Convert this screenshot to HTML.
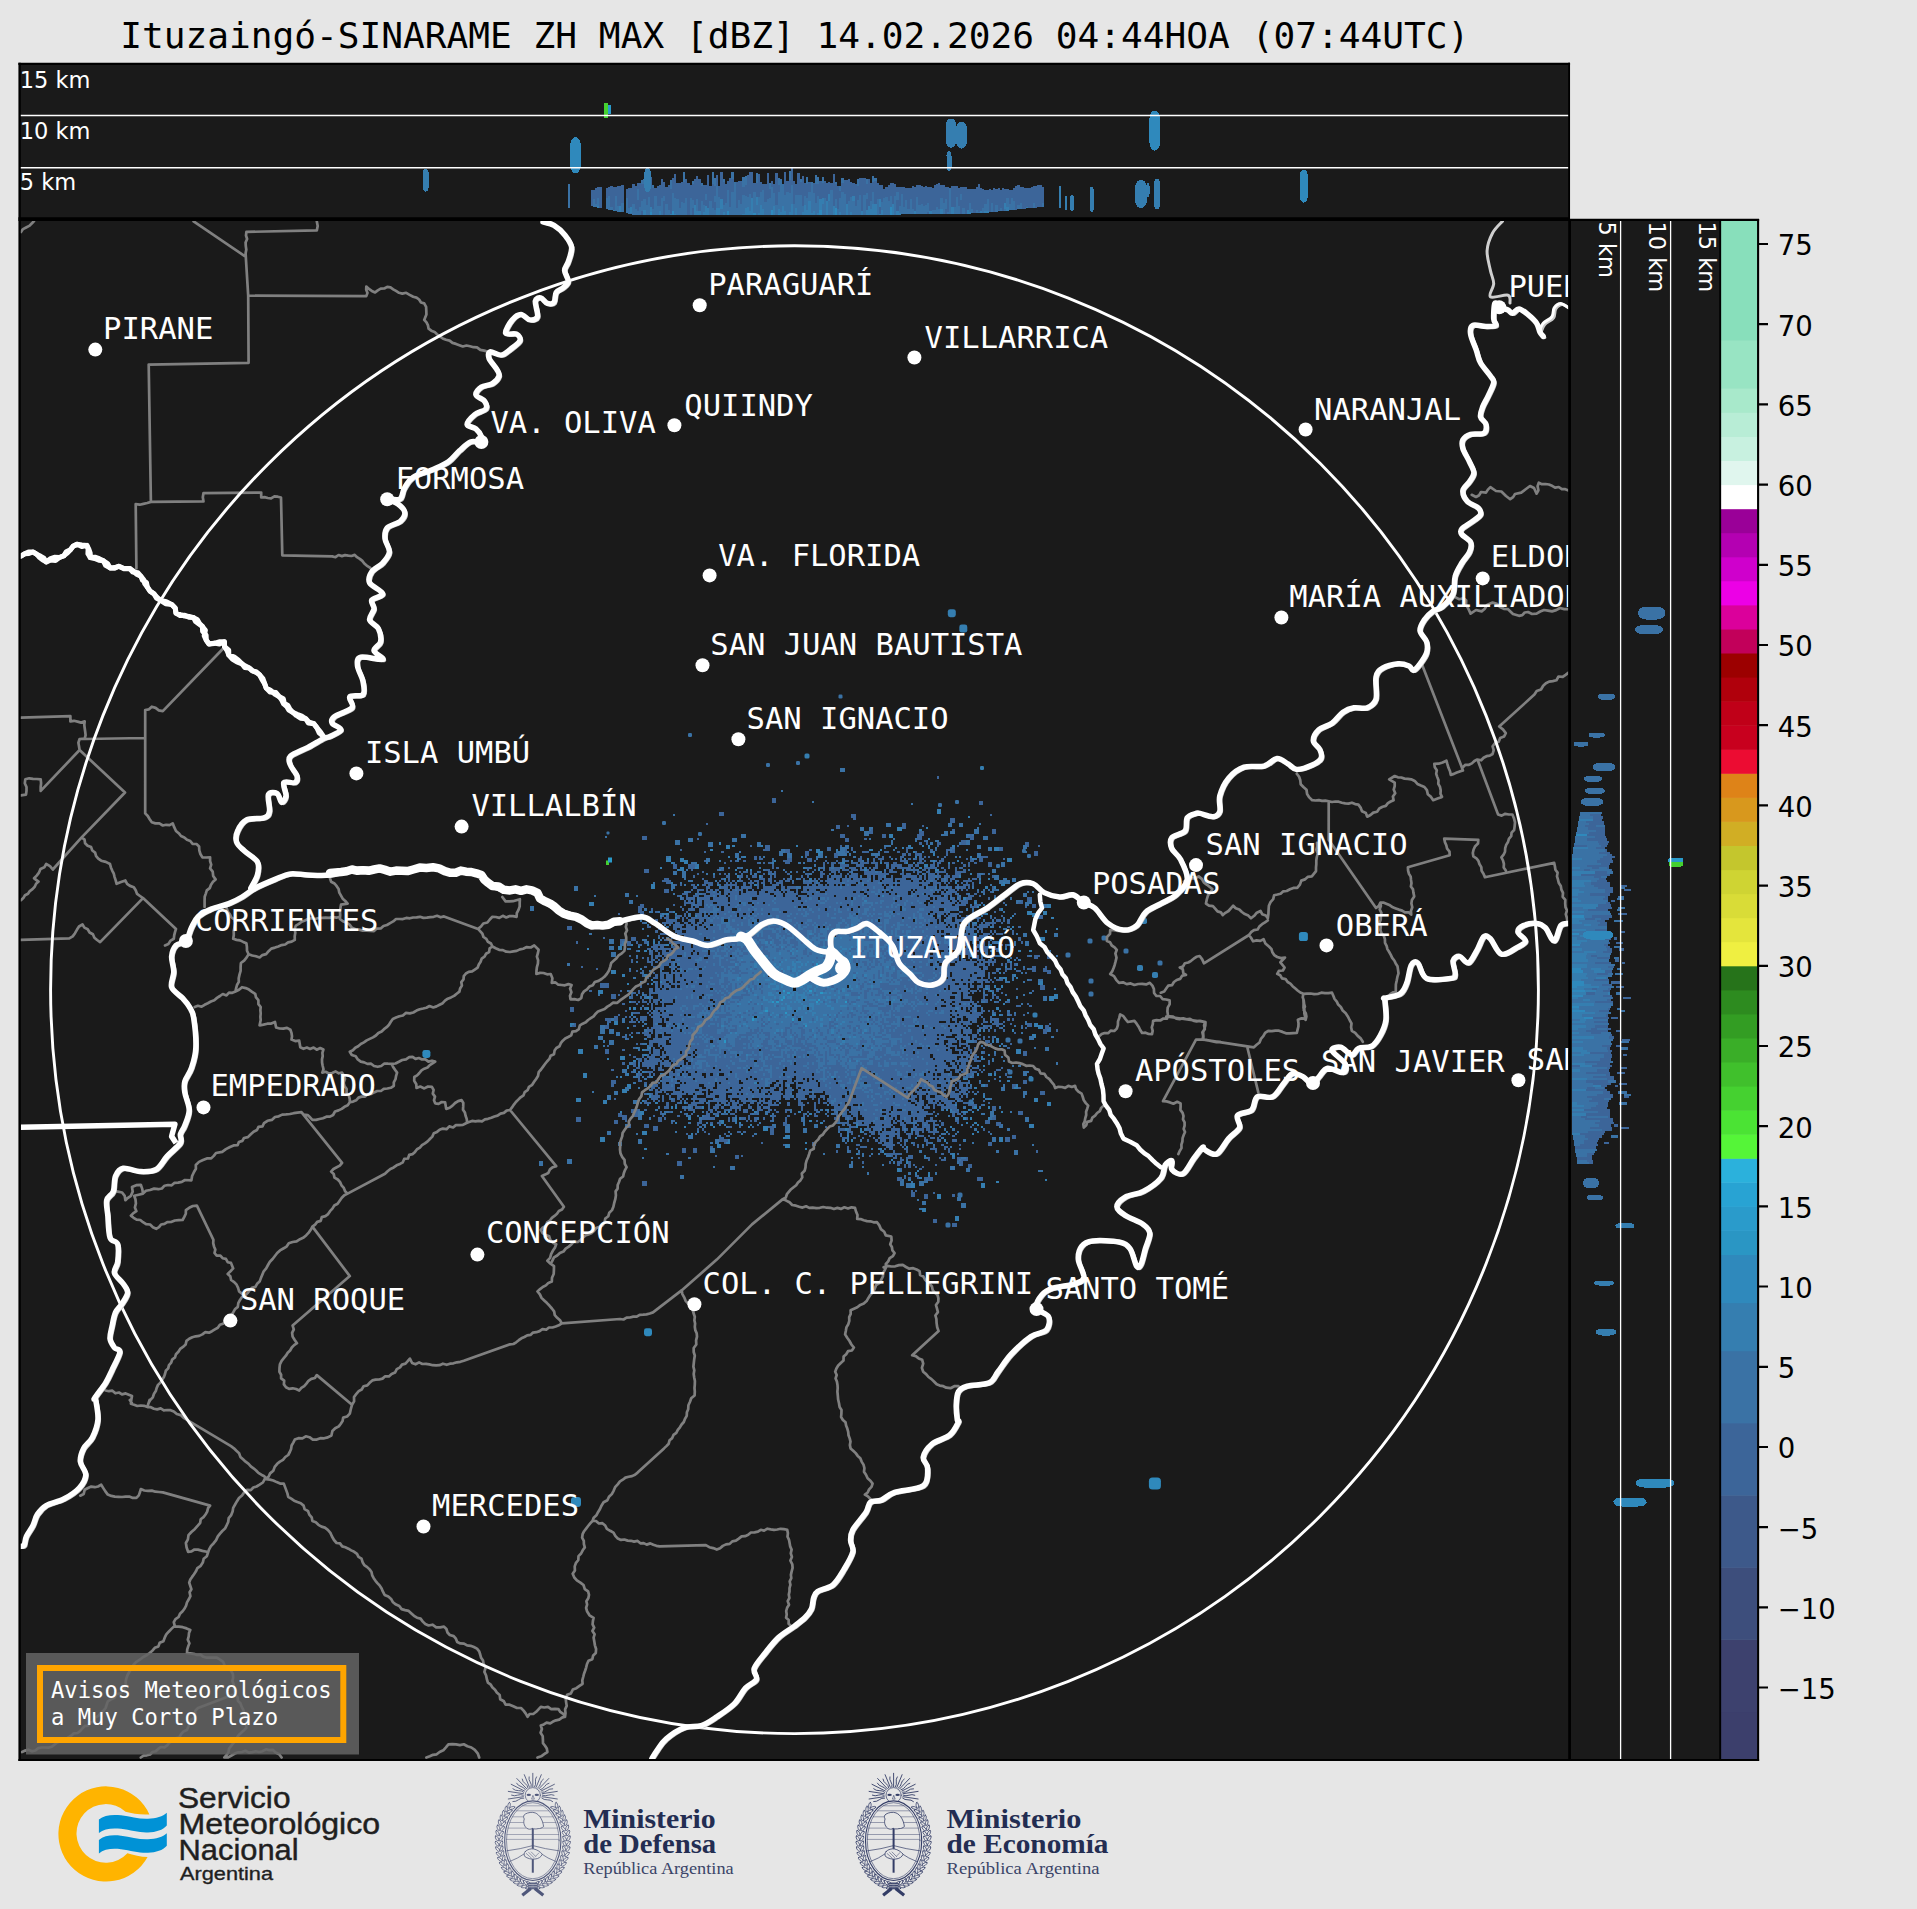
<!DOCTYPE html>
<html lang="es"><head><meta charset="utf-8"><title>Ituzaingó-SINARAME ZH MAX</title>
<style>html,body{margin:0;padding:0;background:#e6e6e6}body{width:1917px;height:1909px;overflow:hidden}svg{display:block}text{white-space:pre}</style></head><body>
<svg width="1917" height="1909" viewBox="0 0 1917 1909">
<defs><clipPath id="cm"><rect x="20" y="220" width="1548.5" height="1539"/></clipPath><clipPath id="ct"><rect x="20" y="64" width="1549" height="153"/></clipPath><clipPath id="cr"><rect x="1571" y="220" width="149" height="1539"/></clipPath></defs>
<rect width="1917" height="1909" fill="#e6e6e6"/>
<text x="120.2" y="48.1" font-family='"DejaVu Sans Mono","Liberation Mono",monospace' font-size="36.15" fill="#000">Ituzaingó-SINARAME ZH MAX [dBZ] 14.02.2026 04:44HOA (07:44UTC)</text>
<rect x="19" y="63" width="1550.5" height="157" fill="#1a1a1a"/>
<rect x="19" y="219" width="1551" height="1541" fill="#1a1a1a"/>
<rect x="1570" y="219" width="151" height="1541" fill="#1a1a1a"/>
<g clip-path="url(#ct)" shape-rendering="crispEdges">
<path d="M591.7 190.1V198.5M591.7 198.5V205.6M593.9 190.4V199.1M596.1 187.9V193.8M596.1 193.8V204.0M598.3 187.2V198.0M600.5 187.2V201.0M600.5 201.0V208.0M607.1 187.9V198.4M609.3 187.4V196.3M611.5 185.6V199.3M611.5 199.3V206.6M613.7 186.8V200.6M613.7 200.6V210.0M615.9 187.0V196.0M618.1 186.4V198.5M618.1 198.5V205.7M620.3 185.5V196.0M620.3 196.0V206.4M622.5 184.7V194.5M622.5 194.5V202.6M626.9 188.7V197.8M629.1 188.3V197.2M629.1 197.2V207.9M631.3 188.0V200.7M631.3 200.7V207.4M633.5 184.0V191.6M633.5 191.6V203.6M635.7 185.6V192.0M635.7 192.0V202.2M635.7 202.2V209.3M637.9 183.2V188.5M637.9 200.0V211.3M640.1 182.8V193.6M640.1 193.6V207.2M642.3 183.7V189.0M642.3 189.0V195.0M642.3 195.0V200.5M642.3 210.7V214.8M644.5 183.9V193.3M644.5 193.3V198.8M646.7 184.7V194.7M646.7 194.7V204.6M648.9 185.1V191.7M648.9 191.7V197.4M651.1 176.6V187.4M651.1 187.4V195.3M651.1 195.3V206.8M653.3 187.6V198.6M653.3 198.6V209.2M655.5 187.6V195.7M657.7 186.4V195.3M657.7 195.3V205.6M659.9 185.4V187.7M659.9 187.7V193.1M659.9 193.1V206.1M662.1 178.5V185.1M662.1 185.1V191.5M662.1 191.5V197.9M664.3 181.6V186.5M664.3 186.5V195.9M664.3 201.1V214.6M666.5 186.6V192.6M666.5 192.6V203.6M668.7 185.2V189.2M668.7 189.2V196.3M668.7 196.3V210.0M670.9 189.0V195.5M670.9 195.5V202.7M670.9 202.7V213.5M673.1 177.9V187.7M673.1 187.7V193.1M675.3 174.2V185.6M675.3 185.6V192.8M675.3 192.8V198.2M677.5 183.0V189.7M677.5 189.7V199.4M679.7 182.5V192.9M679.7 192.9V198.1M679.7 198.1V207.9M681.9 181.5V193.0M681.9 193.0V202.1M684.1 182.0V189.8M684.1 189.8V197.0M684.1 197.0V202.7M686.3 178.7V183.5M686.3 183.5V189.4M686.3 189.4V198.2M688.5 183.3V192.3M688.5 192.3V204.7M688.5 204.7V214.8M690.7 184.6V192.0M690.7 192.0V198.2M692.9 183.7V193.7M692.9 193.7V199.9M692.9 208.1V214.8M695.1 178.5V184.8M695.1 184.8V192.8M695.1 192.8V205.2M697.3 176.2V185.3M697.3 185.3V198.7M699.5 179.4V185.8M699.5 185.8V197.7M699.5 197.7V211.4M701.7 185.8V191.1M701.7 191.1V201.3M703.9 184.6V192.8M703.9 192.8V204.6M706.1 185.4V194.0M706.1 200.3V205.6M708.3 174.5V184.5M708.3 184.5V195.6M708.3 195.6V207.8M710.5 186.2V192.9M710.5 192.9V201.4M712.7 183.8V197.2M712.7 197.2V208.4M714.9 186.2V195.9M714.9 201.7V209.9M717.1 174.5V185.8M719.3 185.8V197.4M721.5 171.7V183.4M721.5 183.4V192.0M721.5 192.0V198.6M723.7 181.7V191.7M723.7 191.7V204.7M725.9 183.7V190.2M725.9 190.2V197.2M725.9 197.2V202.8M728.1 181.0V189.7M730.3 177.6V179.9M730.3 179.9V189.9M730.3 189.9V196.7M730.3 196.7V207.0M732.5 178.5V192.1M736.9 182.3V194.7M736.9 194.7V208.0M739.1 181.3V184.3M739.1 184.3V191.2M739.1 191.2V199.5M741.3 181.0V184.2M741.3 184.2V192.6M741.3 192.6V203.7M743.5 186.8V194.5M745.7 185.4V195.6M747.9 174.7V183.4M747.9 183.4V190.8M747.9 190.8V196.7M750.1 171.8V181.9M750.1 181.9V193.8M752.3 171.7V183.4M752.3 183.4V192.7M752.3 192.7V198.4M754.5 182.6V191.5M756.7 183.3V196.6M758.9 173.6V183.4M758.9 183.4V197.2M761.1 182.3V186.0M761.1 186.0V191.7M763.3 183.6V189.8M765.5 184.1V192.4M765.5 192.4V202.1M767.7 173.0V181.4M767.7 181.4V189.7M767.7 189.7V199.0M769.9 188.7V198.0M772.1 181.3V186.8M774.3 184.2V192.5M776.5 172.9V184.2M776.5 184.2V193.2M776.5 193.2V204.8M778.7 185.3V191.5M785.3 171.5V181.8M785.3 181.8V194.6M787.5 180.5V186.5M787.5 186.5V192.1M789.7 179.7V185.8M789.7 185.8V193.4M791.9 167.6V179.1M791.9 179.1V184.9M794.1 180.9V189.9M794.1 189.9V196.2M794.1 196.2V203.6M796.3 184.1V195.0M798.5 173.2V184.1M798.5 184.1V194.8M800.7 181.9V194.5M802.9 175.8V181.8M802.9 181.8V187.7M802.9 187.7V193.3M802.9 193.3V206.1M805.1 183.1V196.2M807.3 184.4V197.9M809.5 181.8V191.6M813.9 183.4V192.6M816.1 184.2V190.4M816.1 190.4V197.2M816.1 197.2V203.2M818.3 183.6V196.3M820.5 180.9V187.0M820.5 187.0V198.9M822.7 182.5V188.7M822.7 188.7V197.5M824.9 181.2V189.0M824.9 189.0V197.8M827.1 182.7V194.1M827.1 194.1V200.5M829.3 182.4V187.8M829.3 187.8V193.9M831.5 182.8V189.8M833.7 174.2V183.6M833.7 183.6V194.0M833.7 194.0V205.8M835.9 184.0V189.9M835.9 189.9V199.1M838.1 185.7V196.3M838.1 196.3V208.8M840.3 191.1V197.9M842.5 183.0V191.5M844.7 180.0V182.3M844.7 182.3V194.2M846.9 180.1V193.3M846.9 193.3V204.3M849.1 178.7V182.6M849.1 182.6V189.9M849.1 189.9V201.0M851.3 182.2V190.4M851.3 190.4V196.7M853.5 183.2V195.7M855.7 183.7V193.0M855.7 193.0V206.3M857.9 185.7V192.8M857.9 192.8V200.4M860.1 178.2V187.5M860.1 187.5V195.4M862.3 178.4V185.6M862.3 185.6V196.4M862.3 196.4V201.7M862.3 201.7V211.4M864.5 177.8V184.3M864.5 184.3V195.4M866.7 183.5V192.6M866.7 198.5V209.7M868.9 178.7V183.6M868.9 183.6V196.0M868.9 196.0V205.5M871.1 182.9V191.9M871.1 191.9V200.6M873.3 181.8V192.1M875.5 180.6V188.2M875.5 188.2V197.3M875.5 197.3V203.7M877.7 183.4V190.0M877.7 190.0V199.3M879.9 185.4V198.9M879.9 207.4V213.6M882.1 184.5V188.3M882.1 188.3V201.6M884.3 189.1V198.2M886.5 187.4V197.0M888.7 185.3V191.7M888.7 191.7V201.2M890.9 183.4V195.5M893.1 182.6V189.8M893.1 189.8V203.8M895.3 184.1V196.2M897.5 186.9V191.9M897.5 199.7V211.3M899.7 187.2V195.6M899.7 195.6V205.8M901.9 187.2V194.4M904.1 186.9V198.6M904.1 198.6V207.1M906.3 188.0V200.1M908.5 187.6V194.6M908.5 194.6V201.7M908.5 201.7V208.5M910.7 187.5V199.1M912.9 186.4V195.8M912.9 195.8V208.6M915.1 186.5V193.2M915.1 193.2V199.1M915.1 199.1V210.7M917.3 184.9V197.4M919.5 185.3V194.5M919.5 194.5V204.9M921.7 185.5V198.9M921.7 198.9V204.1M923.9 186.9V200.1M923.9 200.1V205.8M926.1 186.3V191.5M926.1 191.5V204.5M928.3 186.9V193.2M928.3 193.2V202.5M928.3 212.4V214.1M930.5 186.7V192.1M930.5 192.1V200.1M930.5 200.1V211.3M932.7 187.7V198.8M932.7 198.8V210.2M934.9 184.5V195.1M934.9 195.1V200.6M934.9 200.6V210.1M937.1 184.1V193.3M937.1 193.3V206.8M939.3 183.0V190.9M939.3 190.9V196.7M939.3 196.7V208.7M941.5 185.3V198.0M943.7 185.0V197.4M943.7 197.4V203.0M945.9 187.0V198.8M945.9 208.5V213.8M948.1 186.9V198.3M948.1 198.3V212.0M952.5 186.4V199.8M952.5 199.8V207.3M954.7 186.4V197.4M954.7 197.4V206.7M956.9 186.2V191.2M956.9 191.2V197.3M959.1 187.9V195.5M959.1 195.5V206.2M961.3 186.8V194.3M961.3 200.2V209.2M961.3 209.2V213.6M963.5 187.2V195.1M963.5 195.1V208.1M965.7 187.3V201.2M965.7 201.2V212.7M965.7 212.7V213.5M967.9 188.5V196.3M967.9 196.3V209.5M970.1 189.0V196.7M970.1 196.7V202.5M972.3 189.3V197.1M972.3 197.1V209.0M974.5 188.7V195.8M974.5 195.8V205.5M974.5 205.5V213.4M976.7 187.1V195.4M976.7 195.4V201.8M976.7 201.8V210.4M978.9 184.4V191.5M978.9 191.5V199.3M978.9 199.3V212.0M981.1 188.0V201.0M981.1 201.0V211.2M983.3 189.3V202.3M983.3 202.3V207.7M985.5 190.2V197.1M985.5 197.1V204.2M987.7 189.8V199.2M989.9 189.1V198.4M989.9 198.4V212.3M992.1 189.9V203.3M994.3 188.3V199.2M994.3 199.2V211.9M996.5 188.5V196.6M996.5 196.6V204.7M998.7 188.0V196.4M998.7 196.4V209.9M1000.9 189.5V194.8M1000.9 194.8V207.7M1003.1 188.4V200.2M1003.1 200.2V211.0M1005.3 188.5V197.4M1005.3 197.4V203.4M1007.5 188.9V197.6M1009.7 189.6V195.0M1009.7 195.0V204.1M1011.9 189.9V197.5M1014.1 187.5V201.1M1016.3 186.1V196.7M1016.3 196.7V207.0M1016.3 207.0V209.6M1018.5 185.2V194.0M1018.5 194.0V205.1M1020.7 187.1V192.3M1020.7 192.3V203.4M1022.9 187.3V200.5M1022.9 200.5V208.9M1025.1 188.1V194.7M1025.1 194.7V202.3M1025.1 202.3V208.6M1027.3 188.0V194.3M1027.3 194.3V206.7M1029.5 187.5V195.4M1029.5 195.4V208.2M1031.7 186.8V197.7M1031.7 197.7V207.9M1033.9 185.6V192.9M1033.9 192.9V203.2M1036.1 185.6V198.3M1036.1 198.3V207.5M1038.3 184.5V193.8M1038.3 193.8V202.1M1038.3 202.1V207.2M1040.5 184.8V198.4M1040.5 198.4V207.0M1042.7 186.6V196.9M1042.7 196.9V203.1" stroke="#3c6599" stroke-width="2.25" fill="none"/>
<path d="M593.9 199.1V205.1M593.9 205.1V206.7M596.1 204.0V207.2M598.3 198.0V206.3M607.1 198.4V209.4M609.3 196.3V209.8M611.5 206.6V210.2M615.9 196.0V208.5M615.9 208.5V211.1M618.1 205.7V211.5M622.5 202.6V211.7M622.5 211.7V212.4M626.9 197.8V211.0M626.9 211.0V213.3M629.1 207.9V213.7M631.3 213.0V214.1M633.5 203.6V212.9M633.5 212.9V214.8M635.7 209.3V214.8M637.9 188.5V200.0M637.9 211.3V214.8M640.1 207.2V214.8M642.3 180.0V183.7M642.3 200.5V210.7M644.5 178.8V183.9M644.5 198.8V210.1M646.7 204.6V211.9M646.7 211.9V214.8M648.9 179.4V185.1M648.9 197.4V208.5M648.9 208.5V214.8M653.3 184.5V187.6M653.3 209.2V214.8M655.5 195.7V204.2M655.5 204.2V214.8M657.7 205.6V214.8M659.9 206.1V211.1M662.1 197.9V210.9M662.1 210.9V214.8M664.3 195.9V201.1M664.3 214.6V214.8M666.5 203.6V214.8M668.7 210.0V214.8M670.9 179.7V189.0M673.1 193.1V203.0M673.1 203.0V211.2M675.3 198.2V205.5M675.3 205.5V214.2M677.5 199.4V205.2M677.5 205.2V214.8M679.7 207.9V214.8M681.9 202.1V214.5M684.1 172.2V182.0M684.1 202.7V209.9M684.1 209.9V214.8M686.3 198.2V208.2M686.3 208.2V214.8M690.7 198.2V203.8M690.7 203.8V214.8M692.9 181.1V183.7M692.9 199.9V208.1M697.3 198.7V210.9M701.7 183.3V185.8M701.7 201.3V209.8M701.7 209.8V214.8M703.9 204.6V211.8M706.1 194.0V200.3M710.5 201.4V209.2M710.5 209.2V214.8M712.7 172.0V183.8M712.7 208.4V214.8M714.9 178.3V186.2M714.9 195.9V201.7M714.9 209.9V214.8M717.1 185.8V197.2M717.1 197.2V208.3M719.3 197.4V207.9M721.5 209.4V215.0M723.7 178.7V181.7M723.7 204.7V211.6M725.9 202.8V215.0M728.1 189.7V202.9M728.1 202.9V210.6M730.3 207.0V215.0M732.5 171.7V178.5M732.5 192.1V202.9M732.5 202.9V215.0M734.7 181.8V191.1M734.7 191.1V197.0M734.7 197.0V202.8M734.7 202.8V209.2M734.7 209.2V215.0M736.9 208.0V215.0M739.1 199.5V211.2M739.1 211.2V215.0M741.3 203.7V215.0M743.5 177.2V186.8M743.5 194.5V202.7M743.5 202.7V214.3M745.7 176.4V185.4M745.7 195.6V208.2M747.9 196.7V206.6M750.1 193.8V202.1M750.1 202.1V211.2M754.5 191.5V201.8M754.5 201.8V212.5M756.7 172.6V183.3M756.7 205.0V215.0M758.9 197.2V206.0M758.9 206.0V213.4M761.1 191.7V204.7M763.3 189.8V203.2M763.3 203.2V208.5M765.5 202.1V215.0M767.7 199.0V206.2M767.7 206.2V215.0M769.9 182.5V188.7M769.9 198.0V209.9M769.9 209.9V215.0M772.1 186.8V196.3M772.1 196.3V204.4M772.1 204.4V209.6M774.3 192.5V205.9M776.5 204.8V215.0M778.7 177.7V185.3M778.7 191.5V201.6M778.7 201.6V208.5M780.9 179.2V184.0M780.9 184.0V195.6M780.9 195.6V203.0M780.9 203.0V211.5M783.1 183.9V192.8M783.1 192.8V205.9M785.3 194.6V200.0M785.3 200.0V211.4M787.5 192.1V197.7M787.5 197.7V206.8M787.5 206.8V215.0M789.7 171.2V179.7M789.7 193.4V198.5M789.7 198.5V211.6M791.9 184.9V193.1M791.9 193.1V203.6M794.1 203.6V215.0M796.3 195.0V207.5M798.5 194.8V205.5M798.5 205.5V215.0M800.7 178.8V181.9M800.7 194.5V208.2M800.7 208.2V215.0M802.9 206.1V211.7M805.1 196.2V204.9M807.3 177.3V184.4M807.3 197.9V209.8M809.5 191.6V200.6M811.7 182.0V190.4M811.7 190.4V201.1M811.7 201.1V213.4M813.9 192.6V201.6M813.9 201.6V211.1M816.1 174.6V184.2M816.1 203.2V215.0M818.3 177.1V183.6M818.3 196.3V202.8M818.3 202.8V213.0M822.7 177.2V182.5M822.7 203.6V214.5M822.7 214.5V215.0M824.9 197.8V210.3M824.9 210.3V215.0M829.3 200.7V207.8M829.3 207.8V215.0M831.5 189.8V197.3M831.5 197.3V207.5M831.5 207.5V215.0M835.9 181.8V184.0M835.9 199.1V208.3M838.1 208.8V215.0M840.3 185.9V191.1M840.3 197.9V203.5M840.3 203.5V211.8M842.5 178.0V183.0M842.5 191.5V198.0M842.5 198.0V209.2M842.5 209.2V215.0M844.7 194.2V205.4M844.7 205.4V215.0M849.1 201.0V210.8M849.1 210.8V215.0M851.3 196.7V203.1M851.3 203.1V211.9M853.5 201.4V207.8M853.5 207.8V215.0M855.7 206.3V215.0M857.9 179.3V185.7M857.9 200.4V210.2M857.9 210.2V215.0M860.1 195.4V208.1M860.1 208.1V215.0M864.5 195.4V201.2M864.5 201.2V208.9M864.5 208.9V214.8M866.7 179.4V183.5M866.7 192.6V198.5M871.1 200.6V209.4M873.3 176.1V181.8M873.3 192.1V203.7M875.5 177.8V180.6M877.7 199.3V205.3M877.7 205.3V214.8M882.1 201.6V210.3M884.3 198.2V210.6M884.3 210.6V214.7M886.5 197.0V210.1M886.5 210.1V214.7M888.7 201.2V208.7M888.7 208.7V214.6M890.9 195.5V200.8M890.9 200.8V206.9M895.3 196.2V203.5M895.3 203.5V209.1M895.3 209.1V214.5M897.5 191.9V199.7M899.7 205.8V213.1M901.9 194.4V202.7M901.9 202.7V214.4M904.1 207.1V214.4M906.3 200.1V207.8M906.3 207.8V214.4M908.5 208.5V214.3M910.7 199.1V205.2M910.7 205.2V214.3M912.9 208.6V214.3M917.3 197.4V207.9M917.3 207.9V214.2M919.5 204.9V213.9M921.7 204.1V209.3M921.7 209.3V214.1M923.9 205.8V214.1M926.1 204.5V213.5M928.3 202.5V212.4M932.7 210.2V214.0M934.9 210.1V214.0M937.1 206.8V213.9M939.3 208.7V213.9M941.5 198.0V208.6M943.7 203.0V213.8M945.9 198.8V208.5M948.1 212.0V213.8M950.3 188.0V198.1M950.3 198.1V206.0M950.3 206.0V213.7M954.7 206.7V213.7M956.9 197.3V209.2M956.9 209.2V213.6M959.1 206.2V213.6M961.3 194.3V200.2M963.5 208.1V213.6M970.1 202.5V211.5M972.3 209.0V213.4M976.7 210.4V213.4M978.9 212.0V213.3M983.3 207.7V213.1M985.5 204.2V210.8M987.7 199.2V211.3M992.1 203.3V212.1M996.5 204.7V211.7M998.7 209.9V211.4M1000.9 207.7V211.2M1005.3 208.7V210.7M1007.5 197.6V207.0M1009.7 204.1V210.3M1011.9 197.5V207.1M1011.9 207.1V210.0M1014.1 201.1V209.8M1018.5 205.1V209.3M1020.7 203.4V209.1M1033.9 203.2V207.7M1042.7 203.1V206.8" stroke="#3a72a5" stroke-width="2.25" fill="none"/>
<path d="M591.7 205.6V206.3M598.3 206.3V207.6M613.7 210.0V210.7M620.3 206.4V212.0M631.3 207.4V213.0M640.1 214.8V214.8M644.5 210.1V214.8M651.1 206.8V212.3M659.9 211.1V214.8M670.9 213.5V214.8M675.3 214.2V214.8M681.9 214.5V214.8M695.1 205.2V214.8M697.3 210.9V214.8M699.5 211.4V214.8M703.9 211.8V214.8M706.1 205.6V212.2M706.1 212.2V214.8M708.3 207.8V214.8M717.1 208.3V214.8M719.3 207.9V214.8M721.5 198.6V209.4M723.7 211.6V215.0M743.5 214.3V215.0M745.7 208.2V215.0M747.9 206.6V215.0M750.1 211.2V215.0M752.3 198.4V209.6M752.3 209.6V215.0M756.7 196.6V205.0M758.9 213.4V215.0M761.1 204.7V211.4M761.1 211.4V215.0M763.3 208.5V215.0M774.3 205.9V215.0M778.7 208.5V214.3M780.9 211.5V215.0M783.1 205.9V211.4M783.1 211.4V215.0M785.3 211.4V215.0M789.7 211.6V215.0M791.9 203.6V214.5M796.3 207.5V215.0M802.9 211.7V215.0M805.1 204.9V212.0M805.1 212.0V215.0M807.3 209.8V215.0M809.5 200.6V214.3M809.5 214.3V215.0M811.7 213.4V215.0M813.9 211.1V215.0M818.3 213.0V215.0M820.5 198.9V209.6M822.7 197.5V203.6M827.1 200.5V210.0M827.1 210.0V215.0M829.3 193.9V200.7M833.7 205.8V211.3M833.7 211.3V215.0M840.3 211.8V215.0M846.9 204.3V215.0M851.3 211.9V215.0M853.5 195.7V201.4M862.3 211.4V215.0M864.5 214.8V215.0M866.7 209.7V215.0M868.9 205.5V215.0M871.1 209.4V215.0M873.3 203.7V209.0M873.3 209.0V215.0M875.5 203.7V213.3M875.5 213.3V215.0M879.9 198.9V207.4M879.9 213.6V214.7M882.1 210.3V214.7M893.1 203.8V214.6M897.5 211.3V214.5M899.7 213.1V214.5M915.1 210.7V214.2M919.5 213.9V214.2M926.1 213.5V214.1M930.5 211.3V214.0M941.5 208.6V213.9M952.5 207.3V213.7M967.9 209.5V213.5M970.1 211.5V213.5M981.1 211.2V213.3M985.5 210.8V212.8M987.7 211.3V212.6M989.9 212.3V212.4M1005.3 203.4V208.7M1007.5 207.0V210.5M1027.3 206.7V208.4" stroke="#357eb0" stroke-width="2.25" fill="none"/>
<path d="M651.1 212.3V214.8M673.1 211.2V214.8M728.1 210.6V215.0M754.5 212.5V215.0M772.1 209.6V215.0M778.7 214.3V215.0M791.9 214.5V215.0M820.5 209.6V215.0M835.9 208.3V215.0M890.9 206.9V214.6" stroke="#2f89bc" stroke-width="2.25" fill="none"/>
<rect x="422.7" y="168.7" width="6.0" height="23.0" rx="2.7" ry="5.4" fill="#357eb0"/>
<rect x="570.0" y="137.2" width="11.0" height="36.0" rx="5.0" ry="9.9" fill="#2f89bc"/>
<rect x="567.5" y="183.5" width="2.5" height="25.0" rx="1.1" ry="2.2" fill="#3a72a5"/>
<rect x="644.2" y="168.0" width="7.0" height="24.0" rx="3.1" ry="6.3" fill="#357eb0"/>
<rect x="945.5" y="118.5" width="11.0" height="29.0" rx="5.0" ry="8.7" fill="#357eb0"/>
<rect x="956.0" y="121.5" width="11.0" height="27.0" rx="5.0" ry="8.1" fill="#357eb0"/>
<rect x="946.5" y="151.0" width="5.0" height="20.0" rx="2.2" ry="4.5" fill="#357eb0"/>
<rect x="1149.3" y="110.5" width="11.0" height="40.0" rx="5.0" ry="9.9" fill="#2f89bc"/>
<rect x="1299.5" y="169.5" width="8.5" height="33.0" rx="3.8" ry="7.7" fill="#2f89bc"/>
<rect x="1058.8" y="186.0" width="2.5" height="22.0" rx="1.1" ry="2.2" fill="#357eb0"/>
<rect x="1064.8" y="196.0" width="2.5" height="14.0" rx="1.1" ry="2.2" fill="#357eb0"/>
<rect x="1070.0" y="195.0" width="4.0" height="16.0" rx="1.8" ry="3.6" fill="#357eb0"/>
<rect x="1089.7" y="186.8" width="4.0" height="25.0" rx="1.8" ry="3.6" fill="#357eb0"/>
<rect x="1135.0" y="180.0" width="12.0" height="28.0" rx="5.4" ry="8.4" fill="#357eb0"/>
<rect x="1154.0" y="178.5" width="6.0" height="31.0" rx="2.7" ry="5.4" fill="#357eb0"/>
<rect x="1146.5" y="183.0" width="3.0" height="14.0" rx="1.4" ry="2.7" fill="#357eb0"/>
<rect x="603.5" y="102.5" width="4" height="15" fill="#45d130"/><rect x="607.5" y="105" width="3" height="9" fill="#2a9bcb"/>
</g>
<path d="M20 115.5H1569M20 167.7H1569" stroke="#fff" stroke-width="1.4"/>
<text x="19.8" y="88.0" font-family='"DejaVu Sans","Liberation Sans",sans-serif' font-size="22.5" fill="#fff">15 km</text>
<text x="19.8" y="138.9" font-family='"DejaVu Sans","Liberation Sans",sans-serif' font-size="22.5" fill="#fff">10 km</text>
<text x="19.8" y="189.8" font-family='"DejaVu Sans","Liberation Sans",sans-serif' font-size="22.5" fill="#fff">5 km</text>
<g clip-path="url(#cm)">
<g shape-rendering="crispEdges">
<path d="M937.0 777.5h2.2M772.0 799.5h4.4M772.0 801.7h4.4M978.8 801.7h4.4M978.8 803.9h4.4M719.2 812.7h4.4M719.2 814.9h4.4M851.2 814.9h4.4M989.8 814.9h2.2M851.2 817.1h4.4M853.4 819.3h2.2M950.2 819.3h4.4M950.2 821.5h4.4M706.0 823.7h2.2M901.8 823.7h4.4M835.8 825.9h4.4M846.8 825.9h2.2M901.8 825.9h4.4M921.6 825.9h2.2M835.8 828.1h4.4M901.8 828.1h4.4M871.0 830.3h2.2M952.4 830.3h2.2M992.0 830.3h4.4M868.8 832.5h4.4M919.4 832.5h4.4M992.0 832.5h4.4M840.2 834.7h4.4M882.0 834.7h4.4M917.2 834.7h6.6M970.0 834.7h2.2M642.2 836.9h4.4M840.2 836.9h4.4M882.0 836.9h4.4M917.2 836.9h4.4M967.8 836.9h6.6M642.2 839.1h4.4M697.2 839.1h2.2M844.6 839.1h4.4M864.4 839.1h2.2M917.2 839.1h4.4M970.0 839.1h4.4M844.6 841.3h4.4M923.8 841.3h2.2M961.2 841.3h4.4M919.4 843.5h2.2M926.0 843.5h2.2M937.0 843.5h4.4M961.2 843.5h4.4M1025.0 843.5h4.4M750.0 845.7h2.2M765.4 845.7h4.4M840.2 845.7h2.2M937.0 845.7h2.2M956.8 845.7h2.2M1027.2 845.7h2.2M1038.2 845.7h2.2M765.4 847.9h4.4M827.0 847.9h4.4M851.2 847.9h2.2M884.2 847.9h2.2M906.2 847.9h2.2M950.2 847.9h2.2M998.6 847.9h4.4M679.6 850.1h2.2M763.2 850.1h6.6M785.2 850.1h4.4M809.4 850.1h2.2M827.0 850.1h4.4M844.6 850.1h2.2M851.2 850.1h2.2M906.2 850.1h2.2M930.4 850.1h2.2M934.8 850.1h2.2M945.8 850.1h4.4M952.4 850.1h2.2M998.6 850.1h4.4M703.8 852.3h2.2M721.4 852.3h2.2M785.2 852.3h4.4M805.0 852.3h4.4M844.6 852.3h2.2M862.2 852.3h6.6M877.6 852.3h2.2M884.2 852.3h4.4M897.4 852.3h2.2M906.2 852.3h2.2M915.0 852.3h2.2M945.8 852.3h2.2M950.2 852.3h4.4M1033.8 852.3h4.4M805.0 854.5h4.4M833.6 854.5h4.4M901.8 854.5h4.4M908.4 854.5h2.2M915.0 854.5h6.6M945.8 854.5h2.2M1033.8 854.5h4.4M754.4 856.7h2.2M758.8 856.7h2.2M805.0 856.7h2.2M833.6 856.7h4.4M860.0 856.7h2.2M875.4 856.7h2.2M882.0 856.7h2.2M888.6 856.7h2.2M899.6 856.7h4.4M919.4 856.7h2.2M923.8 856.7h2.2M928.2 856.7h2.2M937.0 856.7h2.2M943.6 856.7h2.2M981.0 856.7h6.6M739.0 858.9h2.2M754.4 858.9h2.2M758.8 858.9h4.4M787.4 858.9h4.4M807.2 858.9h4.4M857.8 858.9h4.4M873.2 858.9h2.2M877.6 858.9h6.6M895.2 858.9h2.2M899.6 858.9h2.2M908.4 858.9h2.2M915.0 858.9h2.2M919.4 858.9h4.4M941.4 858.9h2.2M965.6 858.9h2.2M970.0 858.9h2.2M978.8 858.9h4.4M1003.0 858.9h2.2M703.8 861.1h2.2M730.2 861.1h2.2M734.6 861.1h2.2M743.4 861.1h2.2M772.0 861.1h2.2M783.0 861.1h8.8M807.2 861.1h4.4M813.8 861.1h2.2M824.8 861.1h2.2M835.8 861.1h2.2M844.6 861.1h4.4M857.8 861.1h4.4M866.6 861.1h2.2M873.2 861.1h2.2M879.8 861.1h2.2M899.6 861.1h8.8M919.4 861.1h2.2M923.8 861.1h2.2M934.8 861.1h2.2M939.2 861.1h4.4M970.0 861.1h4.4M978.8 861.1h4.4M723.6 863.3h2.2M756.6 863.3h2.2M763.2 863.3h2.2M767.6 863.3h4.4M785.2 863.3h4.4M822.6 863.3h2.2M827.0 863.3h2.2M831.4 863.3h4.4M838.0 863.3h2.2M851.2 863.3h6.6M860.0 863.3h8.8M871.0 863.3h6.6M884.2 863.3h4.4M893.0 863.3h4.4M904.0 863.3h2.2M917.2 863.3h6.6M932.6 863.3h2.2M937.0 863.3h4.4M952.4 863.3h2.2M961.2 863.3h2.2M967.8 863.3h2.2M974.4 863.3h2.2M987.6 863.3h4.4M673.0 865.5h4.4M688.4 865.5h6.6M772.0 865.5h2.2M822.6 865.5h2.2M831.4 865.5h2.2M840.2 865.5h8.8M855.6 865.5h8.8M875.4 865.5h2.2M890.8 865.5h11.0M908.4 865.5h4.4M915.0 865.5h4.4M930.4 865.5h4.4M937.0 865.5h2.2M948.0 865.5h2.2M963.4 865.5h2.2M967.8 865.5h2.2M987.6 865.5h4.4M673.0 867.7h4.4M688.4 867.7h6.6M719.2 867.7h2.2M728.0 867.7h2.2M739.0 867.7h2.2M772.0 867.7h2.2M776.4 867.7h2.2M807.2 867.7h2.2M820.4 867.7h2.2M829.2 867.7h2.2M833.6 867.7h6.6M842.4 867.7h2.2M849.0 867.7h6.6M860.0 867.7h2.2M868.8 867.7h2.2M873.2 867.7h4.4M886.4 867.7h2.2M890.8 867.7h4.4M897.4 867.7h13.2M912.8 867.7h2.2M923.8 867.7h13.2M941.4 867.7h2.2M948.0 867.7h2.2M954.6 867.7h2.2M959.0 867.7h4.4M644.4 869.9h4.4M690.6 869.9h2.2M717.0 869.9h2.2M721.4 869.9h2.2M765.4 869.9h4.4M807.2 869.9h2.2M813.8 869.9h2.2M822.6 869.9h2.2M829.2 869.9h11.0M842.4 869.9h6.6M851.2 869.9h6.6M860.0 869.9h4.4M866.6 869.9h2.2M871.0 869.9h4.4M888.6 869.9h4.4M906.2 869.9h4.4M912.8 869.9h4.4M921.6 869.9h4.4M928.2 869.9h2.2M943.6 869.9h2.2M954.6 869.9h2.2M963.4 869.9h2.2M644.4 872.1h4.4M701.6 872.1h2.2M739.0 872.1h2.2M743.4 872.1h4.4M750.0 872.1h2.2M758.8 872.1h2.2M767.6 872.1h4.4M774.2 872.1h2.2M785.2 872.1h2.2M796.2 872.1h2.2M811.6 872.1h2.2M820.4 872.1h2.2M831.4 872.1h4.4M838.0 872.1h2.2M849.0 872.1h2.2M864.4 872.1h11.0M877.6 872.1h2.2M884.2 872.1h2.2M888.6 872.1h8.8M901.8 872.1h2.2M912.8 872.1h2.2M917.2 872.1h4.4M926.0 872.1h4.4M937.0 872.1h8.8M954.6 872.1h11.0M697.2 874.3h2.2M719.2 874.3h2.2M723.6 874.3h2.2M741.2 874.3h2.2M763.2 874.3h2.2M769.8 874.3h2.2M774.2 874.3h2.2M787.4 874.3h2.2M805.0 874.3h4.4M820.4 874.3h4.4M833.6 874.3h2.2M840.2 874.3h2.2M846.8 874.3h2.2M851.2 874.3h6.6M864.4 874.3h24.2M899.6 874.3h4.4M906.2 874.3h4.4M917.2 874.3h2.2M923.8 874.3h2.2M928.2 874.3h6.6M937.0 874.3h2.2M945.8 874.3h2.2M954.6 874.3h6.6M976.6 874.3h2.2M983.2 874.3h2.2M692.8 876.5h2.2M712.6 876.5h2.2M725.8 876.5h4.4M739.0 876.5h4.4M745.6 876.5h2.2M752.2 876.5h4.4M761.0 876.5h2.2M769.8 876.5h2.2M774.2 876.5h2.2M800.6 876.5h2.2M807.2 876.5h2.2M820.4 876.5h2.2M827.0 876.5h2.2M831.4 876.5h11.0M844.6 876.5h2.2M849.0 876.5h8.8M866.6 876.5h4.4M873.2 876.5h2.2M877.6 876.5h6.6M890.8 876.5h2.2M901.8 876.5h15.4M919.4 876.5h2.2M923.8 876.5h2.2M928.2 876.5h6.6M937.0 876.5h4.4M943.6 876.5h6.6M952.4 876.5h6.6M976.6 876.5h4.4M992.0 876.5h2.2M664.2 878.7h4.4M701.6 878.7h2.2M721.4 878.7h2.2M728.0 878.7h2.2M739.0 878.7h2.2M747.8 878.7h2.2M758.8 878.7h6.6M767.6 878.7h4.4M783.0 878.7h2.2M787.4 878.7h4.4M798.4 878.7h2.2M802.8 878.7h2.2M813.8 878.7h2.2M818.2 878.7h2.2M827.0 878.7h6.6M835.8 878.7h4.4M842.4 878.7h8.8M853.4 878.7h15.4M873.2 878.7h2.2M877.6 878.7h4.4M884.2 878.7h8.8M895.2 878.7h11.0M910.6 878.7h11.0M923.8 878.7h2.2M928.2 878.7h6.6M937.0 878.7h2.2M941.4 878.7h2.2M945.8 878.7h2.2M950.2 878.7h4.4M967.8 878.7h2.2M972.2 878.7h4.4M662.0 880.9h8.8M703.8 880.9h4.4M719.2 880.9h2.2M723.6 880.9h2.2M728.0 880.9h2.2M732.4 880.9h2.2M739.0 880.9h4.4M750.0 880.9h2.2M754.4 880.9h4.4M763.2 880.9h2.2M767.6 880.9h4.4M774.2 880.9h2.2M778.6 880.9h4.4M785.2 880.9h4.4M805.0 880.9h4.4M811.6 880.9h4.4M820.4 880.9h2.2M824.8 880.9h15.4M842.4 880.9h4.4M849.0 880.9h11.0M862.2 880.9h4.4M868.8 880.9h2.2M873.2 880.9h6.6M882.0 880.9h11.0M895.2 880.9h2.2M899.6 880.9h11.0M912.8 880.9h6.6M921.6 880.9h2.2M926.0 880.9h4.4M932.6 880.9h4.4M941.4 880.9h2.2M945.8 880.9h2.2M950.2 880.9h2.2M956.8 880.9h2.2M963.4 880.9h8.8M978.8 880.9h2.2M666.4 883.1h4.4M703.8 883.1h8.8M717.0 883.1h2.2M725.8 883.1h2.2M730.2 883.1h2.2M734.6 883.1h2.2M743.4 883.1h2.2M747.8 883.1h6.6M756.6 883.1h2.2M761.0 883.1h4.4M769.8 883.1h2.2M776.4 883.1h6.6M791.8 883.1h2.2M802.8 883.1h8.8M813.8 883.1h2.2M818.2 883.1h2.2M827.0 883.1h15.4M844.6 883.1h11.0M860.0 883.1h2.2M864.4 883.1h13.2M882.0 883.1h13.2M897.4 883.1h33.0M932.6 883.1h8.8M943.6 883.1h2.2M948.0 883.1h2.2M961.2 883.1h2.2M965.6 883.1h2.2M972.2 883.1h2.2M675.2 885.3h2.2M679.6 885.3h2.2M690.6 885.3h4.4M701.6 885.3h4.4M708.2 885.3h4.4M719.2 885.3h2.2M723.6 885.3h13.2M743.4 885.3h2.2M750.0 885.3h2.2M756.6 885.3h2.2M772.0 885.3h6.6M780.8 885.3h2.2M807.2 885.3h2.2M811.6 885.3h4.4M818.2 885.3h4.4M824.8 885.3h2.2M829.2 885.3h4.4M835.8 885.3h2.2M840.2 885.3h2.2M844.6 885.3h2.2M849.0 885.3h2.2M855.6 885.3h6.6M866.6 885.3h15.4M884.2 885.3h2.2M888.6 885.3h4.4M895.2 885.3h2.2M899.6 885.3h19.8M921.6 885.3h6.6M932.6 885.3h4.4M939.2 885.3h2.2M945.8 885.3h2.2M956.8 885.3h2.2M963.4 885.3h6.6M972.2 885.3h2.2M692.8 887.5h4.4M706.0 887.5h4.4M721.4 887.5h6.6M730.2 887.5h2.2M734.6 887.5h4.4M741.2 887.5h11.0M756.6 887.5h2.2M763.2 887.5h13.2M780.8 887.5h4.4M787.4 887.5h8.8M802.8 887.5h37.4M842.4 887.5h30.8M875.4 887.5h8.8M886.4 887.5h4.4M893.0 887.5h30.8M928.2 887.5h6.6M939.2 887.5h6.6M948.0 887.5h4.4M954.6 887.5h2.2M959.0 887.5h6.6M967.8 887.5h2.2M992.0 887.5h2.2M664.2 889.7h4.4M690.6 889.7h2.2M697.2 889.7h6.6M706.0 889.7h2.2M710.4 889.7h2.2M714.8 889.7h4.4M723.6 889.7h6.6M732.4 889.7h2.2M736.8 889.7h6.6M745.6 889.7h2.2M752.2 889.7h2.2M761.0 889.7h13.2M776.4 889.7h2.2M783.0 889.7h6.6M796.2 889.7h2.2M802.8 889.7h4.4M809.4 889.7h6.6M820.4 889.7h4.4M827.0 889.7h35.2M864.4 889.7h2.2M868.8 889.7h8.8M879.8 889.7h2.2M884.2 889.7h2.2M888.6 889.7h2.2M893.0 889.7h17.6M912.8 889.7h2.2M917.2 889.7h13.2M932.6 889.7h2.2M937.0 889.7h4.4M943.6 889.7h2.2M948.0 889.7h6.6M956.8 889.7h2.2M961.2 889.7h2.2M965.6 889.7h2.2M994.2 889.7h2.2M664.2 891.9h4.4M688.4 891.9h2.2M697.2 891.9h2.2M706.0 891.9h6.6M714.8 891.9h2.2M723.6 891.9h15.4M741.2 891.9h2.2M745.6 891.9h11.0M758.8 891.9h6.6M767.6 891.9h13.2M783.0 891.9h2.2M787.4 891.9h6.6M796.2 891.9h2.2M800.6 891.9h15.4M818.2 891.9h2.2M824.8 891.9h28.6M855.6 891.9h4.4M864.4 891.9h6.6M875.4 891.9h2.2M879.8 891.9h2.2M884.2 891.9h2.2M888.6 891.9h19.8M910.6 891.9h2.2M915.0 891.9h19.8M937.0 891.9h2.2M941.4 891.9h2.2M948.0 891.9h8.8M976.6 891.9h2.2M983.2 891.9h2.2M989.8 891.9h2.2M681.8 894.1h6.6M697.2 894.1h2.2M701.6 894.1h4.4M710.4 894.1h11.0M723.6 894.1h4.4M730.2 894.1h8.8M741.2 894.1h15.4M758.8 894.1h11.0M774.2 894.1h8.8M785.2 894.1h13.2M807.2 894.1h4.4M813.8 894.1h11.0M827.0 894.1h37.4M866.6 894.1h8.8M877.6 894.1h11.0M890.8 894.1h4.4M897.4 894.1h11.0M910.6 894.1h2.2M915.0 894.1h6.6M926.0 894.1h6.6M941.4 894.1h11.0M954.6 894.1h2.2M965.6 894.1h2.2M974.4 894.1h2.2M677.4 896.3h2.2M686.2 896.3h2.2M692.8 896.3h6.6M703.8 896.3h8.8M714.8 896.3h2.2M719.2 896.3h6.6M728.0 896.3h6.6M736.8 896.3h37.4M776.4 896.3h6.6M785.2 896.3h11.0M798.4 896.3h8.8M809.4 896.3h24.2M835.8 896.3h22.0M860.0 896.3h4.4M868.8 896.3h8.8M879.8 896.3h2.2M884.2 896.3h13.2M899.6 896.3h11.0M912.8 896.3h4.4M919.4 896.3h8.8M930.4 896.3h11.0M945.8 896.3h2.2M950.2 896.3h2.2M956.8 896.3h2.2M967.8 896.3h6.6M978.8 896.3h2.2M994.2 896.3h2.2M681.8 898.5h2.2M686.2 898.5h8.8M699.4 898.5h11.0M712.6 898.5h15.4M730.2 898.5h4.4M736.8 898.5h13.2M756.6 898.5h17.6M776.4 898.5h22.0M800.6 898.5h8.8M811.6 898.5h6.6M824.8 898.5h2.2M829.2 898.5h15.4M846.8 898.5h4.4M855.6 898.5h6.6M864.4 898.5h28.6M895.2 898.5h4.4M901.8 898.5h28.6M932.6 898.5h2.2M937.0 898.5h11.0M952.4 898.5h2.2M959.0 898.5h2.2M965.6 898.5h6.6M987.6 898.5h2.2M998.6 898.5h2.2M1027.2 898.5h4.4M684.0 900.7h2.2M688.4 900.7h2.2M692.8 900.7h2.2M699.4 900.7h2.2M703.8 900.7h24.2M730.2 900.7h8.8M741.2 900.7h30.8M774.2 900.7h17.6M794.0 900.7h11.0M807.2 900.7h11.0M820.4 900.7h4.4M827.0 900.7h24.2M853.4 900.7h11.0M866.6 900.7h13.2M884.2 900.7h11.0M897.4 900.7h8.8M908.4 900.7h8.8M919.4 900.7h6.6M930.4 900.7h19.8M952.4 900.7h4.4M959.0 900.7h8.8M1020.6 900.7h2.2M1027.2 900.7h2.2M684.0 902.9h11.0M697.2 902.9h4.4M703.8 902.9h8.8M717.0 902.9h22.0M745.6 902.9h2.2M754.4 902.9h2.2M758.8 902.9h4.4M765.4 902.9h8.8M776.4 902.9h24.2M802.8 902.9h17.6M824.8 902.9h11.0M838.0 902.9h2.2M842.4 902.9h8.8M853.4 902.9h8.8M873.2 902.9h2.2M877.6 902.9h2.2M882.0 902.9h11.0M895.2 902.9h8.8M906.2 902.9h4.4M912.8 902.9h6.6M921.6 902.9h2.2M928.2 902.9h2.2M932.6 902.9h8.8M943.6 902.9h11.0M956.8 902.9h2.2M961.2 902.9h6.6M981.0 902.9h2.2M1003.0 902.9h2.2M1018.4 902.9h4.4M640.0 905.1h4.4M673.0 905.1h2.2M684.0 905.1h2.2M690.6 905.1h2.2M695.0 905.1h6.6M703.8 905.1h2.2M708.2 905.1h2.2M712.6 905.1h15.4M730.2 905.1h6.6M739.0 905.1h4.4M745.6 905.1h6.6M754.4 905.1h13.2M769.8 905.1h46.2M818.2 905.1h28.6M849.0 905.1h2.2M853.4 905.1h8.8M864.4 905.1h6.6M873.2 905.1h17.6M893.0 905.1h4.4M899.6 905.1h4.4M906.2 905.1h19.8M928.2 905.1h24.2M954.6 905.1h11.0M974.4 905.1h4.4M987.6 905.1h2.2M1031.6 905.1h4.4M637.8 907.3h6.6M679.6 907.3h2.2M690.6 907.3h2.2M695.0 907.3h4.4M703.8 907.3h4.4M710.4 907.3h2.2M714.8 907.3h2.2M719.2 907.3h2.2M723.6 907.3h11.0M736.8 907.3h15.4M754.4 907.3h39.6M796.2 907.3h2.2M800.6 907.3h2.2M809.4 907.3h19.8M831.4 907.3h8.8M842.4 907.3h15.4M860.0 907.3h8.8M871.0 907.3h8.8M882.0 907.3h4.4M888.6 907.3h2.2M893.0 907.3h2.2M897.4 907.3h2.2M904.0 907.3h6.6M915.0 907.3h17.6M934.8 907.3h24.2M970.0 907.3h6.6M985.4 907.3h2.2M1025.0 907.3h2.2M1031.6 907.3h4.4M637.8 909.5h4.4M651.0 909.5h2.2M681.8 909.5h2.2M688.4 909.5h6.6M699.4 909.5h13.2M719.2 909.5h2.2M723.6 909.5h8.8M736.8 909.5h2.2M741.2 909.5h6.6M750.0 909.5h4.4M756.6 909.5h4.4M763.2 909.5h8.8M778.6 909.5h19.8M800.6 909.5h2.2M805.0 909.5h4.4M811.6 909.5h6.6M820.4 909.5h4.4M827.0 909.5h6.6M835.8 909.5h2.2M840.2 909.5h6.6M849.0 909.5h2.2M853.4 909.5h4.4M860.0 909.5h4.4M868.8 909.5h4.4M875.4 909.5h24.2M906.2 909.5h13.2M923.8 909.5h15.4M945.8 909.5h11.0M983.2 909.5h2.2M987.6 909.5h2.2M998.6 909.5h2.2M637.8 911.7h6.6M655.4 911.7h2.2M668.6 911.7h4.4M686.2 911.7h2.2M699.4 911.7h4.4M706.0 911.7h4.4M717.0 911.7h11.0M730.2 911.7h2.2M734.6 911.7h17.6M754.4 911.7h24.2M780.8 911.7h2.2M787.4 911.7h17.6M807.2 911.7h4.4M813.8 911.7h24.2M842.4 911.7h15.4M860.0 911.7h4.4M866.6 911.7h17.6M886.4 911.7h2.2M895.2 911.7h22.0M919.4 911.7h11.0M932.6 911.7h15.4M959.0 911.7h4.4M972.2 911.7h2.2M978.8 911.7h2.2M994.2 911.7h2.2M618.0 913.9h2.2M640.0 913.9h4.4M659.8 913.9h2.2M684.0 913.9h2.2M695.0 913.9h6.6M703.8 913.9h2.2M708.2 913.9h2.2M712.6 913.9h4.4M719.2 913.9h4.4M725.8 913.9h11.0M739.0 913.9h4.4M745.6 913.9h4.4M754.4 913.9h2.2M758.8 913.9h2.2M763.2 913.9h4.4M769.8 913.9h19.8M791.8 913.9h4.4M798.4 913.9h2.2M802.8 913.9h2.2M809.4 913.9h17.6M829.2 913.9h4.4M835.8 913.9h13.2M851.2 913.9h2.2M857.8 913.9h4.4M866.6 913.9h2.2M871.0 913.9h2.2M875.4 913.9h2.2M882.0 913.9h2.2M888.6 913.9h2.2M893.0 913.9h4.4M899.6 913.9h13.2M915.0 913.9h4.4M921.6 913.9h4.4M930.4 913.9h4.4M937.0 913.9h6.6M945.8 913.9h2.2M950.2 913.9h8.8M976.6 913.9h2.2M983.2 913.9h2.2M1014.0 913.9h2.2M662.0 916.1h2.2M666.4 916.1h2.2M675.2 916.1h6.6M684.0 916.1h2.2M697.2 916.1h4.4M706.0 916.1h2.2M710.4 916.1h4.4M717.0 916.1h13.2M732.4 916.1h2.2M739.0 916.1h8.8M750.0 916.1h4.4M756.6 916.1h11.0M772.0 916.1h4.4M778.6 916.1h8.8M789.6 916.1h13.2M807.2 916.1h11.0M820.4 916.1h6.6M829.2 916.1h19.8M853.4 916.1h2.2M857.8 916.1h8.8M868.8 916.1h2.2M873.2 916.1h11.0M890.8 916.1h2.2M895.2 916.1h17.6M915.0 916.1h4.4M921.6 916.1h8.8M943.6 916.1h2.2M948.0 916.1h8.8M959.0 916.1h2.2M965.6 916.1h4.4M1000.8 916.1h2.2M1038.2 916.1h4.4M659.8 918.3h2.2M664.2 918.3h4.4M677.4 918.3h2.2M681.8 918.3h2.2M686.2 918.3h2.2M690.6 918.3h17.6M710.4 918.3h2.2M714.8 918.3h2.2M719.2 918.3h2.2M723.6 918.3h4.4M730.2 918.3h11.0M745.6 918.3h4.4M754.4 918.3h17.6M774.2 918.3h2.2M778.6 918.3h15.4M796.2 918.3h22.0M820.4 918.3h11.0M835.8 918.3h4.4M842.4 918.3h4.4M857.8 918.3h2.2M862.2 918.3h15.4M882.0 918.3h6.6M890.8 918.3h11.0M904.0 918.3h4.4M910.6 918.3h2.2M917.2 918.3h2.2M923.8 918.3h11.0M937.0 918.3h4.4M945.8 918.3h2.2M950.2 918.3h2.2M954.6 918.3h2.2M961.2 918.3h11.0M974.4 918.3h6.6M989.8 918.3h2.2M994.2 918.3h2.2M1038.2 918.3h4.4M655.4 920.5h2.2M666.4 920.5h11.0M681.8 920.5h2.2M688.4 920.5h6.6M699.4 920.5h4.4M706.0 920.5h4.4M712.6 920.5h8.8M730.2 920.5h2.2M734.6 920.5h13.2M750.0 920.5h2.2M758.8 920.5h11.0M772.0 920.5h2.2M776.4 920.5h11.0M791.8 920.5h15.4M811.6 920.5h30.8M844.6 920.5h6.6M860.0 920.5h6.6M868.8 920.5h2.2M873.2 920.5h2.2M879.8 920.5h4.4M888.6 920.5h13.2M904.0 920.5h8.8M917.2 920.5h6.6M926.0 920.5h2.2M930.4 920.5h6.6M939.2 920.5h2.2M945.8 920.5h6.6M954.6 920.5h17.6M976.6 920.5h2.2M996.4 920.5h4.4M1003.0 920.5h2.2M1007.4 920.5h2.2M642.2 922.7h2.2M662.0 922.7h11.0M675.2 922.7h4.4M684.0 922.7h4.4M690.6 922.7h4.4M697.2 922.7h4.4M703.8 922.7h17.6M730.2 922.7h11.0M743.4 922.7h4.4M750.0 922.7h2.2M756.6 922.7h19.8M783.0 922.7h2.2M787.4 922.7h8.8M798.4 922.7h2.2M802.8 922.7h2.2M807.2 922.7h6.6M816.0 922.7h8.8M827.0 922.7h11.0M842.4 922.7h2.2M846.8 922.7h4.4M857.8 922.7h8.8M871.0 922.7h6.6M882.0 922.7h2.2M888.6 922.7h8.8M899.6 922.7h15.4M917.2 922.7h2.2M921.6 922.7h8.8M932.6 922.7h4.4M939.2 922.7h4.4M945.8 922.7h13.2M963.4 922.7h4.4M981.0 922.7h2.2M985.4 922.7h11.0M1000.8 922.7h2.2M1007.4 922.7h2.2M668.6 924.9h2.2M673.0 924.9h11.0M686.2 924.9h4.4M692.8 924.9h6.6M701.6 924.9h8.8M714.8 924.9h2.2M721.4 924.9h4.4M730.2 924.9h6.6M739.0 924.9h2.2M743.4 924.9h4.4M752.2 924.9h2.2M758.8 924.9h4.4M765.4 924.9h2.2M776.4 924.9h4.4M783.0 924.9h2.2M789.6 924.9h4.4M796.2 924.9h2.2M800.6 924.9h6.6M809.4 924.9h2.2M813.8 924.9h2.2M818.2 924.9h4.4M824.8 924.9h4.4M831.4 924.9h4.4M840.2 924.9h6.6M849.0 924.9h2.2M855.6 924.9h8.8M866.6 924.9h6.6M875.4 924.9h8.8M886.4 924.9h6.6M895.2 924.9h2.2M904.0 924.9h2.2M908.4 924.9h13.2M923.8 924.9h2.2M928.2 924.9h19.8M950.2 924.9h4.4M956.8 924.9h6.6M967.8 924.9h2.2M974.4 924.9h2.2M978.8 924.9h11.0M992.0 924.9h2.2M567.4 927.1h4.4M646.6 927.1h4.4M673.0 927.1h8.8M686.2 927.1h8.8M697.2 927.1h6.6M708.2 927.1h11.0M721.4 927.1h4.4M732.4 927.1h17.6M752.2 927.1h6.6M761.0 927.1h2.2M765.4 927.1h2.2M769.8 927.1h8.8M780.8 927.1h2.2M787.4 927.1h4.4M794.0 927.1h4.4M800.6 927.1h2.2M807.2 927.1h6.6M820.4 927.1h2.2M824.8 927.1h2.2M829.2 927.1h6.6M840.2 927.1h4.4M849.0 927.1h2.2M853.4 927.1h2.2M857.8 927.1h2.2M862.2 927.1h2.2M866.6 927.1h2.2M882.0 927.1h2.2M886.4 927.1h4.4M893.0 927.1h4.4M899.6 927.1h8.8M910.6 927.1h4.4M917.2 927.1h2.2M921.6 927.1h13.2M937.0 927.1h8.8M948.0 927.1h2.2M952.4 927.1h2.2M956.8 927.1h2.2M961.2 927.1h2.2M965.6 927.1h2.2M972.2 927.1h2.2M976.6 927.1h11.0M1007.4 927.1h2.2M1018.4 927.1h2.2M567.4 929.3h4.4M657.6 929.3h2.2M673.0 929.3h4.4M679.6 929.3h15.4M697.2 929.3h8.8M708.2 929.3h11.0M721.4 929.3h2.2M725.8 929.3h2.2M734.6 929.3h2.2M739.0 929.3h13.2M758.8 929.3h4.4M774.2 929.3h2.2M780.8 929.3h2.2M787.4 929.3h11.0M802.8 929.3h11.0M816.0 929.3h4.4M829.2 929.3h2.2M840.2 929.3h2.2M855.6 929.3h2.2M860.0 929.3h4.4M871.0 929.3h2.2M879.8 929.3h4.4M886.4 929.3h8.8M899.6 929.3h13.2M915.0 929.3h11.0M928.2 929.3h30.8M961.2 929.3h6.6M970.0 929.3h6.6M978.8 929.3h4.4M655.4 931.5h2.2M664.2 931.5h2.2M675.2 931.5h6.6M686.2 931.5h26.4M714.8 931.5h8.8M730.2 931.5h2.2M741.2 931.5h4.4M750.0 931.5h4.4M763.2 931.5h8.8M776.4 931.5h2.2M780.8 931.5h4.4M787.4 931.5h2.2M791.8 931.5h15.4M811.6 931.5h2.2M816.0 931.5h4.4M827.0 931.5h4.4M849.0 931.5h11.0M862.2 931.5h2.2M868.8 931.5h4.4M875.4 931.5h2.2M879.8 931.5h4.4M886.4 931.5h4.4M893.0 931.5h2.2M897.4 931.5h4.4M904.0 931.5h2.2M910.6 931.5h11.0M923.8 931.5h13.2M939.2 931.5h2.2M943.6 931.5h19.8M965.6 931.5h8.8M976.6 931.5h2.2M981.0 931.5h2.2M989.8 931.5h2.2M994.2 931.5h2.2M1011.8 931.5h2.2M659.8 933.7h11.0M677.4 933.7h22.0M701.6 933.7h33.0M736.8 933.7h4.4M743.4 933.7h6.6M758.8 933.7h2.2M763.2 933.7h13.2M778.6 933.7h8.8M789.6 933.7h2.2M794.0 933.7h2.2M798.4 933.7h8.8M813.8 933.7h4.4M820.4 933.7h2.2M827.0 933.7h2.2M840.2 933.7h4.4M846.8 933.7h4.4M857.8 933.7h2.2M866.6 933.7h2.2M871.0 933.7h2.2M875.4 933.7h4.4M882.0 933.7h2.2M888.6 933.7h2.2M893.0 933.7h2.2M897.4 933.7h8.8M908.4 933.7h37.4M952.4 933.7h6.6M961.2 933.7h6.6M970.0 933.7h4.4M983.2 933.7h6.6M992.0 933.7h2.2M996.4 933.7h6.6M1011.8 933.7h2.2M657.6 935.9h2.2M668.6 935.9h4.4M675.2 935.9h2.2M684.0 935.9h46.2M736.8 935.9h4.4M743.4 935.9h2.2M747.8 935.9h2.2M752.2 935.9h4.4M758.8 935.9h2.2M763.2 935.9h4.4M769.8 935.9h6.6M780.8 935.9h2.2M785.2 935.9h6.6M794.0 935.9h6.6M802.8 935.9h4.4M809.4 935.9h4.4M816.0 935.9h2.2M827.0 935.9h2.2M831.4 935.9h2.2M835.8 935.9h2.2M849.0 935.9h2.2M853.4 935.9h2.2M860.0 935.9h4.4M868.8 935.9h4.4M879.8 935.9h2.2M884.2 935.9h4.4M890.8 935.9h4.4M899.6 935.9h2.2M910.6 935.9h15.4M928.2 935.9h4.4M934.8 935.9h6.6M943.6 935.9h13.2M959.0 935.9h17.6M978.8 935.9h8.8M989.8 935.9h2.2M602.6 938.1h2.2M631.2 938.1h4.4M662.0 938.1h2.2M670.8 938.1h4.4M677.4 938.1h2.2M686.2 938.1h17.6M708.2 938.1h4.4M714.8 938.1h13.2M736.8 938.1h2.2M741.2 938.1h2.2M747.8 938.1h2.2M752.2 938.1h15.4M772.0 938.1h4.4M778.6 938.1h2.2M785.2 938.1h2.2M794.0 938.1h2.2M809.4 938.1h2.2M820.4 938.1h4.4M827.0 938.1h2.2M853.4 938.1h4.4M860.0 938.1h13.2M875.4 938.1h4.4M884.2 938.1h2.2M888.6 938.1h35.2M926.0 938.1h4.4M932.6 938.1h17.6M952.4 938.1h2.2M956.8 938.1h2.2M961.2 938.1h22.0M987.6 938.1h4.4M1000.8 938.1h2.2M1018.4 938.1h2.2M620.2 940.3h4.4M631.2 940.3h4.4M664.2 940.3h4.4M679.6 940.3h4.4M686.2 940.3h6.6M695.0 940.3h8.8M710.4 940.3h11.0M723.6 940.3h8.8M745.6 940.3h2.2M756.6 940.3h2.2M765.4 940.3h6.6M774.2 940.3h4.4M783.0 940.3h2.2M789.6 940.3h6.6M802.8 940.3h2.2M816.0 940.3h2.2M849.0 940.3h2.2M864.4 940.3h11.0M882.0 940.3h2.2M886.4 940.3h2.2M893.0 940.3h4.4M899.6 940.3h17.6M919.4 940.3h11.0M932.6 940.3h11.0M945.8 940.3h17.6M965.6 940.3h13.2M1018.4 940.3h2.2M576.2 942.5h2.2M620.2 942.5h2.2M626.8 942.5h4.4M635.6 942.5h2.2M644.4 942.5h2.2M668.6 942.5h2.2M673.0 942.5h37.4M712.6 942.5h11.0M725.8 942.5h11.0M743.4 942.5h4.4M750.0 942.5h2.2M758.8 942.5h2.2M767.6 942.5h2.2M774.2 942.5h6.6M783.0 942.5h4.4M789.6 942.5h8.8M800.6 942.5h2.2M811.6 942.5h2.2M820.4 942.5h2.2M824.8 942.5h8.8M857.8 942.5h2.2M875.4 942.5h2.2M879.8 942.5h6.6M888.6 942.5h2.2M893.0 942.5h19.8M915.0 942.5h6.6M923.8 942.5h15.4M941.4 942.5h2.2M948.0 942.5h17.6M967.8 942.5h2.2M972.2 942.5h2.2M978.8 942.5h2.2M983.2 942.5h2.2M987.6 942.5h2.2M992.0 942.5h2.2M1020.6 942.5h2.2M626.8 944.7h4.4M637.8 944.7h4.4M653.2 944.7h11.0M675.2 944.7h2.2M679.6 944.7h11.0M692.8 944.7h6.6M703.8 944.7h2.2M708.2 944.7h8.8M719.2 944.7h2.2M728.0 944.7h4.4M734.6 944.7h2.2M747.8 944.7h2.2M752.2 944.7h2.2M756.6 944.7h8.8M769.8 944.7h2.2M776.4 944.7h2.2M787.4 944.7h2.2M794.0 944.7h4.4M811.6 944.7h2.2M818.2 944.7h4.4M824.8 944.7h4.4M868.8 944.7h4.4M875.4 944.7h2.2M879.8 944.7h4.4M888.6 944.7h26.4M917.2 944.7h2.2M921.6 944.7h6.6M930.4 944.7h6.6M939.2 944.7h19.8M961.2 944.7h8.8M976.6 944.7h4.4M983.2 944.7h2.2M998.6 944.7h4.4M1005.2 944.7h2.2M651.0 946.9h6.6M659.8 946.9h4.4M670.8 946.9h6.6M679.6 946.9h2.2M684.0 946.9h6.6M692.8 946.9h26.4M721.4 946.9h2.2M725.8 946.9h2.2M732.4 946.9h8.8M743.4 946.9h4.4M756.6 946.9h4.4M763.2 946.9h4.4M772.0 946.9h2.2M778.6 946.9h2.2M785.2 946.9h2.2M791.8 946.9h4.4M813.8 946.9h2.2M818.2 946.9h2.2M855.6 946.9h4.4M864.4 946.9h2.2M868.8 946.9h4.4M875.4 946.9h2.2M886.4 946.9h2.2M890.8 946.9h15.4M908.4 946.9h8.8M919.4 946.9h6.6M930.4 946.9h17.6M950.2 946.9h13.2M965.6 946.9h4.4M974.4 946.9h15.4M994.2 946.9h2.2M1005.2 946.9h2.2M646.6 949.1h4.4M653.2 949.1h17.6M673.0 949.1h2.2M677.4 949.1h4.4M684.0 949.1h33.0M719.2 949.1h4.4M728.0 949.1h2.2M732.4 949.1h4.4M739.0 949.1h6.6M756.6 949.1h2.2M763.2 949.1h2.2M776.4 949.1h4.4M783.0 949.1h2.2M796.2 949.1h2.2M805.0 949.1h2.2M816.0 949.1h4.4M822.6 949.1h2.2M851.2 949.1h4.4M864.4 949.1h2.2M875.4 949.1h2.2M879.8 949.1h2.2M884.2 949.1h17.6M904.0 949.1h11.0M919.4 949.1h11.0M937.0 949.1h13.2M952.4 949.1h6.6M961.2 949.1h6.6M974.4 949.1h2.2M978.8 949.1h8.8M994.2 949.1h4.4M635.6 951.3h2.2M651.0 951.3h2.2M655.4 951.3h2.2M662.0 951.3h4.4M668.6 951.3h24.2M695.0 951.3h6.6M714.8 951.3h2.2M719.2 951.3h2.2M725.8 951.3h2.2M730.2 951.3h4.4M741.2 951.3h2.2M754.4 951.3h2.2M761.0 951.3h6.6M776.4 951.3h2.2M787.4 951.3h2.2M802.8 951.3h4.4M818.2 951.3h2.2M822.6 951.3h4.4M849.0 951.3h2.2M862.2 951.3h2.2M868.8 951.3h2.2M873.2 951.3h4.4M879.8 951.3h6.6M888.6 951.3h2.2M899.6 951.3h4.4M908.4 951.3h2.2M912.8 951.3h11.0M926.0 951.3h11.0M943.6 951.3h4.4M954.6 951.3h2.2M959.0 951.3h2.2M963.4 951.3h8.8M974.4 951.3h4.4M981.0 951.3h6.6M996.4 951.3h2.2M648.8 953.5h4.4M657.6 953.5h2.2M662.0 953.5h22.0M686.2 953.5h4.4M692.8 953.5h4.4M699.4 953.5h8.8M710.4 953.5h4.4M717.0 953.5h8.8M728.0 953.5h4.4M736.8 953.5h2.2M743.4 953.5h4.4M758.8 953.5h2.2M763.2 953.5h6.6M789.6 953.5h2.2M802.8 953.5h4.4M809.4 953.5h2.2M829.2 953.5h2.2M844.6 953.5h2.2M855.6 953.5h6.6M866.6 953.5h2.2M873.2 953.5h2.2M882.0 953.5h2.2M886.4 953.5h6.6M899.6 953.5h4.4M908.4 953.5h4.4M915.0 953.5h15.4M932.6 953.5h4.4M943.6 953.5h13.2M959.0 953.5h17.6M981.0 953.5h2.2M1009.6 953.5h2.2M629.0 955.7h2.2M651.0 955.7h2.2M655.4 955.7h6.6M664.2 955.7h13.2M681.8 955.7h2.2M686.2 955.7h17.6M706.0 955.7h6.6M721.4 955.7h2.2M728.0 955.7h2.2M732.4 955.7h2.2M739.0 955.7h4.4M767.6 955.7h2.2M796.2 955.7h2.2M807.2 955.7h2.2M855.6 955.7h4.4M866.6 955.7h2.2M875.4 955.7h4.4M884.2 955.7h6.6M893.0 955.7h6.6M901.8 955.7h15.4M919.4 955.7h15.4M937.0 955.7h6.6M945.8 955.7h13.2M961.2 955.7h2.2M967.8 955.7h4.4M974.4 955.7h4.4M983.2 955.7h2.2M994.2 955.7h2.2M1027.2 955.7h2.2M1033.8 955.7h6.6M1047.0 955.7h4.4M635.6 957.9h2.2M642.2 957.9h2.2M646.6 957.9h2.2M651.0 957.9h2.2M655.4 957.9h2.2M662.0 957.9h2.2M668.6 957.9h19.8M690.6 957.9h8.8M701.6 957.9h2.2M708.2 957.9h4.4M714.8 957.9h4.4M723.6 957.9h6.6M734.6 957.9h2.2M780.8 957.9h2.2M789.6 957.9h6.6M800.6 957.9h2.2M816.0 957.9h2.2M822.6 957.9h2.2M827.0 957.9h2.2M838.0 957.9h2.2M855.6 957.9h4.4M864.4 957.9h17.6M886.4 957.9h4.4M893.0 957.9h2.2M901.8 957.9h28.6M932.6 957.9h11.0M948.0 957.9h4.4M954.6 957.9h4.4M967.8 957.9h2.2M972.2 957.9h6.6M981.0 957.9h2.2M992.0 957.9h2.2M1016.2 957.9h2.2M1033.8 957.9h4.4M1047.0 957.9h4.4M631.2 960.1h2.2M646.6 960.1h2.2M651.0 960.1h4.4M657.6 960.1h2.2M662.0 960.1h2.2M666.4 960.1h4.4M675.2 960.1h2.2M679.6 960.1h15.4M701.6 960.1h17.6M721.4 960.1h4.4M728.0 960.1h8.8M754.4 960.1h4.4M767.6 960.1h2.2M772.0 960.1h2.2M796.2 960.1h2.2M833.6 960.1h2.2M853.4 960.1h2.2M857.8 960.1h2.2M868.8 960.1h4.4M875.4 960.1h2.2M884.2 960.1h4.4M890.8 960.1h2.2M895.2 960.1h2.2M899.6 960.1h11.0M912.8 960.1h15.4M932.6 960.1h4.4M941.4 960.1h4.4M948.0 960.1h11.0M961.2 960.1h4.4M970.0 960.1h2.2M976.6 960.1h8.8M987.6 960.1h4.4M994.2 960.1h2.2M631.2 962.3h2.2M646.6 962.3h6.6M655.4 962.3h2.2M662.0 962.3h11.0M675.2 962.3h22.0M699.4 962.3h6.6M708.2 962.3h11.0M721.4 962.3h8.8M734.6 962.3h4.4M741.2 962.3h4.4M750.0 962.3h4.4M778.6 962.3h2.2M831.4 962.3h2.2M846.8 962.3h2.2M853.4 962.3h2.2M857.8 962.3h2.2M862.2 962.3h4.4M871.0 962.3h2.2M875.4 962.3h4.4M884.2 962.3h2.2M893.0 962.3h19.8M915.0 962.3h4.4M921.6 962.3h6.6M930.4 962.3h4.4M939.2 962.3h15.4M956.8 962.3h19.8M978.8 962.3h2.2M983.2 962.3h13.2M1007.4 962.3h2.2M651.0 964.5h2.2M662.0 964.5h6.6M670.8 964.5h2.2M679.6 964.5h15.4M697.2 964.5h15.4M714.8 964.5h4.4M721.4 964.5h13.2M739.0 964.5h2.2M811.6 964.5h2.2M849.0 964.5h2.2M864.4 964.5h2.2M868.8 964.5h2.2M875.4 964.5h2.2M879.8 964.5h2.2M890.8 964.5h6.6M901.8 964.5h2.2M906.2 964.5h19.8M928.2 964.5h2.2M932.6 964.5h2.2M937.0 964.5h2.2M948.0 964.5h2.2M954.6 964.5h19.8M976.6 964.5h8.8M987.6 964.5h2.2M992.0 964.5h2.2M1000.8 964.5h2.2M1005.2 964.5h2.2M1009.6 964.5h2.2M1014.0 964.5h2.2M580.6 966.7h2.2M644.4 966.7h2.2M653.2 966.7h11.0M670.8 966.7h6.6M679.6 966.7h24.2M706.0 966.7h15.4M723.6 966.7h4.4M734.6 966.7h4.4M750.0 966.7h2.2M846.8 966.7h2.2M855.6 966.7h2.2M860.0 966.7h2.2M866.6 966.7h2.2M871.0 966.7h4.4M882.0 966.7h2.2M888.6 966.7h2.2M895.2 966.7h4.4M901.8 966.7h4.4M915.0 966.7h4.4M921.6 966.7h11.0M934.8 966.7h2.2M939.2 966.7h2.2M943.6 966.7h2.2M948.0 966.7h30.8M983.2 966.7h4.4M1009.6 966.7h2.2M1031.6 966.7h4.4M1044.8 966.7h2.2M596.0 968.9h2.2M659.8 968.9h4.4M670.8 968.9h2.2M677.4 968.9h2.2M681.8 968.9h6.6M692.8 968.9h2.2M697.2 968.9h2.2M703.8 968.9h19.8M725.8 968.9h4.4M732.4 968.9h6.6M745.6 968.9h2.2M754.4 968.9h2.2M765.4 968.9h2.2M866.6 968.9h4.4M882.0 968.9h2.2M888.6 968.9h2.2M895.2 968.9h6.6M904.0 968.9h2.2M908.4 968.9h6.6M917.2 968.9h15.4M937.0 968.9h26.4M965.6 968.9h15.4M983.2 968.9h4.4M1005.2 968.9h6.6M1022.8 968.9h2.2M1029.4 968.9h6.6M1042.6 968.9h4.4M629.0 971.1h2.2M635.6 971.1h2.2M642.2 971.1h2.2M670.8 971.1h2.2M675.2 971.1h2.2M681.8 971.1h2.2M688.4 971.1h35.2M725.8 971.1h2.2M730.2 971.1h2.2M734.6 971.1h6.6M780.8 971.1h2.2M789.6 971.1h2.2M835.8 971.1h2.2M844.6 971.1h2.2M864.4 971.1h2.2M877.6 971.1h2.2M882.0 971.1h2.2M895.2 971.1h2.2M906.2 971.1h4.4M912.8 971.1h72.6M996.4 971.1h2.2M1005.2 971.1h2.2M1016.2 971.1h4.4M1031.6 971.1h4.4M1042.6 971.1h8.8M640.0 973.3h2.2M653.2 973.3h2.2M659.8 973.3h8.8M670.8 973.3h44.0M717.0 973.3h4.4M723.6 973.3h4.4M732.4 973.3h6.6M741.2 973.3h6.6M752.2 973.3h2.2M780.8 973.3h2.2M800.6 973.3h2.2M853.4 973.3h2.2M877.6 973.3h2.2M882.0 973.3h2.2M886.4 973.3h2.2M893.0 973.3h4.4M899.6 973.3h2.2M906.2 973.3h4.4M921.6 973.3h11.0M934.8 973.3h4.4M941.4 973.3h8.8M952.4 973.3h22.0M976.6 973.3h8.8M987.6 973.3h2.2M992.0 973.3h4.4M1003.0 973.3h2.2M1025.0 973.3h2.2M1047.0 973.3h4.4M642.2 975.5h2.2M646.6 975.5h4.4M655.4 975.5h2.2M659.8 975.5h4.4M666.4 975.5h6.6M675.2 975.5h4.4M681.8 975.5h17.6M701.6 975.5h15.4M719.2 975.5h2.2M739.0 975.5h2.2M829.2 975.5h2.2M835.8 975.5h2.2M840.2 975.5h2.2M862.2 975.5h2.2M873.2 975.5h2.2M877.6 975.5h2.2M886.4 975.5h2.2M890.8 975.5h6.6M908.4 975.5h4.4M915.0 975.5h6.6M923.8 975.5h11.0M937.0 975.5h13.2M952.4 975.5h17.6M972.2 975.5h13.2M987.6 975.5h2.2M646.6 977.7h2.2M653.2 977.7h4.4M659.8 977.7h4.4M666.4 977.7h6.6M675.2 977.7h22.0M699.4 977.7h11.0M712.6 977.7h8.8M723.6 977.7h4.4M750.0 977.7h4.4M800.6 977.7h2.2M833.6 977.7h2.2M855.6 977.7h2.2M864.4 977.7h2.2M873.2 977.7h2.2M877.6 977.7h4.4M893.0 977.7h4.4M899.6 977.7h11.0M912.8 977.7h6.6M921.6 977.7h11.0M934.8 977.7h4.4M941.4 977.7h4.4M948.0 977.7h28.6M981.0 977.7h2.2M987.6 977.7h2.2M659.8 979.9h13.2M675.2 979.9h8.8M686.2 979.9h33.0M723.6 979.9h4.4M732.4 979.9h2.2M820.4 979.9h2.2M835.8 979.9h2.2M857.8 979.9h2.2M868.8 979.9h2.2M886.4 979.9h2.2M890.8 979.9h2.2M897.4 979.9h2.2M901.8 979.9h6.6M910.6 979.9h17.6M932.6 979.9h19.8M954.6 979.9h6.6M963.4 979.9h4.4M970.0 979.9h17.6M989.8 979.9h2.2M996.4 979.9h6.6M1029.4 979.9h2.2M655.4 982.1h2.2M662.0 982.1h4.4M668.6 982.1h4.4M675.2 982.1h2.2M679.6 982.1h11.0M692.8 982.1h2.2M697.2 982.1h11.0M710.4 982.1h8.8M723.6 982.1h6.6M741.2 982.1h2.2M747.8 982.1h2.2M752.2 982.1h2.2M809.4 982.1h2.2M824.8 982.1h2.2M864.4 982.1h2.2M888.6 982.1h2.2M893.0 982.1h2.2M899.6 982.1h39.6M941.4 982.1h33.0M976.6 982.1h6.6M985.4 982.1h4.4M992.0 982.1h2.2M600.4 984.3h8.8M646.6 984.3h2.2M655.4 984.3h2.2M659.8 984.3h8.8M670.8 984.3h15.4M688.4 984.3h11.0M701.6 984.3h8.8M714.8 984.3h4.4M721.4 984.3h6.6M730.2 984.3h2.2M734.6 984.3h2.2M739.0 984.3h2.2M743.4 984.3h2.2M752.2 984.3h2.2M765.4 984.3h2.2M787.4 984.3h2.2M857.8 984.3h2.2M862.2 984.3h2.2M866.6 984.3h4.4M873.2 984.3h2.2M879.8 984.3h8.8M899.6 984.3h24.2M926.0 984.3h2.2M930.4 984.3h4.4M937.0 984.3h17.6M959.0 984.3h4.4M965.6 984.3h2.2M970.0 984.3h2.2M981.0 984.3h2.2M600.4 986.5h8.8M640.0 986.5h2.2M655.4 986.5h2.2M659.8 986.5h2.2M664.2 986.5h6.6M675.2 986.5h2.2M679.6 986.5h6.6M688.4 986.5h2.2M695.0 986.5h11.0M708.2 986.5h13.2M723.6 986.5h2.2M728.0 986.5h4.4M734.6 986.5h2.2M747.8 986.5h2.2M754.4 986.5h2.2M761.0 986.5h2.2M831.4 986.5h2.2M860.0 986.5h4.4M879.8 986.5h24.2M906.2 986.5h8.8M917.2 986.5h6.6M926.0 986.5h22.0M950.2 986.5h17.6M970.0 986.5h4.4M976.6 986.5h6.6M987.6 986.5h2.2M1040.4 986.5h4.4M648.8 988.7h4.4M655.4 988.7h4.4M662.0 988.7h4.4M668.6 988.7h11.0M681.8 988.7h28.6M714.8 988.7h8.8M725.8 988.7h6.6M734.6 988.7h4.4M743.4 988.7h2.2M750.0 988.7h2.2M754.4 988.7h2.2M758.8 988.7h2.2M794.0 988.7h2.2M824.8 988.7h2.2M835.8 988.7h2.2M860.0 988.7h2.2M866.6 988.7h4.4M873.2 988.7h6.6M882.0 988.7h13.2M897.4 988.7h8.8M908.4 988.7h2.2M912.8 988.7h2.2M917.2 988.7h2.2M921.6 988.7h4.4M928.2 988.7h15.4M945.8 988.7h2.2M950.2 988.7h8.8M961.2 988.7h8.8M976.6 988.7h2.2M983.2 988.7h2.2M998.6 988.7h2.2M1016.2 988.7h2.2M1040.4 988.7h4.4M589.4 990.9h2.2M620.2 990.9h2.2M629.0 990.9h2.2M637.8 990.9h2.2M648.8 990.9h4.4M655.4 990.9h37.4M695.0 990.9h15.4M712.6 990.9h2.2M717.0 990.9h2.2M721.4 990.9h4.4M728.0 990.9h4.4M743.4 990.9h4.4M750.0 990.9h2.2M761.0 990.9h2.2M776.4 990.9h2.2M822.6 990.9h2.2M833.6 990.9h2.2M840.2 990.9h2.2M846.8 990.9h4.4M864.4 990.9h4.4M877.6 990.9h4.4M890.8 990.9h2.2M899.6 990.9h4.4M912.8 990.9h4.4M921.6 990.9h17.6M941.4 990.9h2.2M945.8 990.9h22.0M970.0 990.9h6.6M978.8 990.9h2.2M983.2 990.9h2.2M987.6 990.9h2.2M992.0 990.9h2.2M996.4 990.9h2.2M1031.6 990.9h2.2M633.4 993.1h2.2M637.8 993.1h2.2M642.2 993.1h2.2M648.8 993.1h68.2M719.2 993.1h2.2M723.6 993.1h4.4M732.4 993.1h2.2M745.6 993.1h2.2M752.2 993.1h2.2M761.0 993.1h2.2M813.8 993.1h2.2M851.2 993.1h6.6M860.0 993.1h2.2M864.4 993.1h2.2M871.0 993.1h2.2M877.6 993.1h6.6M897.4 993.1h13.2M912.8 993.1h2.2M917.2 993.1h8.8M928.2 993.1h24.2M956.8 993.1h4.4M963.4 993.1h6.6M972.2 993.1h2.2M1000.8 993.1h2.2M611.4 995.3h4.4M618.0 995.3h2.2M631.2 995.3h2.2M644.4 995.3h2.2M648.8 995.3h2.2M657.6 995.3h33.0M692.8 995.3h8.8M703.8 995.3h2.2M712.6 995.3h11.0M725.8 995.3h4.4M741.2 995.3h8.8M809.4 995.3h2.2M851.2 995.3h8.8M864.4 995.3h2.2M871.0 995.3h2.2M875.4 995.3h4.4M882.0 995.3h2.2M886.4 995.3h11.0M901.8 995.3h33.0M939.2 995.3h15.4M956.8 995.3h4.4M963.4 995.3h4.4M983.2 995.3h4.4M992.0 995.3h4.4M611.4 997.5h4.4M631.2 997.5h2.2M640.0 997.5h2.2M651.0 997.5h2.2M657.6 997.5h17.6M677.4 997.5h8.8M688.4 997.5h2.2M692.8 997.5h4.4M701.6 997.5h2.2M706.0 997.5h2.2M710.4 997.5h11.0M723.6 997.5h6.6M732.4 997.5h11.0M756.6 997.5h2.2M842.4 997.5h2.2M864.4 997.5h2.2M882.0 997.5h4.4M888.6 997.5h2.2M897.4 997.5h2.2M901.8 997.5h13.2M917.2 997.5h6.6M926.0 997.5h24.2M954.6 997.5h6.6M963.4 997.5h8.8M983.2 997.5h2.2M992.0 997.5h2.2M996.4 997.5h2.2M642.2 999.7h2.2M648.8 999.7h2.2M653.2 999.7h6.6M664.2 999.7h8.8M675.2 999.7h35.2M712.6 999.7h2.2M717.0 999.7h4.4M725.8 999.7h4.4M739.0 999.7h2.2M761.0 999.7h2.2M776.4 999.7h2.2M831.4 999.7h4.4M846.8 999.7h2.2M855.6 999.7h4.4M873.2 999.7h2.2M888.6 999.7h2.2M901.8 999.7h2.2M908.4 999.7h8.8M919.4 999.7h6.6M928.2 999.7h11.0M943.6 999.7h17.6M970.0 999.7h2.2M981.0 999.7h6.6M631.2 1001.9h4.4M637.8 1001.9h2.2M642.2 1001.9h4.4M648.8 1001.9h2.2M653.2 1001.9h4.4M659.8 1001.9h13.2M675.2 1001.9h33.0M710.4 1001.9h2.2M714.8 1001.9h4.4M725.8 1001.9h2.2M730.2 1001.9h4.4M736.8 1001.9h2.2M750.0 1001.9h2.2M822.6 1001.9h2.2M833.6 1001.9h2.2M846.8 1001.9h2.2M851.2 1001.9h4.4M864.4 1001.9h4.4M875.4 1001.9h2.2M886.4 1001.9h2.2M908.4 1001.9h2.2M915.0 1001.9h4.4M921.6 1001.9h15.4M939.2 1001.9h4.4M945.8 1001.9h6.6M954.6 1001.9h19.8M976.6 1001.9h2.2M985.4 1001.9h2.2M996.4 1001.9h2.2M1007.4 1001.9h2.2M622.4 1004.1h2.2M635.6 1004.1h2.2M646.6 1004.1h2.2M651.0 1004.1h2.2M655.4 1004.1h2.2M662.0 1004.1h2.2M673.0 1004.1h26.4M701.6 1004.1h8.8M714.8 1004.1h2.2M719.2 1004.1h2.2M725.8 1004.1h4.4M747.8 1004.1h2.2M754.4 1004.1h2.2M849.0 1004.1h2.2M866.6 1004.1h6.6M877.6 1004.1h6.6M893.0 1004.1h6.6M901.8 1004.1h2.2M906.2 1004.1h2.2M910.6 1004.1h2.2M915.0 1004.1h2.2M923.8 1004.1h2.2M928.2 1004.1h6.6M937.0 1004.1h13.2M952.4 1004.1h6.6M961.2 1004.1h2.2M965.6 1004.1h2.2M972.2 1004.1h4.4M1027.2 1004.1h2.2M642.2 1006.3h2.2M651.0 1006.3h2.2M662.0 1006.3h2.2M666.4 1006.3h15.4M686.2 1006.3h6.6M699.4 1006.3h2.2M703.8 1006.3h2.2M708.2 1006.3h4.4M717.0 1006.3h4.4M723.6 1006.3h2.2M736.8 1006.3h2.2M761.0 1006.3h2.2M776.4 1006.3h2.2M862.2 1006.3h4.4M868.8 1006.3h8.8M886.4 1006.3h4.4M893.0 1006.3h4.4M904.0 1006.3h6.6M912.8 1006.3h2.2M917.2 1006.3h24.2M945.8 1006.3h6.6M954.6 1006.3h17.6M976.6 1006.3h4.4M1016.2 1006.3h4.4M1029.4 1006.3h2.2M569.6 1008.5h4.4M651.0 1008.5h2.2M655.4 1008.5h24.2M681.8 1008.5h4.4M688.4 1008.5h4.4M695.0 1008.5h8.8M706.0 1008.5h2.2M712.6 1008.5h8.8M723.6 1008.5h2.2M728.0 1008.5h2.2M752.2 1008.5h2.2M761.0 1008.5h2.2M846.8 1008.5h2.2M853.4 1008.5h2.2M862.2 1008.5h2.2M877.6 1008.5h13.2M893.0 1008.5h2.2M899.6 1008.5h13.2M915.0 1008.5h19.8M937.0 1008.5h17.6M959.0 1008.5h2.2M963.4 1008.5h2.2M967.8 1008.5h2.2M972.2 1008.5h4.4M569.6 1010.7h4.4M624.6 1010.7h2.2M648.8 1010.7h2.2M655.4 1010.7h2.2M659.8 1010.7h4.4M668.6 1010.7h13.2M684.0 1010.7h17.6M703.8 1010.7h2.2M708.2 1010.7h8.8M719.2 1010.7h2.2M723.6 1010.7h2.2M732.4 1010.7h2.2M747.8 1010.7h2.2M840.2 1010.7h2.2M855.6 1010.7h2.2M862.2 1010.7h6.6M882.0 1010.7h6.6M890.8 1010.7h2.2M895.2 1010.7h2.2M899.6 1010.7h8.8M910.6 1010.7h6.6M919.4 1010.7h8.8M932.6 1010.7h8.8M943.6 1010.7h6.6M952.4 1010.7h2.2M956.8 1010.7h8.8M970.0 1010.7h4.4M981.0 1010.7h4.4M987.6 1010.7h2.2M992.0 1010.7h2.2M633.4 1012.9h6.6M646.6 1012.9h2.2M651.0 1012.9h8.8M662.0 1012.9h37.4M710.4 1012.9h2.2M725.8 1012.9h4.4M743.4 1012.9h2.2M754.4 1012.9h2.2M767.6 1012.9h2.2M838.0 1012.9h2.2M849.0 1012.9h4.4M860.0 1012.9h2.2M864.4 1012.9h2.2M873.2 1012.9h2.2M884.2 1012.9h2.2M890.8 1012.9h35.2M928.2 1012.9h6.6M937.0 1012.9h2.2M943.6 1012.9h26.4M972.2 1012.9h11.0M994.2 1012.9h2.2M1007.4 1012.9h2.2M618.0 1015.1h2.2M648.8 1015.1h2.2M653.2 1015.1h15.4M673.0 1015.1h6.6M681.8 1015.1h2.2M686.2 1015.1h2.2M690.6 1015.1h6.6M701.6 1015.1h2.2M706.0 1015.1h2.2M710.4 1015.1h2.2M714.8 1015.1h17.6M736.8 1015.1h4.4M747.8 1015.1h2.2M752.2 1015.1h2.2M767.6 1015.1h2.2M778.6 1015.1h4.4M827.0 1015.1h2.2M835.8 1015.1h2.2M846.8 1015.1h2.2M851.2 1015.1h4.4M866.6 1015.1h2.2M871.0 1015.1h2.2M879.8 1015.1h2.2M884.2 1015.1h4.4M890.8 1015.1h2.2M895.2 1015.1h33.0M930.4 1015.1h19.8M952.4 1015.1h4.4M959.0 1015.1h22.0M1009.6 1015.1h2.2M1014.0 1015.1h2.2M1022.8 1015.1h2.2M613.6 1017.3h4.4M624.6 1017.3h2.2M629.0 1017.3h2.2M640.0 1017.3h6.6M651.0 1017.3h8.8M662.0 1017.3h26.4M695.0 1017.3h2.2M706.0 1017.3h6.6M719.2 1017.3h6.6M734.6 1017.3h2.2M739.0 1017.3h2.2M763.2 1017.3h2.2M769.8 1017.3h2.2M778.6 1017.3h2.2M796.2 1017.3h2.2M829.2 1017.3h2.2M835.8 1017.3h2.2M842.4 1017.3h2.2M846.8 1017.3h2.2M851.2 1017.3h2.2M857.8 1017.3h4.4M864.4 1017.3h2.2M875.4 1017.3h2.2M879.8 1017.3h2.2M890.8 1017.3h4.4M899.6 1017.3h4.4M910.6 1017.3h6.6M919.4 1017.3h33.0M954.6 1017.3h8.8M965.6 1017.3h13.2M981.0 1017.3h2.2M989.8 1017.3h2.2M604.8 1019.5h6.6M613.6 1019.5h4.4M631.2 1019.5h2.2M635.6 1019.5h2.2M640.0 1019.5h6.6M653.2 1019.5h8.8M664.2 1019.5h2.2M668.6 1019.5h13.2M684.0 1019.5h22.0M708.2 1019.5h2.2M712.6 1019.5h2.2M717.0 1019.5h4.4M728.0 1019.5h4.4M743.4 1019.5h2.2M761.0 1019.5h2.2M811.6 1019.5h2.2M833.6 1019.5h2.2M857.8 1019.5h2.2M868.8 1019.5h4.4M875.4 1019.5h2.2M882.0 1019.5h2.2M886.4 1019.5h11.0M899.6 1019.5h2.2M904.0 1019.5h8.8M917.2 1019.5h33.0M952.4 1019.5h4.4M961.2 1019.5h2.2M967.8 1019.5h8.8M983.2 1019.5h2.2M989.8 1019.5h8.8M1007.4 1019.5h2.2M1011.8 1019.5h2.2M607.0 1021.7h4.4M629.0 1021.7h6.6M653.2 1021.7h8.8M664.2 1021.7h35.2M701.6 1021.7h19.8M723.6 1021.7h2.2M728.0 1021.7h2.2M739.0 1021.7h2.2M745.6 1021.7h2.2M756.6 1021.7h2.2M763.2 1021.7h2.2M767.6 1021.7h2.2M791.8 1021.7h2.2M829.2 1021.7h4.4M849.0 1021.7h4.4M860.0 1021.7h2.2M864.4 1021.7h2.2M873.2 1021.7h2.2M879.8 1021.7h4.4M888.6 1021.7h4.4M895.2 1021.7h2.2M899.6 1021.7h13.2M915.0 1021.7h2.2M919.4 1021.7h19.8M945.8 1021.7h4.4M954.6 1021.7h2.2M959.0 1021.7h11.0M972.2 1021.7h4.4M983.2 1021.7h4.4M994.2 1021.7h4.4M1003.0 1021.7h2.2M574.0 1023.9h2.2M653.2 1023.9h2.2M666.4 1023.9h2.2M670.8 1023.9h2.2M675.2 1023.9h2.2M679.6 1023.9h2.2M684.0 1023.9h11.0M703.8 1023.9h6.6M714.8 1023.9h2.2M719.2 1023.9h2.2M723.6 1023.9h4.4M761.0 1023.9h2.2M765.4 1023.9h2.2M776.4 1023.9h2.2M789.6 1023.9h2.2M794.0 1023.9h4.4M829.2 1023.9h2.2M833.6 1023.9h4.4M871.0 1023.9h2.2M875.4 1023.9h2.2M882.0 1023.9h8.8M899.6 1023.9h2.2M904.0 1023.9h11.0M919.4 1023.9h41.8M963.4 1023.9h8.8M981.0 1023.9h2.2M992.0 1023.9h11.0M1009.6 1023.9h2.2M1027.2 1023.9h4.4M1049.2 1023.9h2.2M571.8 1026.1h4.4M604.8 1026.1h4.4M633.4 1026.1h2.2M653.2 1026.1h8.8M668.6 1026.1h4.4M679.6 1026.1h6.6M688.4 1026.1h8.8M699.4 1026.1h8.8M710.4 1026.1h6.6M719.2 1026.1h2.2M728.0 1026.1h2.2M732.4 1026.1h4.4M741.2 1026.1h2.2M761.0 1026.1h4.4M789.6 1026.1h2.2M802.8 1026.1h2.2M822.6 1026.1h4.4M829.2 1026.1h4.4M846.8 1026.1h4.4M855.6 1026.1h4.4M877.6 1026.1h4.4M884.2 1026.1h2.2M890.8 1026.1h6.6M899.6 1026.1h4.4M906.2 1026.1h2.2M919.4 1026.1h2.2M928.2 1026.1h13.2M943.6 1026.1h4.4M950.2 1026.1h4.4M956.8 1026.1h6.6M965.6 1026.1h2.2M976.6 1026.1h2.2M985.4 1026.1h6.6M996.4 1026.1h2.2M1020.6 1026.1h2.2M1027.2 1026.1h4.4M1044.8 1026.1h4.4M604.8 1028.3h4.4M646.6 1028.3h2.2M651.0 1028.3h8.8M662.0 1028.3h8.8M673.0 1028.3h4.4M679.6 1028.3h4.4M688.4 1028.3h2.2M695.0 1028.3h4.4M701.6 1028.3h19.8M723.6 1028.3h2.2M734.6 1028.3h2.2M747.8 1028.3h2.2M756.6 1028.3h2.2M769.8 1028.3h2.2M785.2 1028.3h4.4M798.4 1028.3h4.4M816.0 1028.3h2.2M829.2 1028.3h2.2M833.6 1028.3h2.2M842.4 1028.3h2.2M849.0 1028.3h2.2M853.4 1028.3h2.2M857.8 1028.3h2.2M868.8 1028.3h2.2M879.8 1028.3h2.2M884.2 1028.3h11.0M897.4 1028.3h24.2M923.8 1028.3h6.6M934.8 1028.3h8.8M945.8 1028.3h19.8M978.8 1028.3h8.8M998.6 1028.3h2.2M1025.0 1028.3h2.2M1044.8 1028.3h4.4M646.6 1030.5h6.6M655.4 1030.5h15.4M673.0 1030.5h6.6M684.0 1030.5h8.8M695.0 1030.5h4.4M701.6 1030.5h15.4M723.6 1030.5h4.4M730.2 1030.5h6.6M750.0 1030.5h2.2M754.4 1030.5h4.4M761.0 1030.5h2.2M785.2 1030.5h2.2M789.6 1030.5h2.2M800.6 1030.5h4.4M809.4 1030.5h2.2M818.2 1030.5h2.2M827.0 1030.5h2.2M838.0 1030.5h2.2M853.4 1030.5h2.2M860.0 1030.5h2.2M868.8 1030.5h2.2M879.8 1030.5h4.4M886.4 1030.5h2.2M890.8 1030.5h2.2M895.2 1030.5h13.2M910.6 1030.5h11.0M923.8 1030.5h26.4M952.4 1030.5h8.8M963.4 1030.5h8.8M976.6 1030.5h2.2M987.6 1030.5h2.2M994.2 1030.5h2.2M1003.0 1030.5h2.2M1042.6 1030.5h4.4M1055.8 1030.5h2.2M631.2 1032.7h2.2M635.6 1032.7h2.2M642.2 1032.7h6.6M651.0 1032.7h2.2M655.4 1032.7h4.4M662.0 1032.7h2.2M666.4 1032.7h17.6M686.2 1032.7h2.2M690.6 1032.7h6.6M701.6 1032.7h15.4M721.4 1032.7h8.8M745.6 1032.7h11.0M758.8 1032.7h2.2M763.2 1032.7h6.6M776.4 1032.7h4.4M783.0 1032.7h4.4M789.6 1032.7h2.2M794.0 1032.7h2.2M800.6 1032.7h4.4M816.0 1032.7h2.2M820.4 1032.7h2.2M827.0 1032.7h2.2M835.8 1032.7h2.2M846.8 1032.7h4.4M857.8 1032.7h4.4M864.4 1032.7h6.6M873.2 1032.7h2.2M877.6 1032.7h4.4M886.4 1032.7h17.6M906.2 1032.7h55.0M963.4 1032.7h8.8M976.6 1032.7h2.2M1014.0 1032.7h2.2M1042.6 1032.7h4.4M629.0 1034.9h2.2M644.4 1034.9h6.6M655.4 1034.9h2.2M662.0 1034.9h2.2M670.8 1034.9h19.8M695.0 1034.9h6.6M703.8 1034.9h2.2M708.2 1034.9h17.6M739.0 1034.9h13.2M756.6 1034.9h2.2M765.4 1034.9h4.4M778.6 1034.9h2.2M783.0 1034.9h4.4M791.8 1034.9h2.2M796.2 1034.9h2.2M800.6 1034.9h2.2M811.6 1034.9h2.2M820.4 1034.9h2.2M831.4 1034.9h2.2M840.2 1034.9h2.2M853.4 1034.9h2.2M873.2 1034.9h2.2M882.0 1034.9h4.4M890.8 1034.9h8.8M901.8 1034.9h22.0M926.0 1034.9h11.0M939.2 1034.9h2.2M943.6 1034.9h8.8M956.8 1034.9h6.6M965.6 1034.9h2.2M972.2 1034.9h4.4M978.8 1034.9h2.2M622.4 1037.1h4.4M646.6 1037.1h4.4M655.4 1037.1h2.2M662.0 1037.1h33.0M697.2 1037.1h2.2M701.6 1037.1h2.2M706.0 1037.1h4.4M712.6 1037.1h11.0M736.8 1037.1h4.4M745.6 1037.1h2.2M752.2 1037.1h2.2M756.6 1037.1h2.2M767.6 1037.1h2.2M774.2 1037.1h2.2M780.8 1037.1h4.4M794.0 1037.1h4.4M800.6 1037.1h4.4M809.4 1037.1h2.2M824.8 1037.1h2.2M860.0 1037.1h2.2M868.8 1037.1h2.2M875.4 1037.1h6.6M890.8 1037.1h19.8M912.8 1037.1h33.0M954.6 1037.1h15.4M972.2 1037.1h4.4M983.2 1037.1h2.2M987.6 1037.1h2.2M992.0 1037.1h2.2M626.8 1039.3h2.2M653.2 1039.3h15.4M670.8 1039.3h30.8M703.8 1039.3h2.2M710.4 1039.3h2.2M714.8 1039.3h4.4M725.8 1039.3h2.2M734.6 1039.3h4.4M741.2 1039.3h6.6M750.0 1039.3h2.2M758.8 1039.3h2.2M765.4 1039.3h4.4M772.0 1039.3h2.2M785.2 1039.3h2.2M794.0 1039.3h2.2M798.4 1039.3h6.6M807.2 1039.3h2.2M816.0 1039.3h2.2M822.6 1039.3h4.4M833.6 1039.3h2.2M844.6 1039.3h4.4M862.2 1039.3h2.2M871.0 1039.3h2.2M882.0 1039.3h6.6M901.8 1039.3h8.8M912.8 1039.3h11.0M926.0 1039.3h11.0M939.2 1039.3h15.4M959.0 1039.3h2.2M963.4 1039.3h6.6M972.2 1039.3h2.2M976.6 1039.3h4.4M983.2 1039.3h2.2M992.0 1039.3h2.2M648.8 1041.5h17.6M668.6 1041.5h35.2M708.2 1041.5h2.2M712.6 1041.5h4.4M725.8 1041.5h2.2M734.6 1041.5h15.4M752.2 1041.5h2.2M763.2 1041.5h4.4M774.2 1041.5h4.4M785.2 1041.5h6.6M794.0 1041.5h2.2M798.4 1041.5h2.2M805.0 1041.5h2.2M813.8 1041.5h2.2M827.0 1041.5h8.8M860.0 1041.5h6.6M871.0 1041.5h4.4M888.6 1041.5h2.2M897.4 1041.5h2.2M901.8 1041.5h13.2M917.2 1041.5h26.4M948.0 1041.5h8.8M959.0 1041.5h2.2M974.4 1041.5h2.2M985.4 1041.5h4.4M635.6 1043.7h2.2M640.0 1043.7h2.2M648.8 1043.7h4.4M657.6 1043.7h8.8M670.8 1043.7h19.8M695.0 1043.7h2.2M699.4 1043.7h11.0M712.6 1043.7h6.6M725.8 1043.7h4.4M734.6 1043.7h8.8M745.6 1043.7h2.2M750.0 1043.7h2.2M761.0 1043.7h6.6M776.4 1043.7h2.2M780.8 1043.7h2.2M787.4 1043.7h4.4M794.0 1043.7h8.8M805.0 1043.7h6.6M820.4 1043.7h2.2M824.8 1043.7h2.2M835.8 1043.7h4.4M844.6 1043.7h4.4M860.0 1043.7h2.2M873.2 1043.7h2.2M882.0 1043.7h8.8M897.4 1043.7h11.0M912.8 1043.7h6.6M921.6 1043.7h13.2M939.2 1043.7h4.4M945.8 1043.7h6.6M959.0 1043.7h8.8M985.4 1043.7h2.2M989.8 1043.7h2.2M1009.6 1043.7h2.2M607.0 1045.9h2.2M648.8 1045.9h4.4M657.6 1045.9h2.2M662.0 1045.9h24.2M690.6 1045.9h15.4M708.2 1045.9h2.2M714.8 1045.9h2.2M725.8 1045.9h6.6M734.6 1045.9h13.2M750.0 1045.9h2.2M763.2 1045.9h8.8M774.2 1045.9h2.2M780.8 1045.9h6.6M791.8 1045.9h13.2M807.2 1045.9h8.8M827.0 1045.9h2.2M840.2 1045.9h4.4M846.8 1045.9h6.6M857.8 1045.9h4.4M868.8 1045.9h2.2M875.4 1045.9h2.2M879.8 1045.9h2.2M886.4 1045.9h4.4M893.0 1045.9h6.6M901.8 1045.9h2.2M906.2 1045.9h15.4M923.8 1045.9h2.2M930.4 1045.9h4.4M937.0 1045.9h8.8M948.0 1045.9h8.8M959.0 1045.9h2.2M965.6 1045.9h4.4M633.4 1048.1h2.2M653.2 1048.1h2.2M659.8 1048.1h2.2M664.2 1048.1h46.2M712.6 1048.1h6.6M732.4 1048.1h11.0M745.6 1048.1h2.2M752.2 1048.1h2.2M756.6 1048.1h2.2M761.0 1048.1h4.4M767.6 1048.1h4.4M776.4 1048.1h8.8M787.4 1048.1h2.2M800.6 1048.1h8.8M813.8 1048.1h4.4M822.6 1048.1h2.2M829.2 1048.1h2.2M838.0 1048.1h2.2M842.4 1048.1h2.2M849.0 1048.1h2.2M853.4 1048.1h2.2M857.8 1048.1h4.4M866.6 1048.1h4.4M882.0 1048.1h4.4M890.8 1048.1h8.8M904.0 1048.1h13.2M921.6 1048.1h6.6M930.4 1048.1h19.8M954.6 1048.1h2.2M963.4 1048.1h2.2M967.8 1048.1h2.2M974.4 1048.1h2.2M983.2 1048.1h2.2M1007.4 1048.1h2.2M604.8 1050.3h4.4M622.4 1050.3h2.2M648.8 1050.3h2.2M653.2 1050.3h6.6M664.2 1050.3h22.0M690.6 1050.3h4.4M697.2 1050.3h6.6M710.4 1050.3h4.4M717.0 1050.3h2.2M721.4 1050.3h6.6M730.2 1050.3h28.6M761.0 1050.3h8.8M778.6 1050.3h2.2M789.6 1050.3h2.2M794.0 1050.3h2.2M798.4 1050.3h2.2M805.0 1050.3h6.6M816.0 1050.3h2.2M829.2 1050.3h2.2M833.6 1050.3h2.2M840.2 1050.3h2.2M844.6 1050.3h4.4M855.6 1050.3h4.4M862.2 1050.3h2.2M871.0 1050.3h2.2M877.6 1050.3h2.2M882.0 1050.3h4.4M890.8 1050.3h11.0M906.2 1050.3h6.6M915.0 1050.3h22.0M939.2 1050.3h6.6M948.0 1050.3h4.4M954.6 1050.3h8.8M967.8 1050.3h4.4M974.4 1050.3h2.2M604.8 1052.5h4.4M648.8 1052.5h2.2M653.2 1052.5h6.6M662.0 1052.5h2.2M666.4 1052.5h13.2M681.8 1052.5h11.0M695.0 1052.5h8.8M706.0 1052.5h2.2M710.4 1052.5h8.8M721.4 1052.5h2.2M725.8 1052.5h4.4M736.8 1052.5h2.2M743.4 1052.5h8.8M754.4 1052.5h4.4M763.2 1052.5h17.6M783.0 1052.5h2.2M787.4 1052.5h6.6M796.2 1052.5h11.0M813.8 1052.5h2.2M818.2 1052.5h2.2M824.8 1052.5h2.2M829.2 1052.5h2.2M844.6 1052.5h4.4M862.2 1052.5h6.6M875.4 1052.5h11.0M895.2 1052.5h2.2M899.6 1052.5h2.2M904.0 1052.5h8.8M915.0 1052.5h2.2M919.4 1052.5h33.0M959.0 1052.5h2.2M963.4 1052.5h4.4M970.0 1052.5h2.2M983.2 1052.5h2.2M1022.8 1052.5h4.4M629.0 1054.7h2.2M646.6 1054.7h2.2M651.0 1054.7h8.8M662.0 1054.7h22.0M686.2 1054.7h2.2M690.6 1054.7h4.4M697.2 1054.7h2.2M701.6 1054.7h6.6M719.2 1054.7h4.4M725.8 1054.7h8.8M741.2 1054.7h4.4M752.2 1054.7h2.2M756.6 1054.7h2.2M763.2 1054.7h4.4M769.8 1054.7h2.2M774.2 1054.7h6.6M783.0 1054.7h4.4M789.6 1054.7h2.2M796.2 1054.7h6.6M805.0 1054.7h2.2M809.4 1054.7h4.4M818.2 1054.7h4.4M824.8 1054.7h2.2M829.2 1054.7h4.4M835.8 1054.7h4.4M844.6 1054.7h2.2M857.8 1054.7h2.2M862.2 1054.7h4.4M875.4 1054.7h8.8M886.4 1054.7h4.4M899.6 1054.7h6.6M908.4 1054.7h22.0M932.6 1054.7h37.4M972.2 1054.7h4.4M994.2 1054.7h2.2M1022.8 1054.7h4.4M633.4 1056.9h2.2M642.2 1056.9h2.2M646.6 1056.9h8.8M659.8 1056.9h6.6M668.6 1056.9h24.2M695.0 1056.9h2.2M706.0 1056.9h8.8M717.0 1056.9h2.2M721.4 1056.9h2.2M725.8 1056.9h4.4M732.4 1056.9h2.2M736.8 1056.9h8.8M747.8 1056.9h13.2M763.2 1056.9h2.2M767.6 1056.9h6.6M783.0 1056.9h4.4M789.6 1056.9h2.2M796.2 1056.9h2.2M800.6 1056.9h2.2M805.0 1056.9h2.2M809.4 1056.9h6.6M824.8 1056.9h2.2M833.6 1056.9h2.2M838.0 1056.9h2.2M842.4 1056.9h2.2M849.0 1056.9h17.6M873.2 1056.9h2.2M877.6 1056.9h2.2M882.0 1056.9h17.6M901.8 1056.9h15.4M919.4 1056.9h11.0M932.6 1056.9h24.2M961.2 1056.9h2.2M965.6 1056.9h6.6M974.4 1056.9h2.2M637.8 1059.1h4.4M644.4 1059.1h2.2M648.8 1059.1h11.0M662.0 1059.1h2.2M668.6 1059.1h4.4M675.2 1059.1h6.6M686.2 1059.1h4.4M692.8 1059.1h22.0M717.0 1059.1h22.0M741.2 1059.1h4.4M747.8 1059.1h2.2M754.4 1059.1h4.4M763.2 1059.1h2.2M767.6 1059.1h2.2M772.0 1059.1h11.0M785.2 1059.1h33.0M820.4 1059.1h2.2M824.8 1059.1h2.2M838.0 1059.1h2.2M846.8 1059.1h2.2M851.2 1059.1h2.2M868.8 1059.1h6.6M879.8 1059.1h8.8M890.8 1059.1h11.0M904.0 1059.1h2.2M908.4 1059.1h2.2M912.8 1059.1h8.8M923.8 1059.1h8.8M934.8 1059.1h22.0M959.0 1059.1h8.8M970.0 1059.1h6.6M637.8 1061.3h4.4M644.4 1061.3h17.6M664.2 1061.3h4.4M670.8 1061.3h13.2M688.4 1061.3h2.2M692.8 1061.3h4.4M706.0 1061.3h8.8M717.0 1061.3h13.2M732.4 1061.3h6.6M745.6 1061.3h8.8M756.6 1061.3h4.4M765.4 1061.3h15.4M785.2 1061.3h2.2M791.8 1061.3h2.2M796.2 1061.3h19.8M820.4 1061.3h2.2M824.8 1061.3h4.4M835.8 1061.3h2.2M840.2 1061.3h2.2M846.8 1061.3h2.2M851.2 1061.3h4.4M860.0 1061.3h8.8M873.2 1061.3h11.0M886.4 1061.3h57.2M945.8 1061.3h6.6M954.6 1061.3h15.4M974.4 1061.3h6.6M987.6 1061.3h2.2M622.4 1063.5h2.2M633.4 1063.5h2.2M642.2 1063.5h15.4M659.8 1063.5h11.0M673.0 1063.5h2.2M677.4 1063.5h6.6M686.2 1063.5h2.2M690.6 1063.5h4.4M701.6 1063.5h4.4M708.2 1063.5h24.2M734.6 1063.5h19.8M756.6 1063.5h6.6M765.4 1063.5h13.2M780.8 1063.5h8.8M791.8 1063.5h2.2M796.2 1063.5h11.0M809.4 1063.5h2.2M813.8 1063.5h4.4M824.8 1063.5h2.2M835.8 1063.5h4.4M844.6 1063.5h2.2M857.8 1063.5h2.2M862.2 1063.5h4.4M873.2 1063.5h4.4M879.8 1063.5h4.4M888.6 1063.5h2.2M897.4 1063.5h2.2M908.4 1063.5h17.6M928.2 1063.5h17.6M950.2 1063.5h4.4M956.8 1063.5h2.2M961.2 1063.5h4.4M967.8 1063.5h2.2M987.6 1063.5h2.2M633.4 1065.7h2.2M642.2 1065.7h13.2M659.8 1065.7h2.2M664.2 1065.7h6.6M673.0 1065.7h6.6M684.0 1065.7h8.8M695.0 1065.7h4.4M701.6 1065.7h4.4M710.4 1065.7h4.4M717.0 1065.7h8.8M728.0 1065.7h17.6M747.8 1065.7h6.6M758.8 1065.7h4.4M767.6 1065.7h2.2M772.0 1065.7h11.0M785.2 1065.7h17.6M807.2 1065.7h11.0M822.6 1065.7h19.8M846.8 1065.7h2.2M855.6 1065.7h6.6M864.4 1065.7h13.2M882.0 1065.7h2.2M888.6 1065.7h13.2M904.0 1065.7h4.4M910.6 1065.7h24.2M937.0 1065.7h11.0M952.4 1065.7h4.4M959.0 1065.7h13.2M635.6 1067.9h4.4M646.6 1067.9h2.2M651.0 1067.9h4.4M657.6 1067.9h4.4M673.0 1067.9h2.2M681.8 1067.9h4.4M690.6 1067.9h2.2M695.0 1067.9h2.2M701.6 1067.9h11.0M714.8 1067.9h13.2M730.2 1067.9h6.6M741.2 1067.9h2.2M745.6 1067.9h2.2M752.2 1067.9h8.8M763.2 1067.9h6.6M772.0 1067.9h4.4M778.6 1067.9h6.6M787.4 1067.9h19.8M809.4 1067.9h8.8M820.4 1067.9h2.2M827.0 1067.9h2.2M831.4 1067.9h13.2M846.8 1067.9h2.2M855.6 1067.9h4.4M866.6 1067.9h90.2M959.0 1067.9h6.6M967.8 1067.9h2.2M972.2 1067.9h6.6M1000.8 1067.9h2.2M611.4 1070.1h2.2M640.0 1070.1h2.2M653.2 1070.1h2.2M657.6 1070.1h6.6M668.6 1070.1h2.2M675.2 1070.1h2.2M679.6 1070.1h24.2M706.0 1070.1h13.2M721.4 1070.1h24.2M750.0 1070.1h8.8M763.2 1070.1h2.2M772.0 1070.1h11.0M787.4 1070.1h28.6M818.2 1070.1h2.2M824.8 1070.1h22.0M849.0 1070.1h15.4M866.6 1070.1h15.4M884.2 1070.1h11.0M897.4 1070.1h15.4M915.0 1070.1h11.0M928.2 1070.1h6.6M937.0 1070.1h6.6M945.8 1070.1h4.4M954.6 1070.1h6.6M963.4 1070.1h4.4M970.0 1070.1h2.2M978.8 1070.1h2.2M983.2 1070.1h2.2M996.4 1070.1h4.4M1007.4 1070.1h2.2M631.2 1072.3h2.2M646.6 1072.3h6.6M668.6 1072.3h4.4M675.2 1072.3h6.6M684.0 1072.3h2.2M688.4 1072.3h6.6M697.2 1072.3h33.0M732.4 1072.3h13.2M747.8 1072.3h6.6M756.6 1072.3h11.0M772.0 1072.3h11.0M785.2 1072.3h8.8M796.2 1072.3h6.6M805.0 1072.3h11.0M820.4 1072.3h2.2M824.8 1072.3h2.2M829.2 1072.3h4.4M838.0 1072.3h6.6M846.8 1072.3h4.4M855.6 1072.3h11.0M871.0 1072.3h2.2M875.4 1072.3h22.0M899.6 1072.3h6.6M908.4 1072.3h13.2M923.8 1072.3h4.4M930.4 1072.3h13.2M950.2 1072.3h2.2M954.6 1072.3h4.4M961.2 1072.3h4.4M970.0 1072.3h6.6M981.0 1072.3h2.2M994.2 1072.3h2.2M637.8 1074.5h4.4M648.8 1074.5h2.2M653.2 1074.5h2.2M668.6 1074.5h8.8M684.0 1074.5h4.4M690.6 1074.5h11.0M706.0 1074.5h4.4M712.6 1074.5h4.4M723.6 1074.5h4.4M730.2 1074.5h4.4M736.8 1074.5h26.4M765.4 1074.5h4.4M772.0 1074.5h8.8M785.2 1074.5h26.4M813.8 1074.5h8.8M824.8 1074.5h4.4M831.4 1074.5h2.2M835.8 1074.5h11.0M849.0 1074.5h2.2M855.6 1074.5h2.2M860.0 1074.5h11.0M877.6 1074.5h19.8M901.8 1074.5h6.6M910.6 1074.5h4.4M917.2 1074.5h2.2M926.0 1074.5h6.6M934.8 1074.5h2.2M941.4 1074.5h6.6M950.2 1074.5h2.2M959.0 1074.5h2.2M967.8 1074.5h4.4M1005.2 1074.5h2.2M637.8 1076.7h2.2M646.6 1076.7h2.2M664.2 1076.7h2.2M670.8 1076.7h2.2M675.2 1076.7h8.8M686.2 1076.7h2.2M690.6 1076.7h13.2M706.0 1076.7h28.6M736.8 1076.7h13.2M752.2 1076.7h17.6M772.0 1076.7h6.6M780.8 1076.7h6.6M789.6 1076.7h4.4M796.2 1076.7h26.4M824.8 1076.7h2.2M829.2 1076.7h2.2M835.8 1076.7h2.2M840.2 1076.7h4.4M846.8 1076.7h11.0M860.0 1076.7h2.2M866.6 1076.7h11.0M879.8 1076.7h24.2M908.4 1076.7h4.4M915.0 1076.7h44.0M963.4 1076.7h2.2M967.8 1076.7h2.2M972.2 1076.7h2.2M1007.4 1076.7h2.2M637.8 1078.9h2.2M662.0 1078.9h8.8M673.0 1078.9h2.2M677.4 1078.9h15.4M695.0 1078.9h19.8M717.0 1078.9h8.8M728.0 1078.9h8.8M739.0 1078.9h6.6M747.8 1078.9h6.6M756.6 1078.9h4.4M763.2 1078.9h2.2M769.8 1078.9h22.0M796.2 1078.9h6.6M805.0 1078.9h2.2M809.4 1078.9h2.2M813.8 1078.9h6.6M827.0 1078.9h6.6M835.8 1078.9h13.2M851.2 1078.9h4.4M862.2 1078.9h11.0M875.4 1078.9h4.4M882.0 1078.9h8.8M893.0 1078.9h6.6M901.8 1078.9h30.8M934.8 1078.9h2.2M939.2 1078.9h4.4M945.8 1078.9h4.4M952.4 1078.9h4.4M994.2 1078.9h2.2M611.4 1081.1h4.4M637.8 1081.1h4.4M655.4 1081.1h2.2M662.0 1081.1h8.8M673.0 1081.1h4.4M679.6 1081.1h15.4M697.2 1081.1h17.6M717.0 1081.1h22.0M741.2 1081.1h24.2M767.6 1081.1h8.8M778.6 1081.1h4.4M787.4 1081.1h4.4M794.0 1081.1h13.2M809.4 1081.1h6.6M820.4 1081.1h2.2M824.8 1081.1h13.2M842.4 1081.1h6.6M851.2 1081.1h2.2M860.0 1081.1h22.0M884.2 1081.1h6.6M893.0 1081.1h24.2M919.4 1081.1h6.6M928.2 1081.1h19.8M950.2 1081.1h4.4M956.8 1081.1h4.4M967.8 1081.1h2.2M1022.8 1081.1h4.4M611.4 1083.3h4.4M644.4 1083.3h2.2M657.6 1083.3h2.2M662.0 1083.3h4.4M668.6 1083.3h6.6M677.4 1083.3h2.2M681.8 1083.3h2.2M686.2 1083.3h22.0M710.4 1083.3h4.4M717.0 1083.3h2.2M721.4 1083.3h6.6M730.2 1083.3h8.8M743.4 1083.3h11.0M758.8 1083.3h6.6M769.8 1083.3h2.2M776.4 1083.3h6.6M785.2 1083.3h8.8M796.2 1083.3h2.2M802.8 1083.3h15.4M820.4 1083.3h8.8M831.4 1083.3h4.4M838.0 1083.3h8.8M851.2 1083.3h2.2M855.6 1083.3h2.2M866.6 1083.3h8.8M879.8 1083.3h17.6M899.6 1083.3h17.6M919.4 1083.3h8.8M930.4 1083.3h8.8M941.4 1083.3h4.4M948.0 1083.3h4.4M954.6 1083.3h2.2M959.0 1083.3h8.8M978.8 1083.3h2.2M1022.8 1083.3h4.4M611.4 1085.5h2.2M648.8 1085.5h2.2M653.2 1085.5h4.4M662.0 1085.5h8.8M673.0 1085.5h2.2M679.6 1085.5h19.8M703.8 1085.5h11.0M717.0 1085.5h48.4M767.6 1085.5h2.2M774.2 1085.5h4.4M780.8 1085.5h2.2M785.2 1085.5h2.2M796.2 1085.5h22.0M820.4 1085.5h4.4M827.0 1085.5h13.2M844.6 1085.5h15.4M871.0 1085.5h8.8M882.0 1085.5h28.6M912.8 1085.5h11.0M926.0 1085.5h11.0M941.4 1085.5h8.8M952.4 1085.5h2.2M959.0 1085.5h4.4M965.6 1085.5h2.2M985.4 1085.5h2.2M1011.8 1085.5h4.4M651.0 1087.7h4.4M657.6 1087.7h2.2M662.0 1087.7h13.2M677.4 1087.7h24.2M706.0 1087.7h6.6M717.0 1087.7h13.2M732.4 1087.7h8.8M743.4 1087.7h4.4M750.0 1087.7h6.6M758.8 1087.7h2.2M763.2 1087.7h2.2M769.8 1087.7h6.6M778.6 1087.7h4.4M787.4 1087.7h4.4M796.2 1087.7h2.2M800.6 1087.7h28.6M831.4 1087.7h11.0M846.8 1087.7h6.6M862.2 1087.7h2.2M866.6 1087.7h11.0M879.8 1087.7h2.2M884.2 1087.7h11.0M897.4 1087.7h4.4M904.0 1087.7h2.2M910.6 1087.7h8.8M921.6 1087.7h6.6M930.4 1087.7h13.2M945.8 1087.7h6.6M954.6 1087.7h2.2M959.0 1087.7h13.2M1011.8 1087.7h2.2M1018.4 1087.7h2.2M651.0 1089.9h2.2M655.4 1089.9h2.2M659.8 1089.9h15.4M679.6 1089.9h15.4M699.4 1089.9h8.8M710.4 1089.9h15.4M728.0 1089.9h2.2M732.4 1089.9h6.6M741.2 1089.9h8.8M752.2 1089.9h4.4M761.0 1089.9h13.2M778.6 1089.9h4.4M785.2 1089.9h6.6M798.4 1089.9h4.4M805.0 1089.9h4.4M811.6 1089.9h37.4M851.2 1089.9h11.0M864.4 1089.9h4.4M873.2 1089.9h15.4M890.8 1089.9h19.8M912.8 1089.9h4.4M919.4 1089.9h2.2M926.0 1089.9h2.2M930.4 1089.9h2.2M934.8 1089.9h2.2M941.4 1089.9h4.4M948.0 1089.9h4.4M954.6 1089.9h4.4M961.2 1089.9h6.6M655.4 1092.1h6.6M664.2 1092.1h2.2M673.0 1092.1h8.8M684.0 1092.1h17.6M706.0 1092.1h2.2M712.6 1092.1h39.6M754.4 1092.1h4.4M761.0 1092.1h6.6M769.8 1092.1h11.0M785.2 1092.1h6.6M798.4 1092.1h13.2M813.8 1092.1h8.8M824.8 1092.1h22.0M851.2 1092.1h13.2M868.8 1092.1h2.2M873.2 1092.1h11.0M888.6 1092.1h2.2M893.0 1092.1h4.4M899.6 1092.1h4.4M906.2 1092.1h2.2M915.0 1092.1h13.2M930.4 1092.1h6.6M941.4 1092.1h2.2M948.0 1092.1h6.6M959.0 1092.1h6.6M967.8 1092.1h2.2M972.2 1092.1h2.2M976.6 1092.1h2.2M1040.4 1092.1h4.4M644.4 1094.3h2.2M651.0 1094.3h2.2M655.4 1094.3h2.2M666.4 1094.3h2.2M670.8 1094.3h15.4M688.4 1094.3h4.4M695.0 1094.3h2.2M699.4 1094.3h4.4M706.0 1094.3h2.2M710.4 1094.3h15.4M732.4 1094.3h4.4M739.0 1094.3h2.2M743.4 1094.3h2.2M747.8 1094.3h15.4M767.6 1094.3h2.2M772.0 1094.3h11.0M785.2 1094.3h4.4M796.2 1094.3h13.2M811.6 1094.3h2.2M824.8 1094.3h19.8M849.0 1094.3h26.4M879.8 1094.3h4.4M886.4 1094.3h2.2M890.8 1094.3h2.2M895.2 1094.3h17.6M917.2 1094.3h8.8M928.2 1094.3h8.8M943.6 1094.3h2.2M950.2 1094.3h11.0M963.4 1094.3h2.2M1040.4 1094.3h4.4M651.0 1096.5h8.8M662.0 1096.5h2.2M668.6 1096.5h2.2M677.4 1096.5h4.4M692.8 1096.5h4.4M706.0 1096.5h8.8M719.2 1096.5h6.6M728.0 1096.5h24.2M754.4 1096.5h26.4M783.0 1096.5h8.8M796.2 1096.5h8.8M809.4 1096.5h6.6M820.4 1096.5h4.4M831.4 1096.5h11.0M844.6 1096.5h6.6M855.6 1096.5h11.0M868.8 1096.5h2.2M873.2 1096.5h6.6M882.0 1096.5h11.0M895.2 1096.5h13.2M910.6 1096.5h6.6M919.4 1096.5h2.2M926.0 1096.5h4.4M934.8 1096.5h8.8M950.2 1096.5h8.8M961.2 1096.5h2.2M965.6 1096.5h2.2M613.6 1098.7h2.2M646.6 1098.7h2.2M651.0 1098.7h6.6M662.0 1098.7h2.2M668.6 1098.7h2.2M673.0 1098.7h2.2M677.4 1098.7h2.2M681.8 1098.7h2.2M690.6 1098.7h15.4M712.6 1098.7h2.2M717.0 1098.7h8.8M730.2 1098.7h2.2M739.0 1098.7h6.6M747.8 1098.7h4.4M758.8 1098.7h2.2M763.2 1098.7h2.2M769.8 1098.7h11.0M785.2 1098.7h4.4M794.0 1098.7h2.2M798.4 1098.7h8.8M811.6 1098.7h2.2M818.2 1098.7h2.2M822.6 1098.7h2.2M827.0 1098.7h6.6M835.8 1098.7h37.4M875.4 1098.7h11.0M888.6 1098.7h13.2M904.0 1098.7h11.0M919.4 1098.7h2.2M926.0 1098.7h22.0M954.6 1098.7h6.6M644.4 1100.9h2.2M653.2 1100.9h2.2M657.6 1100.9h2.2M662.0 1100.9h2.2M670.8 1100.9h4.4M679.6 1100.9h2.2M684.0 1100.9h2.2M692.8 1100.9h2.2M699.4 1100.9h6.6M710.4 1100.9h17.6M730.2 1100.9h4.4M736.8 1100.9h2.2M741.2 1100.9h11.0M754.4 1100.9h2.2M758.8 1100.9h6.6M767.6 1100.9h4.4M776.4 1100.9h2.2M798.4 1100.9h2.2M818.2 1100.9h2.2M827.0 1100.9h4.4M835.8 1100.9h35.2M873.2 1100.9h35.2M910.6 1100.9h6.6M919.4 1100.9h4.4M928.2 1100.9h4.4M934.8 1100.9h4.4M941.4 1100.9h13.2M959.0 1100.9h4.4M970.0 1100.9h2.2M983.2 1100.9h2.2M644.4 1103.1h6.6M666.4 1103.1h2.2M677.4 1103.1h2.2M686.2 1103.1h2.2M690.6 1103.1h13.2M708.2 1103.1h2.2M717.0 1103.1h2.2M721.4 1103.1h4.4M728.0 1103.1h2.2M732.4 1103.1h6.6M743.4 1103.1h2.2M750.0 1103.1h4.4M756.6 1103.1h4.4M763.2 1103.1h8.8M774.2 1103.1h2.2M787.4 1103.1h2.2M798.4 1103.1h4.4M807.2 1103.1h2.2M813.8 1103.1h2.2M818.2 1103.1h2.2M822.6 1103.1h4.4M829.2 1103.1h2.2M833.6 1103.1h6.6M842.4 1103.1h2.2M846.8 1103.1h15.4M864.4 1103.1h15.4M882.0 1103.1h11.0M895.2 1103.1h15.4M915.0 1103.1h8.8M928.2 1103.1h8.8M939.2 1103.1h2.2M943.6 1103.1h8.8M954.6 1103.1h2.2M963.4 1103.1h8.8M987.6 1103.1h2.2M666.4 1105.3h2.2M688.4 1105.3h8.8M708.2 1105.3h2.2M714.8 1105.3h6.6M725.8 1105.3h4.4M732.4 1105.3h4.4M739.0 1105.3h4.4M747.8 1105.3h2.2M756.6 1105.3h2.2M761.0 1105.3h2.2M767.6 1105.3h11.0M787.4 1105.3h2.2M798.4 1105.3h6.6M813.8 1105.3h2.2M831.4 1105.3h6.6M840.2 1105.3h4.4M846.8 1105.3h6.6M857.8 1105.3h2.2M864.4 1105.3h8.8M877.6 1105.3h17.6M899.6 1105.3h4.4M906.2 1105.3h8.8M917.2 1105.3h6.6M926.0 1105.3h2.2M932.6 1105.3h2.2M937.0 1105.3h6.6M945.8 1105.3h8.8M967.8 1105.3h8.8M981.0 1105.3h2.2M664.2 1107.5h4.4M681.8 1107.5h2.2M686.2 1107.5h2.2M690.6 1107.5h2.2M695.0 1107.5h6.6M708.2 1107.5h2.2M712.6 1107.5h6.6M721.4 1107.5h2.2M730.2 1107.5h11.0M747.8 1107.5h4.4M756.6 1107.5h4.4M763.2 1107.5h6.6M800.6 1107.5h2.2M813.8 1107.5h2.2M833.6 1107.5h13.2M851.2 1107.5h6.6M860.0 1107.5h30.8M893.0 1107.5h28.6M923.8 1107.5h6.6M932.6 1107.5h2.2M941.4 1107.5h15.4M972.2 1107.5h2.2M992.0 1107.5h4.4M631.2 1109.7h8.8M644.4 1109.7h2.2M684.0 1109.7h2.2M688.4 1109.7h6.6M708.2 1109.7h4.4M714.8 1109.7h2.2M723.6 1109.7h4.4M730.2 1109.7h2.2M734.6 1109.7h2.2M739.0 1109.7h2.2M743.4 1109.7h4.4M756.6 1109.7h6.6M767.6 1109.7h4.4M774.2 1109.7h2.2M785.2 1109.7h4.4M800.6 1109.7h2.2M813.8 1109.7h4.4M831.4 1109.7h2.2M835.8 1109.7h6.6M844.6 1109.7h4.4M851.2 1109.7h13.2M866.6 1109.7h8.8M877.6 1109.7h2.2M886.4 1109.7h4.4M893.0 1109.7h4.4M906.2 1109.7h17.6M952.4 1109.7h4.4M970.0 1109.7h2.2M992.0 1109.7h4.4M631.2 1111.9h6.6M659.8 1111.9h2.2M668.6 1111.9h2.2M706.0 1111.9h2.2M710.4 1111.9h2.2M717.0 1111.9h4.4M734.6 1111.9h2.2M743.4 1111.9h4.4M756.6 1111.9h2.2M767.6 1111.9h2.2M776.4 1111.9h2.2M785.2 1111.9h2.2M807.2 1111.9h2.2M816.0 1111.9h2.2M827.0 1111.9h2.2M833.6 1111.9h2.2M842.4 1111.9h4.4M849.0 1111.9h8.8M860.0 1111.9h19.8M882.0 1111.9h6.6M893.0 1111.9h15.4M912.8 1111.9h4.4M919.4 1111.9h8.8M932.6 1111.9h2.2M954.6 1111.9h4.4M961.2 1111.9h2.2M1018.4 1111.9h4.4M618.0 1114.1h4.4M633.4 1114.1h4.4M659.8 1114.1h2.2M684.0 1114.1h2.2M690.6 1114.1h2.2M706.0 1114.1h4.4M714.8 1114.1h4.4M723.6 1114.1h2.2M730.2 1114.1h4.4M750.0 1114.1h2.2M754.4 1114.1h2.2M794.0 1114.1h2.2M802.8 1114.1h2.2M813.8 1114.1h2.2M833.6 1114.1h4.4M840.2 1114.1h2.2M844.6 1114.1h2.2M851.2 1114.1h6.6M860.0 1114.1h13.2M875.4 1114.1h6.6M886.4 1114.1h22.0M910.6 1114.1h22.0M937.0 1114.1h2.2M952.4 1114.1h2.2M956.8 1114.1h4.4M963.4 1114.1h2.2M1018.4 1114.1h4.4M618.0 1116.3h8.8M633.4 1116.3h4.4M653.2 1116.3h2.2M662.0 1116.3h2.2M677.4 1116.3h2.2M703.8 1116.3h6.6M714.8 1116.3h2.2M734.6 1116.3h2.2M747.8 1116.3h2.2M772.0 1116.3h4.4M787.4 1116.3h2.2M802.8 1116.3h2.2M807.2 1116.3h2.2M813.8 1116.3h4.4M827.0 1116.3h2.2M835.8 1116.3h2.2M842.4 1116.3h8.8M853.4 1116.3h4.4M862.2 1116.3h22.0M886.4 1116.3h2.2M890.8 1116.3h6.6M899.6 1116.3h26.4M952.4 1116.3h2.2M961.2 1116.3h2.2M994.2 1116.3h2.2M576.2 1118.5h4.4M622.4 1118.5h4.4M657.6 1118.5h4.4M664.2 1118.5h2.2M701.6 1118.5h13.2M728.0 1118.5h2.2M732.4 1118.5h2.2M741.2 1118.5h4.4M747.8 1118.5h2.2M754.4 1118.5h2.2M763.2 1118.5h2.2M772.0 1118.5h2.2M785.2 1118.5h2.2M833.6 1118.5h6.6M844.6 1118.5h2.2M849.0 1118.5h4.4M855.6 1118.5h2.2M864.4 1118.5h11.0M877.6 1118.5h2.2M886.4 1118.5h6.6M895.2 1118.5h2.2M899.6 1118.5h4.4M906.2 1118.5h4.4M912.8 1118.5h2.2M917.2 1118.5h6.6M930.4 1118.5h2.2M965.6 1118.5h2.2M992.0 1118.5h4.4M576.2 1120.7h4.4M613.6 1120.7h4.4M624.6 1120.7h2.2M657.6 1120.7h4.4M673.0 1120.7h2.2M699.4 1120.7h2.2M728.0 1120.7h2.2M732.4 1120.7h2.2M745.6 1120.7h2.2M750.0 1120.7h2.2M754.4 1120.7h2.2M769.8 1120.7h2.2M785.2 1120.7h2.2M800.6 1120.7h2.2M816.0 1120.7h2.2M822.6 1120.7h2.2M838.0 1120.7h2.2M846.8 1120.7h2.2M855.6 1120.7h17.6M875.4 1120.7h15.4M893.0 1120.7h2.2M897.4 1120.7h4.4M904.0 1120.7h6.6M912.8 1120.7h11.0M926.0 1120.7h11.0M939.2 1120.7h2.2M954.6 1120.7h4.4M985.4 1120.7h4.4M613.6 1122.9h4.4M670.8 1122.9h2.2M697.2 1122.9h4.4M710.4 1122.9h2.2M717.0 1122.9h4.4M783.0 1122.9h4.4M835.8 1122.9h2.2M840.2 1122.9h8.8M853.4 1122.9h2.2M857.8 1122.9h4.4M864.4 1122.9h6.6M873.2 1122.9h17.6M893.0 1122.9h4.4M899.6 1122.9h4.4M906.2 1122.9h4.4M921.6 1122.9h6.6M932.6 1122.9h2.2M941.4 1122.9h2.2M956.8 1122.9h2.2M985.4 1122.9h4.4M996.4 1122.9h4.4M629.0 1125.1h2.2M644.4 1125.1h4.4M697.2 1125.1h2.2M701.6 1125.1h2.2M756.6 1125.1h2.2M783.0 1125.1h4.4M842.4 1125.1h2.2M846.8 1125.1h4.4M857.8 1125.1h11.0M875.4 1125.1h6.6M884.2 1125.1h8.8M899.6 1125.1h6.6M912.8 1125.1h2.2M917.2 1125.1h2.2M921.6 1125.1h2.2M926.0 1125.1h4.4M932.6 1125.1h6.6M941.4 1125.1h2.2M996.4 1125.1h4.4M626.8 1127.3h4.4M644.4 1127.3h4.4M653.2 1127.3h4.4M728.0 1127.3h4.4M739.0 1127.3h2.2M752.2 1127.3h2.2M767.6 1127.3h6.6M824.8 1127.3h2.2M838.0 1127.3h2.2M849.0 1127.3h6.6M866.6 1127.3h2.2M871.0 1127.3h19.8M893.0 1127.3h2.2M901.8 1127.3h4.4M912.8 1127.3h4.4M921.6 1127.3h8.8M932.6 1127.3h2.2M970.0 1127.3h2.2M653.2 1129.5h4.4M697.2 1129.5h2.2M701.6 1129.5h2.2M769.8 1129.5h4.4M838.0 1129.5h6.6M849.0 1129.5h2.2M866.6 1129.5h4.4M873.2 1129.5h6.6M884.2 1129.5h2.2M890.8 1129.5h8.8M901.8 1129.5h2.2M906.2 1129.5h2.2M912.8 1129.5h11.0M926.0 1129.5h4.4M932.6 1129.5h2.2M983.2 1129.5h2.2M703.8 1131.7h2.2M736.8 1131.7h4.4M743.4 1131.7h2.2M769.8 1131.7h4.4M849.0 1131.7h4.4M868.8 1131.7h6.6M877.6 1131.7h2.2M882.0 1131.7h13.2M897.4 1131.7h2.2M904.0 1131.7h2.2M915.0 1131.7h4.4M921.6 1131.7h2.2M928.2 1131.7h11.0M987.6 1131.7h2.2M686.2 1133.9h2.2M695.0 1133.9h2.2M708.2 1133.9h2.2M723.6 1133.9h2.2M769.8 1133.9h4.4M840.2 1133.9h2.2M851.2 1133.9h2.2M864.4 1133.9h2.2M871.0 1133.9h4.4M877.6 1133.9h22.0M906.2 1133.9h6.6M915.0 1133.9h4.4M932.6 1133.9h2.2M948.0 1133.9h2.2M728.0 1136.1h2.2M752.2 1136.1h2.2M840.2 1136.1h2.2M857.8 1136.1h2.2M868.8 1136.1h2.2M879.8 1136.1h6.6M888.6 1136.1h6.6M897.4 1136.1h2.2M908.4 1136.1h2.2M917.2 1136.1h6.6M928.2 1136.1h2.2M939.2 1136.1h2.2M952.4 1136.1h2.2M1011.8 1136.1h4.4M719.2 1138.3h4.4M842.4 1138.3h4.4M853.4 1138.3h2.2M862.2 1138.3h2.2M873.2 1138.3h2.2M877.6 1138.3h15.4M897.4 1138.3h4.4M908.4 1138.3h2.2M923.8 1138.3h2.2M930.4 1138.3h4.4M937.0 1138.3h2.2M1005.2 1138.3h4.4M1011.8 1138.3h4.4M719.2 1140.5h8.8M866.6 1140.5h2.2M875.4 1140.5h2.2M879.8 1140.5h6.6M888.6 1140.5h4.4M899.6 1140.5h2.2M904.0 1140.5h2.2M923.8 1140.5h4.4M937.0 1140.5h4.4M952.4 1140.5h4.4M1005.2 1140.5h4.4M723.6 1142.7h2.2M761.0 1142.7h2.2M811.6 1142.7h4.4M844.6 1142.7h2.2M877.6 1142.7h4.4M884.2 1142.7h8.8M897.4 1142.7h2.2M904.0 1142.7h2.2M912.8 1142.7h2.2M926.0 1142.7h4.4M987.6 1142.7h4.4M783.0 1144.9h2.2M811.6 1144.9h4.4M855.6 1144.9h4.4M882.0 1144.9h13.2M899.6 1144.9h2.2M904.0 1144.9h2.2M912.8 1144.9h2.2M917.2 1144.9h2.2M926.0 1144.9h2.2M941.4 1144.9h2.2M959.0 1144.9h2.2M987.6 1144.9h4.4M710.4 1147.1h2.2M846.8 1147.1h2.2M860.0 1147.1h6.6M886.4 1147.1h6.6M901.8 1147.1h2.2M917.2 1147.1h2.2M921.6 1147.1h2.2M932.6 1147.1h2.2M943.6 1147.1h4.4M681.8 1149.3h4.4M692.8 1149.3h4.4M846.8 1149.3h2.2M855.6 1149.3h2.2M884.2 1149.3h2.2M888.6 1149.3h4.4M904.0 1149.3h4.4M930.4 1149.3h6.6M943.6 1149.3h2.2M948.0 1149.3h2.2M959.0 1149.3h2.2M681.8 1151.5h4.4M692.8 1151.5h4.4M835.8 1151.5h2.2M849.0 1151.5h2.2M879.8 1151.5h2.2M893.0 1151.5h2.2M906.2 1151.5h2.2M934.8 1151.5h2.2M948.0 1151.5h2.2M1036.0 1151.5h2.2M857.8 1153.7h2.2M886.4 1153.7h15.4M941.4 1153.7h2.2M956.8 1153.7h2.2M714.8 1155.9h2.2M734.6 1155.9h4.4M741.2 1155.9h2.2M868.8 1155.9h2.2M890.8 1155.9h2.2M895.2 1155.9h2.2M908.4 1155.9h4.4M734.6 1158.1h4.4M857.8 1158.1h2.2M893.0 1158.1h4.4M899.6 1158.1h2.2M906.2 1158.1h6.6M928.2 1158.1h2.2M939.2 1158.1h2.2M956.8 1158.1h4.4M965.6 1158.1h2.2M899.6 1160.3h4.4M928.2 1160.3h2.2M941.4 1160.3h4.4M956.8 1160.3h2.2M961.2 1160.3h6.6M677.4 1162.5h4.4M862.2 1162.5h2.2M888.6 1162.5h2.2M897.4 1162.5h4.4M908.4 1162.5h2.2M959.0 1162.5h4.4M677.4 1164.7h4.4M897.4 1164.7h2.2M904.0 1164.7h2.2M908.4 1164.7h2.2M912.8 1164.7h2.2M934.8 1164.7h2.2M961.2 1164.7h2.2M967.8 1164.7h4.4M904.0 1166.9h2.2M908.4 1166.9h2.2M915.0 1166.9h2.2M921.6 1166.9h2.2M967.8 1166.9h4.4M899.6 1169.1h2.2M919.4 1169.1h2.2M917.2 1175.7h2.2M897.4 1177.9h4.4M904.0 1177.9h2.2M908.4 1177.9h2.2M917.2 1177.9h2.2M923.8 1177.9h8.8M976.6 1177.9h6.6M897.4 1180.1h4.4M923.8 1180.1h2.2M928.2 1180.1h4.4M976.6 1180.1h6.6M642.2 1182.3h4.4M642.2 1184.5h4.4M910.6 1191.1h2.2M915.0 1191.1h2.2M910.6 1193.3h4.4M932.6 1193.3h2.2M910.6 1195.5h4.4M923.8 1195.5h4.4M952.4 1195.5h2.2M923.8 1197.7h4.4M932.6 1219.7h4.4M932.6 1221.9h4.4M952.4 1224.1h4.4M952.4 1226.3h4.4" stroke="#3c6599" stroke-width="2.25" fill="none"/>
<path d="M840.2 768.7h4.4M840.2 770.9h4.4M780.8 790.7h2.2M811.6 801.7h2.2M910.6 803.9h2.2M673.0 814.9h2.2M886.4 823.7h4.4M948.0 823.7h4.4M959.0 823.7h4.4M978.8 823.7h2.2M886.4 825.9h4.4M948.0 825.9h4.4M959.0 825.9h4.4M860.0 828.1h4.4M868.8 828.1h4.4M976.6 828.1h2.2M831.4 830.3h2.2M860.0 830.3h4.4M868.8 830.3h2.2M974.4 830.3h4.4M864.4 832.5h4.4M943.6 832.5h4.4M950.2 832.5h4.4M974.4 832.5h4.4M741.2 834.7h4.4M864.4 834.7h4.4M941.4 834.7h6.6M965.6 834.7h4.4M972.2 834.7h2.2M604.8 836.9h2.2M741.2 836.9h4.4M965.6 836.9h2.2M983.2 836.9h4.4M688.4 839.1h4.4M732.4 839.1h4.4M868.8 839.1h2.2M893.0 839.1h2.2M915.0 839.1h2.2M983.2 839.1h4.4M675.2 841.3h4.4M688.4 841.3h4.4M732.4 841.3h4.4M890.8 841.3h2.2M915.0 841.3h2.2M926.0 841.3h2.2M934.8 841.3h4.4M965.6 841.3h4.4M675.2 843.5h4.4M708.2 843.5h4.4M756.6 843.5h4.4M890.8 843.5h2.2M930.4 843.5h2.2M959.0 843.5h2.2M965.6 843.5h4.4M708.2 845.7h4.4M756.6 845.7h4.4M844.6 845.7h4.4M860.0 845.7h2.2M884.2 845.7h6.6M976.6 845.7h4.4M1022.8 845.7h4.4M840.2 847.9h8.8M895.2 847.9h2.2M908.4 847.9h2.2M928.2 847.9h2.2M934.8 847.9h2.2M952.4 847.9h2.2M976.6 847.9h4.4M987.6 847.9h4.4M1022.8 847.9h4.4M780.8 850.1h4.4M840.2 850.1h4.4M893.0 850.1h2.2M950.2 850.1h2.2M965.6 850.1h2.2M987.6 850.1h4.4M739.0 852.3h2.2M778.6 852.3h6.6M835.8 852.3h8.8M846.8 852.3h2.2M853.4 852.3h2.2M921.6 852.3h2.2M930.4 852.3h4.4M1025.0 852.3h2.2M734.6 854.5h4.4M778.6 854.5h4.4M787.4 854.5h4.4M820.4 854.5h2.2M838.0 854.5h8.8M849.0 854.5h2.2M871.0 854.5h8.8M976.6 854.5h4.4M666.4 856.7h2.2M734.6 856.7h4.4M741.2 856.7h2.2M763.2 856.7h2.2M787.4 856.7h4.4M816.0 856.7h6.6M824.8 856.7h2.2M853.4 856.7h2.2M954.6 856.7h2.2M959.0 856.7h2.2M976.6 856.7h4.4M706.0 858.9h4.4M772.0 858.9h2.2M816.0 858.9h2.2M842.4 858.9h2.2M890.8 858.9h2.2M904.0 858.9h2.2M912.8 858.9h2.2M974.4 858.9h2.2M706.0 861.1h4.4M719.2 861.1h2.2M736.8 861.1h2.2M842.4 861.1h2.2M851.2 861.1h2.2M862.2 861.1h2.2M930.4 861.1h2.2M673.0 863.3h2.2M690.6 863.3h6.6M706.0 863.3h2.2M758.8 863.3h2.2M798.4 863.3h2.2M802.8 863.3h2.2M840.2 863.3h2.2M912.8 863.3h2.2M1000.8 863.3h4.4M695.0 865.5h2.2M813.8 865.5h2.2M886.4 865.5h2.2M1000.8 865.5h4.4M721.4 867.7h2.2M736.8 867.7h2.2M741.2 867.7h2.2M758.8 867.7h2.2M805.0 867.7h2.2M809.4 867.7h2.2M818.2 867.7h2.2M822.6 867.7h2.2M831.4 867.7h2.2M864.4 867.7h2.2M686.2 869.9h2.2M763.2 869.9h2.2M783.0 869.9h2.2M884.2 869.9h2.2M910.6 869.9h2.2M917.2 869.9h2.2M967.8 869.9h2.2M992.0 869.9h4.4M673.0 872.1h4.4M681.8 872.1h4.4M756.6 872.1h2.2M789.6 872.1h2.2M802.8 872.1h2.2M851.2 872.1h2.2M875.4 872.1h2.2M879.8 872.1h2.2M934.8 872.1h2.2M992.0 872.1h4.4M673.0 874.3h4.4M681.8 874.3h4.4M706.0 874.3h2.2M728.0 874.3h2.2M734.6 874.3h2.2M750.0 874.3h2.2M754.4 874.3h2.2M767.6 874.3h2.2M772.0 874.3h2.2M809.4 874.3h2.2M829.2 874.3h2.2M921.6 874.3h2.2M978.8 874.3h4.4M987.6 874.3h2.2M681.8 876.5h4.4M789.6 876.5h2.2M860.0 876.5h2.2M884.2 876.5h2.2M934.8 876.5h2.2M994.2 876.5h4.4M684.0 878.7h2.2M796.2 878.7h2.2M868.8 878.7h2.2M943.6 878.7h2.2M994.2 878.7h4.4M1003.0 878.7h4.4M1011.8 878.7h4.4M688.4 880.9h4.4M714.8 880.9h2.2M791.8 880.9h2.2M802.8 880.9h2.2M809.4 880.9h2.2M816.0 880.9h2.2M846.8 880.9h2.2M866.6 880.9h2.2M930.4 880.9h2.2M943.6 880.9h2.2M954.6 880.9h2.2M998.6 880.9h11.0M1011.8 880.9h4.4M653.2 883.1h2.2M679.6 883.1h2.2M816.0 883.1h2.2M842.4 883.1h2.2M857.8 883.1h2.2M862.2 883.1h2.2M877.6 883.1h4.4M895.2 883.1h2.2M998.6 883.1h4.4M1005.2 883.1h4.4M670.8 885.3h4.4M684.0 885.3h2.2M763.2 885.3h2.2M846.8 885.3h2.2M862.2 885.3h2.2M989.8 885.3h2.2M574.0 887.5h4.4M670.8 887.5h4.4M719.2 887.5h2.2M796.2 887.5h4.4M840.2 887.5h2.2M873.2 887.5h2.2M890.8 887.5h2.2M926.0 887.5h2.2M934.8 887.5h2.2M945.8 887.5h2.2M956.8 887.5h2.2M972.2 887.5h2.2M574.0 889.7h4.4M670.8 889.7h2.2M734.6 889.7h2.2M780.8 889.7h2.2M862.2 889.7h2.2M877.6 889.7h2.2M882.0 889.7h2.2M886.4 889.7h2.2M930.4 889.7h2.2M934.8 889.7h2.2M976.6 889.7h2.2M983.2 889.7h2.2M987.6 889.7h2.2M992.0 889.7h2.2M996.4 889.7h2.2M684.0 891.9h4.4M712.6 891.9h2.2M719.2 891.9h2.2M816.0 891.9h2.2M871.0 891.9h4.4M877.6 891.9h2.2M945.8 891.9h2.2M981.0 891.9h2.2M992.0 891.9h2.2M1005.2 891.9h4.4M1027.2 891.9h2.2M1031.6 891.9h2.2M624.6 894.1h4.4M673.0 894.1h2.2M695.0 894.1h2.2M699.4 894.1h2.2M824.8 894.1h2.2M875.4 894.1h2.2M912.8 894.1h2.2M921.6 894.1h2.2M956.8 894.1h2.2M967.8 894.1h2.2M983.2 894.1h2.2M1005.2 894.1h4.4M1022.8 894.1h4.4M593.8 896.3h2.2M624.6 896.3h4.4M635.6 896.3h2.2M679.6 896.3h2.2M712.6 896.3h2.2M734.6 896.3h2.2M857.8 896.3h2.2M864.4 896.3h2.2M897.4 896.3h2.2M910.6 896.3h2.2M943.6 896.3h2.2M959.0 896.3h2.2M1022.8 896.3h4.4M679.6 898.5h2.2M697.2 898.5h2.2M734.6 898.5h2.2M750.0 898.5h2.2M774.2 898.5h2.2M809.4 898.5h2.2M820.4 898.5h4.4M827.0 898.5h2.2M853.4 898.5h2.2M862.2 898.5h2.2M893.0 898.5h2.2M950.2 898.5h2.2M956.8 898.5h2.2M1003.0 898.5h2.2M1009.6 898.5h2.2M629.0 900.7h4.4M697.2 900.7h2.2M739.0 900.7h2.2M772.0 900.7h2.2M805.0 900.7h2.2M818.2 900.7h2.2M824.8 900.7h2.2M851.2 900.7h2.2M879.8 900.7h4.4M906.2 900.7h2.2M917.2 900.7h2.2M974.4 900.7h2.2M1016.2 900.7h4.4M1029.4 900.7h2.2M629.0 902.9h4.4M741.2 902.9h4.4M752.2 902.9h2.2M756.6 902.9h2.2M774.2 902.9h2.2M820.4 902.9h4.4M835.8 902.9h2.2M840.2 902.9h2.2M851.2 902.9h2.2M862.2 902.9h11.0M875.4 902.9h2.2M879.8 902.9h2.2M893.0 902.9h2.2M904.0 902.9h2.2M910.6 902.9h2.2M919.4 902.9h2.2M1016.2 902.9h2.2M1025.0 902.9h6.6M692.8 905.1h2.2M706.0 905.1h2.2M710.4 905.1h2.2M736.8 905.1h2.2M743.4 905.1h2.2M767.6 905.1h2.2M851.2 905.1h2.2M862.2 905.1h2.2M871.0 905.1h2.2M890.8 905.1h2.2M897.4 905.1h2.2M904.0 905.1h2.2M970.0 905.1h2.2M1005.2 905.1h2.2M1025.0 905.1h4.4M1042.6 905.1h4.4M530.0 907.3h4.4M708.2 907.3h2.2M712.6 907.3h2.2M734.6 907.3h2.2M752.2 907.3h2.2M794.0 907.3h2.2M807.2 907.3h2.2M829.2 907.3h2.2M868.8 907.3h2.2M879.8 907.3h2.2M886.4 907.3h2.2M890.8 907.3h2.2M895.2 907.3h2.2M901.8 907.3h2.2M932.6 907.3h2.2M1042.6 907.3h4.4M530.0 909.5h4.4M644.4 909.5h2.2M666.4 909.5h2.2M712.6 909.5h6.6M739.0 909.5h2.2M747.8 909.5h2.2M754.4 909.5h2.2M761.0 909.5h2.2M772.0 909.5h6.6M798.4 909.5h2.2M802.8 909.5h2.2M809.4 909.5h2.2M818.2 909.5h2.2M833.6 909.5h2.2M838.0 909.5h2.2M846.8 909.5h2.2M857.8 909.5h2.2M864.4 909.5h4.4M873.2 909.5h2.2M901.8 909.5h4.4M919.4 909.5h4.4M943.6 909.5h2.2M956.8 909.5h2.2M965.6 909.5h2.2M972.2 909.5h2.2M985.4 909.5h2.2M648.8 911.7h4.4M657.6 911.7h2.2M703.8 911.7h2.2M710.4 911.7h6.6M728.0 911.7h2.2M732.4 911.7h2.2M778.6 911.7h2.2M805.0 911.7h2.2M811.6 911.7h2.2M838.0 911.7h4.4M857.8 911.7h2.2M864.4 911.7h2.2M884.2 911.7h2.2M888.6 911.7h4.4M917.2 911.7h2.2M948.0 911.7h2.2M1003.0 911.7h2.2M664.2 913.9h2.2M688.4 913.9h2.2M723.6 913.9h2.2M752.2 913.9h2.2M756.6 913.9h2.2M761.0 913.9h2.2M789.6 913.9h2.2M796.2 913.9h2.2M800.6 913.9h2.2M805.0 913.9h4.4M827.0 913.9h2.2M833.6 913.9h2.2M849.0 913.9h2.2M853.4 913.9h2.2M862.2 913.9h4.4M868.8 913.9h2.2M873.2 913.9h2.2M877.6 913.9h4.4M884.2 913.9h4.4M890.8 913.9h2.2M897.4 913.9h2.2M912.8 913.9h2.2M919.4 913.9h2.2M926.0 913.9h2.2M1036.0 913.9h2.2M688.4 916.1h2.2M703.8 916.1h2.2M714.8 916.1h2.2M730.2 916.1h2.2M734.6 916.1h2.2M747.8 916.1h2.2M754.4 916.1h2.2M767.6 916.1h4.4M776.4 916.1h2.2M787.4 916.1h2.2M802.8 916.1h4.4M818.2 916.1h2.2M827.0 916.1h2.2M849.0 916.1h4.4M855.6 916.1h2.2M866.6 916.1h2.2M871.0 916.1h2.2M884.2 916.1h6.6M893.0 916.1h2.2M912.8 916.1h2.2M919.4 916.1h2.2M930.4 916.1h2.2M937.0 916.1h4.4M989.8 916.1h2.2M1033.8 916.1h4.4M708.2 918.3h2.2M712.6 918.3h2.2M717.0 918.3h2.2M721.4 918.3h2.2M728.0 918.3h2.2M743.4 918.3h2.2M750.0 918.3h4.4M772.0 918.3h2.2M776.4 918.3h2.2M794.0 918.3h2.2M818.2 918.3h2.2M831.4 918.3h4.4M840.2 918.3h2.2M846.8 918.3h11.0M860.0 918.3h2.2M877.6 918.3h4.4M888.6 918.3h2.2M908.4 918.3h2.2M912.8 918.3h4.4M919.4 918.3h4.4M948.0 918.3h2.2M1003.0 918.3h2.2M1009.6 918.3h2.2M640.0 920.5h2.2M710.4 920.5h2.2M721.4 920.5h2.2M728.0 920.5h2.2M732.4 920.5h2.2M747.8 920.5h2.2M752.2 920.5h4.4M769.8 920.5h2.2M774.2 920.5h2.2M787.4 920.5h4.4M807.2 920.5h4.4M842.4 920.5h2.2M851.2 920.5h8.8M866.6 920.5h2.2M871.0 920.5h2.2M875.4 920.5h2.2M884.2 920.5h4.4M901.8 920.5h2.2M915.0 920.5h2.2M923.8 920.5h2.2M928.2 920.5h2.2M943.6 920.5h2.2M983.2 920.5h2.2M992.0 920.5h2.2M644.4 922.7h2.2M655.4 922.7h2.2M721.4 922.7h8.8M741.2 922.7h2.2M747.8 922.7h2.2M754.4 922.7h2.2M776.4 922.7h6.6M785.2 922.7h2.2M796.2 922.7h2.2M805.0 922.7h2.2M813.8 922.7h2.2M824.8 922.7h2.2M838.0 922.7h4.4M844.6 922.7h2.2M851.2 922.7h6.6M866.6 922.7h4.4M877.6 922.7h4.4M884.2 922.7h4.4M897.4 922.7h2.2M915.0 922.7h2.2M919.4 922.7h2.2M967.8 922.7h2.2M972.2 922.7h2.2M646.6 924.9h2.2M659.8 924.9h2.2M664.2 924.9h2.2M712.6 924.9h2.2M717.0 924.9h4.4M725.8 924.9h4.4M736.8 924.9h2.2M741.2 924.9h2.2M747.8 924.9h4.4M754.4 924.9h4.4M763.2 924.9h2.2M767.6 924.9h8.8M780.8 924.9h2.2M785.2 924.9h4.4M794.0 924.9h2.2M798.4 924.9h2.2M807.2 924.9h2.2M811.6 924.9h2.2M816.0 924.9h2.2M822.6 924.9h2.2M829.2 924.9h2.2M835.8 924.9h4.4M846.8 924.9h2.2M853.4 924.9h2.2M864.4 924.9h2.2M873.2 924.9h2.2M884.2 924.9h2.2M893.0 924.9h2.2M897.4 924.9h6.6M906.2 924.9h2.2M921.6 924.9h2.2M972.2 924.9h2.2M662.0 927.1h2.2M666.4 927.1h2.2M706.0 927.1h2.2M719.2 927.1h2.2M725.8 927.1h6.6M750.0 927.1h2.2M763.2 927.1h2.2M767.6 927.1h2.2M778.6 927.1h2.2M783.0 927.1h4.4M791.8 927.1h2.2M798.4 927.1h2.2M802.8 927.1h4.4M813.8 927.1h4.4M827.0 927.1h2.2M835.8 927.1h4.4M844.6 927.1h4.4M851.2 927.1h2.2M855.6 927.1h2.2M860.0 927.1h2.2M864.4 927.1h2.2M868.8 927.1h13.2M884.2 927.1h2.2M890.8 927.1h2.2M897.4 927.1h2.2M908.4 927.1h2.2M915.0 927.1h2.2M919.4 927.1h2.2M934.8 927.1h2.2M967.8 927.1h2.2M992.0 927.1h2.2M998.6 927.1h2.2M642.2 929.3h2.2M719.2 929.3h2.2M723.6 929.3h2.2M728.0 929.3h6.6M736.8 929.3h2.2M752.2 929.3h6.6M763.2 929.3h11.0M776.4 929.3h4.4M785.2 929.3h2.2M798.4 929.3h4.4M813.8 929.3h2.2M820.4 929.3h6.6M831.4 929.3h8.8M842.4 929.3h13.2M857.8 929.3h2.2M864.4 929.3h6.6M873.2 929.3h6.6M884.2 929.3h2.2M895.2 929.3h4.4M912.8 929.3h2.2M926.0 929.3h2.2M967.8 929.3h2.2M1003.0 929.3h4.4M712.6 931.5h2.2M723.6 931.5h6.6M732.4 931.5h8.8M745.6 931.5h4.4M754.4 931.5h8.8M772.0 931.5h4.4M778.6 931.5h2.2M785.2 931.5h2.2M789.6 931.5h2.2M807.2 931.5h4.4M813.8 931.5h2.2M820.4 931.5h6.6M831.4 931.5h15.4M860.0 931.5h2.2M864.4 931.5h4.4M873.2 931.5h2.2M877.6 931.5h2.2M884.2 931.5h2.2M890.8 931.5h2.2M895.2 931.5h2.2M901.8 931.5h2.2M906.2 931.5h4.4M921.6 931.5h2.2M589.4 933.7h2.2M699.4 933.7h2.2M734.6 933.7h2.2M741.2 933.7h2.2M750.0 933.7h8.8M761.0 933.7h2.2M776.4 933.7h2.2M787.4 933.7h2.2M791.8 933.7h2.2M796.2 933.7h2.2M807.2 933.7h2.2M811.6 933.7h2.2M818.2 933.7h2.2M822.6 933.7h4.4M829.2 933.7h11.0M844.6 933.7h2.2M851.2 933.7h6.6M860.0 933.7h6.6M868.8 933.7h2.2M873.2 933.7h2.2M879.8 933.7h2.2M884.2 933.7h4.4M890.8 933.7h2.2M895.2 933.7h2.2M906.2 933.7h2.2M950.2 933.7h2.2M959.0 933.7h2.2M1016.2 933.7h2.2M1022.8 933.7h4.4M1053.6 933.7h4.4M646.6 935.9h2.2M730.2 935.9h6.6M745.6 935.9h2.2M750.0 935.9h2.2M756.6 935.9h2.2M761.0 935.9h2.2M767.6 935.9h2.2M776.4 935.9h4.4M783.0 935.9h2.2M791.8 935.9h2.2M800.6 935.9h2.2M807.2 935.9h2.2M813.8 935.9h2.2M818.2 935.9h8.8M829.2 935.9h2.2M838.0 935.9h11.0M851.2 935.9h2.2M855.6 935.9h4.4M864.4 935.9h4.4M873.2 935.9h6.6M882.0 935.9h2.2M888.6 935.9h2.2M895.2 935.9h4.4M901.8 935.9h8.8M926.0 935.9h2.2M1022.8 935.9h4.4M1053.6 935.9h4.4M657.6 938.1h2.2M666.4 938.1h2.2M706.0 938.1h2.2M712.6 938.1h2.2M728.0 938.1h8.8M739.0 938.1h2.2M743.4 938.1h4.4M750.0 938.1h2.2M767.6 938.1h4.4M776.4 938.1h2.2M780.8 938.1h4.4M787.4 938.1h6.6M796.2 938.1h13.2M811.6 938.1h8.8M824.8 938.1h2.2M829.2 938.1h4.4M835.8 938.1h4.4M842.4 938.1h11.0M857.8 938.1h2.2M873.2 938.1h2.2M879.8 938.1h4.4M886.4 938.1h2.2M923.8 938.1h2.2M950.2 938.1h2.2M1003.0 938.1h2.2M609.2 940.3h4.4M624.6 940.3h2.2M642.2 940.3h4.4M653.2 940.3h2.2M659.8 940.3h2.2M668.6 940.3h2.2M721.4 940.3h2.2M732.4 940.3h13.2M747.8 940.3h8.8M758.8 940.3h6.6M772.0 940.3h2.2M778.6 940.3h4.4M785.2 940.3h4.4M796.2 940.3h6.6M805.0 940.3h2.2M809.4 940.3h6.6M818.2 940.3h6.6M827.0 940.3h22.0M851.2 940.3h8.8M862.2 940.3h2.2M875.4 940.3h6.6M884.2 940.3h2.2M888.6 940.3h4.4M943.6 940.3h2.2M981.0 940.3h2.2M989.8 940.3h2.2M998.6 940.3h2.2M609.2 942.5h4.4M622.4 942.5h2.2M646.6 942.5h2.2M657.6 942.5h2.2M710.4 942.5h2.2M723.6 942.5h2.2M736.8 942.5h6.6M747.8 942.5h2.2M752.2 942.5h6.6M761.0 942.5h4.4M772.0 942.5h2.2M780.8 942.5h2.2M787.4 942.5h2.2M798.4 942.5h2.2M802.8 942.5h8.8M813.8 942.5h6.6M822.6 942.5h2.2M833.6 942.5h24.2M860.0 942.5h15.4M877.6 942.5h2.2M886.4 942.5h2.2M890.8 942.5h2.2M912.8 942.5h2.2M939.2 942.5h2.2M943.6 942.5h4.4M994.2 942.5h4.4M1014.0 942.5h2.2M1025.0 942.5h4.4M620.2 944.7h4.4M664.2 944.7h2.2M706.0 944.7h2.2M717.0 944.7h2.2M723.6 944.7h4.4M732.4 944.7h2.2M736.8 944.7h11.0M750.0 944.7h2.2M754.4 944.7h2.2M765.4 944.7h4.4M772.0 944.7h4.4M778.6 944.7h8.8M789.6 944.7h4.4M798.4 944.7h13.2M813.8 944.7h4.4M822.6 944.7h2.2M829.2 944.7h39.6M873.2 944.7h2.2M877.6 944.7h2.2M884.2 944.7h4.4M915.0 944.7h2.2M919.4 944.7h2.2M928.2 944.7h2.2M1007.4 944.7h4.4M1014.0 944.7h2.2M1025.0 944.7h4.4M609.2 946.9h4.4M719.2 946.9h2.2M723.6 946.9h2.2M728.0 946.9h2.2M741.2 946.9h2.2M747.8 946.9h8.8M761.0 946.9h2.2M767.6 946.9h4.4M774.2 946.9h4.4M783.0 946.9h2.2M787.4 946.9h4.4M796.2 946.9h17.6M816.0 946.9h2.2M820.4 946.9h2.2M824.8 946.9h15.4M842.4 946.9h8.8M853.4 946.9h2.2M860.0 946.9h4.4M866.6 946.9h2.2M873.2 946.9h2.2M877.6 946.9h8.8M888.6 946.9h2.2M917.2 946.9h2.2M926.0 946.9h4.4M1011.8 946.9h2.2M609.2 949.1h4.4M626.8 949.1h4.4M717.0 949.1h2.2M723.6 949.1h4.4M730.2 949.1h2.2M736.8 949.1h2.2M745.6 949.1h4.4M754.4 949.1h2.2M758.8 949.1h4.4M765.4 949.1h11.0M780.8 949.1h2.2M785.2 949.1h6.6M794.0 949.1h2.2M798.4 949.1h6.6M807.2 949.1h8.8M820.4 949.1h2.2M827.0 949.1h15.4M846.8 949.1h2.2M855.6 949.1h8.8M866.6 949.1h8.8M877.6 949.1h2.2M882.0 949.1h2.2M901.8 949.1h2.2M915.0 949.1h4.4M930.4 949.1h2.2M998.6 949.1h2.2M648.8 951.3h2.2M701.6 951.3h6.6M710.4 951.3h4.4M717.0 951.3h2.2M721.4 951.3h4.4M728.0 951.3h2.2M734.6 951.3h6.6M743.4 951.3h11.0M758.8 951.3h2.2M767.6 951.3h8.8M778.6 951.3h8.8M791.8 951.3h4.4M798.4 951.3h4.4M807.2 951.3h11.0M827.0 951.3h2.2M831.4 951.3h8.8M842.4 951.3h6.6M851.2 951.3h8.8M864.4 951.3h4.4M871.0 951.3h2.2M877.6 951.3h2.2M886.4 951.3h2.2M890.8 951.3h2.2M895.2 951.3h4.4M906.2 951.3h2.2M910.6 951.3h2.2M923.8 951.3h2.2M989.8 951.3h2.2M1047.0 951.3h4.4M611.4 953.5h4.4M684.0 953.5h2.2M714.8 953.5h2.2M725.8 953.5h2.2M732.4 953.5h4.4M739.0 953.5h4.4M747.8 953.5h11.0M761.0 953.5h2.2M769.8 953.5h8.8M780.8 953.5h8.8M794.0 953.5h8.8M807.2 953.5h2.2M811.6 953.5h15.4M831.4 953.5h13.2M846.8 953.5h2.2M851.2 953.5h4.4M862.2 953.5h4.4M868.8 953.5h4.4M875.4 953.5h6.6M884.2 953.5h2.2M893.0 953.5h6.6M904.0 953.5h4.4M941.4 953.5h2.2M985.4 953.5h2.2M1047.0 953.5h4.4M611.4 955.7h4.4M635.6 955.7h2.2M684.0 955.7h2.2M703.8 955.7h2.2M712.6 955.7h8.8M723.6 955.7h4.4M734.6 955.7h4.4M743.4 955.7h6.6M752.2 955.7h6.6M763.2 955.7h2.2M769.8 955.7h26.4M798.4 955.7h8.8M809.4 955.7h11.0M822.6 955.7h13.2M838.0 955.7h2.2M842.4 955.7h13.2M862.2 955.7h4.4M868.8 955.7h6.6M879.8 955.7h4.4M890.8 955.7h2.2M899.6 955.7h2.2M917.2 955.7h2.2M934.8 955.7h2.2M943.6 955.7h2.2M981.0 955.7h2.2M996.4 955.7h4.4M1029.4 955.7h2.2M1055.8 955.7h2.2M699.4 957.9h2.2M712.6 957.9h2.2M719.2 957.9h4.4M730.2 957.9h4.4M736.8 957.9h19.8M761.0 957.9h13.2M776.4 957.9h4.4M783.0 957.9h6.6M796.2 957.9h4.4M802.8 957.9h13.2M818.2 957.9h4.4M824.8 957.9h2.2M829.2 957.9h8.8M840.2 957.9h11.0M853.4 957.9h2.2M860.0 957.9h4.4M882.0 957.9h4.4M890.8 957.9h2.2M895.2 957.9h6.6M943.6 957.9h4.4M952.4 957.9h2.2M961.2 957.9h2.2M1005.2 957.9h2.2M1009.6 957.9h2.2M677.4 960.1h2.2M695.0 960.1h6.6M719.2 960.1h2.2M725.8 960.1h2.2M736.8 960.1h4.4M743.4 960.1h11.0M758.8 960.1h8.8M769.8 960.1h2.2M774.2 960.1h11.0M787.4 960.1h8.8M798.4 960.1h24.2M824.8 960.1h8.8M835.8 960.1h13.2M851.2 960.1h2.2M855.6 960.1h2.2M860.0 960.1h8.8M873.2 960.1h2.2M877.6 960.1h6.6M888.6 960.1h2.2M893.0 960.1h2.2M897.4 960.1h2.2M910.6 960.1h2.2M928.2 960.1h4.4M937.0 960.1h4.4M945.8 960.1h2.2M1014.0 960.1h2.2M1018.4 960.1h2.2M635.6 962.3h2.2M673.0 962.3h2.2M697.2 962.3h2.2M706.0 962.3h2.2M719.2 962.3h2.2M730.2 962.3h4.4M739.0 962.3h2.2M745.6 962.3h4.4M754.4 962.3h24.2M783.0 962.3h8.8M794.0 962.3h2.2M800.6 962.3h6.6M809.4 962.3h2.2M813.8 962.3h4.4M820.4 962.3h11.0M833.6 962.3h13.2M851.2 962.3h2.2M855.6 962.3h2.2M860.0 962.3h2.2M866.6 962.3h4.4M873.2 962.3h2.2M879.8 962.3h4.4M886.4 962.3h6.6M912.8 962.3h2.2M919.4 962.3h2.2M928.2 962.3h2.2M934.8 962.3h2.2M567.4 964.5h2.2M659.8 964.5h2.2M673.0 964.5h2.2M677.4 964.5h2.2M712.6 964.5h2.2M719.2 964.5h2.2M736.8 964.5h2.2M741.2 964.5h13.2M756.6 964.5h17.6M776.4 964.5h2.2M780.8 964.5h11.0M796.2 964.5h4.4M802.8 964.5h2.2M807.2 964.5h4.4M813.8 964.5h2.2M818.2 964.5h4.4M827.0 964.5h22.0M851.2 964.5h4.4M857.8 964.5h6.6M866.6 964.5h2.2M871.0 964.5h4.4M877.6 964.5h2.2M882.0 964.5h8.8M897.4 964.5h4.4M904.0 964.5h2.2M926.0 964.5h2.2M934.8 964.5h2.2M945.8 964.5h2.2M1016.2 964.5h2.2M668.6 966.7h2.2M703.8 966.7h2.2M721.4 966.7h2.2M728.0 966.7h6.6M739.0 966.7h11.0M752.2 966.7h2.2M756.6 966.7h4.4M763.2 966.7h4.4M769.8 966.7h6.6M778.6 966.7h8.8M789.6 966.7h4.4M796.2 966.7h2.2M800.6 966.7h11.0M816.0 966.7h8.8M827.0 966.7h17.6M849.0 966.7h6.6M857.8 966.7h2.2M862.2 966.7h4.4M868.8 966.7h2.2M875.4 966.7h6.6M884.2 966.7h2.2M890.8 966.7h4.4M899.6 966.7h2.2M906.2 966.7h6.6M919.4 966.7h2.2M932.6 966.7h2.2M937.0 966.7h2.2M941.4 966.7h2.2M945.8 966.7h2.2M1022.8 966.7h2.2M629.0 968.9h2.2M673.0 968.9h2.2M679.6 968.9h2.2M688.4 968.9h4.4M695.0 968.9h2.2M701.6 968.9h2.2M723.6 968.9h2.2M730.2 968.9h2.2M739.0 968.9h6.6M747.8 968.9h2.2M752.2 968.9h2.2M756.6 968.9h6.6M767.6 968.9h13.2M783.0 968.9h4.4M789.6 968.9h2.2M796.2 968.9h13.2M811.6 968.9h6.6M822.6 968.9h11.0M835.8 968.9h4.4M842.4 968.9h24.2M871.0 968.9h11.0M884.2 968.9h4.4M890.8 968.9h2.2M901.8 968.9h2.2M906.2 968.9h2.2M915.0 968.9h2.2M932.6 968.9h2.2M996.4 968.9h4.4M1027.2 968.9h2.2M648.8 971.1h2.2M659.8 971.1h2.2M679.6 971.1h2.2M686.2 971.1h2.2M723.6 971.1h2.2M728.0 971.1h2.2M732.4 971.1h2.2M741.2 971.1h28.6M772.0 971.1h8.8M785.2 971.1h4.4M796.2 971.1h2.2M800.6 971.1h2.2M809.4 971.1h8.8M820.4 971.1h15.4M838.0 971.1h6.6M846.8 971.1h17.6M866.6 971.1h11.0M879.8 971.1h2.2M884.2 971.1h11.0M897.4 971.1h8.8M910.6 971.1h2.2M642.2 973.3h2.2M714.8 973.3h2.2M721.4 973.3h2.2M728.0 973.3h4.4M739.0 973.3h2.2M747.8 973.3h4.4M754.4 973.3h4.4M761.0 973.3h19.8M783.0 973.3h13.2M798.4 973.3h2.2M802.8 973.3h4.4M809.4 973.3h4.4M816.0 973.3h4.4M824.8 973.3h28.6M857.8 973.3h19.8M879.8 973.3h2.2M884.2 973.3h2.2M888.6 973.3h4.4M897.4 973.3h2.2M901.8 973.3h4.4M910.6 973.3h11.0M932.6 973.3h2.2M939.2 973.3h2.2M1020.6 973.3h2.2M717.0 975.5h2.2M721.4 975.5h17.6M741.2 975.5h22.0M765.4 975.5h2.2M769.8 975.5h8.8M780.8 975.5h2.2M787.4 975.5h2.2M794.0 975.5h2.2M798.4 975.5h4.4M805.0 975.5h8.8M816.0 975.5h4.4M822.6 975.5h6.6M831.4 975.5h4.4M842.4 975.5h11.0M855.6 975.5h6.6M866.6 975.5h6.6M875.4 975.5h2.2M882.0 975.5h4.4M888.6 975.5h2.2M897.4 975.5h11.0M912.8 975.5h2.2M921.6 975.5h2.2M934.8 975.5h2.2M1011.8 975.5h2.2M633.4 977.7h2.2M697.2 977.7h2.2M710.4 977.7h2.2M721.4 977.7h2.2M728.0 977.7h8.8M741.2 977.7h8.8M754.4 977.7h26.4M785.2 977.7h8.8M798.4 977.7h2.2M809.4 977.7h2.2M813.8 977.7h2.2M822.6 977.7h8.8M835.8 977.7h2.2M840.2 977.7h13.2M857.8 977.7h6.6M866.6 977.7h6.6M875.4 977.7h2.2M882.0 977.7h11.0M897.4 977.7h2.2M910.6 977.7h2.2M919.4 977.7h2.2M932.6 977.7h2.2M939.2 977.7h2.2M994.2 977.7h2.2M1000.8 977.7h2.2M1011.8 977.7h2.2M719.2 979.9h4.4M728.0 979.9h4.4M734.6 979.9h2.2M739.0 979.9h17.6M758.8 979.9h6.6M769.8 979.9h4.4M776.4 979.9h2.2M780.8 979.9h2.2M785.2 979.9h2.2M789.6 979.9h4.4M796.2 979.9h4.4M805.0 979.9h6.6M813.8 979.9h4.4M824.8 979.9h6.6M833.6 979.9h2.2M838.0 979.9h2.2M842.4 979.9h11.0M855.6 979.9h2.2M860.0 979.9h8.8M871.0 979.9h15.4M888.6 979.9h2.2M893.0 979.9h4.4M899.6 979.9h2.2M908.4 979.9h2.2M928.2 979.9h4.4M1011.8 979.9h2.2M1027.2 979.9h2.2M1038.2 979.9h4.4M640.0 982.1h2.2M653.2 982.1h2.2M695.0 982.1h2.2M708.2 982.1h2.2M719.2 982.1h4.4M730.2 982.1h11.0M743.4 982.1h4.4M750.0 982.1h2.2M754.4 982.1h19.8M776.4 982.1h15.4M796.2 982.1h2.2M813.8 982.1h8.8M827.0 982.1h37.4M866.6 982.1h2.2M871.0 982.1h2.2M875.4 982.1h4.4M882.0 982.1h6.6M890.8 982.1h2.2M895.2 982.1h4.4M939.2 982.1h2.2M1005.2 982.1h4.4M1022.8 982.1h2.2M1038.2 982.1h2.2M710.4 984.3h4.4M719.2 984.3h2.2M728.0 984.3h2.2M732.4 984.3h2.2M736.8 984.3h2.2M741.2 984.3h2.2M745.6 984.3h6.6M754.4 984.3h4.4M761.0 984.3h4.4M767.6 984.3h2.2M776.4 984.3h4.4M789.6 984.3h4.4M796.2 984.3h4.4M807.2 984.3h8.8M818.2 984.3h2.2M822.6 984.3h2.2M827.0 984.3h6.6M835.8 984.3h22.0M860.0 984.3h2.2M864.4 984.3h2.2M871.0 984.3h2.2M875.4 984.3h4.4M888.6 984.3h11.0M923.8 984.3h2.2M928.2 984.3h2.2M934.8 984.3h2.2M686.2 986.5h2.2M690.6 986.5h4.4M706.0 986.5h2.2M721.4 986.5h2.2M725.8 986.5h2.2M732.4 986.5h2.2M736.8 986.5h11.0M750.0 986.5h4.4M756.6 986.5h4.4M763.2 986.5h4.4M769.8 986.5h6.6M778.6 986.5h2.2M783.0 986.5h8.8M794.0 986.5h4.4M802.8 986.5h4.4M811.6 986.5h4.4M818.2 986.5h8.8M829.2 986.5h2.2M833.6 986.5h13.2M851.2 986.5h4.4M857.8 986.5h2.2M864.4 986.5h6.6M873.2 986.5h6.6M904.0 986.5h2.2M915.0 986.5h2.2M923.8 986.5h2.2M985.4 986.5h2.2M679.6 988.7h2.2M712.6 988.7h2.2M723.6 988.7h2.2M732.4 988.7h2.2M739.0 988.7h4.4M747.8 988.7h2.2M756.6 988.7h2.2M761.0 988.7h11.0M778.6 988.7h15.4M796.2 988.7h6.6M805.0 988.7h2.2M809.4 988.7h4.4M816.0 988.7h8.8M827.0 988.7h4.4M833.6 988.7h2.2M838.0 988.7h4.4M844.6 988.7h6.6M853.4 988.7h6.6M862.2 988.7h4.4M871.0 988.7h2.2M879.8 988.7h2.2M895.2 988.7h2.2M906.2 988.7h2.2M910.6 988.7h2.2M915.0 988.7h2.2M919.4 988.7h2.2M926.0 988.7h2.2M987.6 988.7h2.2M1053.6 988.7h2.2M626.8 990.9h2.2M710.4 990.9h2.2M714.8 990.9h2.2M719.2 990.9h2.2M725.8 990.9h2.2M732.4 990.9h11.0M752.2 990.9h8.8M763.2 990.9h13.2M778.6 990.9h4.4M785.2 990.9h4.4M791.8 990.9h2.2M796.2 990.9h8.8M807.2 990.9h2.2M811.6 990.9h2.2M816.0 990.9h6.6M824.8 990.9h8.8M835.8 990.9h2.2M844.6 990.9h2.2M851.2 990.9h13.2M868.8 990.9h8.8M882.0 990.9h8.8M893.0 990.9h6.6M906.2 990.9h6.6M917.2 990.9h4.4M939.2 990.9h2.2M943.6 990.9h2.2M631.2 993.1h2.2M717.0 993.1h2.2M721.4 993.1h2.2M728.0 993.1h4.4M734.6 993.1h11.0M747.8 993.1h4.4M754.4 993.1h6.6M763.2 993.1h4.4M772.0 993.1h4.4M780.8 993.1h2.2M785.2 993.1h2.2M789.6 993.1h2.2M794.0 993.1h2.2M798.4 993.1h4.4M805.0 993.1h2.2M811.6 993.1h2.2M816.0 993.1h4.4M827.0 993.1h2.2M831.4 993.1h6.6M840.2 993.1h11.0M857.8 993.1h2.2M862.2 993.1h2.2M866.6 993.1h4.4M873.2 993.1h4.4M884.2 993.1h4.4M890.8 993.1h6.6M910.6 993.1h2.2M915.0 993.1h2.2M926.0 993.1h2.2M983.2 993.1h2.2M1029.4 993.1h2.2M598.2 995.3h2.2M635.6 995.3h2.2M690.6 995.3h2.2M706.0 995.3h6.6M723.6 995.3h2.2M730.2 995.3h11.0M750.0 995.3h4.4M756.6 995.3h11.0M774.2 995.3h6.6M787.4 995.3h2.2M794.0 995.3h2.2M805.0 995.3h4.4M813.8 995.3h2.2M818.2 995.3h15.4M835.8 995.3h8.8M849.0 995.3h2.2M860.0 995.3h4.4M866.6 995.3h4.4M873.2 995.3h2.2M879.8 995.3h2.2M884.2 995.3h2.2M897.4 995.3h4.4M934.8 995.3h2.2M954.6 995.3h2.2M1005.2 995.3h2.2M1022.8 995.3h2.2M629.0 997.5h2.2M644.4 997.5h2.2M648.8 997.5h2.2M675.2 997.5h2.2M686.2 997.5h2.2M690.6 997.5h2.2M697.2 997.5h2.2M703.8 997.5h2.2M708.2 997.5h2.2M721.4 997.5h2.2M730.2 997.5h2.2M743.4 997.5h13.2M758.8 997.5h4.4M765.4 997.5h8.8M776.4 997.5h2.2M785.2 997.5h2.2M791.8 997.5h4.4M798.4 997.5h2.2M807.2 997.5h15.4M824.8 997.5h2.2M831.4 997.5h6.6M840.2 997.5h2.2M844.6 997.5h13.2M860.0 997.5h4.4M866.6 997.5h15.4M886.4 997.5h2.2M890.8 997.5h6.6M899.6 997.5h2.2M915.0 997.5h2.2M1016.2 997.5h2.2M1042.6 997.5h4.4M662.0 999.7h2.2M714.8 999.7h2.2M721.4 999.7h4.4M730.2 999.7h8.8M741.2 999.7h8.8M752.2 999.7h8.8M767.6 999.7h2.2M772.0 999.7h4.4M783.0 999.7h13.2M800.6 999.7h2.2M807.2 999.7h2.2M816.0 999.7h2.2M820.4 999.7h4.4M827.0 999.7h4.4M838.0 999.7h8.8M849.0 999.7h6.6M860.0 999.7h13.2M875.4 999.7h2.2M879.8 999.7h6.6M890.8 999.7h2.2M895.2 999.7h4.4M904.0 999.7h4.4M917.2 999.7h2.2M939.2 999.7h2.2M989.8 999.7h2.2M1042.6 999.7h4.4M708.2 1001.9h2.2M719.2 1001.9h6.6M728.0 1001.9h2.2M734.6 1001.9h2.2M739.0 1001.9h8.8M752.2 1001.9h15.4M774.2 1001.9h2.2M778.6 1001.9h11.0M791.8 1001.9h2.2M796.2 1001.9h2.2M800.6 1001.9h15.4M818.2 1001.9h2.2M824.8 1001.9h4.4M831.4 1001.9h2.2M838.0 1001.9h6.6M849.0 1001.9h2.2M855.6 1001.9h8.8M868.8 1001.9h6.6M877.6 1001.9h8.8M893.0 1001.9h15.4M910.6 1001.9h4.4M919.4 1001.9h2.2M937.0 1001.9h2.2M981.0 1001.9h4.4M994.2 1001.9h2.2M1005.2 1001.9h2.2M699.4 1004.1h2.2M710.4 1004.1h4.4M717.0 1004.1h2.2M723.6 1004.1h2.2M730.2 1004.1h6.6M741.2 1004.1h6.6M750.0 1004.1h4.4M758.8 1004.1h2.2M763.2 1004.1h11.0M776.4 1004.1h4.4M783.0 1004.1h2.2M787.4 1004.1h13.2M802.8 1004.1h6.6M813.8 1004.1h2.2M820.4 1004.1h4.4M827.0 1004.1h22.0M851.2 1004.1h2.2M855.6 1004.1h11.0M873.2 1004.1h4.4M884.2 1004.1h4.4M890.8 1004.1h2.2M899.6 1004.1h2.2M904.0 1004.1h2.2M908.4 1004.1h2.2M912.8 1004.1h2.2M917.2 1004.1h6.6M934.8 1004.1h2.2M963.4 1004.1h2.2M967.8 1004.1h2.2M1020.6 1004.1h2.2M681.8 1006.3h4.4M692.8 1006.3h6.6M701.6 1006.3h2.2M706.0 1006.3h2.2M714.8 1006.3h2.2M721.4 1006.3h2.2M725.8 1006.3h11.0M739.0 1006.3h22.0M763.2 1006.3h11.0M778.6 1006.3h8.8M789.6 1006.3h13.2M807.2 1006.3h2.2M813.8 1006.3h13.2M831.4 1006.3h8.8M846.8 1006.3h11.0M860.0 1006.3h2.2M866.6 1006.3h2.2M877.6 1006.3h8.8M890.8 1006.3h2.2M897.4 1006.3h6.6M910.6 1006.3h2.2M915.0 1006.3h2.2M974.4 1006.3h2.2M640.0 1008.5h2.2M644.4 1008.5h2.2M679.6 1008.5h2.2M686.2 1008.5h2.2M692.8 1008.5h2.2M703.8 1008.5h2.2M710.4 1008.5h2.2M721.4 1008.5h2.2M725.8 1008.5h2.2M730.2 1008.5h22.0M754.4 1008.5h6.6M763.2 1008.5h2.2M767.6 1008.5h13.2M785.2 1008.5h2.2M791.8 1008.5h6.6M800.6 1008.5h2.2M805.0 1008.5h2.2M809.4 1008.5h2.2M813.8 1008.5h17.6M833.6 1008.5h13.2M849.0 1008.5h4.4M855.6 1008.5h6.6M864.4 1008.5h13.2M890.8 1008.5h2.2M895.2 1008.5h4.4M912.8 1008.5h2.2M954.6 1008.5h4.4M981.0 1008.5h2.2M653.2 1010.7h2.2M666.4 1010.7h2.2M681.8 1010.7h2.2M701.6 1010.7h2.2M706.0 1010.7h2.2M717.0 1010.7h2.2M721.4 1010.7h2.2M725.8 1010.7h6.6M734.6 1010.7h11.0M750.0 1010.7h13.2M767.6 1010.7h26.4M798.4 1010.7h11.0M811.6 1010.7h28.6M842.4 1010.7h8.8M853.4 1010.7h2.2M857.8 1010.7h4.4M868.8 1010.7h13.2M888.6 1010.7h2.2M893.0 1010.7h2.2M897.4 1010.7h2.2M908.4 1010.7h2.2M917.2 1010.7h2.2M928.2 1010.7h4.4M941.4 1010.7h2.2M974.4 1010.7h2.2M998.6 1010.7h2.2M1007.4 1010.7h2.2M631.2 1012.9h2.2M699.4 1012.9h11.0M712.6 1012.9h13.2M730.2 1012.9h8.8M741.2 1012.9h2.2M745.6 1012.9h8.8M756.6 1012.9h2.2M763.2 1012.9h4.4M769.8 1012.9h2.2M774.2 1012.9h11.0M787.4 1012.9h17.6M807.2 1012.9h4.4M816.0 1012.9h22.0M842.4 1012.9h6.6M853.4 1012.9h6.6M862.2 1012.9h2.2M866.6 1012.9h6.6M875.4 1012.9h2.2M879.8 1012.9h4.4M886.4 1012.9h4.4M926.0 1012.9h2.2M934.8 1012.9h2.2M939.2 1012.9h4.4M992.0 1012.9h2.2M1014.0 1012.9h2.2M1027.2 1012.9h2.2M679.6 1015.1h2.2M697.2 1015.1h4.4M703.8 1015.1h2.2M708.2 1015.1h2.2M712.6 1015.1h2.2M732.4 1015.1h4.4M741.2 1015.1h6.6M750.0 1015.1h2.2M754.4 1015.1h13.2M772.0 1015.1h4.4M783.0 1015.1h4.4M789.6 1015.1h2.2M794.0 1015.1h17.6M813.8 1015.1h8.8M831.4 1015.1h2.2M838.0 1015.1h8.8M849.0 1015.1h2.2M855.6 1015.1h11.0M868.8 1015.1h2.2M873.2 1015.1h6.6M882.0 1015.1h2.2M888.6 1015.1h2.2M893.0 1015.1h2.2M928.2 1015.1h2.2M1000.8 1015.1h2.2M1007.4 1015.1h2.2M633.4 1017.3h2.2M688.4 1017.3h6.6M697.2 1017.3h4.4M703.8 1017.3h2.2M712.6 1017.3h6.6M725.8 1017.3h8.8M736.8 1017.3h2.2M743.4 1017.3h8.8M758.8 1017.3h4.4M765.4 1017.3h4.4M772.0 1017.3h2.2M776.4 1017.3h2.2M780.8 1017.3h4.4M787.4 1017.3h8.8M798.4 1017.3h2.2M802.8 1017.3h13.2M818.2 1017.3h11.0M831.4 1017.3h4.4M838.0 1017.3h4.4M844.6 1017.3h2.2M849.0 1017.3h2.2M853.4 1017.3h4.4M862.2 1017.3h2.2M866.6 1017.3h2.2M871.0 1017.3h4.4M877.6 1017.3h2.2M882.0 1017.3h8.8M895.2 1017.3h4.4M904.0 1017.3h6.6M611.4 1019.5h2.2M622.4 1019.5h2.2M681.8 1019.5h2.2M706.0 1019.5h2.2M710.4 1019.5h2.2M714.8 1019.5h2.2M721.4 1019.5h6.6M732.4 1019.5h11.0M745.6 1019.5h6.6M756.6 1019.5h4.4M763.2 1019.5h4.4M769.8 1019.5h22.0M794.0 1019.5h4.4M802.8 1019.5h8.8M813.8 1019.5h2.2M818.2 1019.5h2.2M822.6 1019.5h6.6M831.4 1019.5h2.2M838.0 1019.5h19.8M860.0 1019.5h6.6M873.2 1019.5h2.2M877.6 1019.5h4.4M884.2 1019.5h2.2M897.4 1019.5h2.2M912.8 1019.5h4.4M622.4 1021.7h2.2M637.8 1021.7h2.2M642.2 1021.7h2.2M699.4 1021.7h2.2M721.4 1021.7h2.2M725.8 1021.7h2.2M730.2 1021.7h8.8M741.2 1021.7h4.4M747.8 1021.7h8.8M758.8 1021.7h4.4M765.4 1021.7h2.2M769.8 1021.7h4.4M776.4 1021.7h4.4M783.0 1021.7h8.8M794.0 1021.7h15.4M811.6 1021.7h2.2M816.0 1021.7h13.2M833.6 1021.7h8.8M844.6 1021.7h4.4M853.4 1021.7h6.6M862.2 1021.7h2.2M866.6 1021.7h6.6M875.4 1021.7h4.4M884.2 1021.7h4.4M893.0 1021.7h2.2M897.4 1021.7h2.2M912.8 1021.7h2.2M917.2 1021.7h2.2M989.8 1021.7h2.2M1025.0 1021.7h2.2M607.0 1023.9h2.2M644.4 1023.9h2.2M655.4 1023.9h2.2M668.6 1023.9h2.2M677.4 1023.9h2.2M695.0 1023.9h8.8M710.4 1023.9h4.4M717.0 1023.9h2.2M721.4 1023.9h2.2M728.0 1023.9h15.4M745.6 1023.9h15.4M767.6 1023.9h8.8M778.6 1023.9h11.0M791.8 1023.9h2.2M798.4 1023.9h4.4M807.2 1023.9h13.2M822.6 1023.9h6.6M831.4 1023.9h2.2M838.0 1023.9h2.2M842.4 1023.9h24.2M868.8 1023.9h2.2M873.2 1023.9h2.2M877.6 1023.9h4.4M890.8 1023.9h8.8M901.8 1023.9h2.2M915.0 1023.9h4.4M1025.0 1023.9h2.2M600.4 1026.1h4.4M642.2 1026.1h2.2M666.4 1026.1h2.2M673.0 1026.1h2.2M677.4 1026.1h2.2M686.2 1026.1h2.2M697.2 1026.1h2.2M708.2 1026.1h2.2M717.0 1026.1h2.2M723.6 1026.1h4.4M730.2 1026.1h2.2M736.8 1026.1h2.2M743.4 1026.1h2.2M747.8 1026.1h13.2M765.4 1026.1h24.2M791.8 1026.1h11.0M807.2 1026.1h13.2M827.0 1026.1h2.2M833.6 1026.1h2.2M838.0 1026.1h8.8M851.2 1026.1h4.4M860.0 1026.1h17.6M882.0 1026.1h2.2M886.4 1026.1h4.4M897.4 1026.1h2.2M904.0 1026.1h2.2M908.4 1026.1h6.6M923.8 1026.1h4.4M941.4 1026.1h2.2M983.2 1026.1h2.2M1003.0 1026.1h2.2M1014.0 1026.1h2.2M600.4 1028.3h4.4M659.8 1028.3h2.2M677.4 1028.3h2.2M684.0 1028.3h2.2M690.6 1028.3h4.4M699.4 1028.3h2.2M721.4 1028.3h2.2M725.8 1028.3h8.8M736.8 1028.3h11.0M750.0 1028.3h6.6M758.8 1028.3h11.0M772.0 1028.3h13.2M789.6 1028.3h8.8M802.8 1028.3h13.2M818.2 1028.3h11.0M831.4 1028.3h2.2M835.8 1028.3h6.6M844.6 1028.3h4.4M851.2 1028.3h2.2M860.0 1028.3h8.8M871.0 1028.3h8.8M882.0 1028.3h2.2M895.2 1028.3h2.2M930.4 1028.3h2.2M943.6 1028.3h2.2M967.8 1028.3h2.2M989.8 1028.3h2.2M1000.8 1028.3h2.2M1020.6 1028.3h2.2M1049.2 1028.3h2.2M600.4 1030.5h4.4M609.2 1030.5h4.4M644.4 1030.5h2.2M670.8 1030.5h2.2M681.8 1030.5h2.2M692.8 1030.5h2.2M699.4 1030.5h2.2M717.0 1030.5h6.6M728.0 1030.5h2.2M736.8 1030.5h13.2M752.2 1030.5h2.2M758.8 1030.5h2.2M763.2 1030.5h13.2M778.6 1030.5h2.2M783.0 1030.5h2.2M787.4 1030.5h2.2M791.8 1030.5h8.8M805.0 1030.5h4.4M813.8 1030.5h4.4M820.4 1030.5h6.6M829.2 1030.5h2.2M833.6 1030.5h4.4M840.2 1030.5h13.2M855.6 1030.5h4.4M862.2 1030.5h2.2M866.6 1030.5h2.2M871.0 1030.5h8.8M884.2 1030.5h2.2M888.6 1030.5h2.2M893.0 1030.5h2.2M908.4 1030.5h2.2M921.6 1030.5h2.2M983.2 1030.5h2.2M1047.0 1030.5h4.4M600.4 1032.7h4.4M609.2 1032.7h4.4M615.8 1032.7h4.4M637.8 1032.7h2.2M659.8 1032.7h2.2M684.0 1032.7h2.2M688.4 1032.7h2.2M697.2 1032.7h4.4M717.0 1032.7h4.4M732.4 1032.7h2.2M736.8 1032.7h8.8M756.6 1032.7h2.2M761.0 1032.7h2.2M769.8 1032.7h4.4M780.8 1032.7h2.2M787.4 1032.7h2.2M791.8 1032.7h2.2M796.2 1032.7h4.4M805.0 1032.7h11.0M818.2 1032.7h2.2M822.6 1032.7h4.4M829.2 1032.7h2.2M833.6 1032.7h2.2M838.0 1032.7h8.8M851.2 1032.7h6.6M871.0 1032.7h2.2M875.4 1032.7h2.2M882.0 1032.7h4.4M904.0 1032.7h2.2M1020.6 1032.7h2.2M615.8 1034.9h4.4M624.6 1034.9h2.2M690.6 1034.9h4.4M701.6 1034.9h2.2M706.0 1034.9h2.2M725.8 1034.9h13.2M752.2 1034.9h4.4M758.8 1034.9h6.6M769.8 1034.9h8.8M780.8 1034.9h2.2M787.4 1034.9h4.4M794.0 1034.9h2.2M798.4 1034.9h2.2M802.8 1034.9h8.8M816.0 1034.9h4.4M822.6 1034.9h8.8M833.6 1034.9h6.6M842.4 1034.9h11.0M855.6 1034.9h17.6M875.4 1034.9h6.6M886.4 1034.9h4.4M899.6 1034.9h2.2M598.2 1037.1h4.4M695.0 1037.1h2.2M699.4 1037.1h2.2M703.8 1037.1h2.2M710.4 1037.1h2.2M723.6 1037.1h13.2M741.2 1037.1h4.4M747.8 1037.1h4.4M754.4 1037.1h2.2M758.8 1037.1h8.8M769.8 1037.1h4.4M776.4 1037.1h4.4M785.2 1037.1h4.4M791.8 1037.1h2.2M798.4 1037.1h2.2M805.0 1037.1h4.4M811.6 1037.1h2.2M816.0 1037.1h8.8M827.0 1037.1h11.0M840.2 1037.1h8.8M851.2 1037.1h2.2M855.6 1037.1h4.4M862.2 1037.1h6.6M871.0 1037.1h4.4M882.0 1037.1h8.8M910.6 1037.1h2.2M994.2 1037.1h2.2M1029.4 1037.1h4.4M1051.4 1037.1h2.2M598.2 1039.3h4.4M624.6 1039.3h2.2M644.4 1039.3h2.2M701.6 1039.3h2.2M706.0 1039.3h4.4M712.6 1039.3h2.2M721.4 1039.3h4.4M728.0 1039.3h6.6M739.0 1039.3h2.2M747.8 1039.3h2.2M752.2 1039.3h6.6M761.0 1039.3h4.4M769.8 1039.3h2.2M774.2 1039.3h11.0M787.4 1039.3h6.6M796.2 1039.3h2.2M805.0 1039.3h2.2M809.4 1039.3h6.6M818.2 1039.3h4.4M827.0 1039.3h6.6M835.8 1039.3h6.6M849.0 1039.3h13.2M864.4 1039.3h6.6M875.4 1039.3h6.6M888.6 1039.3h13.2M910.6 1039.3h2.2M923.8 1039.3h2.2M956.8 1039.3h2.2M1029.4 1039.3h4.4M602.6 1041.5h2.2M609.2 1041.5h4.4M703.8 1041.5h4.4M717.0 1041.5h6.6M728.0 1041.5h6.6M750.0 1041.5h2.2M754.4 1041.5h8.8M767.6 1041.5h6.6M778.6 1041.5h6.6M791.8 1041.5h2.2M796.2 1041.5h2.2M800.6 1041.5h4.4M807.2 1041.5h6.6M816.0 1041.5h11.0M835.8 1041.5h6.6M844.6 1041.5h15.4M866.6 1041.5h4.4M875.4 1041.5h13.2M890.8 1041.5h6.6M899.6 1041.5h2.2M915.0 1041.5h2.2M965.6 1041.5h8.8M996.4 1041.5h2.2M609.2 1043.7h4.4M642.2 1043.7h4.4M690.6 1043.7h4.4M697.2 1043.7h2.2M710.4 1043.7h2.2M719.2 1043.7h6.6M730.2 1043.7h4.4M743.4 1043.7h2.2M747.8 1043.7h2.2M752.2 1043.7h8.8M767.6 1043.7h8.8M778.6 1043.7h2.2M783.0 1043.7h4.4M791.8 1043.7h2.2M802.8 1043.7h2.2M811.6 1043.7h8.8M822.6 1043.7h2.2M827.0 1043.7h8.8M842.4 1043.7h2.2M849.0 1043.7h6.6M857.8 1043.7h2.2M862.2 1043.7h11.0M875.4 1043.7h6.6M890.8 1043.7h6.6M908.4 1043.7h2.2M919.4 1043.7h2.2M1000.8 1043.7h2.2M593.8 1045.9h4.4M602.6 1045.9h2.2M646.6 1045.9h2.2M706.0 1045.9h2.2M710.4 1045.9h2.2M717.0 1045.9h8.8M732.4 1045.9h2.2M747.8 1045.9h2.2M752.2 1045.9h4.4M758.8 1045.9h4.4M772.0 1045.9h2.2M776.4 1045.9h2.2M787.4 1045.9h4.4M805.0 1045.9h2.2M816.0 1045.9h11.0M829.2 1045.9h11.0M844.6 1045.9h2.2M853.4 1045.9h4.4M864.4 1045.9h4.4M871.0 1045.9h4.4M877.6 1045.9h2.2M882.0 1045.9h4.4M890.8 1045.9h2.2M899.6 1045.9h2.2M904.0 1045.9h2.2M921.6 1045.9h2.2M926.0 1045.9h4.4M934.8 1045.9h2.2M981.0 1045.9h2.2M1003.0 1045.9h4.4M593.8 1048.1h4.4M637.8 1048.1h2.2M646.6 1048.1h2.2M710.4 1048.1h2.2M719.2 1048.1h13.2M743.4 1048.1h2.2M747.8 1048.1h4.4M754.4 1048.1h2.2M758.8 1048.1h2.2M765.4 1048.1h2.2M772.0 1048.1h4.4M785.2 1048.1h2.2M789.6 1048.1h11.0M809.4 1048.1h4.4M818.2 1048.1h4.4M824.8 1048.1h4.4M831.4 1048.1h4.4M840.2 1048.1h2.2M844.6 1048.1h4.4M851.2 1048.1h2.2M855.6 1048.1h2.2M862.2 1048.1h4.4M873.2 1048.1h8.8M886.4 1048.1h4.4M899.6 1048.1h4.4M1033.8 1048.1h2.2M1044.8 1048.1h4.4M637.8 1050.3h2.2M644.4 1050.3h4.4M686.2 1050.3h4.4M703.8 1050.3h6.6M714.8 1050.3h2.2M719.2 1050.3h2.2M728.0 1050.3h2.2M769.8 1050.3h8.8M780.8 1050.3h8.8M791.8 1050.3h2.2M796.2 1050.3h2.2M800.6 1050.3h4.4M811.6 1050.3h4.4M818.2 1050.3h11.0M831.4 1050.3h2.2M835.8 1050.3h4.4M842.4 1050.3h2.2M849.0 1050.3h6.6M860.0 1050.3h2.2M864.4 1050.3h6.6M873.2 1050.3h4.4M879.8 1050.3h2.2M886.4 1050.3h4.4M901.8 1050.3h2.2M912.8 1050.3h2.2M937.0 1050.3h2.2M1044.8 1050.3h4.4M703.8 1052.5h2.2M708.2 1052.5h2.2M719.2 1052.5h2.2M730.2 1052.5h6.6M739.0 1052.5h4.4M752.2 1052.5h2.2M758.8 1052.5h4.4M780.8 1052.5h2.2M785.2 1052.5h2.2M794.0 1052.5h2.2M807.2 1052.5h6.6M816.0 1052.5h2.2M820.4 1052.5h4.4M827.0 1052.5h2.2M831.4 1052.5h13.2M849.0 1052.5h13.2M868.8 1052.5h6.6M886.4 1052.5h8.8M897.4 1052.5h2.2M901.8 1052.5h2.2M917.2 1052.5h2.2M981.0 1052.5h2.2M994.2 1052.5h2.2M642.2 1054.7h2.2M684.0 1054.7h2.2M699.4 1054.7h2.2M708.2 1054.7h11.0M723.6 1054.7h2.2M734.6 1054.7h2.2M739.0 1054.7h2.2M747.8 1054.7h4.4M754.4 1054.7h2.2M758.8 1054.7h4.4M767.6 1054.7h2.2M772.0 1054.7h2.2M780.8 1054.7h2.2M787.4 1054.7h2.2M791.8 1054.7h4.4M802.8 1054.7h2.2M813.8 1054.7h4.4M822.6 1054.7h2.2M827.0 1054.7h2.2M833.6 1054.7h2.2M840.2 1054.7h4.4M846.8 1054.7h11.0M860.0 1054.7h2.2M866.6 1054.7h8.8M884.2 1054.7h2.2M890.8 1054.7h8.8M906.2 1054.7h2.2M697.2 1056.9h8.8M714.8 1056.9h2.2M719.2 1056.9h2.2M723.6 1056.9h2.2M730.2 1056.9h2.2M734.6 1056.9h2.2M745.6 1056.9h2.2M761.0 1056.9h2.2M765.4 1056.9h2.2M774.2 1056.9h8.8M787.4 1056.9h2.2M791.8 1056.9h2.2M798.4 1056.9h2.2M802.8 1056.9h2.2M807.2 1056.9h2.2M816.0 1056.9h8.8M827.0 1056.9h6.6M835.8 1056.9h2.2M840.2 1056.9h2.2M844.6 1056.9h4.4M866.6 1056.9h6.6M875.4 1056.9h2.2M879.8 1056.9h2.2M899.6 1056.9h2.2M917.2 1056.9h2.2M976.6 1056.9h2.2M1000.8 1056.9h2.2M635.6 1059.1h2.2M673.0 1059.1h2.2M690.6 1059.1h2.2M714.8 1059.1h2.2M739.0 1059.1h2.2M745.6 1059.1h2.2M750.0 1059.1h4.4M758.8 1059.1h4.4M765.4 1059.1h2.2M769.8 1059.1h2.2M783.0 1059.1h2.2M818.2 1059.1h2.2M822.6 1059.1h2.2M827.0 1059.1h11.0M840.2 1059.1h6.6M849.0 1059.1h2.2M853.4 1059.1h15.4M875.4 1059.1h4.4M888.6 1059.1h2.2M901.8 1059.1h2.2M906.2 1059.1h2.2M910.6 1059.1h2.2M921.6 1059.1h2.2M983.2 1059.1h2.2M992.0 1059.1h2.2M690.6 1061.3h2.2M697.2 1061.3h8.8M714.8 1061.3h2.2M730.2 1061.3h2.2M739.0 1061.3h6.6M761.0 1061.3h4.4M780.8 1061.3h4.4M787.4 1061.3h4.4M794.0 1061.3h2.2M816.0 1061.3h4.4M822.6 1061.3h2.2M829.2 1061.3h6.6M838.0 1061.3h2.2M842.4 1061.3h4.4M857.8 1061.3h2.2M868.8 1061.3h4.4M884.2 1061.3h2.2M992.0 1061.3h2.2M1003.0 1061.3h2.2M629.0 1063.5h4.4M637.8 1063.5h2.2M695.0 1063.5h6.6M706.0 1063.5h2.2M732.4 1063.5h2.2M754.4 1063.5h2.2M763.2 1063.5h2.2M778.6 1063.5h2.2M789.6 1063.5h2.2M807.2 1063.5h2.2M811.6 1063.5h2.2M818.2 1063.5h6.6M827.0 1063.5h8.8M840.2 1063.5h4.4M846.8 1063.5h11.0M860.0 1063.5h2.2M866.6 1063.5h6.6M877.6 1063.5h2.2M884.2 1063.5h4.4M890.8 1063.5h6.6M899.6 1063.5h8.8M926.0 1063.5h2.2M1055.8 1063.5h2.2M626.8 1065.7h2.2M637.8 1065.7h2.2M681.8 1065.7h2.2M692.8 1065.7h2.2M699.4 1065.7h2.2M706.0 1065.7h4.4M714.8 1065.7h2.2M725.8 1065.7h2.2M745.6 1065.7h2.2M754.4 1065.7h4.4M763.2 1065.7h4.4M769.8 1065.7h2.2M783.0 1065.7h2.2M802.8 1065.7h4.4M818.2 1065.7h4.4M842.4 1065.7h4.4M849.0 1065.7h6.6M862.2 1065.7h2.2M877.6 1065.7h4.4M884.2 1065.7h4.4M901.8 1065.7h2.2M908.4 1065.7h2.2M976.6 1065.7h2.2M1011.8 1065.7h2.2M1018.4 1065.7h2.2M679.6 1067.9h2.2M686.2 1067.9h4.4M692.8 1067.9h2.2M697.2 1067.9h4.4M728.0 1067.9h2.2M736.8 1067.9h4.4M743.4 1067.9h2.2M747.8 1067.9h2.2M761.0 1067.9h2.2M769.8 1067.9h2.2M776.4 1067.9h2.2M807.2 1067.9h2.2M818.2 1067.9h2.2M822.6 1067.9h4.4M829.2 1067.9h2.2M844.6 1067.9h2.2M849.0 1067.9h6.6M860.0 1067.9h6.6M622.4 1070.1h4.4M633.4 1070.1h2.2M677.4 1070.1h2.2M703.8 1070.1h2.2M745.6 1070.1h2.2M758.8 1070.1h4.4M765.4 1070.1h6.6M816.0 1070.1h2.2M820.4 1070.1h4.4M846.8 1070.1h2.2M864.4 1070.1h2.2M882.0 1070.1h2.2M895.2 1070.1h2.2M926.0 1070.1h2.2M622.4 1072.3h4.4M633.4 1072.3h2.2M637.8 1072.3h2.2M644.4 1072.3h2.2M745.6 1072.3h2.2M754.4 1072.3h2.2M767.6 1072.3h4.4M783.0 1072.3h2.2M802.8 1072.3h2.2M816.0 1072.3h4.4M822.6 1072.3h2.2M827.0 1072.3h2.2M833.6 1072.3h4.4M844.6 1072.3h2.2M851.2 1072.3h4.4M866.6 1072.3h2.2M873.2 1072.3h2.2M897.4 1072.3h2.2M906.2 1072.3h2.2M921.6 1072.3h2.2M1022.8 1072.3h6.6M624.6 1074.5h2.2M635.6 1074.5h2.2M662.0 1074.5h2.2M677.4 1074.5h2.2M681.8 1074.5h2.2M717.0 1074.5h2.2M728.0 1074.5h2.2M734.6 1074.5h2.2M763.2 1074.5h2.2M769.8 1074.5h2.2M780.8 1074.5h2.2M822.6 1074.5h2.2M829.2 1074.5h2.2M833.6 1074.5h2.2M846.8 1074.5h2.2M851.2 1074.5h4.4M857.8 1074.5h2.2M871.0 1074.5h2.2M875.4 1074.5h2.2M897.4 1074.5h4.4M915.0 1074.5h2.2M919.4 1074.5h4.4M948.0 1074.5h2.2M965.6 1074.5h2.2M972.2 1074.5h2.2M987.6 1074.5h2.2M1022.8 1074.5h4.4M615.8 1076.7h2.2M633.4 1076.7h4.4M642.2 1076.7h2.2M648.8 1076.7h2.2M662.0 1076.7h2.2M666.4 1076.7h4.4M684.0 1076.7h2.2M688.4 1076.7h2.2M734.6 1076.7h2.2M769.8 1076.7h2.2M778.6 1076.7h2.2M787.4 1076.7h2.2M822.6 1076.7h2.2M827.0 1076.7h2.2M833.6 1076.7h2.2M838.0 1076.7h2.2M844.6 1076.7h2.2M857.8 1076.7h2.2M862.2 1076.7h4.4M877.6 1076.7h2.2M904.0 1076.7h4.4M912.8 1076.7h2.2M965.6 1076.7h2.2M998.6 1076.7h2.2M1029.4 1076.7h2.2M644.4 1078.9h2.2M670.8 1078.9h2.2M675.2 1078.9h2.2M714.8 1078.9h2.2M736.8 1078.9h2.2M761.0 1078.9h2.2M765.4 1078.9h4.4M820.4 1078.9h6.6M849.0 1078.9h2.2M855.6 1078.9h6.6M873.2 1078.9h2.2M879.8 1078.9h2.2M965.6 1078.9h2.2M659.8 1081.1h2.2M670.8 1081.1h2.2M695.0 1081.1h2.2M714.8 1081.1h2.2M765.4 1081.1h2.2M818.2 1081.1h2.2M822.6 1081.1h2.2M838.0 1081.1h4.4M849.0 1081.1h2.2M853.4 1081.1h6.6M882.0 1081.1h2.2M890.8 1081.1h2.2M917.2 1081.1h2.2M948.0 1081.1h2.2M978.8 1081.1h2.2M987.6 1081.1h2.2M998.6 1081.1h2.2M633.4 1083.3h2.2M675.2 1083.3h2.2M708.2 1083.3h2.2M728.0 1083.3h2.2M765.4 1083.3h4.4M829.2 1083.3h2.2M846.8 1083.3h4.4M853.4 1083.3h2.2M857.8 1083.3h6.6M875.4 1083.3h4.4M897.4 1083.3h2.2M939.2 1083.3h2.2M967.8 1083.3h2.2M644.4 1085.5h2.2M651.0 1085.5h2.2M670.8 1085.5h2.2M765.4 1085.5h2.2M787.4 1085.5h2.2M824.8 1085.5h2.2M840.2 1085.5h4.4M860.0 1085.5h11.0M910.6 1085.5h2.2M923.8 1085.5h2.2M950.2 1085.5h2.2M970.0 1085.5h2.2M981.0 1085.5h2.2M1003.0 1085.5h2.2M624.6 1087.7h4.4M637.8 1087.7h2.2M747.8 1087.7h2.2M829.2 1087.7h2.2M842.4 1087.7h2.2M853.4 1087.7h8.8M864.4 1087.7h2.2M877.6 1087.7h2.2M882.0 1087.7h2.2M895.2 1087.7h2.2M906.2 1087.7h4.4M928.2 1087.7h2.2M1000.8 1087.7h4.4M626.8 1089.9h2.2M648.8 1089.9h2.2M730.2 1089.9h2.2M756.6 1089.9h2.2M791.8 1089.9h2.2M849.0 1089.9h2.2M862.2 1089.9h2.2M868.8 1089.9h4.4M888.6 1089.9h2.2M910.6 1089.9h2.2M1000.8 1089.9h4.4M591.6 1092.1h2.2M613.6 1092.1h4.4M811.6 1092.1h2.2M849.0 1092.1h2.2M864.4 1092.1h4.4M871.0 1092.1h2.2M884.2 1092.1h4.4M890.8 1092.1h2.2M910.6 1092.1h2.2M928.2 1092.1h2.2M1022.8 1092.1h4.4M613.6 1094.3h4.4M648.8 1094.3h2.2M697.2 1094.3h2.2M745.6 1094.3h2.2M763.2 1094.3h2.2M789.6 1094.3h2.2M844.6 1094.3h2.2M875.4 1094.3h4.4M884.2 1094.3h2.2M888.6 1094.3h2.2M893.0 1094.3h2.2M965.6 1094.3h2.2M974.4 1094.3h2.2M983.2 1094.3h2.2M1022.8 1094.3h4.4M607.0 1096.5h4.4M640.0 1096.5h2.2M752.2 1096.5h2.2M791.8 1096.5h2.2M829.2 1096.5h2.2M851.2 1096.5h2.2M866.6 1096.5h2.2M871.0 1096.5h2.2M879.8 1096.5h2.2M1022.8 1096.5h2.2M607.0 1098.7h4.4M670.8 1098.7h2.2M686.2 1098.7h2.2M714.8 1098.7h2.2M833.6 1098.7h2.2M873.2 1098.7h2.2M886.4 1098.7h2.2M901.8 1098.7h2.2M972.2 1098.7h2.2M985.4 1098.7h2.2M989.8 1098.7h2.2M633.4 1100.9h4.4M708.2 1100.9h2.2M752.2 1100.9h2.2M831.4 1100.9h4.4M871.0 1100.9h2.2M956.8 1100.9h2.2M633.4 1103.1h4.4M640.0 1103.1h2.2M679.6 1103.1h2.2M706.0 1103.1h2.2M778.6 1103.1h2.2M831.4 1103.1h2.2M840.2 1103.1h2.2M862.2 1103.1h2.2M879.8 1103.1h2.2M893.0 1103.1h2.2M972.2 1103.1h2.2M646.6 1105.3h2.2M675.2 1105.3h2.2M723.6 1105.3h2.2M827.0 1105.3h2.2M862.2 1105.3h2.2M873.2 1105.3h4.4M895.2 1105.3h4.4M904.0 1105.3h2.2M983.2 1105.3h2.2M657.6 1107.5h2.2M684.0 1107.5h2.2M688.4 1107.5h2.2M857.8 1107.5h2.2M963.4 1107.5h2.2M978.8 1107.5h2.2M998.6 1107.5h2.2M655.4 1109.7h2.2M728.0 1109.7h2.2M752.2 1109.7h2.2M789.6 1109.7h2.2M820.4 1109.7h2.2M824.8 1109.7h2.2M833.6 1109.7h2.2M842.4 1109.7h2.2M864.4 1109.7h2.2M875.4 1109.7h2.2M879.8 1109.7h2.2M901.8 1109.7h4.4M941.4 1109.7h2.2M956.8 1109.7h2.2M637.8 1111.9h2.2M664.2 1111.9h4.4M670.8 1111.9h2.2M679.6 1111.9h2.2M692.8 1111.9h2.2M701.6 1111.9h2.2M765.4 1111.9h2.2M789.6 1111.9h2.2M818.2 1111.9h2.2M835.8 1111.9h2.2M879.8 1111.9h2.2M890.8 1111.9h2.2M910.6 1111.9h2.2M950.2 1111.9h4.4M965.6 1111.9h2.2M989.8 1111.9h4.4M1009.6 1111.9h2.2M637.8 1114.1h2.2M662.0 1114.1h4.4M686.2 1114.1h2.2M712.6 1114.1h2.2M721.4 1114.1h2.2M725.8 1114.1h2.2M752.2 1114.1h2.2M756.6 1114.1h2.2M765.4 1114.1h2.2M772.0 1114.1h2.2M805.0 1114.1h2.2M824.8 1114.1h2.2M831.4 1114.1h2.2M842.4 1114.1h2.2M873.2 1114.1h2.2M981.0 1114.1h4.4M989.8 1114.1h4.4M637.8 1116.3h4.4M686.2 1116.3h4.4M697.2 1116.3h2.2M701.6 1116.3h2.2M769.8 1116.3h2.2M884.2 1116.3h2.2M934.8 1116.3h2.2M948.0 1116.3h2.2M989.8 1116.3h4.4M637.8 1118.5h4.4M648.8 1118.5h2.2M699.4 1118.5h2.2M739.0 1118.5h2.2M756.6 1118.5h2.2M800.6 1118.5h4.4M846.8 1118.5h2.2M875.4 1118.5h2.2M884.2 1118.5h2.2M904.0 1118.5h2.2M954.6 1118.5h4.4M989.8 1118.5h2.2M1025.0 1118.5h4.4M670.8 1120.7h2.2M719.2 1120.7h2.2M772.0 1120.7h2.2M802.8 1120.7h2.2M873.2 1120.7h2.2M1025.0 1120.7h4.4M688.4 1122.9h2.2M706.0 1122.9h2.2M734.6 1122.9h2.2M758.8 1122.9h2.2M802.8 1122.9h2.2M838.0 1122.9h2.2M855.6 1122.9h2.2M910.6 1122.9h6.6M624.6 1125.1h4.4M703.8 1125.1h2.2M719.2 1125.1h2.2M723.6 1125.1h2.2M739.0 1125.1h4.4M772.0 1125.1h4.4M787.4 1125.1h2.2M802.8 1125.1h2.2M813.8 1125.1h4.4M923.8 1125.1h2.2M961.2 1125.1h2.2M972.2 1125.1h2.2M1000.8 1125.1h2.2M624.6 1127.3h2.2M699.4 1127.3h2.2M703.8 1127.3h2.2M725.8 1127.3h2.2M774.2 1127.3h2.2M785.2 1127.3h4.4M813.8 1127.3h4.4M939.2 1127.3h2.2M998.6 1127.3h4.4M785.2 1129.5h4.4M802.8 1129.5h4.4M846.8 1129.5h2.2M864.4 1129.5h2.2M879.8 1129.5h2.2M904.0 1129.5h2.2M934.8 1129.5h2.2M943.6 1129.5h2.2M952.4 1129.5h2.2M974.4 1129.5h2.2M1007.4 1129.5h2.2M607.0 1131.7h4.4M675.2 1131.7h2.2M728.0 1131.7h2.2M785.2 1131.7h4.4M802.8 1131.7h4.4M838.0 1131.7h2.2M846.8 1131.7h2.2M862.2 1131.7h2.2M910.6 1131.7h2.2M956.8 1131.7h2.2M607.0 1133.9h4.4M635.6 1133.9h2.2M730.2 1133.9h2.2M754.4 1133.9h2.2M846.8 1133.9h2.2M941.4 1133.9h4.4M954.6 1133.9h2.2M989.8 1133.9h2.2M688.4 1136.1h4.4M719.2 1136.1h2.2M725.8 1136.1h2.2M688.4 1138.3h4.4M846.8 1138.3h2.2M941.4 1138.3h2.2M992.0 1138.3h4.4M637.8 1140.5h4.4M714.8 1140.5h4.4M842.4 1140.5h2.2M846.8 1140.5h2.2M860.0 1140.5h2.2M906.2 1140.5h2.2M963.4 1140.5h2.2M992.0 1140.5h4.4M618.0 1142.7h4.4M637.8 1142.7h4.4M710.4 1142.7h2.2M714.8 1142.7h4.4M910.6 1142.7h2.2M930.4 1142.7h2.2M945.8 1142.7h2.2M972.2 1142.7h2.2M618.0 1144.9h4.4M835.8 1144.9h4.4M921.6 1144.9h2.2M932.6 1144.9h2.2M1031.6 1144.9h2.2M835.8 1147.1h4.4M950.2 1147.1h2.2M710.4 1149.3h4.4M871.0 1149.3h2.2M877.6 1149.3h2.2M710.4 1151.5h4.4M846.8 1151.5h2.2M857.8 1151.5h2.2M919.4 1151.5h2.2M996.4 1151.5h2.2M1014.0 1151.5h4.4M666.4 1153.7h2.2M822.6 1153.7h2.2M862.2 1153.7h2.2M871.0 1153.7h2.2M877.6 1153.7h2.2M950.2 1153.7h2.2M1014.0 1153.7h4.4M862.2 1155.9h2.2M886.4 1155.9h4.4M642.2 1158.1h2.2M688.4 1158.1h2.2M851.2 1158.1h2.2M923.8 1158.1h4.4M943.6 1158.1h2.2M952.4 1158.1h2.2M961.2 1158.1h4.4M567.4 1160.3h4.4M906.2 1160.3h2.2M959.0 1160.3h2.2M538.8 1162.5h4.4M567.4 1162.5h4.4M851.2 1162.5h2.2M893.0 1162.5h2.2M956.8 1162.5h2.2M538.8 1164.7h4.4M849.0 1164.7h4.4M882.0 1164.7h2.2M959.0 1164.7h2.2M712.6 1166.9h2.2M730.2 1166.9h4.4M849.0 1166.9h4.4M862.2 1166.9h2.2M950.2 1166.9h4.4M730.2 1169.1h4.4M950.2 1169.1h4.4M965.6 1169.1h4.4M899.6 1171.3h2.2M965.6 1171.3h4.4M1038.2 1171.3h4.4M866.6 1173.5h2.2M908.4 1173.5h2.2M934.8 1173.5h2.2M679.6 1175.7h4.4M904.0 1175.7h2.2M915.0 1175.7h2.2M679.6 1177.9h4.4M901.8 1180.1h2.2M926.0 1180.1h2.2M899.6 1182.3h4.4M910.6 1182.3h2.2M919.4 1182.3h8.8M899.6 1184.5h4.4M906.2 1184.5h4.4M919.4 1184.5h4.4M906.2 1186.7h4.4M956.8 1197.7h4.4M917.2 1199.9h2.2M956.8 1199.9h4.4M921.6 1202.1h4.4M921.6 1204.3h4.4M961.2 1204.3h4.4M961.2 1206.5h4.4M919.4 1208.7h2.2" stroke="#3a72a5" stroke-width="2.25" fill="none"/>
<path d="M937.0 810.5h4.4M937.0 812.7h4.4M967.8 817.1h2.2M897.4 828.1h4.4M926.0 828.1h2.2M897.4 830.3h4.4M919.4 830.3h2.2M888.6 834.7h4.4M888.6 836.9h4.4M928.2 839.1h2.2M719.2 843.5h2.2M725.8 845.7h4.4M732.4 845.7h2.2M761.0 845.7h2.2M796.2 845.7h2.2M908.4 845.7h2.2M921.6 845.7h2.2M928.2 845.7h2.2M952.4 845.7h2.2M725.8 847.9h4.4M901.8 847.9h2.2M910.6 847.9h2.2M994.2 847.9h4.4M710.4 850.1h2.2M816.0 850.1h4.4M835.8 850.1h2.2M868.8 850.1h4.4M879.8 850.1h2.2M994.2 850.1h4.4M816.0 852.3h6.6M912.8 852.3h2.2M818.2 854.5h2.2M932.6 854.5h2.2M668.6 856.7h2.2M728.0 856.7h2.2M743.4 856.7h2.2M800.6 856.7h2.2M915.0 856.7h2.2M970.0 856.7h2.2M666.4 858.9h4.4M679.6 858.9h4.4M736.8 858.9h2.2M866.6 858.9h2.2M972.2 858.9h2.2M1007.4 858.9h4.4M666.4 861.1h4.4M679.6 861.1h8.8M774.2 861.1h2.2M932.6 861.1h2.2M956.8 861.1h2.2M1007.4 861.1h4.4M670.8 863.3h2.2M684.0 863.3h4.4M772.0 863.3h2.2M842.4 863.3h2.2M879.8 863.3h2.2M906.2 863.3h2.2M948.0 863.3h2.2M697.2 865.5h2.2M923.8 865.5h4.4M659.8 867.7h2.2M679.6 867.7h4.4M695.0 867.7h4.4M802.8 867.7h2.2M840.2 867.7h2.2M919.4 867.7h2.2M677.4 869.9h6.6M719.2 869.9h2.2M734.6 869.9h2.2M745.6 869.9h2.2M750.0 869.9h2.2M818.2 869.9h2.2M864.4 869.9h2.2M901.8 869.9h2.2M934.8 869.9h4.4M712.6 874.3h2.2M970.0 874.3h2.2M736.8 876.5h2.2M758.8 876.5h2.2M959.0 876.5h2.2M723.6 878.7h2.2M809.4 878.7h2.2M978.8 878.7h2.2M987.6 878.7h2.2M736.8 880.9h2.2M670.8 883.1h2.2M954.6 883.1h2.2M978.8 883.1h2.2M1003.0 883.1h2.2M651.0 885.3h4.4M697.2 885.3h2.2M717.0 885.3h2.2M754.4 885.3h2.2M1000.8 885.3h4.4M651.0 887.5h4.4M985.4 887.5h2.2M994.2 887.5h2.2M1014.0 887.5h2.2M882.0 896.3h2.2M1003.0 896.3h2.2M963.4 898.5h2.2M994.2 898.5h2.2M864.4 900.7h2.2M994.2 900.7h2.2M589.4 902.9h4.4M974.4 902.9h2.2M589.4 905.1h4.4M978.8 905.1h2.2M983.2 905.1h2.2M1047.0 905.1h4.4M976.6 907.3h2.2M1047.0 907.3h4.4M1000.8 909.5h2.2M673.0 911.7h2.2M1027.2 911.7h4.4M1042.6 911.7h4.4M662.0 913.9h2.2M666.4 913.9h2.2M675.2 913.9h2.2M985.4 913.9h2.2M1027.2 913.9h8.8M1042.6 913.9h4.4M659.8 916.1h2.2M695.0 916.1h2.2M981.0 916.1h2.2M1011.8 916.1h2.2M1031.6 916.1h2.2M675.2 918.3h2.2M1051.4 918.3h2.2M651.0 922.7h2.2M974.4 922.7h2.2M851.2 924.9h2.2M758.8 927.1h2.2M989.8 927.1h2.2M1011.8 927.1h2.2M827.0 929.3h2.2M1009.6 929.3h2.2M1055.8 929.3h2.2M846.8 931.5h2.2M1044.8 931.5h2.2M809.4 933.7h2.2M974.4 933.7h2.2M741.2 935.9h2.2M833.6 938.1h2.2M840.2 938.1h2.2M1040.4 938.1h4.4M807.2 940.3h2.2M824.8 940.3h2.2M860.0 940.3h2.2M1040.4 940.3h4.4M653.2 942.5h2.2M765.4 942.5h2.2M769.8 942.5h2.2M631.2 944.7h2.2M646.6 944.7h2.2M666.4 944.7h2.2M670.8 944.7h2.2M987.6 944.7h4.4M618.0 946.9h4.4M637.8 946.9h2.2M780.8 946.9h2.2M822.6 946.9h2.2M840.2 946.9h2.2M851.2 946.9h2.2M906.2 946.9h2.2M587.2 949.1h2.2M618.0 949.1h4.4M750.0 949.1h4.4M791.8 949.1h2.2M824.8 949.1h2.2M842.4 949.1h4.4M849.0 949.1h2.2M1005.2 949.1h2.2M637.8 951.3h2.2M644.4 951.3h2.2M756.6 951.3h2.2M789.6 951.3h2.2M796.2 951.3h2.2M820.4 951.3h2.2M829.2 951.3h2.2M840.2 951.3h2.2M860.0 951.3h2.2M1018.4 951.3h2.2M1029.4 951.3h2.2M778.6 953.5h2.2M791.8 953.5h2.2M827.0 953.5h2.2M849.0 953.5h2.2M992.0 953.5h2.2M750.0 955.7h2.2M758.8 955.7h4.4M765.4 955.7h2.2M820.4 955.7h2.2M835.8 955.7h2.2M840.2 955.7h2.2M860.0 955.7h2.2M758.8 957.9h2.2M774.2 957.9h2.2M851.2 957.9h2.2M989.8 957.9h2.2M741.2 960.1h2.2M785.2 960.1h2.2M822.6 960.1h2.2M849.0 960.1h2.2M1007.4 960.1h2.2M780.8 962.3h2.2M791.8 962.3h2.2M796.2 962.3h4.4M807.2 962.3h2.2M811.6 962.3h2.2M818.2 962.3h2.2M849.0 962.3h2.2M1009.6 962.3h2.2M734.6 964.5h2.2M754.4 964.5h2.2M774.2 964.5h2.2M778.6 964.5h2.2M791.8 964.5h4.4M800.6 964.5h2.2M805.0 964.5h2.2M822.6 964.5h4.4M754.4 966.7h2.2M761.0 966.7h2.2M767.6 966.7h2.2M776.4 966.7h2.2M787.4 966.7h2.2M794.0 966.7h2.2M798.4 966.7h2.2M811.6 966.7h4.4M824.8 966.7h2.2M844.6 966.7h2.2M886.4 966.7h2.2M1005.2 966.7h2.2M640.0 968.9h2.2M750.0 968.9h2.2M763.2 968.9h2.2M780.8 968.9h2.2M787.4 968.9h2.2M791.8 968.9h4.4M809.4 968.9h2.2M818.2 968.9h2.2M833.6 968.9h2.2M840.2 968.9h2.2M893.0 968.9h2.2M1014.0 968.9h2.2M611.4 971.1h4.4M769.8 971.1h2.2M783.0 971.1h2.2M791.8 971.1h4.4M798.4 971.1h2.2M802.8 971.1h6.6M818.2 971.1h2.2M611.4 973.3h4.4M758.8 973.3h2.2M796.2 973.3h2.2M807.2 973.3h2.2M813.8 973.3h2.2M820.4 973.3h4.4M855.6 973.3h2.2M998.6 973.3h2.2M622.4 975.5h2.2M644.4 975.5h2.2M763.2 975.5h2.2M778.6 975.5h2.2M783.0 975.5h4.4M789.6 975.5h4.4M796.2 975.5h2.2M802.8 975.5h2.2M813.8 975.5h2.2M820.4 975.5h2.2M838.0 975.5h2.2M853.4 975.5h2.2M864.4 975.5h2.2M879.8 975.5h2.2M1014.0 975.5h2.2M736.8 977.7h4.4M780.8 977.7h4.4M794.0 977.7h4.4M802.8 977.7h4.4M811.6 977.7h2.2M816.0 977.7h6.6M831.4 977.7h2.2M838.0 977.7h2.2M853.4 977.7h2.2M998.6 977.7h2.2M1003.0 977.7h4.4M1016.2 977.7h2.2M651.0 979.9h2.2M736.8 979.9h2.2M756.6 979.9h2.2M765.4 979.9h4.4M774.2 979.9h2.2M783.0 979.9h2.2M787.4 979.9h2.2M794.0 979.9h2.2M800.6 979.9h4.4M811.6 979.9h2.2M818.2 979.9h2.2M822.6 979.9h2.2M831.4 979.9h2.2M1005.2 979.9h2.2M659.8 982.1h2.2M774.2 982.1h2.2M791.8 982.1h4.4M798.4 982.1h4.4M807.2 982.1h2.2M811.6 982.1h2.2M822.6 982.1h2.2M868.8 982.1h2.2M879.8 982.1h2.2M1040.4 982.1h2.2M626.8 984.3h2.2M651.0 984.3h2.2M769.8 984.3h6.6M780.8 984.3h6.6M794.0 984.3h2.2M800.6 984.3h2.2M805.0 984.3h2.2M816.0 984.3h2.2M820.4 984.3h2.2M824.8 984.3h2.2M833.6 984.3h2.2M1038.2 984.3h4.4M767.6 986.5h2.2M776.4 986.5h2.2M780.8 986.5h2.2M798.4 986.5h4.4M807.2 986.5h4.4M816.0 986.5h2.2M827.0 986.5h2.2M849.0 986.5h2.2M855.6 986.5h2.2M871.0 986.5h2.2M994.2 986.5h2.2M1000.8 986.5h2.2M745.6 988.7h2.2M752.2 988.7h2.2M772.0 988.7h6.6M802.8 988.7h2.2M807.2 988.7h2.2M813.8 988.7h2.2M831.4 988.7h2.2M842.4 988.7h2.2M851.2 988.7h2.2M985.4 988.7h2.2M996.4 988.7h2.2M598.2 990.9h4.4M747.8 990.9h2.2M789.6 990.9h2.2M794.0 990.9h2.2M805.0 990.9h2.2M813.8 990.9h2.2M838.0 990.9h2.2M842.4 990.9h2.2M989.8 990.9h2.2M598.2 993.1h4.4M767.6 993.1h4.4M776.4 993.1h2.2M783.0 993.1h2.2M791.8 993.1h2.2M796.2 993.1h2.2M802.8 993.1h2.2M807.2 993.1h4.4M822.6 993.1h4.4M829.2 993.1h2.2M838.0 993.1h2.2M992.0 993.1h2.2M642.2 995.3h2.2M754.4 995.3h2.2M767.6 995.3h6.6M780.8 995.3h6.6M789.6 995.3h4.4M796.2 995.3h8.8M811.6 995.3h2.2M816.0 995.3h2.2M833.6 995.3h2.2M844.6 995.3h4.4M1053.6 995.3h4.4M646.6 997.5h2.2M763.2 997.5h2.2M774.2 997.5h2.2M778.6 997.5h4.4M787.4 997.5h4.4M796.2 997.5h2.2M800.6 997.5h6.6M822.6 997.5h2.2M827.0 997.5h4.4M838.0 997.5h2.2M857.8 997.5h2.2M1049.2 997.5h8.8M750.0 999.7h2.2M763.2 999.7h4.4M769.8 999.7h2.2M778.6 999.7h2.2M796.2 999.7h4.4M805.0 999.7h2.2M809.4 999.7h6.6M824.8 999.7h2.2M835.8 999.7h2.2M877.6 999.7h2.2M886.4 999.7h2.2M893.0 999.7h2.2M998.6 999.7h2.2M1007.4 999.7h2.2M1049.2 999.7h4.4M629.0 1001.9h2.2M747.8 1001.9h2.2M767.6 1001.9h4.4M789.6 1001.9h2.2M794.0 1001.9h2.2M798.4 1001.9h2.2M820.4 1001.9h2.2M829.2 1001.9h2.2M835.8 1001.9h2.2M890.8 1001.9h2.2M736.8 1004.1h4.4M756.6 1004.1h2.2M761.0 1004.1h2.2M774.2 1004.1h2.2M780.8 1004.1h2.2M785.2 1004.1h2.2M800.6 1004.1h2.2M809.4 1004.1h4.4M816.0 1004.1h4.4M824.8 1004.1h2.2M853.4 1004.1h2.2M926.0 1004.1h2.2M1003.0 1004.1h2.2M774.2 1006.3h2.2M787.4 1006.3h2.2M802.8 1006.3h4.4M809.4 1006.3h4.4M827.0 1006.3h4.4M840.2 1006.3h6.6M857.8 1006.3h2.2M629.0 1008.5h2.2M633.4 1008.5h2.2M646.6 1008.5h2.2M765.4 1008.5h2.2M780.8 1008.5h4.4M787.4 1008.5h4.4M798.4 1008.5h2.2M802.8 1008.5h2.2M811.6 1008.5h2.2M831.4 1008.5h2.2M996.4 1008.5h2.2M745.6 1010.7h2.2M763.2 1010.7h2.2M796.2 1010.7h2.2M809.4 1010.7h2.2M851.2 1010.7h2.2M739.0 1012.9h2.2M758.8 1012.9h4.4M772.0 1012.9h2.2M805.0 1012.9h2.2M811.6 1012.9h4.4M840.2 1012.9h2.2M877.6 1012.9h2.2M631.2 1015.1h2.2M769.8 1015.1h2.2M776.4 1015.1h2.2M787.4 1015.1h2.2M811.6 1015.1h2.2M822.6 1015.1h4.4M829.2 1015.1h2.2M833.6 1015.1h2.2M992.0 1015.1h4.4M998.6 1015.1h2.2M741.2 1017.3h2.2M752.2 1017.3h2.2M756.6 1017.3h2.2M774.2 1017.3h2.2M785.2 1017.3h2.2M800.6 1017.3h2.2M816.0 1017.3h2.2M754.4 1019.5h2.2M767.6 1019.5h2.2M800.6 1019.5h2.2M816.0 1019.5h2.2M820.4 1019.5h2.2M829.2 1019.5h2.2M835.8 1019.5h2.2M866.6 1019.5h2.2M613.6 1021.7h4.4M774.2 1021.7h2.2M780.8 1021.7h2.2M809.4 1021.7h2.2M813.8 1021.7h2.2M842.4 1021.7h2.2M569.6 1023.9h4.4M613.6 1023.9h4.4M743.4 1023.9h2.2M763.2 1023.9h2.2M802.8 1023.9h4.4M820.4 1023.9h2.2M840.2 1023.9h2.2M1033.8 1023.9h4.4M569.6 1026.1h2.2M721.4 1026.1h2.2M739.0 1026.1h2.2M745.6 1026.1h2.2M820.4 1026.1h2.2M835.8 1026.1h2.2M1033.8 1026.1h8.8M626.8 1028.3h2.2M855.6 1028.3h2.2M1038.2 1028.3h4.4M776.4 1030.5h2.2M780.8 1030.5h2.2M811.6 1030.5h2.2M831.4 1030.5h2.2M864.4 1030.5h2.2M978.8 1030.5h2.2M1011.8 1030.5h2.2M730.2 1032.7h2.2M734.6 1032.7h2.2M774.2 1032.7h2.2M831.4 1032.7h2.2M862.2 1032.7h2.2M813.8 1034.9h2.2M1031.6 1034.9h4.4M631.2 1037.1h2.2M789.6 1037.1h2.2M813.8 1037.1h2.2M838.0 1037.1h2.2M849.0 1037.1h2.2M853.4 1037.1h2.2M1033.8 1037.1h2.2M873.2 1039.3h2.2M996.4 1039.3h2.2M842.4 1041.5h2.2M992.0 1041.5h2.2M840.2 1043.7h2.2M855.6 1043.7h2.2M712.6 1045.9h2.2M756.6 1045.9h2.2M778.6 1045.9h2.2M987.6 1045.9h2.2M998.6 1045.9h2.2M635.6 1048.1h2.2M648.8 1048.1h2.2M835.8 1048.1h2.2M871.0 1048.1h2.2M578.4 1050.3h4.4M642.2 1050.3h2.2M1016.2 1050.3h4.4M578.4 1052.5h4.4M1016.2 1052.5h4.4M644.4 1054.7h2.2M745.6 1054.7h2.2M987.6 1054.7h2.2M620.2 1056.9h4.4M981.0 1056.9h2.2M607.0 1059.1h2.2M620.2 1059.1h4.4M981.0 1059.1h2.2M633.4 1061.3h2.2M849.0 1061.3h2.2M855.6 1061.3h2.2M983.2 1065.7h2.2M626.8 1067.9h2.2M642.2 1072.3h2.2M582.8 1074.5h4.4M626.8 1074.5h2.2M659.8 1074.5h2.2M664.2 1074.5h2.2M976.6 1074.5h2.2M989.8 1074.5h2.2M994.2 1074.5h2.2M582.8 1076.7h4.4M620.2 1076.7h2.2M651.0 1076.7h2.2M831.4 1076.7h2.2M970.0 1076.7h2.2M1009.6 1076.7h2.2M657.6 1078.9h2.2M963.4 1078.9h2.2M1007.4 1081.1h2.2M754.4 1083.3h2.2M626.8 1085.5h4.4M983.2 1085.5h2.2M1016.2 1085.5h2.2M629.0 1087.7h2.2M974.4 1087.7h2.2M1014.0 1087.7h4.4M622.4 1089.9h4.4M622.4 1092.1h4.4M646.6 1094.3h2.2M648.8 1096.5h2.2M983.2 1096.5h2.2M576.2 1098.7h4.4M987.6 1098.7h2.2M1033.8 1098.7h4.4M576.2 1100.9h4.4M602.6 1100.9h4.4M642.2 1100.9h2.2M1033.8 1100.9h4.4M602.6 1103.1h4.4M655.4 1103.1h2.2M684.0 1103.1h2.2M1047.0 1103.1h4.4M954.6 1105.3h2.2M1047.0 1105.3h4.4M670.8 1107.5h2.2M675.2 1107.5h2.2M701.6 1107.5h2.2M974.4 1107.5h2.2M987.6 1107.5h2.2M827.0 1109.7h2.2M945.8 1109.7h2.2M950.2 1109.7h2.2M967.8 1109.7h2.2M976.6 1109.7h2.2M620.2 1111.9h2.2M640.0 1111.9h4.4M723.6 1111.9h2.2M728.0 1111.9h2.2M754.4 1111.9h2.2M798.4 1111.9h2.2M963.4 1111.9h2.2M972.2 1111.9h2.2M1000.8 1111.9h2.2M640.0 1114.1h4.4M809.4 1114.1h2.2M717.0 1116.3h2.2M688.4 1118.5h2.2M734.6 1118.5h2.2M963.4 1118.5h2.2M970.0 1118.5h2.2M987.6 1118.5h2.2M721.4 1120.7h2.2M734.6 1120.7h2.2M809.4 1120.7h2.2M675.2 1122.9h2.2M721.4 1122.9h2.2M739.0 1122.9h2.2M820.4 1122.9h2.2M965.6 1122.9h2.2M974.4 1122.9h2.2M710.4 1125.1h2.2M750.0 1125.1h2.2M855.6 1125.1h2.2M976.6 1125.1h2.2M1029.4 1125.1h4.4M684.0 1127.3h2.2M712.6 1127.3h2.2M747.8 1127.3h2.2M763.2 1127.3h4.4M855.6 1127.3h2.2M950.2 1127.3h2.2M981.0 1127.3h2.2M1029.4 1127.3h4.4M763.2 1129.5h4.4M844.6 1129.5h2.2M860.0 1129.5h2.2M910.6 1129.5h2.2M642.2 1131.7h4.4M697.2 1131.7h2.2M860.0 1131.7h2.2M945.8 1131.7h2.2M976.6 1131.7h2.2M642.2 1133.9h4.4M690.6 1133.9h2.2M741.2 1133.9h2.2M972.2 1133.9h2.2M785.2 1136.1h4.4M846.8 1136.1h2.2M600.4 1138.3h4.4M783.0 1138.3h6.6M915.0 1138.3h2.2M998.6 1138.3h4.4M600.4 1140.5h4.4M728.0 1140.5h2.2M851.2 1140.5h2.2M943.6 1140.5h2.2M998.6 1140.5h4.4M725.8 1142.7h4.4M805.0 1142.7h2.2M717.0 1144.9h4.4M785.2 1144.9h4.4M717.0 1147.1h4.4M785.2 1147.1h4.4M906.2 1147.1h2.2M644.4 1149.3h2.2M805.0 1149.3h2.2M879.8 1149.3h2.2M882.0 1151.5h2.2M855.6 1153.7h2.2M884.2 1153.7h2.2M952.4 1153.7h2.2M923.8 1155.9h2.2M952.4 1155.9h2.2M890.8 1160.3h2.2M906.2 1162.5h2.2M897.4 1169.1h2.2M897.4 1171.3h2.2M917.2 1171.3h2.2M915.0 1173.5h2.2M928.2 1173.5h2.2M928.2 1175.7h2.2M919.4 1177.9h2.2M908.4 1180.1h2.2M1044.8 1180.1h2.2M996.4 1182.3h2.2M910.6 1184.5h4.4M981.0 1184.5h4.4M910.6 1186.7h4.4M981.0 1186.7h4.4M937.0 1195.5h4.4M937.0 1197.7h4.4M921.6 1208.7h4.4M921.6 1210.9h4.4M954.6 1217.5h4.4M954.6 1219.7h4.4" stroke="#357eb0" stroke-width="2.25" fill="none"/>
<path d="M816.0 964.5h2.2M820.4 968.9h2.2M807.2 977.7h2.2M778.6 979.9h2.2M802.8 982.1h4.4M802.8 984.3h2.2M791.8 986.5h2.2M783.0 990.9h2.2M809.4 990.9h2.2M787.4 993.1h2.2M820.4 993.1h2.2M783.0 997.5h2.2M780.8 999.7h2.2M818.2 999.7h2.2M772.0 1001.9h2.2M776.4 1001.9h2.2M816.0 1001.9h2.2M844.6 1001.9h2.2M765.4 1010.7h2.2M785.2 1012.9h2.2M752.2 1019.5h2.2M791.8 1019.5h2.2M805.0 1026.1h2.2M723.6 1041.5h2.2" stroke="#2a96c4" stroke-width="2.25" fill="none"/>
<rect x="793" y="986" width="3.4" height="4.5" fill="#111"/>
</g>
<rect x="947.8" y="609.2" width="8.0" height="8.0" rx="2.4" fill="#357eb0"/>
<rect x="959.3" y="624.6" width="8.0" height="8.0" rx="2.4" fill="#357eb0"/>
<rect x="838.5" y="694.5" width="4.0" height="4.0" rx="1.2" fill="#3a72a5"/>
<rect x="688.0" y="733.0" width="4.0" height="4.0" rx="1.2" fill="#3a72a5"/>
<rect x="804.5" y="753.5" width="5.0" height="5.0" rx="1.5" fill="#357eb0"/>
<rect x="766.0" y="763.0" width="4.0" height="4.0" rx="1.2" fill="#3a72a5"/>
<rect x="796.0" y="761.0" width="4.0" height="4.0" rx="1.2" fill="#3a72a5"/>
<rect x="980.0" y="766.0" width="4.0" height="4.0" rx="1.2" fill="#357eb0"/>
<rect x="422.4" y="1049.9" width="8.0" height="8.0" rx="2.4" fill="#2f89bc"/>
<rect x="644.0" y="1328.2" width="8.0" height="8.0" rx="2.4" fill="#2f89bc"/>
<rect x="571.0" y="1496.9" width="10.0" height="10.0" rx="3.0" fill="#2f89bc"/>
<rect x="1148.9" y="1477.6" width="12.0" height="12.0" rx="3.6" fill="#2f89bc"/>
<rect x="1298.9" y="932.1" width="9.0" height="9.0" rx="2.7" fill="#2f89bc"/>
<rect x="1141.0" y="918.0" width="6.0" height="6.0" rx="1.8" fill="#357eb0"/>
<rect x="1101.5" y="935.5" width="5.0" height="5.0" rx="1.5" fill="#3a72a5"/>
<rect x="1087.5" y="938.5" width="5.0" height="5.0" rx="1.5" fill="#3a72a5"/>
<rect x="1123.5" y="948.5" width="5.0" height="5.0" rx="1.5" fill="#3a72a5"/>
<rect x="1157.5" y="960.5" width="5.0" height="5.0" rx="1.5" fill="#3a72a5"/>
<rect x="1065.5" y="952.5" width="5.0" height="5.0" rx="1.5" fill="#3a72a5"/>
<rect x="1137.0" y="965.0" width="6.0" height="6.0" rx="1.8" fill="#357eb0"/>
<rect x="1152.0" y="972.0" width="6.0" height="6.0" rx="1.8" fill="#357eb0"/>
<rect x="1088.5" y="978.5" width="5.0" height="5.0" rx="1.5" fill="#3a72a5"/>
<rect x="1088.5" y="991.5" width="5.0" height="5.0" rx="1.5" fill="#3a72a5"/>
<rect x="1032.5" y="1012.5" width="5.0" height="5.0" rx="1.5" fill="#357eb0"/>
<rect x="1005.5" y="1037.5" width="5.0" height="5.0" rx="1.5" fill="#3a72a5"/>
<rect x="1017.5" y="1038.5" width="5.0" height="5.0" rx="1.5" fill="#3a72a5"/>
<rect x="1007.5" y="1069.5" width="5.0" height="5.0" rx="1.5" fill="#3a72a5"/>
<rect x="1028.5" y="1076.5" width="5.0" height="5.0" rx="1.5" fill="#357eb0"/>
<rect x="968.5" y="1099.5" width="5.0" height="5.0" rx="1.5" fill="#3a72a5"/>
<rect x="957.5" y="1192.5" width="5.0" height="5.0" rx="1.5" fill="#3a72a5"/>
<rect x="945.5" y="1222.5" width="5.0" height="5.0" rx="1.5" fill="#3a72a5"/>
<rect x="606.5" y="831.5" width="3.0" height="3.0" rx="0.9" fill="#3a72a5"/>
<rect x="662.0" y="821.0" width="4.0" height="4.0" rx="1.2" fill="#3a72a5"/>
<rect x="698.0" y="832.0" width="4.0" height="4.0" rx="1.2" fill="#3a72a5"/>
<rect x="938.0" y="803.0" width="4.0" height="4.0" rx="1.2" fill="#3a72a5"/>
<rect x="955.0" y="800.0" width="4.0" height="4.0" rx="1.2" fill="#3a72a5"/>
<rect x="996.0" y="864.0" width="4.0" height="4.0" rx="1.2" fill="#3a72a5"/>
<rect x="1022.0" y="849.0" width="4.0" height="4.0" rx="1.2" fill="#3a72a5"/>
<rect x="1027.0" y="854.0" width="4.0" height="4.0" rx="1.2" fill="#3a72a5"/>
<rect x="606" y="860.5" width="3" height="4.5" fill="#45d130"/><rect x="608" y="857.5" width="4" height="5" fill="#2a9bcb"/>
<path d="M21 232 L23 229.1 L26.1 227.5 L29.2 225.9 L31.7 223.6 L34 221M193.6 221.3 L245.8 256.8M316.8 221.3 L317.7 225.9 L316.8 230.4 L246.4 231.9 L246 235.5 L247.1 239 L245.6 242.6 L245.8 246.1 L246.3 249.7 L245.6 253.2 L245.8 256.8 L248.2 295.7 L248.6 362.8 L148.7 364.6 L150.9 501.9M248.2 295.7 L366.3 296.1 L367.5 292.9 L366.2 289.7 L366.3 286.5 L368.9 288.9 L371.8 290.9 L375.1 292.4 L377.8 290.4 L380.7 288.7 L384.3 288.5 L387.2 286.9 L390.5 287.4 L393.2 289.3 L396 290.9 L399 292.8 L402.3 293.6 L406.2 292.8 L409.2 294.6 L413.2 296.8 L416.5 297.6 L419.1 299.5 L421 302.5 L424.2 303.4 L426.1 306.8 L426.3 310.6 L426.4 314.4 L424.2 319.9 L426.5 322.4 L428 325.4 L428.6 328.7 L431.3 330.7 L434.6 331.9 L437 334.3 L439.6 336.4 L442.7 338.4 L446 339.8 L449.6 340.6 L452.5 342.9 L456 343.9 L459.4 345.2 L462.8 346.5 L466.5 345.5 L470 346.2 L473.5 347.2 L477 347.4 L480.3 349.9 L484.2 350.6 L488 351.8M136.4 568.5 L135.7 504.1 L139.7 504.7 L143.4 503.9 L147.2 503 L150.9 501.9 L203.5 501.4 L202.8 497.2 L203.5 493.1 L261.2 492.6 L261.2 497.5 L264.5 497.1 L267.8 498 L271.1 498.3 L274.4 496.3 L277.7 496.7 L281 497.5 L282.3 555.3 L332.2 556.4 L335.5 557.2 L338.6 555 L341.9 556.1 L345 555.1 L348.3 555.7 L351.5 556 L354.7 554.9 L357 557.2 L359.8 558.9 L362.3 560.9 L364.3 563.5 L366.7 565.6 L369.5 567.3 L371.8 569.6M1471.7 494.8 L1476 497 L1479.2 495.2 L1481 492 L1486 492.6 L1487.9 489.6 L1490.4 487.1 L1496 491 L1501.4 491.5 L1506 496 L1510.2 499.2 L1513.1 497.1 L1515 494 L1521.2 492.6 L1526 489 L1530 486 L1534 488 L1536.6 493.7 L1538.4 490.3 L1537.6 486.3 L1538.8 482.7 L1541.9 484.2 L1545.5 484 L1548.9 484.5 L1552.1 485.8 L1555.1 487.6 L1558.8 487 L1561.8 489.1 L1565.3 489.2 L1568.5 490.4M1453 596 L1456.1 597.6 L1459.3 599.2 L1463.3 598.2 L1466.2 600.4 L1466 604.5 L1468 608 L1470.6 613.6 L1476 610 L1481.6 611.4 L1484.9 608.7 L1487 605 L1492.6 602.6 L1496.9 603.8 L1500 607 L1503.8 608.8 L1508 609.2 L1513 614 L1519 615.8 L1522.3 615.2 L1524.7 612.5 L1528 612 L1532.1 614 L1536.6 613.6 L1540.2 611.5 L1544 610 L1548 610.6 L1552 611.4 L1556.2 610.1 L1560 608 L1564.2 609.1 L1568.5 609.2M20.9 717.7 L70.4 716.2 L70.4 721.4 L74 720.8 L77.6 721.6 L81.1 722.6 L84.7 721.4 L84.3 724.8 L84.7 728.3 L85.2 731.7 L85.6 735.2 L84.7 738.6 L79.6 739 L78.4 742.7 L79 746.3 L79.6 750M84.7 739 L145.2 738M145.2 710 L145.2 813.4 L147.8 816 L149.7 819.2 L151.8 822.2 L155.4 823.4 L159.4 823.4 L162.8 825.5 L166.1 824.8 L169.6 825.1 L172.7 823.3 L174.2 827.2 L176 831 L178.7 833.2 L181 836 L184.3 837.5 L187 839.8 L190.3 841 L192.6 843.8 L196.5 844 L199.1 846.4 L199.3 850.3 L200.4 854 L202.4 857.4 L206.2 857.5 L210.1 857.4 L210.1 861.1 L211.2 864.7 L210.1 868.4 L212.7 871.7 L213.2 876 L215.6 879.4 L213 881.8 L211 884.7 L209.7 888.2 L206.8 890.4 L205.8 893.6 L204.7 896.8 L204.6 900.2 L204.6 903.5 L204.6 906.9M145.2 710 L149 709.3 L151.8 706.7 L155.6 707.9 L158.8 710.4 L162.8 711.1 L224.4 647.3M79.6 750 L125 792.5 L81.4 837.6 L52.8 869.5 L50 866.1 L46.2 864 L44.3 867.3 L40.5 869 L39 872.6 L36.7 875.6 L34.1 878.3 L38.5 881.6 L36.1 883.7 L34.7 886.8 L32.5 889.1 L29.8 891.1 L28 893.8 L25 895.3 L23.3 898.1 L20.9 900.3M79.6 750 L40.7 790.9 L40.7 787 L41.1 783.2 L40.7 779.3 L36.9 779 L33 778.8 L29.2 778.3 L25.3 779.3 L24.8 783.2 L26.5 787 L26.5 790.8 L26 794.7 L20.9 795.4M81.4 837.6 L84.5 839.4 L85.1 843.3 L87.6 845.7 L91.1 847.1 L92.3 850.5 L95.1 852.6 L96.1 856.2 L98.3 858.7 L101.2 860.7 L105.8 861.9 L110 864 L110.9 867.4 L112.2 870.6 L113.8 873.7 L114.6 877.1 L115.7 880.4 L116.6 883.8 L121 882.1 L125.4 880.5 L127.1 883.8 L130 885.9 L133.8 887.2 L135.7 890.3 L137.1 893.9 L140 896 L143 898.1 L176 928.9 L175 932.1 L174.2 935.4 L173.8 938.8 L170.6 940.6 L168.4 943.9 L165 945.4M143 898.1 L100.1 942.1 L97.1 940 L94.4 937.8 L92.9 934.3 L89.6 932.5 L87.7 929.3 L84.4 927.6 L82.5 924.5 L79 926.5 L76.9 929.8 L75 933.2 L72.7 936.4 L69.3 938.4 L20.9 939.9M330 878.3 L331.1 881.7 L334.5 883.5 L336.7 886.2 L338.6 889 L339.3 892.7 L341 895.7 L342.7 898.7 L345.3 901 L347.6 903.6 L341 904.7 L340.4 908.2 L340 911.8 L340.2 915.4 L339.9 919 L342.9 921.3 L346.5 922.7 L349.6 924.7 L352 927.8 L355.5 929.3 L359.2 929.6 L362.8 930.6 L366.6 930.6 L370.3 930.8 L374 931.1 L376.7 928.6 L380.7 928.5 L383.5 926 L387 925 L390.1 923.1 L393.2 921.4 L396 919 L399.5 919 L402.9 919.1 L406.3 917.9 L409.8 918.3 L413.1 917.5 L416.6 917.4 L420 916.8 L423.4 917.9 L426.9 917.7 L430.3 917.2 L433.7 916.8 L437.1 915.8 L440.6 917.3 L444 916.4 L478.1 928.9 L480.3 931.3 L482.4 933.7 L483.5 937 L486.3 938.9 L487.9 941.8 L491 943.5 L492.4 946.5 L495.7 948.2 L499.1 949.8 L502.9 950.1 L506.2 951.7 L510 952 L513.3 951.4 L516.7 950.9 L519.9 949.4 L523.2 948.7 L526.7 947.1 L530.8 947.5 L534.2 945.4 L538.6 949.8 L537.9 953.2 L536.9 956.6 L538.1 960.2 L537.9 963.7 L536.9 967.1 L536.5 970.5 L536.4 974 L540 972.9 L543.5 973 L547.1 974.3 L550.7 974 L552.4 978.3 L551.8 982.8 L555.2 982.3 L558.3 984.7 L561.6 985 L564.9 985.3 L568.4 984.1 L571.6 985 L570.1 988.5 L571.4 992.2 L570 995.7 L570.5 999.3 L574.4 999.1 L578.2 1000 L581.3 998.1 L582 994.2 L584 991.4 L587 989.4 L589.4 986.6 L592.8 985.2 L594.8 982 L598.6 980.9 L601.6 979 L604.4 976.8 L606.8 974 L609 970.6 L610.2 966.8 L611.2 963 L613.9 960.6 L616.5 958.2 L618.7 955.3 L621.8 953.4 L624.4 950.9 L624.9 947.5 L624.9 944 L626.2 940.7 L626.2 937.2 L625.3 933.7 L627 930.4 L625.9 926.8 L626.6 923.4M226.6 908 L227.7 911.5 L229.9 914.3 L231.4 917.5 L234.7 919.7 L235.4 923.4 L234.5 927.2 L233.7 931 L233.8 935 L233.2 938.8 L236.5 939.9 L240 940.4 L243.2 941.9 L246.4 943.2 L246.9 946.9 L247 950.7 L248.6 954.2 L252.2 955.5 L256 956.3 L259.6 957.5 L262.4 955.1 L266.1 954.1 L268.6 951.2 L271.3 948.6 L275 947.6 L278.3 946.4 L281.6 945.1 L285.2 944.5 L288.1 942.3 L291.7 941.6 L294.8 939.9 L294.7 936.3 L295.3 932.7 L294.6 929.1 L295.9 925.6 L298.9 923.9 L301.6 921.7 L304.9 920.4 L308 919 L311.5 918.2 L315.1 919 L318.6 918 L322.2 917.8 L325.7 917.6 L329.3 917.9 L332.8 917 L336.4 917.7 L339.9 916.8M248.6 954.2 L246.5 957.6 L244.1 960.6 L240.9 963 L240.6 966.9 L240.6 970.8 L239.5 974.6 L238.7 978.4 L238.8 981.9 L237 985 L236.1 988.3 L235.4 991.6 L232.4 992.8 L229 992.6 L226.5 995.4 L222.8 994 L220 996 L217 997.9 L214.3 1000.2 L210.9 1001.5 L207.8 1003.2 L204.6 1004.8 L201.6 1006.7 L197.9 1005.8 L194.7 1007M235.4 991.6 L239 989.8 L242 987.2 L245.7 988.1 L249 989.6 L252.1 991.8 L255.2 993.8 L256 997.4 L258.4 1000.2 L258.4 1004.1 L260.7 1007 L260.4 1010.2 L260.7 1013.5 L260.4 1016.8 L260.7 1020 L259.6 1025.3 L263.5 1024.6 L267.3 1023.7 L271.3 1023.6 L275 1022 L276.1 1027.5 L279.6 1028.5 L283.2 1028.6 L287 1027.9 L290.4 1029.7 L291.5 1032.9 L292 1036.2 L291.5 1039.6 L295.2 1041.1 L299.2 1040.7 L300.3 1047.3 L303.5 1048.8 L306.9 1047.6 L310.1 1048.9 L313.6 1047.5 L316.7 1049.7 L320.2 1048.1 L323.4 1049.5 L322.4 1052.8 L322.7 1056.1 L322 1059.4 L322.1 1062.7 L322.7 1066 L323.5 1069.3 L322.3 1072.6 L325.6 1071.8 L328.9 1073.5 L332.2 1073 L335.5 1071.4 L338.8 1073.3 L342.1 1072.6 L344 1075.6 L345 1078.9 L343.7 1082.8 L344.5 1086.1 L346.7 1089 L346.5 1092.6 L348.8 1095.5 L349.7 1098.8 L349.8 1102.3M492.4 946.5 L489.6 948.4 L489.1 952.1 L486 953.8 L484.5 956.7 L481.7 958.6 L480.6 961.8 L478.8 964.6 L477.6 967.7 L474.8 969.6 L472.1 971.4 L468.7 971.9 L465.9 973.5 L463.8 976.2 L463.5 979.4 L461.3 982.1 L461.9 985.6 L460.1 988.5 L459.4 991.6 L456.7 993.7 L454.1 995.9 L451 997.4 L447.8 998.7 L445 1000.7 L442.7 1003.2 L439.6 1004.8 L436.5 1006.4 L433.3 1007.5 L429.5 1006 L426.4 1007.7 L423.1 1008.5 L419.8 1009.2 L416.5 1010.6 L413.3 1012.5 L409.8 1013.4 L405.8 1012.9 L402.9 1015.5 L399.4 1016.3 L396 1017.6 L392.8 1019 L390.8 1021.8 L389 1024.8 L386.7 1027.2 L384 1029.2 L381.6 1031.5 L378.4 1033 L375.9 1035.5 L373 1037.4 L369.8 1038.9 L366.7 1040.4 L363.9 1042.4 L360.8 1044 L358.2 1046.2 L355.3 1047.8 L352.9 1050.3 L349.8 1051.7 L351.8 1055 L355.7 1056.2 L357.8 1059.4 L360.8 1061.6 L364.2 1062.4 L367.4 1063.9 L371.1 1063.7 L374 1066 L377.7 1066.8 L381.2 1066 L384.4 1063.5 L388 1063.7 L391.6 1063.8 L395.5 1063.5 L398.9 1061.8 L402.2 1060 L406 1059.3 L409.2 1057.2 L412.6 1056.8 L415.5 1058.9 L418.9 1058 L422 1059.4 L425.4 1059.4 L428.4 1061.6 L432 1060.7 L435.2 1061.6 L432.5 1063.4 L429.8 1065.1 L427.5 1067.5 L424.3 1068.7 L421.5 1070.3 L419.4 1073 L417.1 1075.4 L414.3 1077 L414.2 1080.8 L416.3 1084.2 L416.5 1088 L420.3 1086.6 L424.3 1088.4 L428 1086.5 L431.9 1086.9 L433.6 1090 L432.8 1093.6 L435 1096.6 L434 1100.2 L435.2 1103.4 L438.6 1103.8 L441.7 1102 L445.1 1102.3 L446.2 1108.9 L449.7 1107.8 L452.5 1105.6 L455.1 1103 L458.1 1101.1 L461.6 1100.1 L463.3 1103 L463.2 1106.4 L463 1109.8 L464.9 1112.6 L465.6 1115.8 L466.7 1118.9 L467.1 1122.1M478.1 928.9 L481 926.5 L483.3 923.5 L487.4 922.5 L489.8 919.5 L492.4 916.8 L495.9 917 L499.3 917.9 L502.8 915.8 L506.2 917.5 L509.7 916.1 L513.1 916.2 L516.6 916.8 L516.8 913.2 L518.5 909.9 L519.7 906.4 L519.7 902.8 L519.9 899.2 L516.4 900.2 L512.9 901.2 L509.3 901.4 L505.6 901.4 L502.3 897M667.3 938.8 L670.7 940.2 L672.7 943.4 L675.7 945.2 L678.3 947.6 L675.2 949 L673.3 951.8 L671.1 954.2 L668 955.6 L666.7 959 L664 960.8 L660.9 962.6 L659.2 965.8 L656.4 967.8 L653.4 969.7 L651.2 972.5 L649.1 975.3 L646.3 977.4 L645.3 981.2 L642 982.8 L639.4 985.1 L635.9 986.5 L633.4 988.9 L631.1 991.7 L628.7 994.3 L625.7 996.3 L622.9 998.3 L620 1000.4 L617.3 1002.8 L613.2 1002.6 L610.4 1004.8 L607.4 1006.6 L604.6 1009 L601.3 1010.2 L598 1011.4 L595.7 1013.7 L593.6 1016.4 L590.8 1018.2 L588.1 1020 L585.8 1022.3 L582.7 1023.7 L579.9 1025.4 L578.8 1029.2 L576 1031.1 L572.4 1031.7 L571.2 1035.4 L568.2 1037 L565.2 1038.5 L562.8 1040.7 L560.8 1043.2 L559.5 1046.3 L556.4 1048 L554.6 1050.6 L554 1054.3 L550.6 1055.8 L549.4 1058.9 L547.2 1061.2 L545.2 1063.8 L543.1 1066.6 L541 1069.5 L538.7 1072.2 L538 1076 L536.1 1078.9 L534.1 1081.8 L532.2 1084.8 L529 1086.9 L527.6 1090.2 L524.7 1092.1 L523.5 1095.4 L520.6 1097.3 L518.3 1099.6 L515.9 1102 L513.9 1104.6 L512 1107.4 L510 1110 L506.6 1110.6 L503.9 1112.9 L500.5 1113.6 L497.6 1115.6 L494.4 1116.5 L491.3 1117.8 L488 1118.8 L484.9 1119.4 L482 1121.3 L478.6 1120.8 L475.4 1121.3 L472.1 1120.9 L469 1122.1 L466 1123.2 L462.9 1124.9 L459.5 1125.1 L455.9 1125.1 L453.1 1127.5 L449.3 1126.4 L446.5 1129.2 L442.8 1128.6 L439.6 1129.8 L437 1131.9 L433.8 1133.3 L432.3 1136.6 L429.9 1139 L427.6 1141.4 L424.9 1143.4 L422 1145.2 L419.9 1147.6 L417 1149.2 L415 1151.9 L412.7 1154.1 L409.2 1154.9 L408 1158.5 L404.2 1158.9 L402.8 1162.3 L400 1163.9 L396.6 1165.3 L393.7 1167.4 L390.4 1168.9 L387.6 1171.3 L385 1173.8 L347.6 1193.6M760.8 971.8 L758.3 974 L755.6 976 L753.6 978.8 L750 979.8 L747.9 982.4 L745.3 984.5 L743.2 987.2 L740.3 989.1 L736.9 990.2 L734.1 992.2 L731.3 994.3 L729.1 997.2 L725.6 998.2 L723.5 1000.8 L720.3 1002.4 L718.9 1005.6 L717 1008.4 L714.4 1010.5 L712.4 1013.2 L710.9 1016.2 L708.3 1018.4 L705.3 1020.1 L703.7 1023 L701.6 1025.6 L698.3 1027.1 L697 1030.3 L694.9 1032.8 L692.6 1035.2 L692.5 1038.8 L690.2 1041.7 L689.3 1045.1 L688.7 1048.6 L686.1 1051.4 L686 1055 L683.4 1057 L681 1059.3 L678.1 1060.9 L676.4 1064 L673 1065.1 L671 1067.9 L669.1 1070.6 L666.5 1072.7 L664 1074.8 L660.5 1076.1 L658.3 1079 L656.5 1082.4 L652.4 1082.9 L650.4 1086 L647.8 1088.4 L644.8 1090.2 L642 1092.4 L641.4 1096.2 L639 1099.3 L637.8 1102.9 L636.8 1106.5 L635.4 1110 L634 1113 L632.8 1116.1 L630.6 1118.6 L628.8 1121.4 L629.1 1125.2 L626.3 1127.5 L624.4 1130.2 L622.6 1132.9 L622.2 1136.4 L621 1139.6 L620 1142.8 L620.2 1146.2 L620 1149.6 L620.5 1153.4 L622.1 1156.8 L624.5 1159.9 L624.8 1163.9 L626.6 1167.2 L625 1170.1 L623.8 1173.2 L623.1 1176.5 L620.1 1178.8 L619 1182 L617.7 1185.1 L617.6 1188.6 L615.6 1191.4 L615.9 1195.4 L615.3 1199.2 L614.2 1203 L613.4 1206.8 L612 1210.1 L609.3 1212.7 L608.3 1216.2 L605.3 1218.5 L604.6 1222.2 L602.7 1225.3 L599.5 1226.8 L596.1 1228.1 L594 1231 L591.4 1233.2 L588.4 1234.4 L585.3 1235.6 L582.8 1237.6 L580.5 1240.2 L577.8 1242 L573.8 1241.6 L571.6 1244.2 L568.8 1246.6 L565.7 1248.6 L563.4 1251.6 L559.9 1253 L557.2 1255.5 L554 1257.4 L551.8 1261.8M1125.6 930 L1121.8 931.1 L1117.9 931 L1114 930.2 L1110.2 930 L1110 933.9 L1107 937 L1106.9 941 L1110.1 942.3 L1111.8 945.5 L1114.6 947.3 L1116.8 949.8 L1115.4 953.5 L1116.5 957.6 L1115.6 961.4 L1114.6 965.2 L1113.5 968.3 L1112.2 971.4 L1110.2 974 L1114 976.1 L1116.2 979.8 L1119 982.8 L1123 982.3 L1126.7 984.1 L1130.7 983.4 L1134.4 985 L1138.2 984 L1142.1 983.8 L1146.1 984.4 L1149.8 982.8 L1152.4 985.6 L1153.9 989 L1154.1 993 L1156.4 996 L1160.1 996 L1162.7 999.2 L1166.2 999.5 L1169.6 1000.4 L1169.7 1004.1 L1167.7 1007.6 L1167.4 1011.3 L1167.9 1015.1 L1167 1018.7 L1163.4 1018.5 L1160.2 1020.5 L1156.5 1020.1 L1153.1 1020.9 L1152.8 1024.2 L1151.8 1027.4 L1152.7 1030.8 L1152 1034.1 L1148.7 1034 L1145.5 1032.7 L1142.1 1033 L1140.2 1030 L1138.6 1026.7 L1136.6 1023.7 L1134.4 1020.9 L1127.8 1022 L1125.5 1019.1 L1123.4 1016.2 L1120.1 1014.3 L1119.3 1017.9 L1118 1021.4 L1117.9 1025.1 L1116.8 1028.6 L1114.3 1031 L1110.7 1030.6 L1108.3 1033.2 L1104.7 1033 L1101.7 1034.1 L1099.2 1036.3M1160.8 992.7 L1164.2 991.5 L1166.2 988.6 L1168.2 985.7 L1172.1 985.1 L1173.9 982 L1176.7 980 L1180.1 978.9 L1182.3 975.6 L1186 974.9 L1183.3 973 L1182.8 969.2 L1179.8 967.5 L1183 966.5 L1184.9 963.2 L1188.3 962.5 L1191.1 960.8 L1193.7 958.7 L1196.4 956.8 L1199.7 956 L1202.2 959.4 L1203.9 963.3 L1249 935 L1251.1 932.2 L1253.9 930.2 L1257.6 929.5 L1259.5 926.4 L1262.1 924.2 L1265 922.3 L1267.8 920.4M1184 881.6 L1188 881.2 L1191.1 878.3 L1195.3 878.4 L1198.7 876.4 L1201.8 878.9 L1203.8 882.4 L1207 884.8 L1212.3 889 L1210.5 892.3 L1208.1 895.2 L1206.8 899.3 L1206 903.6 L1209 905.6 L1212.9 906.1 L1215.4 908.9 L1217.5 911.4 L1220.9 912.4 L1222.8 915.1 L1225.4 912.8 L1228.5 911 L1230.8 908.3 L1233.2 905.7 L1235.7 908.3 L1239.3 909.5 L1241.9 912 L1244.8 914.1 L1248.3 915.6 L1251 918.3 L1254.2 915.8 L1256.8 912.7 L1260.5 911 L1262.2 914.2 L1265.8 915.5 L1267.8 918.3 L1268.4 914.1 L1268.6 909.9 L1268.9 905.7 L1270.5 902.1 L1273.2 899.1 L1274.1 895.2 L1277.4 894.5 L1280.6 893.7 L1283.3 891.3 L1286.7 891 L1290 889.2 L1293.4 887.9 L1297.2 887.9 L1299.9 884.6 L1301.3 880.6 L1304.9 879.4 L1307.9 876.8 L1311.8 876.4 L1316 871.1 L1316 867.6 L1316.3 864.1 L1316.3 860.5 L1316.8 857 L1317.8 853.5 L1316.4 849.9 L1317.2 846.4 L1317 842.9M1422.2 664.9 L1461.8 767.2 L1462.9 770.5 L1459.8 771.4 L1456.8 772.5 L1453.9 773.9 L1450.8 774.9 L1450 771.2 L1448.5 767.8 L1447.4 764.2 L1446.4 760.6 L1442.6 762.5 L1438.6 763.7 L1434.3 763.9 L1434.8 767.3 L1436.8 770.3 L1436.2 773.9 L1437.3 777.1 L1438.5 780.3 L1438.3 783.9 L1440 786.9 L1440.7 790.3 L1440.5 793.8 L1442 796.9 L1437.6 798.6 L1433.2 800.2 L1431 796.9 L1427.8 794.3 L1426.9 790.1 L1424.4 787 L1420.9 785.5 L1417.4 783.9 L1414.7 780.9 L1411.2 779.3 L1407.9 778.9 L1404.5 778.6 L1401.3 777.5 L1397.9 777.3 L1394.7 776 L1389.2 779.3 L1394.7 782.6 L1394.7 786.1 L1393.7 789.6 L1395.2 793.2 L1392.9 796.6 L1393.6 800.2 L1390.7 801.5 L1387.9 803.2 L1385.8 805.9 L1382.6 806.8 L1379.3 808.5 L1377.1 811.8 L1373.3 812.6 L1370.5 815 L1367.2 816.7 L1365.9 813.1 L1362 811.3 L1360.6 807.6 L1358.4 804.6 L1355.1 804.1 L1351.9 802.7 L1348.5 803.6 L1345.2 803.4 L1341.9 802.7 L1338.7 801.7 L1335.4 801.5 L1332 802 L1328.7 801.3 L1325.4 800.6 L1322.1 800.9 L1318.8 800.1 L1315.5 800.5 L1312.2 800.2 L1309.3 797.4 L1307.1 794 L1306.5 789.7 L1303.4 787 L1300.7 784.2 L1300.3 780.3 L1299.1 776.8 L1296.8 773.8M1462.9 767.2 L1465.4 764.8 L1469 764.8 L1471.9 763.4 L1474.4 761 L1477.3 759.5 L1481.2 760.3 L1483.6 757.8 L1486.5 756.2 L1489.8 755.7 L1492.6 754 L1493.7 750.1 L1492.6 746.3 L1494.9 743.3 L1498.7 741.8 L1500.2 738 L1504 736.6 L1505.8 733.1 L1502.9 729.4 L1499.2 726.5 L1534.4 694.6 L1536.7 691 L1541 689.5 L1543.2 685.8 L1545.9 683.3 L1549.1 681.6 L1552.8 681.1 L1556.4 680.3 L1558.5 676.5 L1562.7 676.9 L1565.6 674.8 L1568.5 672.6M1478.3 761.7 L1498.1 814.5 L1501.7 815.6 L1505.2 813.8 L1508.8 814.5 L1512.4 814.5 L1514 818.4 L1515 822.4 L1514.6 826.6 L1514.1 830 L1511.6 832.6 L1511.2 836.1 L1508.9 838.8 L1508 842 L1506.2 844.9 L1505.2 848.1 L1505 851.7 L1503.6 854.7 L1501.4 857.4 L1503 860.5 L1503.9 863.9 L1503.7 867.6 L1505.8 870.6M1484.9 877.2 L1554.2 862.9 L1554.9 866.3 L1555.4 869.7 L1557.6 872.6 L1557 876.4 L1558 879.7 L1558.8 883 L1560.8 886 L1561.4 889.6 L1563 892.9 L1562.7 896.8 L1565.3 899.8 L1565.2 903.6 L1565.5 907.1 L1567 910.5 L1565.8 914.2 L1566.8 917.7 L1567.4 921.2M1484.9 877.2 L1483.6 873.9 L1481.6 870.8 L1481.3 867.1 L1479.4 864 L1478.4 860.9 L1476.4 858.3 L1473.4 856.4 L1472.8 853 L1473.6 849.5 L1475.2 846.2 L1478 843.6 L1478.3 839.8 L1444.2 838.7 L1444.9 842.1 L1446.3 845.3 L1447.1 848.7 L1449.5 851.6 L1449.7 855.2 L1407.9 867.3 L1408.1 870.6 L1408.9 873.7 L1410.7 876.6 L1411 879.9 L1411.5 883.1 L1410.9 886.5 L1413 889.4 L1413.4 892.6 L1414.2 896.4 L1411.9 899.9 L1411.4 903.5 L1412.3 907.3 L1411 910.9 L1411.2 914.6 L1408.6 912.3 L1404.9 912.4 L1402.1 910.6 L1398.9 909.6 L1395.8 908.4 L1392.8 907.3 L1390 905.3 L1386.9 903.9 L1383.9 902.7 L1380.4 902.5 L1378.9 905.8 L1376 908 L1328.7 839.8 L1328.7 801.3M1380.4 902.5 L1380.9 905.9 L1379.7 909.4 L1381.4 912.8 L1380.9 916.2 L1380.7 919.7 L1379.4 923.1 L1380.8 926.6 L1380.4 930 L1381.4 933.2 L1383.8 935.9 L1384.9 939.1 L1385 942.8 L1386.6 945.8 L1387.4 949.1 L1389.2 952 L1390.8 954.9 L1392.2 957.9 L1394.3 960.5 L1395.7 963.4 L1397.5 966.2 L1398 969.6 L1398.5 973.3 L1397.4 976.9 L1396.7 980.6 L1395.9 984.2 L1395.8 987.9 L1395.8 991.6 L1392.6 992.6 L1390 994.4 L1388.2 997.6 L1384.8 998.2M1249 935 L1251.2 938 L1253.1 941.3 L1256.6 940.4 L1260.3 940.9 L1263.6 939.2 L1265.4 943.5 L1268.9 946.6 L1271.4 948.9 L1272.4 952.3 L1274.2 955.1 L1277.2 957 L1281 958.1 L1285 957.5 L1280.4 962.3 L1284.6 967.5 L1282.9 970.5 L1278.9 970.8 L1277.2 973.8 L1280.2 975.3 L1282 978.4 L1285.6 979.1 L1287.6 982 L1290.4 983.6 L1292.6 986.2 L1295.1 988.3 L1297.6 990.5 L1300.3 992.5 L1303.4 993.8 L1302.7 997.2 L1303.7 1000.4 L1304.1 1003.6 L1303.8 1007 L1304.5 1010.2 L1304.3 1013.5 L1305.6 1016.7 L1305.6 1020 L1306.4 1016.5 L1305.8 1013.2 L1303.7 1010.1 L1304.9 1006.6 L1303.9 1003.3 L1303.4 1000 L1303.6 1003.8 L1303.5 1007.6 L1304.3 1011.3 L1304.7 1015 L1305.6 1018.7 L1301.6 1018.3 L1297.9 1019.8 L1298.5 1023.2 L1298.4 1026.5 L1297.6 1029.7 L1296.8 1033 L1293.2 1033.1 L1289.6 1033.4 L1286 1033.3 L1282.5 1031.9 L1279 1030.7 L1275.4 1030.7 L1271.8 1031.2 L1268.2 1030.8 L1265.1 1032.9 L1263.3 1036.2 L1260.9 1038.9 L1259.5 1042.5 L1256.6 1044.8 L1253.9 1047.3 L1203.3 1039.6 L1203.4 1036 L1203.1 1032.4 L1204.3 1029 L1205.3 1025.6 L1205.5 1022 L1200 1020.9 L1196.5 1021.5 L1193.2 1020.6 L1190 1018.9 L1186.5 1019.4 L1183.2 1018.3 L1179.7 1019.1 L1176.3 1018.6 L1173.1 1016.7 L1169.8 1016.3 L1166.3 1016.5M1303.4 993.8 L1307 993.6 L1310.5 993.5 L1314.2 994.1 L1317.7 994 L1321.3 992.7 L1324.9 993.1 L1328.4 993.1 L1332 992.7 L1333.3 995.8 L1334.6 999 L1336.8 1001.6 L1338.2 1004.6 L1340.8 1007 L1342.7 1010.5 L1345.7 1013.2 L1347.8 1016.4 L1349.6 1020 L1351.5 1023.4 L1351.1 1027.2 L1351.8 1030.8 L1355.2 1032.9 L1357.7 1035.9 L1360.7 1038.4 L1362.8 1041.8M1247.3 1047.3 L1258.3 1092.4M391.6 1063.8 L393.1 1067 L395 1069.8 L397.1 1072.6 L396.1 1075.8 L395.5 1079.2 L393.8 1082.3 L393.8 1085.8 L390.8 1087.8 L387.4 1088.5 L383.8 1088.9 L380.9 1091 L377.2 1091 L374 1092.4 L371.1 1094 L367.6 1094.1 L365.1 1096.6 L361.6 1096.6 L358.5 1097.6 L356.1 1100.3 L353.1 1101.6 L349.8 1102.3 L347.7 1105.3 L344.5 1106.8 L341.7 1108.9 L338.5 1110.4 L335 1111.5 L333.1 1115 L330 1116.6 L326.4 1116.7 L323 1118.3 L319.5 1119 L316 1119.9 L312.4 1119.9 L310.1 1117.3 L307.6 1115.1 L303.8 1114.7 L301.4 1112.2M301.4 1112.2 L297.5 1112.6 L293.7 1113.2 L289.9 1114 L286 1114.4 L282.2 1114.6 L278.7 1116.3 L275 1117 L271.8 1119.9 L267.5 1120.8 L264 1123.2 L262.5 1126.3 L258.5 1126.8 L257 1130 L253.6 1131.7 L250.8 1134.2 L247.9 1137.1 L244 1138 L242.4 1140.9 L238.9 1142 L237.6 1145.2 L233.6 1145.4 L230 1147 L225.9 1149.1 L222.2 1151.8 L216 1153 L213.8 1155.9 L211.2 1158.4 L206.9 1158.4 L203 1160 L199 1161.9 L195.8 1165 L195.9 1168.8 L194 1172 L192.1 1176 L191.4 1180.4 L185 1180 L181.8 1181.9 L178.2 1182.6 L174.6 1182.8 L171.7 1185.3 L168 1185 L164.5 1185.7 L161.9 1188.5 L158.4 1189.2 L154.1 1188.6 L150 1190 L146 1190.8 L143 1193.6 L138.6 1194.7 L134.2 1195.8 L135.5 1199.5 L135.9 1203.4 L134.9 1207.5 L136.4 1211.2 L133.4 1213.1 L130.9 1215.6 L133.6 1217.8 L136.6 1219.6 L140.3 1220 L143 1222.2 L146.1 1224.2 L150.1 1224.5 L152.9 1227.2 L156.2 1228.8 L159 1227.2 L161.1 1224.5 L164.5 1223.9 L167.2 1222.2 L171.1 1222 L174.8 1220.5 L178.7 1220.2 L182.6 1220 L184.3 1216.9 L185.8 1213.7 L185.9 1210.1 L189.2 1207.8 L192.8 1206 L196.9 1205.7 L213.4 1239.8 L213.2 1243.1 L214 1246.4 L215.3 1249.6 L214.5 1253 L216.7 1255.6 L220.4 1255.7 L222.6 1258.2 L225.9 1258.9 L227.7 1262.2 L231 1262.9 L233.2 1268.4 L230.5 1271.2 L227.7 1273.9 L230.3 1276.3 L231.1 1280 L234.2 1282.1 L236.6 1284.7 L238.1 1287.9 L239.1 1291.5 L242 1293.7M116.6 1191.4 L122.1 1192.5 L124.7 1195.9 L125.4 1200.2 L128 1197.8 L130.9 1195.8 L132.7 1191.6 L132 1187 L136.2 1185.2 L140.8 1184.8 L142.3 1189.1 L143 1193.6M301.4 1112.2 L342.1 1162.8 L339.8 1165.6 L336.7 1167.3 L333.5 1169 L331.1 1171.6 L333.7 1173.9 L334.5 1177.6 L337.8 1179.5 L340.1 1182.1 L341.5 1185.3 L343.8 1187.9 L345.1 1191.2 L347.6 1193.6 L344.3 1195.3 L341.8 1197.8 L339.7 1200.8 L337.6 1203.7 L334.3 1205.5 L332.4 1208.6 L330 1211.2 L328.1 1214.1 L325.4 1216.1 L321.8 1217.1 L320.7 1220.9 L317.2 1221.9 L315.1 1224.6 L312.4 1226.6 L310.7 1229.8 L308.7 1232.6 L306.3 1235.2 L303.6 1237.6 L300 1239.2 L296.6 1241.4 L292.6 1242 L288.8 1243.2 L286.6 1246.6 L283.3 1248.5 L280 1250.4 L277.2 1253 L274.9 1256 L272.6 1259 L269.9 1261.8 L268 1265 L266.2 1268.4 L263.7 1271.3 L262.3 1274.7 L260.9 1278.1 L259.6 1281.6 L257.1 1283.8 L255.4 1286.9 L251.8 1287.9 L249.5 1290.4 L247.5 1293.1 L245.1 1295.5 L242 1297 L240 1299.9 L238.3 1303.1 L237.8 1306.9 L234.9 1309.3 L233.2 1312.4 L231.2 1315.5 L228.4 1317.9 L224.9 1319.5 L223.8 1323.5 L219.9 1324.8 L217.8 1327.8 L214.9 1329.4 L212 1331.2 L209 1332.7 L205.1 1332.2 L202.4 1334.4 L199.2 1335.9 L195.7 1336.3 L192.3 1337.2 L189.2 1338.8 L186.5 1340.9 L185.6 1344.6 L183 1346.9 L180.2 1348.9 L178.4 1351.8 L176 1354.2 L175 1357.4 L172.2 1359.5 L171.2 1362.7 L169 1365.1 L168.2 1368.4 L165.8 1370.8 L165 1374 L163.9 1377.1 L162.1 1379.8 L160.4 1382.6 L158 1384.9 L156.7 1387.9 L155.8 1391.1 L154 1393.8 L152.8 1397.3 L150.2 1400.1 L148.4 1403.4 L147.4 1407M312.4 1226.6 L349.8 1276.1 L292.6 1325.6 L293.8 1329.3 L292.1 1332.9 L292.6 1336.6 L294.7 1340 L297 1343.2 L294.1 1345.1 L291.8 1347.5 L290.1 1350.5 L287.7 1352.8 L285.9 1355.7 L283.8 1358.2 L281.6 1360.8 L279.9 1364.3 L279.5 1368 L279.4 1371.8 L281.1 1374.7 L281.1 1378.4 L284.2 1380.7 L283.9 1384.4 L286 1387.2 L289.1 1388.9 L292.7 1388.3 L296.1 1389 L299.2 1390.5 L301.4 1387.9 L304.2 1386.1 L306.4 1383.6 L308.5 1380.8 L311.3 1378.9 L314.9 1378 L316.8 1375.1 L352 1404.8 L350.8 1409.2 L349.8 1413.6 L347.1 1416.5 L343.2 1417.6 L342.6 1421 L340.8 1423.7 L338.8 1426.4 L335.2 1428.3 L332.4 1431 L331.4 1435.5 L327.8 1437.4 L324.2 1438.3 L320.3 1438.2 L316.8 1439.6 L312.8 1439.6 L309.5 1437.2 L305.8 1436.3 L302.4 1438.4 L298.4 1438.2 L294.8 1439.6 L293.3 1442.6 L291.6 1445.5 L291.1 1448.9 L289.8 1452 L288.2 1455 L285.3 1457 L283 1459.8 L279.9 1461.6 L277.2 1463.8 L274.7 1466.9 L273.3 1470.7 L270.1 1473.4 L268.4 1477 L264.8 1478.8 L262.9 1482.5 L259.6 1484.7 L256.6 1486.5 L253.3 1487.5 L250.8 1490.2 L246.8 1489.9 L244.2 1492.4 L242 1495.5 L239 1498 L237 1501.2 L235.1 1504.5 L233.2 1507.8 L232.6 1511.6 L231.2 1515.1 L228.7 1518.2 L228.2 1522 L226.6 1525.4 L225 1528.6 L222.3 1531 L220 1533.6 L217.8 1536.4 L216.1 1540.1 L213.7 1543.2 L210.9 1546.1 L209 1549.6 L206.8 1556.2 L203.7 1558.7 L202.8 1562.6 L200.7 1565.8 L197.4 1568.1 L195.8 1571.6 L194 1574.3 L192.1 1576.9 L190.3 1579.5 L189.2 1582.6 L191.4 1589.2 L189.6 1592.3 L190.4 1596.2 L188.8 1599.3 L187 1602.4 L186.1 1605.6 L184.6 1608.5 L182.6 1611.2 L180 1613.7 L178.6 1617 L175.5 1619.1 L173.8 1622.2 L174.9 1626.6 L178.9 1626.7 L182.8 1627.2 L186.6 1628.4 L190.3 1629.9 L189 1633.1 L188.7 1636.4 L187.8 1639.6 L189.4 1643.2 L188.2 1646.4 L187.2 1649.7 L187 1653 L190.4 1653.4 L193.7 1653.8 L196.9 1654.9 L200.4 1654.6 L203.4 1656.8 L206.6 1657.7 L210.1 1657.6 L213.6 1657.5 L216.9 1657.7 L220 1659.6 L223.2 1661.9 L224.8 1665.8 L228.1 1668 L231 1670.6 L232.8 1673.8 L233.2 1677.4 L232.4 1681.1 L233.7 1684.4 L233.8 1688 L234.3 1691.4 L235.4 1694.8 L237.6 1697.3 L237.9 1700.9 L240.4 1703.3 L241.5 1706.4 L243 1709.3 L244.2 1712.4 L245.1 1716.2 L246.4 1719.9 L246.1 1723.9 L246.4 1727.8 L244 1730.2 L241.5 1732.5 L239 1734.8 L237.1 1737.6 L235.6 1740.8 L233.2 1743.2 L231.2 1745.9 L229.1 1748.5 L228.5 1752.1 L226.7 1755 L224.4 1757.5 L228.2 1757.4 L231.5 1755.5 L234.8 1753.6 L238.2 1752.3 L242 1752 L245.4 1750.8 L248.9 1752.6 L252.3 1752.1 L255.7 1751.3 L259.2 1752 L262.6 1751.2 L265.9 1749.3 L269.4 1750.1 L272.8 1749.8 L275.6 1752.5 L279.2 1754.3 L281.6 1757.5M352 1404.8 L354.1 1401.4 L354 1397.1 L356.4 1393.8 L358.7 1391.2 L361.7 1389.5 L363.6 1386.3 L367.3 1385.4 L369.6 1382.8 L372.3 1380.4 L375.6 1379.6 L379.2 1379.5 L382.5 1378.6 L385.2 1376.3 L388.9 1376.4 L391.6 1374 L395 1372.6 L396.8 1369.1 L400 1367.4 L402 1364.6 L405.5 1363.6 L407.7 1361.2 L409.9 1358.6 L412.1 1363 L415.5 1364.3 L419.1 1362.4 L422.4 1364 L425.9 1363.8 L429.3 1364.4 L432.7 1365.2 L436.1 1365.3 L439.6 1365.2 L442.9 1363.7 L446.7 1364.8 L450 1363.7 L453.5 1363.3 L456.9 1362.3 L460.4 1361.8 L463.8 1360.8 L510 1344.3 L513.4 1344 L516.2 1342.3 L518.8 1340.2 L521.4 1338.3 L524.4 1337 L527.2 1335.4 L530.5 1334.9 L533 1332.6 L536.4 1332.2 L539.6 1331.1 L542.4 1329.2 L546.2 1329.7 L548.9 1327.5 L552.5 1327.5 L555.7 1326.5 L558.8 1325.3 L561.7 1323.4 L620 1319 L623.5 1319.5 L626.6 1317.6 L630 1317.5 L633.3 1316.6 L636.7 1316.7 L639.7 1314.8 L643.2 1314.7 L646.5 1314.4 L649.8 1313.5 L653 1312.4 L681.6 1290.4 L716.8 1259.6 L752 1224.4 L782.8 1199.1 L785.8 1197.5 L786.9 1194.2 L789 1191.7 L791.1 1189.2 L793.6 1187.2 L796.2 1185.2 L798 1182.5 L800.4 1180.4 L802.3 1177.4 L801.8 1173.5 L804.6 1170.8 L805.5 1167.4 L805.7 1163.8 L806.6 1160.5 L808.1 1157.3 L809.2 1154 L810.2 1150.6 L813.8 1148.8 L813.9 1144.7 L815.7 1141.9 L818.3 1139.4 L820 1136.4 L822.9 1134.5 L824.8 1131.6 L827.2 1129 L829.6 1126.6 L833 1125.4 L835.2 1122.8 L837.2 1120.2 L838.2 1116.8 L840.4 1114.2 L842.3 1111.4 L844.6 1109 L846.2 1105.9 L848.4 1103.4 L861.6 1068.2 L907.8 1097.9 L909.2 1094.9 L911.4 1092.4 L914 1090.3 L915.8 1087.6 L918.1 1085.2 L919.7 1082.3 L921 1079.2 L923.9 1081 L927.1 1082.4 L929.4 1085.2 L932.5 1086.6 L934.4 1090 L937.6 1091.3 L941 1092.4 L943.4 1095 L946.3 1096.8 L948.5 1094.1 L949.5 1091 L950 1087.7 L951.1 1084.6 L951.8 1081.4 L955.2 1080.3 L958.5 1078.7 L960.5 1075.2 L964 1074.2 L967.2 1072.6 L967.2 1069.3 L968.4 1066.3 L969.5 1063.3 L970.8 1060.3 L971.6 1057.2 L973.2 1054 L975.5 1051.3 L977.1 1048.1 L978.1 1044.5 L980.4 1041.8 L983.5 1042.6 L986.1 1044.9 L989.5 1045 L992.3 1046.8 L995.1 1048.4 L998.2 1049.4 L1001.7 1049.3 L1004.6 1050.6 L1005 1054.7 L1008.4 1057.6 L1009 1061.6 L1012.3 1063 L1016 1062.5 L1019.4 1063.1 L1022.8 1064.1 L1026.1 1065.8 L1029.7 1065.5 L1033.2 1066 L1035.4 1068.7 L1038.9 1069.9 L1040.5 1073.3 L1044.5 1073.9 L1046.4 1077 L1049.4 1079.1 L1051.5 1081.9 L1053.8 1084.6 L1055.2 1088 L1058.4 1086.8 L1061.8 1087 L1065.2 1087.9 L1068.3 1085.8 L1071.8 1087 L1075 1085.8 L1076.1 1089.1 L1078.4 1091.7 L1081.6 1093.6 L1082.8 1097 L1083.8 1100.3 L1085.8 1103.1 L1088.2 1105.6 L1087.2 1108.7 L1086.1 1111.7 L1086.2 1115 L1085.3 1118.1 L1084.7 1121.3 L1083.3 1124.2 L1083.8 1127.6 L1086.2 1125.3 L1087.3 1121.9 L1091.1 1120.9 L1092.4 1117.6 L1095.1 1115.6 L1097.1 1113 L1099.8 1111.1 L1101.2 1107.9 L1103.6 1105.6M105.6 1390.5 L108.9 1391.2 L112.4 1390.7 L115.4 1393.3 L119 1392.5 L122 1394.4 L125.7 1393.4 L128.8 1394.7 L132 1396 L131.3 1399.8 L130.9 1403.7 L134.1 1404.8 L137.3 1406 L140.8 1405.5 L144.2 1405.8 L147.4 1407 L150.8 1407.2 L153.9 1408.7 L157.2 1409.4 L160.7 1408.4 L163.8 1410.3 L167.3 1410 L170.6 1410.2 L173.8 1411.4 L176.8 1414 L180.7 1415.1 L183.6 1417.8 L187 1419.8 L231 1446.2 L233.9 1448.3 L236.4 1450.8 L239.1 1453.2 L240.4 1456.9 L243 1459.3 L245.6 1461.7 L248.6 1463.8 L250.8 1466.3 L253.5 1468.3 L256.1 1470.5 L258.4 1472.9 L261.3 1474.7 L264.3 1476.2 L266.2 1479.2 L269.9 1479.6 L273.3 1480.5 L276.7 1482.1 L280.1 1483.6 L283.8 1483.6 L285 1486.9 L286.2 1490.1 L287.4 1493.4 L288.2 1496.8 L291.2 1498.7 L294.1 1500.7 L297.4 1502.1 L300.8 1503.3 L303.6 1505.6 L304.6 1509.1 L308.1 1511.2 L309.3 1514.6 L311.7 1517.3 L312.4 1521 L315.8 1522.3 L318.4 1524.8 L321.5 1526.6 L324.9 1527.6 L327.8 1529.8 L330.4 1532.9 L332 1536.5 L334 1540 L336.6 1543 L340 1543.4 L342.2 1546.4 L345.4 1547.3 L348.4 1548.7 L351.2 1550.4 L354.2 1551.8 L357 1553.8 L358.5 1556.9 L361.5 1558.7 L362.6 1562.2 L364.3 1565.1 L367.2 1567.1 L369.6 1569.4 L371.5 1572 L372.2 1575.3 L373.7 1578.2 L375.5 1580.8 L377.6 1583.3 L379.8 1585.7 L381.6 1588.4 L382.8 1591.4 L384.6 1594.9 L388.3 1596.5 L391.1 1598.9 L393 1602.3 L396 1604.6 L399.3 1606 L401.6 1609.1 L405.1 1610.1 L408.7 1610.9 L411.4 1613.4 L414 1615.8 L417 1617.7 L420.6 1618.6 L422.8 1621.6 L425.3 1624 L428.6 1625.5 L432.5 1624.7 L436.2 1627.3 L440.1 1627.3 L444 1626.6 L446.4 1629 L447.5 1632.5 L449.8 1635 L453.7 1636.1 L455.9 1638.7 L457.2 1642 L460.4 1643.4 L464 1643.6 L467.1 1645.4 L470.6 1645.8 L473.9 1647 L477 1648.6 L479.2 1651.3 L480.2 1654.5 L481.1 1657.8 L483 1660.6 L483.6 1664 L485.6 1667.6 L484.4 1671.9 L486.1 1675.5 L486.9 1679.4 L487.9 1682.7 L490.8 1684.7 L492.5 1687.6 L495 1689.8 L496.8 1692.6 L499.7 1695.1 L500.2 1699.3 L503.9 1701.3 L505.6 1704.7 L509.6 1704.7 L513.3 1706.3 L517 1708 L521 1708 L523.6 1710.6 L525.8 1713.6 L527.6 1716.8 L529.6 1714 L533.6 1713.8 L536.2 1711.8 L538.5 1709.3 L540.8 1706.9 L544.3 1707.5 L548 1706.9 L551.2 1709.1 L554.9 1708.8 L558.4 1709.1 L560.3 1711.9 L563.2 1713.9 L565 1716.8M467.1 1122.1 L466 1123.2M510 1110 L556.2 1166.1 L552.8 1167.2 L550 1169.3 L548.3 1173 L545.1 1174.6 L541.9 1176 L563.9 1206.8 L562 1209.6 L558.9 1211 L557 1213.7 L554.5 1215.9 L551.9 1217.9 L549.9 1220.5 L547.1 1222.4 L546.1 1226 L542.9 1227.4 L540.8 1229.9 L542.6 1233.1 L545.7 1234.9 L549.2 1236.3 L550.4 1240.1 L552.8 1242.7 L556.2 1244.2 L554.9 1247.7 L552.8 1250.8 L551.1 1254.2 L550.1 1257.9 L547.4 1260.7 L550.5 1263.7 L554 1266.2 L553.9 1270.1 L553.7 1274 L552 1277.7 L551.8 1281.6 L548.4 1282.9 L545.9 1285.4 L542.8 1287 L540.1 1289.1 L537.5 1291.5 L539.9 1294.4 L541.5 1297.9 L544.2 1300.5 L547 1303.1 L549.6 1305.8 L551.9 1308.5 L554.1 1311.3 L554.8 1315.2 L557.2 1317.8 L560 1320.2 L561.7 1323.4M782.8 1199.1 L786.2 1200.6 L789.5 1202.3 L792.2 1205 L796 1205.7 L799.2 1206.8 L802.5 1207.6 L806.1 1206.3 L809.2 1207.9 L812.7 1207.7 L816.2 1208.1 L819.8 1207.8 L823.3 1207 L826.8 1207.7 L830.4 1207.8 L833.9 1209 L837.4 1207.9 L840.9 1208.9 L844.4 1207.3 L848 1208.5 L851.5 1207.3 L855 1207.9 L856 1211.5 L857.5 1215 L857.2 1218.9 L860.6 1219.1 L863.7 1220.3 L867 1221.1 L870.4 1221.3 L873.6 1222.3 L877 1222.2 L879.3 1225.4 L880.9 1229.1 L884.2 1231.7 L885.8 1235.4 L891.3 1236.5 L891.6 1240.5 L890.2 1244.2 L891.9 1247 L892.4 1250.4 L894.6 1253 L892.9 1256.1 L889.7 1258.1 L888.2 1261.4 L885.8 1264 L886 1267.4 L884.6 1270.3 L883.1 1273.2 L882.9 1276.5 L881.4 1279.4 L879.8 1282.9 L876.2 1285 L874.8 1288.6 L873 1292 L870.4 1294.8 L868.4 1297.9 L866.6 1301.1 L863.8 1303.6 L860.3 1304.9 L857.3 1307.2 L854 1308.7 L850.6 1310.2 L850.7 1313.9 L849.2 1317.1 L849.3 1320.8 L848.3 1324.2 L846.4 1327.4 L845.8 1330.9 L845.1 1334.4 L847.2 1337.8 L849.5 1341 L851.4 1344.5 L853.9 1347.6 L851.9 1350.5 L848 1351.2 L846.2 1354.2 L843.6 1356.6 L843.5 1360.6 L840.8 1363 L838.2 1365.5 L836.4 1368.5 L835.2 1371.8 L836.7 1375 L835.6 1378.4 L836.9 1381.6 L837.5 1384.9 L837.7 1388.2 L837.4 1391.6 L837.8 1395.5 L838.1 1399.4 L839 1403.2 L839.6 1407 L841.5 1410 L841.4 1413.5 L841.1 1417 L842.9 1420 L845.5 1422.3 L846.1 1425.6 L847.3 1428.6 L848.2 1431.8 L848.5 1435.2 L849.7 1438.4 L850.5 1441.6 L849.9 1445.1 L850.6 1448.4 L853.2 1450.7 L855.7 1453.1 L857.7 1455.9 L860.3 1458.2 L861.6 1461.6 L863.5 1464.6 L864.4 1468 L864 1471.8 L866 1474.8 L867.6 1478.2 L870.4 1480.7 L872.6 1483.6 L871.5 1486.9 L869.1 1489.4 L867.7 1492.5 L864.9 1494.6 L867.9 1496.4 L870.4 1499M681.6 1290.4 L682.4 1294.1 L684.2 1297.3 L685.6 1300.8 L688.2 1303.6 L691 1306.3 L692.6 1309.7 L693.6 1313.3 L694.8 1316.8 L694.4 1320.2 L695.1 1323.5 L694.8 1326.8 L695.3 1330.1 L696.7 1333.3 L697 1336.6 L696.1 1340.4 L696.3 1344.5 L693.7 1348 L693.7 1352 L694.8 1355.7 L694.2 1359.3 L693.8 1363 L693.4 1366.7 L694.3 1370.3 L693.7 1374 L694.2 1377.5 L694.9 1381 L694.8 1384.5 L694.5 1388.1 L694.8 1391.6 L694.6 1395.5 L691.2 1398.3 L690 1401.8 L688.4 1405.2 L688.2 1409.2 L686.9 1412.3 L686.7 1415.8 L685 1418.8 L683.8 1422 L681.6 1424.5 L679.9 1427.3 L677.8 1429.9 L676.3 1432.8 L673.5 1434.9 L672.2 1438.1 L669.6 1440.2 L668.7 1443.7 L666.4 1446.1 L664 1448.4 L637.6 1472.6 L635 1474.7 L632 1476.1 L628.7 1476.8 L625.4 1477.6 L622.8 1479.7 L620 1481.4 L617.7 1484.4 L615.1 1487.2 L613.6 1490.8 L611.8 1494.1 L609 1496.8 L607.4 1500.3 L603.6 1502.3 L601.6 1505.4 L600 1509 L598 1512.2 L596.4 1515.3 L593.7 1517.7 L592.5 1521 L590.2 1523.4 L588.1 1526 L586.1 1528.6 L584.1 1531.2 L582.6 1534.2 L582.1 1537.7 L583.8 1540.8 L583.9 1544.2 L584.8 1547.4 L582.7 1550.3 L581.1 1553.5 L578.5 1556.1 L578.3 1560 L576 1562.8 L574.7 1566.4 L574.9 1570.5 L572.7 1573.8 L574.3 1577.5 L576.9 1580.4 L580.4 1582.6 L583.5 1585 L584.8 1589.1 L588.1 1591.4 L589 1594.8 L588.4 1598 L586.4 1601.2 L587.1 1604.6 L586.1 1607.8 L587 1611.2 L589.5 1615.3 L593.6 1617.8 L592.9 1621.1 L592.6 1624.4 L594.2 1627.7 L592.4 1631 L594.6 1634.3 L593.6 1637.6 L594.3 1641.4 L594.9 1645.3 L596.1 1649 L595.8 1653 L593.2 1655.4 L592.3 1659.2 L588.5 1660.7 L587 1664 L586.2 1667.3 L585.2 1670.5 L584 1673.7 L583.2 1677 L582.3 1680.3 L582.6 1683.8 L579.5 1685.9 L576.4 1688.2 L572.8 1689.6 L570.9 1693.4 L567.2 1694.8 L565.7 1698.4 L566.1 1702.1 L566.7 1705.9 L565.1 1709.4 L565.5 1713.1 L565 1716.8 L561.9 1717.6 L559.2 1719.7 L556 1720.3 L553 1721.6 L550.2 1723.3 L546.6 1722.6 L543.8 1724.4 L540.8 1725.6 L541.9 1729 L540.6 1732.8 L542.7 1736.1 L542.9 1739.6 L543 1743.2 L545 1745.8 L546.8 1748.6 L547.4 1752 L544.2 1754.1 L541.2 1756.3 L537.5 1757.5M883.6 1267.3 L887.3 1265.8 L891.3 1266.5 L895.2 1266.3 L899 1265.1 L902.8 1264.9 L906 1267 L909.3 1268.7 L913.2 1268.2 L916.6 1269.5 L919.6 1271.1 L920.1 1275.1 L923.4 1276.5 L924.9 1279.5 L927.2 1281.8 L929.8 1283.8 L931.9 1286.4 L932.7 1290 L934.7 1292.7 L937.5 1294.8 L938.4 1298.3 L938.3 1301.8 L936 1305.1 L937 1308.6 L937.9 1312.1 L935.4 1315.5 L936.4 1319 L936.6 1323.1 L937.2 1327.2 L938.6 1331.1 L912.2 1355.3 L915.8 1356.1 L918.7 1358.4 L922.1 1359.7 L923.2 1363.7 L921.9 1367.9 L923.2 1371.8 L926.1 1374.1 L928.5 1377 L931.5 1379.1 L934.2 1381.7 L936.7 1384.3 L939.8 1385.6 L943.3 1386.2 L946.3 1387.7 L950.5 1388.2 L954.3 1386.2 L958.4 1386.1M1166.3 1016.5 L1204.8 1022 L1204.1 1025.5 L1204.8 1029.1 L1202.4 1032.4 L1203.2 1036.1 L1202.6 1039.6 L1206.1 1039.9 L1209.5 1040.8 L1213 1041.5 L1216.4 1042.1 L1220 1041.8M1202.6 1039.6 L1196 1039.6 L1163 1101.2 L1166.5 1101.4 L1170 1102.4 L1173.4 1103.7 L1177.2 1101.8 L1180.6 1103.4 L1180.6 1106.6 L1180.4 1109.9 L1182.6 1112.9 L1183.5 1116 L1183 1119.3 L1184.6 1122.3 L1184.6 1125.6 L1183.7 1128.9 L1185 1132 L1183.7 1135 L1182.6 1138.1 L1182.4 1141.5 L1181.4 1144.6 L1181.5 1148.1 L1179.7 1151 L1178.4 1154M129.8 1400 L132 1403.3M147.4 1406.6 L149.6 1400M173.8 1626.6 L171.2 1629.1 L168.7 1631.7 L166.3 1634.4 L164.7 1637.7 L163.4 1641.2 L159.7 1642.8 L158.4 1646.4 L154.8 1647.8 L152.4 1650.7 L149.6 1653 L146.4 1655.3 L142.9 1657.2 L139.8 1659.7 L136.4 1661.8 L133.6 1664.7 L131.5 1668.1 L129.5 1671.5 L127.6 1675 L126.5 1678 L125.7 1681.1 L125.8 1684.5 L124.5 1687.5 L123.2 1690.4 L120.6 1693.3 L116.5 1694.1 L114.4 1697.7 L111 1699.4 L107.8 1701.4 L105.6 1708 L103.4 1710.8 L100.7 1713.1 L98.4 1715.9 L95.1 1717.6 L93.6 1721.2 L90.1 1722.7 L88 1725.6 L84.6 1726.2 L82.3 1728.5 L80.1 1731.2 L77.5 1733 L73.9 1733.3 L71.5 1735.5 L68.7 1737.1 L66 1738.8 L63.2 1740.5 L59.9 1741.4 L56.9 1742.6 L54.3 1744.7 L51.7 1746.8 L48.4 1747.6 L45 1747.5 L41.6 1747.5 L38.3 1748.1 L35.3 1750.5 L32.1 1751.3 L28.4 1749.7 L25.2 1750.6 L22 1752M233 1694.8 L198 1708 L195.4 1710.6 L195.1 1714.4 L194.1 1717.8 L190.7 1720 L189.5 1723.4 L188.3 1726.7 L187 1730 L183.6 1731.4 L181.1 1734.2 L179.2 1737.5 L175.3 1738.3 L172.7 1740.8 L169.5 1742.5 L167.2 1745.4 L164.5 1747.3 L160.8 1747 L158.2 1748.9 L155.7 1751.2 L152.5 1752 L150.1 1754.5 L146.9 1755.3 L143.5 1755.6 L140.8 1757.5M80.3 1495.7 L83.7 1494 L84.7 1489.8 L88 1488 L91.2 1486.6 L94.8 1487.2 L98.1 1486.5 L101.2 1484.7 L103.3 1488.1 L105.4 1491.4 L107.8 1494.6 L111.3 1495.9 L114.8 1496.6 L118.4 1496.8 L122 1497 L125.7 1496.7 L129.3 1496.6 L132.8 1497.9 L136.4 1497.9 L138.8 1495.4 L139.9 1492.3 L140.8 1489.1 L144.3 1490.5 L148 1490.9 L151.8 1490.6 L155.4 1491.7 L159.1 1492 L162.8 1492.4 L210.1 1505.6 L208 1508.2 L207.2 1511.6 L205.5 1514.5 L203.5 1517.1 L200.7 1519.3 L200.2 1522.8 L198 1525.4 L194.9 1528.9 L191.4 1532 L188.5 1535.1 L187.9 1539.4 L185.9 1543 L186.6 1547.5 L188.1 1551.8 L191.5 1551.4 L194.5 1549.5 L198 1549.6 L202.4 1550.9 L206.8 1551.8M592.5 1521 L596 1521 L598.9 1523.5 L602.4 1523.2 L605.2 1525.5 L606.9 1528.9 L610.2 1530.8 L613.5 1532.6 L615.3 1535.9 L617.8 1538.6 L621 1539.9 L624.4 1539.5 L627.6 1540.6 L631 1540.8 L634.1 1541.6 L637.6 1540.9 L640.4 1543.3 L643.7 1543.1 L646.7 1544.6 L650.3 1543.4 L653.3 1544.8 L656.4 1545.8 L659.6 1546.3 L705.8 1545.2 L709.3 1547.2 L713.2 1548.1 L716.8 1549.6 L720.1 1548.2 L722.8 1545.9 L726 1544.4 L729.7 1543.9 L732.3 1541.4 L735.9 1540.7 L738.8 1538.6 L741.6 1536.4 L745.1 1536.2 L748.2 1534.8 L750.9 1532.5 L754.5 1532.3 L757.9 1531.7 L760.8 1529.8 L764.1 1530.6 L767.4 1528.7 L770.7 1529.4 L774 1529.9 L777.3 1529.5 L780.6 1528.8 L783.9 1529.1 L787.2 1529.8 L787.9 1533.1 L787.5 1536.7 L789 1539.8 L789.6 1543.1 L790.2 1546.4 L791.6 1549.6 L790.8 1553.3 L791.9 1556.9 L790.4 1560.6 L792.3 1564.3 L792.6 1567.9 L791.6 1571.6 L790.9 1574.9 L791.3 1578.2 L789.7 1581.4 L790.4 1584.8 L789.5 1588 L789.5 1591.4 L788.8 1594.6 L789.4 1598 L787.7 1601.1 L789 1604.7 L787.1 1607.8 L786.2 1611 L786.7 1614.5 L786.1 1617.8 L788.7 1620 L788.6 1623.8 L791.1 1626 L792.7 1628.8M426.4 1757.5 L429.8 1756.3 L433 1754.8 L436.7 1754.3 L439.6 1752 L443.3 1750.3 L445.9 1747.4 L448.4 1744.3 L452.2 1744.1 L456.1 1744.4 L459.9 1745.1 L463.8 1744.3 L467.4 1746.3 L471.4 1747.5 L474.8 1749.8 L477.7 1753.3 L479.2 1757.5" fill="none" stroke="#808080" stroke-width="2.7" stroke-linejoin="round" stroke-linecap="round"/>
<circle cx="794.5" cy="989.7" r="743.9" fill="none" stroke="#fff" stroke-width="2.9"/>
<path d="M1502.5 221.3C1500.8 223.2 1495.2 228.1 1492.6 233C1490 237.9 1487.5 244.4 1487.1 250.6C1486.7 256.8 1489.3 264.9 1490.4 270.4C1491.5 275.9 1493.7 279.2 1493.7 283.6C1493.7 288 1488 294.9 1490.4 296.8C1492.8 298.7 1504.7 294.2 1508 295.2C1511.3 296.2 1509.7 301.7 1510 303" fill="none" stroke="#cfcfcf" stroke-width="3.0" stroke-linejoin="round" stroke-linecap="round"/>
<path d="M544.6 223.2C546.4 223.8 551.9 224.3 555.6 226.5C559.3 228.7 563.7 232.7 566.6 236.4C569.5 240.1 572.7 244.1 573.2 248.5C573.8 252.9 571.1 259 569.9 262.8C568.7 266.6 566.2 268.3 566.2 271.6C566.2 274.9 570.2 279.7 569.9 282.6C569.6 285.5 566.4 287.4 564.4 289.2C562.4 291 559.3 291.2 557.8 293.6C556.3 296 557.1 301.7 555.6 303.5C554.1 305.3 551.2 305.3 549 304.6C546.8 303.9 544.4 299.5 542.4 299.1C540.4 298.7 537.4 299.3 536.9 302.4C536.4 305.5 540 314.7 539.1 317.8C538.2 320.9 534.1 321.5 531.4 321.1C528.6 320.7 525.5 315.6 522.6 315.6C519.7 315.6 516.4 318 513.8 321.1C511.2 324.2 506.5 331.9 507.2 334.3C507.9 336.7 515.8 334.1 518.2 335.4C520.6 336.7 522.6 339.4 521.5 342C520.4 344.6 514.7 348.4 511.6 350.8C508.5 353.2 506.1 355.9 502.8 356.3C499.5 356.7 493.8 352.4 491.8 353C489.8 353.6 489.6 356.7 490.7 359.6C491.8 362.5 496.8 367.7 498.4 370.6C500.1 373.5 501.3 374.8 500.6 377.2C499.9 379.6 496.9 383.1 494 384.9C491.1 386.7 485.8 386.4 483 388.2C480.2 390 476.9 393.5 477.5 395.9C478.1 398.3 484.6 400.1 486.3 402.5C488 404.9 489.1 408 487.4 410.2C485.8 412.4 479.5 413.1 476.4 415.7C473.3 418.3 468.5 423.2 468.7 425.6C468.9 428 475.1 428 477.5 430C479.9 432 482.1 435.5 483 437.7C483.9 439.9 484.8 442.3 483 443.2C481.2 444.1 475.7 441.7 472 443.2C468.3 444.7 464.7 448.7 461 452C457.3 455.3 454.4 459.9 450 463C445.6 466.1 440.5 468.1 434.6 470.7C428.7 473.3 419.6 475.3 414.8 478.4C410 481.5 408.2 485.8 406 489.4C403.8 493 404.5 498.4 401.6 500.2C398.7 502 389.1 499.6 388.8 500.4C388.5 501.2 396.7 503 399.6 505.2C402.5 507.4 406 510.7 406.4 513.6C406.8 516.5 404.9 519.8 402 522.4C399.1 525 391.4 526.1 388.8 529C386.2 531.9 386.2 536 386.6 540C387 544 391.4 549.2 391 553.2C390.6 557.2 387.3 560.9 384.4 564.2C381.5 567.5 375.6 569.7 373.4 573C371.2 576.3 369.4 580.3 371.2 584C373 587.7 384 592.1 384.4 595C384.8 597.9 374.9 598.7 373.4 601.2C371.9 603.7 376 606.7 375.6 610C375.2 613.3 370.5 617.7 371.2 621C371.9 624.3 378.2 626.1 380 629.8C381.8 633.5 382.9 639.3 382.2 643C381.5 646.7 375.2 648.9 375.6 651.8C376 654.7 386.6 659.5 384.4 660.6C382.2 661.7 366.6 657.3 362.4 658.4C358.2 659.5 358.7 663.2 359.1 667.2C359.5 671.2 363.7 677.8 364.6 682.6C365.5 687.4 366.8 693.2 364.6 695.8C362.4 698.4 353.2 695.8 351.4 698C349.6 700.2 356.2 705.7 353.6 709C351 712.3 339.3 715.2 336 717.8C332.7 720.4 332.7 722.2 333.8 724.4C334.9 726.6 343 728.8 342.6 731C342.2 733.2 334.5 736.1 331.6 737.6C328.7 739.1 328.7 738 325 739.8C321.3 741.6 315.1 745.7 309.6 748.6C304.1 751.5 294.9 754.5 292 757.4C289.1 760.3 290.9 762.9 292 766.2C293.1 769.5 297.9 774.3 298.6 777.2C299.3 780.1 298.6 782.7 296.4 783.8C294.2 784.9 286.9 781.6 285.4 783.8C283.9 786 288 793.7 287.6 797C287.2 800.3 284.7 804 283.2 803.6C281.7 803.2 281 796.1 278.8 794.8C276.6 793.5 271.3 793 270 795.9C268.7 798.8 271.8 808.6 271.1 812.4C270.4 816.3 269.5 817.5 265.6 819C261.8 820.5 252.4 819 248 821.2C243.6 823.4 240.8 828.5 239.2 832.2C237.5 835.9 237 839.9 238.1 843.2C239.2 846.5 242.3 848.7 245.8 852C249.3 855.3 256.8 859 259 863C261.2 867 260.1 871.8 259 876.2C257.9 880.6 253.5 887.2 252.4 889.4" fill="none" stroke="#c9c9c9" stroke-width="3" stroke-linejoin="round" stroke-linecap="round"/>
<path d="M1500.8 308.4C1500.1 307.8 1497.3 302.7 1496.4 304.6C1495.5 306.5 1495.1 316.3 1495.3 320C1495.5 323.7 1498.8 325.3 1497.5 326.6C1496.2 327.9 1491.4 327.7 1487.6 327.7C1483.8 327.7 1477 325.3 1474.4 326.6C1471.8 327.9 1471.6 331.4 1472.2 335.4C1472.7 339.4 1476 346 1477.7 350.8C1479.3 355.6 1479.7 359.6 1482.1 364C1484.5 368.4 1489.8 373.9 1492 377.2C1494.2 380.5 1495.7 380.5 1495.3 383.8C1494.9 387.1 1491.6 393 1489.8 397C1488 401 1485.6 404.5 1484.3 408C1483 411.5 1481.5 415 1482.1 417.9C1482.6 420.8 1487 422.8 1487.6 425.6C1488.1 428.3 1488 432.8 1485.4 434.4C1482.8 436 1475.7 434.4 1472.2 435.5C1468.7 436.6 1465.8 438.6 1464.5 441C1463.2 443.4 1463.4 446.1 1464.5 449.8C1465.6 453.5 1469.3 459 1471.1 463C1472.9 467 1475.5 470.7 1475.5 474C1475.5 477.3 1472.9 479.9 1471.1 482.8C1469.3 485.7 1464.9 488.3 1464.5 491.6C1464.1 494.9 1466.3 499.7 1468.9 502.6C1471.5 505.5 1477.7 507 1479.9 509.2C1482.1 511.4 1483 513.6 1482.1 515.8C1481.2 518 1477.5 520 1474.4 522.4C1471.3 524.8 1465.2 527.9 1463.4 530.1C1461.6 532.3 1461.9 533.4 1463.4 535.6C1464.9 537.8 1470.9 540.4 1472.2 543.3C1473.5 546.2 1472.6 549.7 1471.1 553.2C1469.6 556.7 1465.8 560.2 1463.4 564.2C1461 568.2 1458.3 572.3 1456.8 577.4C1455.3 582.5 1456.8 589.9 1454.6 595C1452.4 600.1 1446.9 605.3 1443.6 608.2C1440.3 611.1 1437.7 610.1 1434.8 612.2C1431.9 614.3 1428.2 617.7 1426 621C1423.8 624.3 1421.2 628.3 1421.6 632C1422 635.7 1427.1 639.3 1428.2 643C1429.3 646.7 1429.3 650.3 1428.2 654C1427.1 657.7 1423.8 662.1 1421.6 665C1419.4 667.9 1416.8 671.2 1415 671.6C1413.2 672 1413.2 668.3 1410.6 667.2C1408 666.1 1404 664.6 1399.6 665C1395.2 665.4 1387.9 667.2 1384.2 669.4C1380.5 671.6 1378.7 673.1 1377.6 678.2C1376.5 683.3 1379.1 695.1 1377.6 700.2C1376.1 705.3 1372.5 707.5 1368.8 709C1365.1 710.5 1359.6 708.3 1355.6 709C1351.6 709.7 1348.3 710.8 1344.6 713.4C1340.9 716 1337.6 721.5 1333.6 724.4C1329.6 727.3 1323.5 728.1 1320.4 731C1317.3 733.9 1314.7 738.7 1314.9 742C1315.1 745.3 1320.2 747.9 1321.5 750.8C1322.8 753.7 1323.9 757 1322.6 759.6C1321.3 762.2 1317.8 764.4 1313.8 766.2C1309.8 768 1302.4 770.8 1298.4 770.6C1294.4 770.4 1292.9 766.9 1289.6 765.1C1286.3 763.3 1282.6 759.2 1278.6 759.6C1274.6 760 1270.9 765.8 1265.4 767.3C1259.9 768.8 1251.5 766.4 1245.6 768.4C1239.7 770.4 1234.2 774.6 1230.2 779.4C1226.2 784.2 1222.9 791.5 1221.4 797C1219.9 802.5 1222.5 808.9 1221.4 812.4C1220.3 815.9 1218.1 817.5 1214.8 817.9C1211.5 818.3 1204.5 815.2 1201.6 814.6C1198.7 814 1199.7 813.9 1197.6 814.6C1195.5 815.3 1190.6 816.1 1188.8 819C1187 821.9 1189.2 828.9 1186.6 832.2C1184 835.5 1175.6 835.9 1173.4 838.8C1171.2 841.7 1171.9 846.1 1173.4 849.8C1174.9 853.5 1179.6 855.7 1182.2 860.8C1184.8 865.9 1189.5 874.7 1188.8 880.6C1188.1 886.5 1182.2 892 1177.8 896C1173.4 900 1167.5 901.9 1162.4 904.8C1157.3 907.7 1151 909.9 1147 913.6C1143 917.3 1141.9 923.9 1138.2 926.8C1134.5 929.7 1129.8 931.6 1125 931.2C1120.2 930.8 1114.4 928.3 1109.6 924.6C1104.8 920.9 1100.4 912.7 1096.4 909.2C1092.4 905.7 1089.1 905.9 1085.4 903.7C1081.7 901.5 1078.4 896.9 1074.4 896C1070.4 895.1 1066 898.6 1061.2 898.2C1056.4 897.8 1050.2 896 1045.8 893.8C1041.4 891.6 1038.8 886.5 1034.8 885C1030.8 883.5 1026.4 883.2 1021.6 885C1016.8 886.8 1011.7 892 1006.2 896C1000.7 900 994.1 905.5 988.6 909.2C983.1 912.9 977.2 915.1 973.2 918C969.2 920.9 966.6 921.3 964.4 926.8C962.2 932.3 962.9 944.8 960 951C957.1 957.2 949.4 959.4 946.8 964.2C944.2 969 946.8 975.9 944.6 979.6C942.4 983.3 937.6 985.5 933.6 986.2C929.6 986.9 924.1 985.8 920.4 984C916.7 982.2 914.9 978.5 911.6 975.2C908.3 971.9 903.5 969 900.6 964.2C897.7 959.4 897.3 951.7 894 946.6C890.7 941.5 885.1 937.1 880.8 933.4C876.5 929.8 871.9 925.4 868.2 924.7C864.5 924 861.9 927.9 858.6 929.2C855.3 930.5 851.8 932 848.3 932.6C844.8 933.2 840.2 931.9 837.6 932.7C835 933.5 833.5 935.1 832.6 937.2C831.7 939.3 832.1 942.7 832.1 945.2C832.1 947.8 833.9 951.2 832.6 952.5C831.4 953.8 827.2 953.1 824.6 952.7C822 952.4 820 952.3 816.8 950.4C813.6 948.5 809.1 944.2 805.6 941.2C802.1 938.2 799.2 935.3 795.9 932.6C792.6 929.9 789.1 926.9 785.6 925.2C782.1 923.5 778.6 922.1 774.9 922.2C771.2 922.3 768 923.2 763.6 925.7C759.2 928.2 753.2 934.8 748.7 937.2C744.2 939.6 740.2 939.6 736.6 940.2C733 940.9 731.7 940 727.2 941.1C722.7 942.2 715.1 946.4 709.6 946.6C704.1 946.8 699.7 943.7 694.2 942.2C688.7 940.7 682.8 940.7 676.6 937.8C670.4 934.9 662.3 927.9 656.8 924.6C651.3 921.3 649.5 918.4 643.6 918C637.7 917.6 628.2 920.9 621.6 922.4C615 923.9 609.5 926.4 604 926.8C598.5 927.2 593 926.1 588.6 924.6C584.2 923.1 582.4 920.2 577.6 918C572.8 915.8 565.1 914 560 911.4C554.9 908.8 551.2 905.9 546.8 902.6C542.4 899.3 539.5 893.4 533.6 891.6C527.7 889.8 518.2 892.3 511.6 891.6C505 890.9 498.8 889.8 494 887.2C489.2 884.6 487.4 878.6 483 876.2C478.6 873.8 472.7 873.3 467.6 872.9C462.5 872.5 457.7 874.7 452.2 874C446.7 873.3 440.8 869 434.6 868.5C428.4 868 421 870.2 414.8 870.7C408.6 871.2 404.1 871.8 397.6 871.8C391.1 871.8 382.9 870.9 375.6 870.7C368.3 870.5 360.9 869.8 353.6 870.7C346.3 871.6 338.9 875.3 331.6 876.2C324.3 877.1 316.2 876.4 309.6 876.2C303 876 297.5 874.4 292 875.1C286.5 875.8 282.5 878.2 276.6 880.6C270.7 883 262.3 886.5 256.8 889.4C251.3 892.3 248 895.6 243.6 898.2C239.2 900.8 235.5 902.8 230.4 904.8C225.3 906.8 217.9 908.1 212.8 910.3C207.7 912.5 202.9 914.9 199.6 918C196.3 921.1 195 925 193 929C191 933 190.1 939.3 187.5 942.2C184.9 945.1 180 944 177.6 946.6C175.2 949.2 173.6 953.2 173.2 957.6C172.8 962 175.4 967.9 175.4 973C175.4 978.1 171.7 984 173.2 988.4C174.7 992.8 181.3 996.2 184.2 999.4C187.1 1002.6 189 1004.6 190.8 1007.8C192.6 1011 194.1 1011.8 195.2 1018.8C196.3 1025.8 197.8 1041.2 197.4 1049.6C197 1058 194.8 1063.9 193 1069.4C191.2 1074.9 187.5 1078.6 186.4 1082.6C185.3 1086.6 185.7 1088.8 186.4 1093.6C187.1 1098.4 190.8 1105.7 190.8 1111.2C190.8 1116.7 187.9 1122.6 186.4 1126.6C184.9 1130.6 182.7 1132.5 182 1135.4C181.3 1138.3 184.2 1140.5 182 1144.2C179.8 1147.9 172.8 1153 168.8 1157.4C164.8 1161.8 162.2 1168 157.8 1170.6C153.4 1173.2 147.9 1173 142.4 1172.8C136.9 1172.6 129 1168.8 124.8 1169.5C120.6 1170.2 118.8 1173.3 117.1 1177.2C115.4 1181.1 116.4 1188.6 114.9 1192.6C113.4 1196.6 109.2 1197.4 108.3 1201.4C107.4 1205.4 108.8 1210.6 109.4 1216.8C109.9 1223 109.9 1234 111.6 1238.8C113.2 1243.6 118 1241.4 119.3 1245.4C120.6 1249.4 119.8 1258.2 119.3 1263C118.8 1267.8 115.1 1270.3 116 1274C116.9 1277.7 122.6 1281.7 124.8 1285C127 1288.3 129.4 1290.5 129.2 1293.8C129 1297.1 125.7 1301.5 123.7 1304.8C121.7 1308.1 118.8 1309.9 117.1 1313.6C115.4 1317.3 114.7 1322.4 113.8 1326.8C112.9 1331.2 111.2 1336.3 111.6 1340C112 1343.7 114.3 1346.6 116 1348.8C117.7 1351 121.9 1349.5 121.5 1353.2C121.1 1356.9 116.2 1365.7 113.8 1370.8C111.4 1375.9 110.1 1379.2 107.2 1384C104.3 1388.8 97.8 1396.5 96.2 1399.4C94.5 1402.3 96.8 1397.6 97.3 1401.2C97.8 1404.8 100 1414.8 99.5 1421C99 1427.2 96.4 1433.8 94 1438.6C91.6 1443.4 87.2 1445.6 85.2 1449.6C83.2 1453.6 81.5 1458.4 81.9 1462.8C82.3 1467.2 87.6 1471.6 87.4 1476C87.2 1480.4 84.5 1485.2 80.8 1489.2C77.1 1493.2 70.9 1497.3 65.4 1500.2C59.9 1503.1 52.2 1504.2 47.8 1506.8C43.4 1509.4 41.2 1512.3 39 1515.6C36.8 1518.9 36.4 1522.9 34.6 1526.6C32.8 1530.3 29.5 1534.3 28 1537.6C26.5 1540.9 26.7 1544.8 25.8 1546.4C24.9 1548.1 23.1 1547.3 22.5 1547.5" fill="none" stroke="#c9c9c9" stroke-width="3" stroke-linejoin="round" stroke-linecap="round"/>
<path d="M1500.8 308.4C1502.3 308.9 1507.4 310.2 1509.6 311.2C1511.8 312.2 1512.2 314.7 1514 314.5C1515.8 314.3 1518 309.9 1520.6 310.1C1523.2 310.3 1526.5 313.2 1529.4 315.6C1532.3 318 1536.2 321.5 1538.2 324.4C1540.2 327.3 1540.4 331 1541.5 333.2C1542.6 335.4 1544.2 336.9 1544.8 337.6" fill="none" stroke="#c9c9c9" stroke-width="3" stroke-linejoin="round" stroke-linecap="round"/>
<path d="M1541.5 331C1542 329.9 1542.8 326.6 1544.8 324.4C1546.8 322.2 1551.8 320.4 1553.6 317.8C1555.4 315.2 1554.3 311.2 1555.8 309C1557.3 306.8 1560 304.6 1562.4 304.6C1564.8 304.6 1568.8 308.3 1570.1 309" fill="none" stroke="#c9c9c9" stroke-width="3" stroke-linejoin="round" stroke-linecap="round"/>
<path d="M1570.1 924.6C1568.8 925 1564.8 923.9 1562.4 926.8C1560 929.7 1558.4 941.8 1555.8 942.2C1553.2 942.6 1549.9 931.9 1547 929C1544.1 926.1 1541.9 925 1538.2 924.6C1534.5 924.2 1528.1 925.3 1525 926.8C1521.9 928.3 1519.1 930.8 1519.5 933.4C1519.9 936 1527.4 939.6 1527.2 942.2C1527 944.8 1522.4 946.6 1518.4 948.8C1514.4 951 1507.4 956.9 1503 955.4C1498.6 953.9 1494.9 942.9 1492 940C1489.1 937.1 1487.6 936 1485.4 937.8C1483.2 939.6 1481.4 946.6 1478.8 951C1476.2 955.4 1472.9 963.1 1470 964.2C1467.1 965.3 1463.8 958 1461.2 957.6C1458.6 957.2 1455.3 959.1 1454.6 962C1453.9 964.9 1457.2 972.3 1456.8 975.2C1456.4 978.1 1457.2 978.9 1452.4 979.6C1447.6 980.3 1433.7 982.2 1428.2 979.6C1422.7 977 1422 966.4 1419.4 964.2C1416.8 962 1414.6 963.1 1412.8 966.4C1411 969.7 1410.2 979.2 1408.4 984C1406.6 988.8 1405.5 992.4 1401.8 995C1398.1 997.6 1389 998.4 1386.4 999.4C1383.8 1000.4 1386.2 997.6 1386.4 1001.2C1386.6 1004.8 1388.2 1015.1 1387.5 1021C1386.8 1026.9 1384.4 1032 1382 1036.4C1379.6 1040.8 1376.9 1045.2 1373.2 1047.4C1369.5 1049.6 1363.3 1048.1 1360 1049.6C1356.7 1051.1 1356.3 1056.4 1353.4 1056.2C1350.5 1056 1345.7 1049.2 1342.4 1048.5C1339.1 1047.8 1332.9 1049 1333.6 1051.8C1334.3 1054.5 1345 1061.3 1346.8 1065C1348.6 1068.7 1347.5 1073.1 1344.6 1073.8C1341.7 1074.5 1333.2 1068.7 1329.2 1069.4C1325.2 1070.1 1323 1075.5 1320.4 1078.2C1317.8 1081 1316.4 1085.9 1313.8 1085.9C1311.2 1085.9 1308.3 1080 1305 1078.2C1301.7 1076.4 1297.3 1073.8 1294 1074.9C1290.7 1076 1288.5 1081 1285.2 1084.8C1281.9 1088.6 1278.6 1095.8 1274.2 1098C1269.8 1100.2 1262.3 1095.8 1258.8 1098C1255.3 1100.2 1256.6 1108.1 1253.3 1111.2C1250 1114.3 1241 1113.8 1239 1116.7C1237 1119.6 1242.7 1125 1241.2 1128.8C1239.7 1132.6 1234 1135.4 1230.2 1139.8C1226.3 1144.2 1222.1 1153.4 1218.1 1155.2C1214.1 1157 1208.3 1151.9 1206 1150.8C1203.7 1149.7 1206 1147.1 1204.2 1148.6C1202.4 1150.1 1198.7 1155.2 1195.4 1159.6C1192.1 1164 1188.1 1173.2 1184.4 1175C1180.7 1176.8 1175.2 1172.8 1173.4 1170.6C1171.6 1168.4 1174.5 1162.5 1173.4 1161.8C1172.3 1161.1 1168.6 1163.3 1166.8 1166.2C1165 1169.1 1166.1 1175 1162.4 1179.4C1158.7 1183.8 1150.7 1189.5 1144.8 1192.6C1138.9 1195.7 1131.6 1195.5 1127.2 1198.1C1122.8 1200.7 1118.4 1204.9 1118.4 1208C1118.4 1211.1 1122.8 1213.9 1127.2 1216.8C1131.6 1219.7 1140.8 1222.7 1144.8 1225.6C1148.8 1228.5 1151 1230.4 1151.4 1234.4C1151.8 1238.4 1148.5 1244.7 1147 1249.8C1145.5 1254.9 1144.1 1262.3 1142.6 1265.2C1141.1 1268.1 1140 1270 1138.2 1267.4C1136.4 1264.8 1134.5 1253.8 1131.6 1249.8C1128.7 1245.8 1126.8 1244.5 1120.6 1243.2C1114.4 1241.9 1100.4 1241.4 1094.2 1242.1C1088 1242.8 1085.6 1244.5 1083.2 1247.6C1080.8 1250.7 1079.5 1255.7 1079.9 1260.8C1080.3 1265.9 1085.9 1274.4 1085.4 1278.4C1084.8 1282.4 1081.7 1283.2 1076.6 1285C1071.5 1286.8 1060.1 1287.6 1054.6 1289.4C1049.1 1291.2 1046.3 1292.7 1043.6 1296C1040.8 1299.3 1037 1305.5 1038.1 1309.2C1039.2 1312.9 1048.5 1314.3 1050.2 1318C1051.8 1321.7 1050.9 1327.9 1048 1331.2C1045.1 1334.5 1038.5 1333.8 1032.6 1337.8C1026.7 1341.8 1018.3 1349.5 1012.8 1355.4C1007.3 1361.3 1003.3 1368.2 999.6 1373C995.9 1377.8 995.9 1381.6 990.8 1384C985.7 1386.4 973.9 1385.8 968.8 1387.3C963.7 1388.8 961.8 1389.7 960 1392.8C958.2 1395.9 958 1401.3 957.8 1406C957.6 1410.7 958.5 1418.3 958.9 1421.2C959.3 1424.1 961.3 1420.7 960 1423.2C958.7 1425.7 955.6 1432.7 951.2 1436.4C946.8 1440.1 938 1441.5 933.6 1445.2C929.2 1448.9 925.5 1454.4 924.8 1458.4C924.1 1462.4 929.2 1464.6 929.2 1469.4C929.2 1474.2 930.3 1483 924.8 1487C919.3 1491 903.2 1491.2 896.2 1493.6C889.2 1496 887 1499.7 883 1501.3C879 1502.9 874.6 1501.5 872 1503.5C869.4 1505.5 870.5 1508.8 867.6 1513.4C864.7 1518 857 1526.2 854.4 1531C851.8 1535.8 852.2 1538.3 852.2 1542C852.2 1545.7 855.5 1548.2 854.4 1553C853.3 1557.8 848.9 1565.1 845.6 1570.6C842.3 1576.1 839 1582.3 834.6 1586C830.2 1589.7 822.4 1590.4 819.2 1592.6C816 1594.8 816.2 1596.3 815.2 1599.2C814.2 1602.1 814.5 1606.9 813 1610.2C811.5 1613.5 809.3 1616.1 806.4 1619C803.5 1621.9 799.8 1624.5 795.4 1627.8C791 1631.1 784.8 1634.4 780 1638.8C775.2 1643.2 770.8 1649.1 766.8 1654.2C762.8 1659.3 757.3 1665.2 755.8 1669.6C754.3 1674 759.5 1677.3 758 1680.6C756.5 1683.9 750.7 1685.4 747 1689.4C743.3 1693.4 740.8 1700 736 1704.8C731.2 1709.6 723.9 1714.3 718.4 1718C712.9 1721.7 708.5 1725 703 1726.8C697.5 1728.6 691.3 1726.8 685.4 1729C679.5 1731.2 672.2 1736.3 667.8 1740C663.4 1743.7 661.4 1747.7 659 1751C656.6 1754.3 654.4 1758.3 653.5 1759.8" fill="none" stroke="#c9c9c9" stroke-width="3" stroke-linejoin="round" stroke-linecap="round"/>
<path d="M20.9 556 L24.6 553.8 L29 553.5 L33 552 L36.6 554.1 L39.4 557.2 L42.6 559.8 L46.2 561.9 L50.1 558.9 L54.4 557.3 L59.4 557.5 L63.8 555.9 L66.2 551.7 L70.4 549.8 L73.1 546.3 L77 544.3 L81.8 546.6 L86.9 545.4 L88.1 549.4 L87.9 553.8 L90.2 557.5 L94.6 558.5 L98.9 560.2 L103.4 560.8 L107.6 563.5 L110 567.9 L114.5 567.6 L118.8 566.3 L124 568.7 L129.8 568.5 L133.4 571.1 L136.6 574.3 L140.8 576.2 L142.5 580.2 L146.5 582.7 L147.4 587.2 L150 591.2 L154 593.8 L157.1 597.3 L160.6 600.4 L166.3 601.7 L171.6 604.4 L175.3 608 L176 613.2 L180.1 615.6 L184.8 615.3 L189 617.3 L193.6 617.6 L195.6 621.5 L198.9 624 L202.4 626.4 L202.6 631.3 L206.1 635.1 L206.3 640 L209 644 L214.1 643.1 L219.5 644.1 L224.4 641.8 L224.6 646.6 L228.7 650.1 L228.8 655 L233.9 656.8 L238.2 660 L242 663.8 L244.6 667.4 L249.2 668 L252.3 670.8 L256.5 672 L259.6 674.8 L261.8 679.2 L264.4 683.4 L266.2 688 L270.9 690.5 L274.8 694.1 L279.4 696.8 L281.8 700.1 L283.6 703.9 L286.8 706.5 L288.8 710.1 L292.6 712.2 L296.4 715.5 L300.6 718.2 L305.8 718.8 L309.1 722.2 L313.9 723.7 L316.8 727.6 L319.1 732.8 L323.4 736.4" fill="none" stroke="#fff" stroke-width="5.0" stroke-linejoin="round" stroke-linecap="round"/>
<path d="M20.9 556 L24.6 553.8 L28.5 552 L33 552 L36.5 554.2 L40.3 556 L43.8 558.2 L46.2 561.9 L50.5 560.1 L55.5 560.4 L59.4 557.5 L63.7 555.8 L67.3 553.1 L70.4 549.8 L73.1 546.3 L77 544.3 L81.9 545 L86.9 545.4 L88.8 549.2 L90.2 553.2 L90.2 557.5 L94.9 557.2 L99.2 558.7 L103.4 560.8 L105.6 565.4 L110 567.9 L114.6 568.3 L118.8 566.3 L124.1 568.5 L129.8 568.5 L132.8 572 L137.8 572.7 L140.8 576.2 L143.6 579.5 L144.8 583.8 L147.4 587.2 L150.1 591.1 L154 593.8 L156.4 598 L160.6 600.4 L165.6 603.7 L171.6 604.4 L175.1 608.1 L176 613.2 L180.3 614.7 L184.7 616 L189.2 616.5 L193.6 617.6 L197.4 619.7 L199.5 623.4 L202.4 626.4 L205.4 630.3 L204.2 635.7 L206.1 640.1 L209 644 L214.2 643.4 L219.2 641.8 L224.4 641.8 L224.5 646.7 L227.1 650.7 L228.8 655 L232.4 659.1 L236.9 661.9 L242 663.8 L245.5 666 L249.2 667.9 L252.4 670.7 L256.2 672.4 L259.6 674.8 L262.9 678.7 L264.6 683.3 L266.2 688 L270 691.9 L275.9 692.5 L279.4 696.8 L283.3 698.8 L284.3 703.3 L287.9 705.5 L289.9 709.2 L292.6 712.2 L297 714.3 L301.7 716.1 L305.8 718.8 L308.3 723.1 L313.8 723.8 L316.8 727.6 L320.4 731.8 L323.4 736.4" fill="none" stroke="#fff" stroke-width="5.0" stroke-linejoin="round" stroke-linecap="round"/>
<path d="M543 222C544.8 222.6 550.3 223.1 554 225.3C557.7 227.5 562.1 231.5 565 235.2C567.9 238.9 571.1 242.9 571.6 247.3C572.1 251.7 569.5 257.8 568.3 261.6C567.1 265.5 564.6 267.1 564.6 270.4C564.6 273.7 568.6 278.5 568.3 281.4C568 284.3 564.8 286.2 562.8 288C560.8 289.8 557.7 290 556.2 292.4C554.7 294.8 555.5 300.5 554 302.3C552.5 304.1 549.6 304.1 547.4 303.4C545.2 302.7 542.8 298.3 540.8 297.9C538.8 297.5 535.8 298.1 535.3 301.2C534.8 304.3 538.4 313.5 537.5 316.6C536.6 319.7 532.5 320.3 529.8 319.9C527 319.5 523.9 314.4 521 314.4C518.1 314.4 514.8 316.8 512.2 319.9C509.6 323 504.9 330.7 505.6 333.1C506.3 335.5 514.2 332.9 516.6 334.2C519 335.5 521 338.2 519.9 340.8C518.8 343.4 513.1 347.2 510 349.6C506.9 352 504.5 354.7 501.2 355.1C497.9 355.5 492.2 351.2 490.2 351.8C488.2 352.4 488 355.5 489.1 358.4C490.2 361.3 495.2 366.5 496.8 369.4C498.4 372.3 499.7 373.6 499 376C498.3 378.4 495.3 381.9 492.4 383.7C489.5 385.5 484.1 385.2 481.4 387C478.6 388.8 475.3 392.3 475.9 394.7C476.4 397.1 483 398.9 484.7 401.3C486.4 403.7 487.4 406.8 485.8 409C484.2 411.2 477.9 411.9 474.8 414.5C471.7 417.1 466.9 422 467.1 424.4C467.3 426.8 473.5 426.8 475.9 428.8C478.3 430.8 480.5 434.3 481.4 436.5C482.3 438.7 483.2 441.1 481.4 442C479.6 442.9 474.1 440.5 470.4 442C466.7 443.5 463.1 447.5 459.4 450.8C455.7 454.1 452.8 458.7 448.4 461.8C444 464.9 438.9 466.9 433 469.5C427.1 472.1 418 474.1 413.2 477.2C408.4 480.3 406.6 484.6 404.4 488.2C402.2 491.8 402.9 497.2 400 499C397.1 500.8 387.5 498.4 387.2 499.2C386.9 500 395.1 501.8 398 504C400.9 506.2 404.4 509.5 404.8 512.4C405.2 515.3 403.3 518.6 400.4 521.2C397.5 523.8 389.8 524.9 387.2 527.8C384.6 530.7 384.6 534.8 385 538.8C385.4 542.8 389.8 548 389.4 552C389 556 385.7 559.7 382.8 563C379.9 566.3 374 568.5 371.8 571.8C369.6 575.1 367.8 579.1 369.6 582.8C371.4 586.5 382.4 590.9 382.8 593.8C383.2 596.7 373.3 597.5 371.8 600C370.3 602.5 374.4 605.5 374 608.8C373.6 612.1 368.9 616.5 369.6 619.8C370.3 623.1 376.6 624.9 378.4 628.6C380.2 632.3 381.3 638.1 380.6 641.8C379.9 645.5 373.6 647.7 374 650.6C374.4 653.5 385 658.3 382.8 659.4C380.6 660.5 365 656.1 360.8 657.2C356.6 658.3 357.1 662 357.5 666C357.9 670 362.1 676.6 363 681.4C363.9 686.2 365.2 692 363 694.6C360.8 697.2 351.6 694.6 349.8 696.8C348 699 354.6 704.5 352 707.8C349.4 711.1 337.7 714 334.4 716.6C331.1 719.2 331.1 721 332.2 723.2C333.3 725.4 341.4 727.6 341 729.8C340.6 732 332.9 734.9 330 736.4C327.1 737.9 327.1 736.8 323.4 738.6C319.7 740.4 313.5 744.5 308 747.4C302.5 750.3 293.3 753.3 290.4 756.2C287.5 759.1 289.3 761.7 290.4 765C291.5 768.3 296.3 773.1 297 776C297.7 778.9 297 781.5 294.8 782.6C292.6 783.7 285.3 780.4 283.8 782.6C282.3 784.8 286.4 792.5 286 795.8C285.6 799.1 283.1 802.8 281.6 802.4C280.1 802 279.4 794.9 277.2 793.6C275 792.3 269.7 791.8 268.4 794.7C267.1 797.6 270.2 807.4 269.5 811.2C268.8 815.1 267.9 816.3 264 817.8C260.1 819.3 250.8 817.8 246.4 820C242 822.2 239.2 827.3 237.6 831C235.9 834.7 235.4 838.7 236.5 842C237.6 845.3 240.7 847.5 244.2 850.8C247.7 854.1 255.2 857.8 257.4 861.8C259.6 865.8 258.5 870.6 257.4 875C256.3 879.4 251.9 886 250.8 888.2" fill="none" stroke="#fff" stroke-width="5.5" stroke-linejoin="round" stroke-linecap="round"/>
<path d="M1499.2 307.2C1498.5 306.6 1495.7 301.5 1494.8 303.4C1493.9 305.3 1493.5 315.1 1493.7 318.8C1493.9 322.5 1497.2 324.1 1495.9 325.4C1494.6 326.7 1489.8 326.5 1486 326.5C1482.2 326.5 1475.4 324.1 1472.8 325.4C1470.2 326.7 1470 330.2 1470.6 334.2C1471.1 338.2 1474.4 344.8 1476.1 349.6C1477.8 354.4 1478.1 358.4 1480.5 362.8C1482.9 367.2 1488.2 372.7 1490.4 376C1492.6 379.3 1494.1 379.3 1493.7 382.6C1493.3 385.9 1490 391.8 1488.2 395.8C1486.4 399.8 1484 403.3 1482.7 406.8C1481.4 410.3 1480 413.8 1480.5 416.7C1481 419.6 1485.5 421.6 1486 424.4C1486.5 427.1 1486.4 431.5 1483.8 433.2C1481.2 434.9 1474.1 433.2 1470.6 434.3C1467.1 435.4 1464.2 437.4 1462.9 439.8C1461.6 442.2 1461.8 444.9 1462.9 448.6C1464 452.3 1467.7 457.8 1469.5 461.8C1471.3 465.8 1473.9 469.5 1473.9 472.8C1473.9 476.1 1471.3 478.7 1469.5 481.6C1467.7 484.5 1463.3 487.1 1462.9 490.4C1462.5 493.7 1464.7 498.5 1467.3 501.4C1469.9 504.3 1476.1 505.8 1478.3 508C1480.5 510.2 1481.4 512.4 1480.5 514.6C1479.6 516.8 1475.9 518.8 1472.8 521.2C1469.7 523.6 1463.6 526.7 1461.8 528.9C1460 531.1 1460.3 532.2 1461.8 534.4C1463.3 536.6 1469.3 539.2 1470.6 542.1C1471.9 545 1471 548.5 1469.5 552C1468 555.5 1464.2 559 1461.8 563C1459.4 567 1456.7 571.1 1455.2 576.2C1453.7 581.3 1455.2 588.7 1453 593.8C1450.8 598.9 1445.3 604.1 1442 607C1438.7 609.9 1436.1 608.9 1433.2 611C1430.3 613.1 1426.6 616.5 1424.4 619.8C1422.2 623.1 1419.6 627.1 1420 630.8C1420.4 634.5 1425.5 638.1 1426.6 641.8C1427.7 645.5 1427.7 649.1 1426.6 652.8C1425.5 656.5 1422.2 660.9 1420 663.8C1417.8 666.7 1415.2 670 1413.4 670.4C1411.6 670.8 1411.6 667.1 1409 666C1406.4 664.9 1402.4 663.4 1398 663.8C1393.6 664.2 1386.3 666 1382.6 668.2C1378.9 670.4 1377.1 671.9 1376 677C1374.9 682.1 1377.5 693.9 1376 699C1374.5 704.1 1370.9 706.3 1367.2 707.8C1363.5 709.3 1358 707.1 1354 707.8C1350 708.5 1346.7 709.6 1343 712.2C1339.3 714.8 1336 720.3 1332 723.2C1328 726.1 1321.9 726.9 1318.8 729.8C1315.7 732.7 1313.1 737.5 1313.3 740.8C1313.5 744.1 1318.6 746.7 1319.9 749.6C1321.2 752.5 1322.3 755.8 1321 758.4C1319.7 761 1316.2 763.2 1312.2 765C1308.2 766.8 1300.8 769.6 1296.8 769.4C1292.8 769.2 1291.3 765.7 1288 763.9C1284.7 762.1 1281 758 1277 758.4C1273 758.8 1269.3 764.6 1263.8 766.1C1258.3 767.6 1249.9 765.2 1244 767.2C1238.1 769.2 1232.6 773.4 1228.6 778.2C1224.6 783 1221.3 790.3 1219.8 795.8C1218.3 801.3 1220.9 807.7 1219.8 811.2C1218.7 814.7 1216.5 816.3 1213.2 816.7C1209.9 817.1 1202.9 814 1200 813.4C1197.1 812.8 1198.1 812.7 1196 813.4C1193.9 814.1 1189 814.9 1187.2 817.8C1185.4 820.7 1187.6 827.7 1185 831C1182.4 834.3 1174 834.7 1171.8 837.6C1169.6 840.5 1170.3 844.9 1171.8 848.6C1173.3 852.3 1178 854.5 1180.6 859.6C1183.2 864.7 1187.9 873.5 1187.2 879.4C1186.5 885.3 1180.6 890.8 1176.2 894.8C1171.8 898.8 1165.9 900.7 1160.8 903.6C1155.7 906.5 1149.4 908.7 1145.4 912.4C1141.4 916.1 1140.3 922.7 1136.6 925.6C1132.9 928.5 1128.2 930.4 1123.4 930C1118.6 929.6 1112.8 927.1 1108 923.4C1103.2 919.7 1098.8 911.5 1094.8 908C1090.8 904.5 1087.5 904.7 1083.8 902.5C1080.1 900.3 1076.8 895.7 1072.8 894.8C1068.8 893.9 1064.4 897.4 1059.6 897C1054.8 896.6 1048.6 894.8 1044.2 892.6C1039.8 890.4 1037.2 885.3 1033.2 883.8C1029.2 882.3 1024.8 882 1020 883.8C1015.2 885.6 1010.1 890.8 1004.6 894.8C999.1 898.8 992.5 904.3 987 908C981.5 911.7 975.6 913.9 971.6 916.8C967.6 919.7 965 920.1 962.8 925.6C960.6 931.1 961.3 943.6 958.4 949.8C955.5 956 947.8 958.2 945.2 963C942.6 967.8 945.2 974.7 943 978.4C940.8 982.1 936 984.3 932 985C928 985.7 922.5 984.6 918.8 982.8C915.1 981 913.3 977.3 910 974C906.7 970.7 901.9 967.8 899 963C896.1 958.2 895.7 950.5 892.4 945.4C889.1 940.3 883.5 935.9 879.2 932.2C874.9 928.6 870.3 924.2 866.6 923.5C862.9 922.8 860.3 926.7 857 928C853.7 929.3 850.2 930.8 846.7 931.4C843.2 932 838.6 930.7 836 931.5C833.4 932.3 831.9 933.9 831 936C830.1 938.1 830.5 941.5 830.5 944C830.5 946.5 832.2 950 831 951.3C829.8 952.5 825.6 951.9 823 951.5C820.4 951.1 818.4 951.1 815.2 949.2C812 947.3 807.5 943 804 940C800.5 937 797.6 934.1 794.3 931.4C791 928.7 787.5 925.7 784 924C780.5 922.3 777 920.9 773.3 921C769.6 921.1 766.4 922 762 924.5C757.6 927 751.6 933.6 747.1 936C742.6 938.4 738.6 938.4 735 939C731.4 939.6 730.1 938.8 725.6 939.9C721.1 941 713.5 945.2 708 945.4C702.5 945.6 698.1 942.5 692.6 941C687.1 939.5 681.2 939.5 675 936.6C668.8 933.7 660.7 926.7 655.2 923.4C649.7 920.1 647.9 917.2 642 916.8C636.1 916.4 626.6 919.7 620 921.2C613.4 922.7 607.9 925.2 602.4 925.6C596.9 926 591.4 924.9 587 923.4C582.6 921.9 580.8 919 576 916.8C571.2 914.6 563.5 912.8 558.4 910.2C553.3 907.6 549.6 904.7 545.2 901.4C540.8 898.1 537.9 892.2 532 890.4C526.1 888.6 516.6 891.1 510 890.4C503.4 889.7 497.2 888.6 492.4 886C487.6 883.4 485.8 877.4 481.4 875C477 872.6 471.1 872.1 466 871.7C460.9 871.3 456.1 873.5 450.6 872.8C445.1 872.1 439.2 867.8 433 867.3C426.8 866.8 419.4 869 413.2 869.5C407 870 402.5 870.6 396 870.6C389.5 870.6 381.3 869.7 374 869.5C366.7 869.3 359.3 868.6 352 869.5C344.7 870.4 337.3 874.1 330 875C322.7 875.9 314.6 875.2 308 875C301.4 874.8 295.9 873.2 290.4 873.9C284.9 874.6 280.9 877 275 879.4C269.1 881.8 260.7 885.3 255.2 888.2C249.7 891.1 246.4 894.4 242 897C237.6 899.6 233.9 901.6 228.8 903.6C223.7 905.6 216.3 906.9 211.2 909.1C206.1 911.3 201.3 913.7 198 916.8C194.7 919.9 193.4 923.8 191.4 927.8C189.4 931.8 188.5 938.1 185.9 941C183.3 943.9 178.4 942.8 176 945.4C173.6 948 172 952 171.6 956.4C171.2 960.8 173.8 966.7 173.8 971.8C173.8 976.9 170.1 982.8 171.6 987.2C173.1 991.6 179.7 995 182.6 998.2C185.5 1001.4 187.4 1003.4 189.2 1006.6C191 1009.8 192.5 1010.6 193.6 1017.6C194.7 1024.6 196.2 1040 195.8 1048.4C195.4 1056.8 193.2 1062.7 191.4 1068.2C189.6 1073.7 185.9 1077.4 184.8 1081.4C183.7 1085.4 184.1 1087.6 184.8 1092.4C185.5 1097.2 189.2 1104.5 189.2 1110C189.2 1115.5 186.3 1121.4 184.8 1125.4C183.3 1129.4 181.1 1131.3 180.4 1134.2C179.7 1137.1 182.6 1139.3 180.4 1143C178.2 1146.7 171.2 1151.8 167.2 1156.2C163.2 1160.6 160.6 1166.8 156.2 1169.4C151.8 1172 146.3 1171.8 140.8 1171.6C135.3 1171.4 127.4 1167.6 123.2 1168.3C119 1169 117.2 1172.2 115.5 1176C113.8 1179.8 114.8 1187.4 113.3 1191.4C111.8 1195.4 107.6 1196.2 106.7 1200.2C105.8 1204.2 107.2 1209.4 107.8 1215.6C108.3 1221.8 108.3 1232.8 110 1237.6C111.7 1242.4 116.4 1240.2 117.7 1244.2C119 1248.2 118.2 1257 117.7 1261.8C117.2 1266.6 113.5 1269.1 114.4 1272.8C115.3 1276.5 121 1280.5 123.2 1283.8C125.4 1287.1 127.8 1289.3 127.6 1292.6C127.4 1295.9 124.1 1300.3 122.1 1303.6C120.1 1306.9 117.2 1308.7 115.5 1312.4C113.8 1316.1 113.1 1321.2 112.2 1325.6C111.3 1330 109.6 1335.1 110 1338.8C110.4 1342.5 112.8 1345.4 114.4 1347.6C116.1 1349.8 120.3 1348.3 119.9 1352C119.5 1355.7 114.6 1364.5 112.2 1369.6C109.8 1374.7 108.5 1378 105.6 1382.8C102.7 1387.6 96.2 1395.3 94.6 1398.2C92.9 1401.1 95.2 1396.4 95.7 1400C96.2 1403.6 98.5 1413.6 97.9 1419.8C97.4 1426 94.8 1432.6 92.4 1437.4C90 1442.2 85.6 1444.4 83.6 1448.4C81.6 1452.4 79.9 1457.2 80.3 1461.6C80.7 1466 86 1470.4 85.8 1474.8C85.6 1479.2 82.9 1484 79.2 1488C75.5 1492 69.3 1496.1 63.8 1499C58.3 1501.9 50.6 1503 46.2 1505.6C41.8 1508.2 39.6 1511.1 37.4 1514.4C35.2 1517.7 34.8 1521.7 33 1525.4C31.2 1529.1 27.9 1533.1 26.4 1536.4C24.9 1539.7 25.1 1543.6 24.2 1545.2C23.3 1546.8 21.4 1546.1 20.9 1546.3" fill="none" stroke="#fff" stroke-width="5.5" stroke-linejoin="round" stroke-linecap="round"/>
<path d="M330 873 L335.6 872.5 L341.1 872 L346.6 871.2 L352 869.5 L357.5 870.8 L363 870.2 L368.5 870.8 L374 869.5 L379.6 868.4 L385 869.9 L390.4 871.7 L396 870.6 L401.8 870.7 L407.5 871.1 L413.2 869.5 L419.7 867.6 L426.4 867.9 L433 867.3 L439.1 868.4 L444.7 871.1 L450.6 872.8 L455.7 872.7 L460.8 870.6 L466 871.7 L471.3 872 L476.4 873.3 L481.4 875 L484.2 879.5 L488.2 882.9 L492.4 886 L498.5 886.5 L503.9 889.8 L510 890.4 L515.5 889.3 L521 890.8 L526.5 889.3 L532 890.4 L537.4 892.9 L540.1 898.6 L545.2 901.4 L550.1 903.6 L554.5 906.6 L558.4 910.2 L563.8 913.8 L569.7 915.6 L576 916.8 L581.8 919.6 L587 923.4 L591.9 925.5 L597.3 925 L602.4 925.6 L608.4 924.7 L613.9 921.8 L620 921.2" fill="none" stroke="#fff" stroke-width="8.5" stroke-linejoin="round" stroke-linecap="round"/>
<path d="M741 936.5C742 937 744.9 937.5 747.1 939.8C749.3 942 751.7 946.9 754 950C756.3 953.1 757.6 954.8 760.8 958.7C764 962.6 769.4 969.9 773.3 973.3C777.2 976.7 780.5 977.4 784 979C787.5 980.6 791.3 982.6 794.3 982.8C797.3 983 799.5 981.2 802 980C804.5 978.8 806.5 976.9 809 975.4C811.5 973.9 814.2 972.4 817 971C819.8 969.6 823.5 968.8 825.7 967C827.9 965.2 829.1 962.6 830 960C830.9 957.4 830.8 952.8 831 951.3" fill="none" stroke="#fff" stroke-width="10.0" stroke-linejoin="round" stroke-linecap="round"/>
<path d="M809 975.4C810.2 976.2 813.6 978.8 816 980C818.4 981.2 820.9 982.6 823.6 982.8C826.3 983 829.4 981.9 832 981C834.6 980.1 837.1 979 839.3 977.5C841.5 976 843.8 973.6 845 972C846.2 970.4 846.7 969.8 846.7 968.1C846.7 966.4 846 963.6 845 962C844 960.4 842.2 960.3 840.4 958.7C838.6 957.1 835.1 953.5 834.1 952.4" fill="none" stroke="#fff" stroke-width="8.0" stroke-linejoin="round" stroke-linecap="round"/>
<path d="M1499.2 307.2C1500.7 307.7 1505.8 309 1508 310C1510.2 311 1510.6 313.5 1512.4 313.3C1514.2 313.1 1516.4 308.7 1519 308.9C1521.6 309.1 1524.9 312 1527.8 314.4C1530.7 316.8 1534.6 320.3 1536.6 323.2C1538.6 326.1 1538.8 329.8 1539.9 332C1541 334.2 1542.7 335.7 1543.2 336.4" fill="none" stroke="#fff" stroke-width="5.5" stroke-linejoin="round" stroke-linecap="round"/>
<path d="M1539.9 329.8C1540.5 328.7 1541.2 325.4 1543.2 323.2C1545.2 321 1550.2 319.2 1552 316.6C1553.8 314 1552.7 310 1554.2 307.8C1555.7 305.6 1558.4 303.4 1560.8 303.4C1563.2 303.4 1567.2 307.1 1568.5 307.8" fill="none" stroke="#fff" stroke-width="3.0" stroke-linejoin="round" stroke-linecap="round"/>
<path d="M1568.5 923.4C1567.2 923.8 1563.2 922.7 1560.8 925.6C1558.4 928.5 1556.8 940.6 1554.2 941C1551.6 941.4 1548.3 930.7 1545.4 927.8C1542.5 924.9 1540.3 923.8 1536.6 923.4C1532.9 923 1526.5 924.1 1523.4 925.6C1520.3 927.1 1517.5 929.6 1517.9 932.2C1518.3 934.8 1525.8 938.4 1525.6 941C1525.4 943.6 1520.8 945.4 1516.8 947.6C1512.8 949.8 1505.8 955.7 1501.4 954.2C1497 952.7 1493.3 941.7 1490.4 938.8C1487.5 935.9 1486 934.8 1483.8 936.6C1481.6 938.4 1479.8 945.4 1477.2 949.8C1474.6 954.2 1471.3 961.9 1468.4 963C1465.5 964.1 1462.2 956.8 1459.6 956.4C1457 956 1453.7 957.9 1453 960.8C1452.3 963.7 1455.6 971.1 1455.2 974C1454.8 976.9 1455.6 977.7 1450.8 978.4C1446 979.1 1432.1 981 1426.6 978.4C1421.1 975.8 1420.4 965.2 1417.8 963C1415.2 960.8 1413 961.9 1411.2 965.2C1409.4 968.5 1408.6 978 1406.8 982.8C1405 987.6 1403.9 991.2 1400.2 993.8C1396.5 996.4 1387.4 997.2 1384.8 998.2C1382.2 999.2 1384.6 996.4 1384.8 1000C1385 1003.6 1386.6 1013.9 1385.9 1019.8C1385.2 1025.7 1382.8 1030.8 1380.4 1035.2C1378 1039.6 1375.3 1044 1371.6 1046.2C1367.9 1048.4 1361.7 1046.9 1358.4 1048.4C1355.1 1049.9 1354.7 1055.2 1351.8 1055C1348.9 1054.8 1344.1 1048 1340.8 1047.3C1337.5 1046.6 1331.3 1047.8 1332 1050.6C1332.7 1053.3 1343.4 1060.1 1345.2 1063.8C1347 1067.5 1345.9 1071.9 1343 1072.6C1340.1 1073.3 1331.6 1067.5 1327.6 1068.2C1323.6 1068.9 1321.4 1074.2 1318.8 1077C1316.2 1079.8 1314.8 1084.7 1312.2 1084.7C1309.6 1084.7 1306.7 1078.8 1303.4 1077C1300.1 1075.2 1295.7 1072.6 1292.4 1073.7C1289.1 1074.8 1286.9 1079.8 1283.6 1083.6C1280.3 1087.4 1277 1094.6 1272.6 1096.8C1268.2 1099 1260.7 1094.6 1257.2 1096.8C1253.7 1099 1255 1106.9 1251.7 1110C1248.4 1113.1 1239.4 1112.6 1237.4 1115.5C1235.4 1118.4 1241.1 1123.8 1239.6 1127.6C1238.1 1131.4 1232.4 1134.2 1228.6 1138.6C1224.8 1143 1220.5 1152.2 1216.5 1154C1212.5 1155.8 1206.7 1150.7 1204.4 1149.6C1202.1 1148.5 1204.4 1145.9 1202.6 1147.4C1200.8 1148.9 1197.1 1154 1193.8 1158.4C1190.5 1162.8 1186.5 1172 1182.8 1173.8C1179.1 1175.6 1173.6 1171.6 1171.8 1169.4C1170 1167.2 1172.9 1161.3 1171.8 1160.6C1170.7 1159.9 1167 1162.1 1165.2 1165C1163.4 1167.9 1164.5 1173.8 1160.8 1178.2C1157.1 1182.6 1149.1 1188.3 1143.2 1191.4C1137.3 1194.5 1130 1194.3 1125.6 1196.9C1121.2 1199.5 1116.8 1203.7 1116.8 1206.8C1116.8 1209.9 1121.2 1212.7 1125.6 1215.6C1130 1218.5 1139.2 1221.5 1143.2 1224.4C1147.2 1227.3 1149.4 1229.2 1149.8 1233.2C1150.2 1237.2 1146.9 1243.5 1145.4 1248.6C1143.9 1253.7 1142.5 1261.1 1141 1264C1139.5 1266.9 1138.4 1268.8 1136.6 1266.2C1134.8 1263.6 1132.9 1252.6 1130 1248.6C1127.1 1244.6 1125.2 1243.3 1119 1242C1112.8 1240.7 1098.8 1240.2 1092.6 1240.9C1086.4 1241.6 1084 1243.3 1081.6 1246.4C1079.2 1249.5 1077.9 1254.5 1078.3 1259.6C1078.7 1264.7 1084.3 1273.2 1083.8 1277.2C1083.2 1281.2 1080.1 1282 1075 1283.8C1069.9 1285.6 1058.5 1286.4 1053 1288.2C1047.5 1290 1044.8 1291.5 1042 1294.8C1039.2 1298.1 1035.4 1304.3 1036.5 1308C1037.6 1311.7 1046.9 1313.1 1048.6 1316.8C1050.2 1320.5 1049.3 1326.7 1046.4 1330C1043.5 1333.3 1036.9 1332.6 1031 1336.6C1025.1 1340.6 1016.7 1348.3 1011.2 1354.2C1005.7 1360.1 1001.7 1367 998 1371.8C994.3 1376.6 994.3 1380.4 989.2 1382.8C984.1 1385.2 972.3 1384.6 967.2 1386.1C962.1 1387.6 960.2 1388.5 958.4 1391.6C956.6 1394.7 956.4 1400.1 956.2 1404.8C956 1409.5 956.9 1417.1 957.3 1420C957.7 1422.9 959.7 1419.5 958.4 1422C957.1 1424.5 954 1431.5 949.6 1435.2C945.2 1438.9 936.4 1440.3 932 1444C927.6 1447.7 923.9 1453.2 923.2 1457.2C922.5 1461.2 927.6 1463.4 927.6 1468.2C927.6 1473 928.7 1481.8 923.2 1485.8C917.7 1489.8 901.6 1490 894.6 1492.4C887.6 1494.8 885.4 1498.4 881.4 1500.1C877.4 1501.8 873 1500.3 870.4 1502.3C867.8 1504.3 868.9 1507.6 866 1512.2C863.1 1516.8 855.4 1525 852.8 1529.8C850.2 1534.6 850.6 1537.1 850.6 1540.8C850.6 1544.5 853.9 1547 852.8 1551.8C851.7 1556.6 847.3 1563.9 844 1569.4C840.7 1574.9 837.4 1581.1 833 1584.8C828.6 1588.5 820.8 1589.2 817.6 1591.4C814.4 1593.6 814.6 1595.1 813.6 1598C812.6 1600.9 812.9 1605.7 811.4 1609C809.9 1612.3 807.7 1614.9 804.8 1617.8C801.9 1620.7 798.2 1623.3 793.8 1626.6C789.4 1629.9 783.2 1633.2 778.4 1637.6C773.6 1642 769.2 1647.9 765.2 1653C761.2 1658.1 755.7 1664 754.2 1668.4C752.7 1672.8 757.9 1676.1 756.4 1679.4C754.9 1682.7 749.1 1684.2 745.4 1688.2C741.7 1692.2 739.2 1698.8 734.4 1703.6C729.6 1708.4 722.3 1713.1 716.8 1716.8C711.3 1720.5 706.9 1723.8 701.4 1725.6C695.9 1727.4 689.7 1725.6 683.8 1727.8C677.9 1730 670.6 1735.1 666.2 1738.8C661.8 1742.5 659.8 1746.5 657.4 1749.8C655 1753.1 652.8 1757.1 651.9 1758.6" fill="none" stroke="#fff" stroke-width="5.5" stroke-linejoin="round" stroke-linecap="round"/>
<path d="M1039.8 894.8 L1040.3 901.5 L1042 908 L1038.1 913.2 L1035.4 919 L1034.3 924.5 L1033.2 930 L1036.9 936.4 L1039.8 943.2 L1044.4 946.9 L1047.3 952.2 L1051.4 956.4 L1055.2 960.8 L1057.3 965.5 L1060.6 969.5 L1062.4 974.3 L1065.9 978.2 L1067.5 983.1 L1070.6 987.2 L1072.7 992.1 L1075.8 996.5 L1078.1 1001.3 L1080.3 1006.1 L1083.7 1010.3 L1085.6 1015.4 L1088.2 1020 L1090.2 1025 L1093.7 1029.2 L1095.4 1034.5 L1098.1 1039.1 L1100.4 1044 L1103.6 1048.4 L1101.7 1053.7 L1099.9 1059 L1097 1063.8 L1097.5 1068.9 L1098.6 1073.8 L1100.4 1078.6 L1101.4 1083.6 L1102.9 1089.4 L1103.5 1095.3 L1103.6 1101.2 L1106 1105.7 L1109.2 1109.8 L1110.7 1114.9 L1114 1118.9 L1116.8 1123.2 L1119.5 1128.1 L1120.9 1133.6 L1123.4 1138.6 L1130.1 1141.7 L1136.6 1145.2 L1140.1 1149.5 L1144.1 1153.1 L1148.7 1156.2 L1152.5 1160.1 L1156.5 1163.8 L1160.8 1167.2" fill="none" stroke="#fff" stroke-width="4.5" stroke-linejoin="round" stroke-linecap="round"/>
<path d="M20.9 1127.2 L174.9 1124.3 L171.6 1136.4 L176 1143" fill="none" stroke="#fff" stroke-width="5.5" stroke-linejoin="round" stroke-linecap="butt"/>
<circle cx="95.3" cy="349.6" r="7" fill="#fff"/>
<circle cx="699.7" cy="305.2" r="7" fill="#fff"/>
<circle cx="914.4" cy="357.5" r="7" fill="#fff"/>
<circle cx="674.4" cy="425.3" r="7" fill="#fff"/>
<circle cx="481.4" cy="442" r="7" fill="#fff"/>
<circle cx="387.2" cy="499.2" r="7" fill="#fff"/>
<circle cx="1305.6" cy="429.5" r="7" fill="#fff"/>
<circle cx="1499.2" cy="307.2" r="7" fill="#fff"/>
<circle cx="1482.7" cy="578.4" r="7" fill="#fff"/>
<circle cx="1281.4" cy="617.5" r="7" fill="#fff"/>
<circle cx="709.6" cy="575.4" r="7" fill="#fff"/>
<circle cx="702.5" cy="665.3" r="7" fill="#fff"/>
<circle cx="738.4" cy="739.3" r="7" fill="#fff"/>
<circle cx="356.4" cy="773.4" r="7" fill="#fff"/>
<circle cx="461.6" cy="826.6" r="7" fill="#fff"/>
<circle cx="1196" cy="865.1" r="7" fill="#fff"/>
<circle cx="1083.8" cy="902.5" r="7" fill="#fff"/>
<circle cx="185.9" cy="941" r="7" fill="#fff"/>
<circle cx="842" cy="968" r="7" fill="#fff"/>
<circle cx="1326.5" cy="945.4" r="7" fill="#fff"/>
<circle cx="203.5" cy="1107.4" r="7" fill="#fff"/>
<circle cx="1125.6" cy="1091.3" r="7" fill="#fff"/>
<circle cx="1313" cy="1083" r="7" fill="#fff"/>
<circle cx="1518.4" cy="1080.3" r="7" fill="#fff"/>
<circle cx="477.4" cy="1254.6" r="7" fill="#fff"/>
<circle cx="694.4" cy="1304.3" r="7" fill="#fff"/>
<circle cx="1036.5" cy="1309.1" r="7" fill="#fff"/>
<circle cx="230.4" cy="1320.6" r="7" fill="#fff"/>
<circle cx="423.5" cy="1526.5" r="7" fill="#fff"/>
<text x="103.1" y="339" font-family='"DejaVu Sans Mono","Liberation Mono",monospace' font-size="30.5" fill="#fff">PIRANE</text>
<text x="708.2" y="294.9" font-family='"DejaVu Sans Mono","Liberation Mono",monospace' font-size="30.5" fill="#fff">PARAGUARÍ</text>
<text x="924.6" y="347.9" font-family='"DejaVu Sans Mono","Liberation Mono",monospace' font-size="30.5" fill="#fff">VILLARRICA</text>
<text x="684.3" y="415.6" font-family='"DejaVu Sans Mono","Liberation Mono",monospace' font-size="30.5" fill="#fff">QUIINDY</text>
<text x="490.5" y="432.8" font-family='"DejaVu Sans Mono","Liberation Mono",monospace' font-size="30.5" fill="#fff">VA. OLIVA</text>
<text x="395.5" y="488.7" font-family='"DejaVu Sans Mono","Liberation Mono",monospace' font-size="30.5" fill="#fff">FORMOSA</text>
<text x="1314.1" y="420" font-family='"DejaVu Sans Mono","Liberation Mono",monospace' font-size="30.5" fill="#fff">NARANJAL</text>
<text x="1508.4" y="296.8" font-family='"DejaVu Sans Mono","Liberation Mono",monospace' font-size="30.5" fill="#fff">PUERTO IGUAZÚ</text>
<text x="1490.8" y="567.4" font-family='"DejaVu Sans Mono","Liberation Mono",monospace' font-size="30.5" fill="#fff">ELDORADO</text>
<text x="1289.3" y="607" font-family='"DejaVu Sans Mono","Liberation Mono",monospace' font-size="30.5" fill="#fff">MARÍA AUXILIADORA</text>
<text x="718.2" y="566.3" font-family='"DejaVu Sans Mono","Liberation Mono",monospace' font-size="30.5" fill="#fff">VA. FLORIDA</text>
<text x="710.3" y="654.6" font-family='"DejaVu Sans Mono","Liberation Mono",monospace' font-size="30.5" fill="#fff">SAN JUAN BAUTISTA</text>
<text x="746.6" y="728.7" font-family='"DejaVu Sans Mono","Liberation Mono",monospace' font-size="30.5" fill="#fff">SAN IGNACIO</text>
<text x="364.9" y="763.3" font-family='"DejaVu Sans Mono","Liberation Mono",monospace' font-size="30.5" fill="#fff">ISLA UMBÚ</text>
<text x="471.4" y="815.6" font-family='"DejaVu Sans Mono","Liberation Mono",monospace' font-size="30.5" fill="#fff">VILLALBÍN</text>
<text x="1205.6" y="854.8" font-family='"DejaVu Sans Mono","Liberation Mono",monospace' font-size="30.5" fill="#fff">SAN IGNACIO</text>
<text x="1091.9" y="893.7" font-family='"DejaVu Sans Mono","Liberation Mono",monospace' font-size="30.5" fill="#fff">POSADAS</text>
<text x="194.8" y="930.5" font-family='"DejaVu Sans Mono","Liberation Mono",monospace' font-size="30.5" fill="#fff">CORRIENTES</text>
<text x="849.8" y="957.5" font-family='"DejaVu Sans Mono","Liberation Mono",monospace' font-size="30.5" fill="#fff">ITUZAINGÓ</text>
<text x="1335.8" y="935.5" font-family='"DejaVu Sans Mono","Liberation Mono",monospace' font-size="30.5" fill="#fff">OBERÁ</text>
<text x="210.5" y="1096.4" font-family='"DejaVu Sans Mono","Liberation Mono",monospace' font-size="30.5" fill="#fff">EMPEDRADO</text>
<text x="1134.9" y="1081.4" font-family='"DejaVu Sans Mono","Liberation Mono",monospace' font-size="30.5" fill="#fff">APÓSTOLES</text>
<text x="1321.1" y="1071.5" font-family='"DejaVu Sans Mono","Liberation Mono",monospace' font-size="30.5" fill="#fff">SAN JAVIER</text>
<text x="1526.8" y="1070.4" font-family='"DejaVu Sans Mono","Liberation Mono",monospace' font-size="30.5" fill="#fff">SANTA ROSA</text>
<text x="485.9" y="1243.1" font-family='"DejaVu Sans Mono","Liberation Mono",monospace' font-size="30.5" fill="#fff">CONCEPCIÓN</text>
<text x="702.6" y="1293.7" font-family='"DejaVu Sans Mono","Liberation Mono",monospace' font-size="30.5" fill="#fff">COL. C. PELLEGRINI</text>
<text x="1045.4" y="1299.2" font-family='"DejaVu Sans Mono","Liberation Mono",monospace' font-size="30.5" fill="#fff">SANTO TOMÉ</text>
<text x="239.9" y="1310.2" font-family='"DejaVu Sans Mono","Liberation Mono",monospace' font-size="30.5" fill="#fff">SAN ROQUE</text>
<text x="432.1" y="1515.5" font-family='"DejaVu Sans Mono","Liberation Mono",monospace' font-size="30.5" fill="#fff">MERCEDES</text>
<rect x="26" y="1653" width="333" height="101.5" fill="#646464" fill-opacity="0.863"/>
<rect x="40" y="1668" width="303.3" height="72" fill="none" stroke="#ffa500" stroke-width="6"/>
<text x="51" y="1697.5" font-family='"DejaVu Sans Mono","Liberation Mono",monospace' font-size="22.2" fill="#fff">Avisos Meteorológicos</text>
<text x="51" y="1724.5" font-family='"DejaVu Sans Mono","Liberation Mono",monospace' font-size="22.2" fill="#fff">a Muy Corto Plazo</text>
</g>
<g clip-path="url(#cr)" shape-rendering="crispEdges">
<path d="M1589.9 815.3H1600.9M1593.1 817.5H1602.7M1592.9 819.7H1601.8M1586.3 821.9H1592.4M1592.4 821.9H1603.5M1589.3 824.1H1594.8M1594.8 824.1H1604.1M1584.8 826.3H1596.1M1588.2 828.5H1600.0M1600.0 828.5H1605.3M1596.3 830.7H1604.8M1589.0 832.9H1597.4M1597.4 832.9H1605.0M1586.8 835.1H1600.1M1600.1 835.1H1604.8M1595.2 837.3H1601.4M1601.4 837.3H1605.5M1587.4 839.5H1597.1M1597.1 839.5H1607.4M1598.3 841.7H1604.4M1604.4 841.7H1609.1M1598.8 843.9H1606.5M1606.5 843.9H1607.5M1573.8 846.1H1586.6M1600.7 846.1H1607.2M1595.5 848.3H1605.4M1604.9 850.5H1607.1M1598.9 852.7H1605.8M1605.8 852.7H1609.9M1607.1 854.9H1612.0M1602.6 857.1H1614.8M1600.3 859.3H1612.1M1596.6 861.5H1605.6M1605.6 861.5H1612.9M1601.3 863.7H1608.2M1608.2 863.7H1609.6M1586.9 865.9H1600.5M1600.5 865.9H1609.2M1591.5 868.1H1598.8M1607.3 868.1H1608.8M1584.1 870.3H1590.1M1610.5 870.3H1611.9M1594.7 872.5H1606.9M1581.0 874.7H1590.6M1590.6 874.7H1601.2M1601.2 874.7H1609.6M1594.4 876.9H1601.3M1598.5 879.1H1606.4M1596.9 881.3H1606.0M1606.0 881.3H1607.3M1591.1 883.5H1602.8M1602.8 883.5H1610.0M1593.7 885.7H1608.3M1608.3 885.7H1609.9M1620.4 885.7H1627.2M1597.8 887.9H1612.3M1612.3 887.9H1612.9M1604.8 890.1H1613.2M1624.4 890.1H1630.7M1604.9 892.3H1612.5M1589.8 894.5H1595.4M1595.4 894.5H1606.1M1606.1 894.5H1610.0M1605.2 896.7H1608.1M1602.7 898.9H1608.0M1610.5 901.1H1615.3M1605.5 903.3H1610.2M1597.5 905.5H1604.5M1604.5 905.5H1610.7M1596.2 907.7H1605.8M1605.8 907.7H1611.5M1588.1 909.9H1594.6M1594.6 909.9H1604.9M1604.9 909.9H1607.7M1618.2 914.3H1626.5M1591.5 916.5H1604.5M1604.5 916.5H1610.2M1610.2 916.5H1611.8M1584.5 918.7H1595.3M1601.0 918.7H1608.9M1608.9 918.7H1609.0M1597.1 920.9H1605.1M1600.0 923.1H1606.7M1597.5 925.3H1606.8M1594.9 929.7H1604.6M1604.6 929.7H1606.5M1621.1 931.9H1624.9M1603.2 934.1H1612.6M1607.6 936.3H1612.1M1599.7 938.5H1607.5M1607.5 938.5H1610.7M1613.6 938.5H1616.6M1607.8 942.9H1610.0M1615.6 942.9H1623.3M1604.1 945.1H1607.7M1606.2 947.3H1610.3M1607.4 949.5H1612.1M1618.6 949.5H1624.4M1602.5 951.7H1610.1M1610.1 951.7H1611.5M1591.1 956.1H1596.7M1597.4 958.3H1609.7M1609.7 958.3H1610.0M1615.4 960.5H1619.3M1595.1 962.7H1607.4M1607.4 962.7H1610.5M1622.0 962.7H1625.1M1608.2 967.1H1613.9M1604.5 971.5H1611.1M1611.1 971.5H1612.3M1596.6 973.7H1608.2M1594.3 980.3H1601.8M1601.8 980.3H1608.6M1611.4 982.5H1620.3M1602.0 984.7H1611.6M1615.7 986.9H1623.7M1591.6 989.1H1596.8M1607.8 989.1H1610.7M1602.8 991.3H1608.5M1608.5 991.3H1609.5M1586.4 993.5H1594.7M1603.3 995.7H1609.8M1609.8 995.7H1612.4M1612.2 997.9H1612.9M1622.6 997.9H1631.4M1607.4 1000.1H1610.6M1595.2 1002.3H1608.0M1608.0 1002.3H1612.6M1607.6 1008.9H1610.4M1598.7 1011.1H1606.6M1606.6 1011.1H1609.2M1605.5 1015.5H1608.4M1593.0 1017.7H1607.9M1607.9 1017.7H1608.9M1611.3 1017.7H1617.8M1594.2 1022.1H1601.5M1601.5 1022.1H1607.8M1594.6 1026.5H1605.8M1605.8 1026.5H1607.6M1591.4 1028.7H1596.8M1606.8 1028.7H1611.0M1586.3 1030.9H1596.8M1596.8 1030.9H1602.0M1602.0 1030.9H1608.1M1616.2 1030.9H1621.2M1590.9 1033.1H1601.3M1610.0 1035.3H1611.5M1608.8 1037.5H1613.8M1621.6 1039.7H1629.7M1602.1 1046.3H1610.5M1615.5 1046.3H1621.3M1607.0 1048.5H1610.4M1607.8 1050.7H1611.5M1590.0 1052.9H1596.9M1596.9 1052.9H1605.8M1605.8 1052.9H1611.4M1603.9 1055.1H1612.1M1622.7 1055.1H1626.8M1604.3 1057.3H1611.6M1600.3 1059.5H1608.9M1608.9 1059.5H1611.4M1584.9 1061.7H1592.5M1592.5 1061.7H1603.2M1603.2 1061.7H1609.5M1596.7 1063.9H1606.5M1606.5 1063.9H1609.5M1572.0 1066.1H1579.8M1592.1 1066.1H1606.9M1606.9 1066.1H1611.8M1607.0 1068.3H1609.8M1620.6 1068.3H1627.1M1596.9 1070.5H1607.2M1607.2 1070.5H1609.2M1586.4 1072.7H1592.0M1592.0 1072.7H1604.6M1604.6 1072.7H1609.9M1617.4 1072.7H1624.7M1605.8 1074.9H1609.5M1593.3 1077.1H1607.5M1607.5 1077.1H1613.8M1607.2 1079.3H1613.9M1585.6 1081.5H1596.3M1596.3 1081.5H1607.9M1592.8 1083.7H1606.6M1606.6 1083.7H1611.4M1619.0 1083.7H1626.9M1601.4 1085.9H1606.9M1615.0 1085.9H1618.1M1586.7 1088.1H1595.4M1604.0 1088.1H1605.0M1585.6 1090.3H1592.9M1592.9 1090.3H1598.8M1598.8 1090.3H1605.0M1605.0 1090.3H1606.8M1603.0 1092.5H1609.5M1597.4 1094.7H1606.0M1606.0 1094.7H1613.2M1587.1 1096.9H1601.3M1601.3 1096.9H1613.0M1623.7 1096.9H1628.6M1592.3 1099.1H1604.0M1588.7 1101.3H1603.0M1603.0 1101.3H1608.8M1597.8 1103.5H1607.2M1607.2 1103.5H1607.7M1596.0 1105.7H1602.0M1602.0 1105.7H1607.5M1591.2 1107.9H1601.0M1601.0 1107.9H1607.4M1584.2 1110.1H1595.9M1595.9 1110.1H1604.3M1604.3 1110.1H1610.2M1597.5 1112.3H1610.0M1586.4 1114.5H1595.6M1595.6 1114.5H1608.5M1608.5 1114.5H1609.5M1580.5 1116.7H1586.7M1607.8 1116.7H1609.6M1585.1 1118.9H1597.5M1597.5 1118.9H1609.1M1609.1 1118.9H1613.0M1600.0 1121.1H1612.6M1595.3 1123.3H1608.0M1608.0 1123.3H1613.5M1599.3 1125.5H1610.6M1614.2 1125.5H1618.2M1589.9 1127.7H1597.7M1597.7 1127.7H1605.0M1605.0 1127.7H1612.3M1621.4 1127.7H1628.9M1602.3 1129.9H1611.7M1588.0 1132.1H1600.1M1600.1 1132.1H1605.4M1579.8 1134.3H1591.3M1591.3 1134.3H1602.5M1602.5 1134.3H1604.1M1584.8 1136.5H1596.9M1596.9 1136.5H1601.5M1587.9 1138.7H1594.2M1594.2 1138.7H1598.6M1584.0 1140.9H1597.3M1597.3 1140.9H1597.9M1584.0 1143.1H1595.9M1595.9 1143.1H1597.4M1604.1 1143.1H1609.0M1579.9 1145.3H1591.5M1591.5 1145.3H1597.1M1597.1 1145.3H1598.2M1574.7 1147.5H1583.9M1583.9 1147.5H1589.4M1589.4 1147.5H1596.3M1587.3 1154.1H1594.4M1587.4 1156.3H1592.0M1576.5 1158.5H1587.1M1587.1 1158.5H1591.9M1586.6 1160.7H1592.6M1588.8 1162.9H1592.6" stroke="#3c6599" stroke-width="2.25" fill="none"/>
<path d="M1580.0 813.1H1588.9M1588.9 813.1H1601.9M1579.6 815.3H1589.9M1579.2 817.5H1593.1M1578.3 821.9H1586.3M1577.9 824.1H1589.3M1577.5 826.3H1584.8M1596.1 826.3H1604.7M1577.1 828.5H1588.2M1576.7 830.7H1587.8M1587.8 830.7H1596.3M1576.3 832.9H1589.0M1575.4 837.3H1588.2M1588.2 837.3H1595.2M1575.0 839.5H1587.4M1574.6 841.7H1582.0M1582.0 841.7H1588.9M1588.9 841.7H1598.3M1574.2 843.9H1587.7M1587.7 843.9H1598.8M1586.6 846.1H1600.7M1588.0 848.3H1595.5M1573.0 850.5H1586.3M1586.3 850.5H1595.3M1595.3 850.5H1604.9M1572.5 852.7H1579.4M1579.4 852.7H1588.4M1588.4 852.7H1598.9M1572.1 854.9H1583.4M1583.4 854.9H1594.4M1594.4 854.9H1607.1M1572.0 857.1H1582.4M1582.4 857.1H1592.9M1592.9 857.1H1602.6M1582.1 859.3H1590.0M1590.0 859.3H1600.3M1572.0 861.5H1577.4M1577.4 861.5H1583.4M1583.4 861.5H1596.6M1572.0 863.7H1583.9M1583.9 863.7H1592.5M1592.5 863.7H1601.3M1572.0 865.9H1577.1M1577.1 865.9H1586.9M1579.7 868.1H1591.5M1598.8 868.1H1607.3M1572.0 870.3H1577.3M1577.3 870.3H1584.1M1590.1 870.3H1596.4M1596.4 870.3H1610.5M1606.9 872.5H1612.5M1572.0 876.9H1580.5M1580.5 876.9H1594.4M1601.3 876.9H1607.4M1572.0 879.1H1583.7M1583.7 879.1H1598.5M1590.6 881.3H1596.9M1584.1 883.5H1591.1M1584.9 885.7H1593.7M1572.0 887.9H1586.6M1586.6 887.9H1597.8M1620.1 887.9H1625.0M1579.1 890.1H1585.3M1585.3 890.1H1593.4M1593.4 890.1H1604.8M1584.4 892.3H1591.5M1591.5 892.3H1604.9M1577.8 894.5H1589.8M1572.0 896.7H1586.0M1586.0 896.7H1599.9M1599.9 896.7H1605.2M1618.1 896.7H1624.3M1578.0 898.9H1589.8M1589.8 898.9H1597.1M1597.1 898.9H1602.7M1616.5 898.9H1624.3M1581.2 901.1H1586.4M1586.4 901.1H1600.9M1600.9 901.1H1608.2M1572.0 903.3H1578.2M1578.2 903.3H1589.0M1589.0 903.3H1597.8M1597.8 903.3H1605.5M1572.0 907.7H1583.4M1617.6 907.7H1625.2M1572.0 909.9H1577.7M1577.7 909.9H1588.1M1616.7 909.9H1620.2M1584.0 912.1H1596.6M1596.6 912.1H1609.9M1572.0 914.3H1581.4M1581.4 914.3H1590.1M1590.1 914.3H1602.9M1602.9 914.3H1611.4M1584.0 916.5H1591.5M1595.3 918.7H1601.0M1578.6 920.9H1584.5M1584.5 920.9H1597.1M1614.1 920.9H1623.0M1581.9 923.1H1592.3M1592.3 923.1H1600.0M1572.0 925.3H1584.3M1591.1 925.3H1597.5M1572.0 927.5H1582.5M1582.5 927.5H1595.6M1595.6 927.5H1606.8M1586.3 929.7H1594.9M1572.0 931.9H1586.4M1586.4 931.9H1597.2M1597.2 931.9H1603.8M1603.8 931.9H1610.9M1578.5 934.1H1585.3M1585.3 934.1H1591.0M1591.0 934.1H1603.2M1572.0 936.3H1579.8M1591.3 936.3H1598.9M1598.9 936.3H1607.6M1577.0 938.5H1589.5M1586.9 940.7H1592.4M1592.4 940.7H1604.7M1604.7 940.7H1609.1M1581.4 942.9H1595.3M1595.3 942.9H1602.4M1602.4 942.9H1607.8M1579.7 945.1H1592.1M1592.1 945.1H1604.1M1572.0 947.3H1586.3M1586.3 947.3H1596.9M1596.9 947.3H1606.2M1613.7 947.3H1621.1M1582.3 949.5H1590.5M1590.5 949.5H1600.5M1600.5 949.5H1607.4M1572.0 951.7H1584.4M1596.1 951.7H1602.5M1586.5 953.9H1601.1M1601.1 953.9H1611.3M1585.6 956.1H1591.1M1596.7 956.1H1609.6M1585.8 958.3H1597.4M1614.4 958.3H1619.0M1588.1 960.5H1597.1M1597.1 960.5H1606.3M1606.3 960.5H1608.6M1572.0 962.7H1584.5M1584.5 962.7H1595.1M1587.1 964.9H1598.4M1598.4 964.9H1610.2M1610.2 964.9H1614.6M1586.9 967.1H1600.3M1600.3 967.1H1608.2M1580.9 969.3H1590.9M1601.4 969.3H1608.2M1608.2 969.3H1612.5M1616.5 969.3H1620.1M1582.8 971.5H1593.5M1586.6 973.7H1596.6M1608.2 973.7H1612.9M1615.4 973.7H1623.1M1585.5 975.9H1598.5M1598.5 975.9H1606.3M1606.3 975.9H1612.4M1588.4 978.1H1595.6M1605.7 978.1H1608.0M1580.6 980.3H1594.3M1584.2 982.5H1594.2M1594.2 982.5H1605.4M1605.4 982.5H1608.9M1591.0 984.7H1602.0M1599.2 986.9H1609.4M1609.4 986.9H1613.6M1584.2 989.1H1591.6M1596.8 989.1H1607.8M1595.8 991.3H1602.8M1594.7 993.5H1608.4M1615.6 993.5H1619.7M1582.9 995.7H1592.5M1592.5 995.7H1603.3M1578.0 997.9H1587.3M1587.3 997.9H1598.4M1598.4 997.9H1612.2M1572.0 1000.1H1583.3M1589.7 1000.1H1595.4M1595.4 1000.1H1607.4M1572.0 1002.3H1583.8M1583.8 1002.3H1595.2M1593.9 1004.5H1603.0M1603.0 1004.5H1613.2M1578.5 1006.7H1591.5M1591.5 1006.7H1598.0M1598.0 1006.7H1603.1M1603.1 1006.7H1611.3M1579.4 1008.9H1590.1M1590.1 1008.9H1595.6M1595.6 1008.9H1607.6M1616.9 1008.9H1620.1M1585.3 1011.1H1598.7M1621.1 1011.1H1624.6M1594.6 1013.3H1606.1M1606.1 1013.3H1611.2M1582.0 1015.5H1590.6M1590.6 1015.5H1605.5M1572.0 1019.9H1580.4M1586.3 1019.9H1595.9M1595.9 1019.9H1608.4M1584.5 1022.1H1594.2M1572.0 1024.3H1586.7M1586.7 1024.3H1601.5M1601.5 1024.3H1608.7M1585.6 1026.5H1594.6M1577.9 1028.7H1591.4M1596.8 1028.7H1606.8M1572.0 1030.9H1586.3M1579.3 1033.1H1590.9M1601.3 1033.1H1611.4M1572.0 1035.3H1584.9M1584.9 1035.3H1590.0M1590.0 1035.3H1600.3M1600.3 1035.3H1610.0M1594.2 1037.5H1608.8M1572.0 1039.7H1582.5M1582.5 1039.7H1590.9M1590.9 1039.7H1600.1M1600.1 1039.7H1613.4M1582.7 1041.9H1588.0M1588.0 1041.9H1599.4M1599.4 1041.9H1610.7M1620.9 1041.9H1629.0M1572.0 1044.1H1583.7M1583.7 1044.1H1595.0M1595.0 1044.1H1603.7M1603.7 1044.1H1611.9M1572.0 1046.3H1578.0M1578.0 1046.3H1583.9M1583.9 1046.3H1593.2M1593.2 1046.3H1602.1M1582.7 1048.5H1588.1M1588.1 1048.5H1594.8M1594.8 1048.5H1607.0M1619.6 1048.5H1627.5M1586.9 1050.7H1601.5M1601.5 1050.7H1607.8M1572.0 1052.9H1580.8M1583.5 1055.1H1590.0M1590.0 1055.1H1603.9M1572.0 1057.3H1580.7M1580.7 1057.3H1595.4M1595.4 1057.3H1604.3M1572.0 1059.5H1585.4M1585.4 1059.5H1600.3M1572.0 1061.7H1584.9M1609.5 1061.7H1612.9M1585.0 1063.9H1596.7M1572.0 1068.3H1579.1M1579.1 1068.3H1594.1M1594.1 1068.3H1607.0M1580.4 1070.5H1589.3M1589.3 1070.5H1596.9M1572.0 1072.7H1586.4M1572.0 1074.9H1583.1M1583.1 1074.9H1588.6M1588.6 1074.9H1597.5M1597.5 1074.9H1605.8M1572.0 1077.1H1579.4M1579.4 1077.1H1593.3M1586.9 1079.3H1594.2M1594.2 1079.3H1607.2M1572.0 1081.5H1585.6M1607.9 1081.5H1616.0M1572.0 1083.7H1582.4M1582.4 1083.7H1592.8M1572.0 1085.9H1578.5M1578.5 1085.9H1593.0M1572.0 1088.1H1580.7M1580.7 1088.1H1586.7M1595.4 1088.1H1604.0M1572.0 1092.5H1584.8M1584.8 1092.5H1597.2M1597.2 1092.5H1603.0M1618.2 1092.5H1626.8M1572.0 1094.7H1579.1M1579.1 1094.7H1587.5M1587.5 1094.7H1597.4M1623.5 1094.7H1630.7M1572.0 1096.9H1577.0M1577.0 1096.9H1587.1M1572.0 1099.1H1582.1M1582.1 1099.1H1592.3M1604.0 1099.1H1610.7M1572.0 1101.3H1578.9M1578.9 1101.3H1588.7M1577.3 1103.5H1590.9M1590.9 1103.5H1597.8M1619.4 1103.5H1627.1M1583.7 1105.7H1596.0M1572.0 1107.9H1579.7M1579.7 1107.9H1591.2M1572.0 1112.3H1579.9M1579.9 1112.3H1587.9M1587.9 1112.3H1597.5M1572.0 1116.7H1580.5M1586.7 1116.7H1596.5M1596.5 1116.7H1607.8M1572.0 1118.9H1585.1M1572.0 1121.1H1581.2M1581.2 1121.1H1589.4M1589.4 1121.1H1600.0M1572.0 1123.3H1584.4M1584.4 1123.3H1595.3M1572.0 1125.5H1585.8M1585.8 1125.5H1599.3M1572.0 1127.7H1578.9M1578.9 1127.7H1589.9M1572.0 1129.9H1578.6M1578.6 1129.9H1592.6M1592.6 1129.9H1602.3M1572.1 1132.1H1580.5M1580.5 1132.1H1588.0M1572.8 1136.5H1584.8M1611.3 1136.5H1617.6M1573.2 1138.7H1587.9M1573.6 1140.9H1584.0M1573.9 1143.1H1584.0M1574.3 1145.3H1579.9M1575.1 1149.7H1585.1M1585.1 1149.7H1597.1M1575.4 1151.9H1586.9M1586.9 1151.9H1595.3M1575.8 1154.1H1587.3M1576.2 1156.3H1587.4M1576.9 1160.7H1586.6M1577.3 1162.9H1588.8" stroke="#3a72a5" stroke-width="2.25" fill="none"/>
<path d="M1578.8 819.7H1592.9M1573.4 848.3H1588.0M1572.0 859.3H1582.1M1572.0 868.1H1579.7M1572.0 872.5H1581.2M1581.2 872.5H1594.7M1572.0 874.7H1581.0M1572.0 881.3H1582.8M1582.8 881.3H1590.6M1572.0 883.5H1577.4M1577.4 883.5H1584.1M1572.0 885.7H1584.9M1572.0 890.1H1579.1M1572.0 892.3H1584.4M1572.0 894.5H1577.8M1572.0 898.9H1578.0M1572.0 901.1H1581.2M1572.0 905.5H1583.6M1583.6 905.5H1597.5M1583.4 907.7H1596.2M1572.0 912.1H1584.0M1572.0 918.7H1577.4M1577.4 918.7H1584.5M1572.0 920.9H1578.6M1572.0 923.1H1581.9M1584.3 925.3H1591.1M1572.0 929.7H1586.3M1579.8 936.3H1591.3M1572.0 938.5H1577.0M1589.5 938.5H1599.7M1572.0 940.7H1577.1M1577.1 940.7H1586.9M1572.0 942.9H1581.4M1572.0 949.5H1582.3M1584.4 951.7H1596.1M1572.0 953.9H1586.5M1572.0 956.1H1580.1M1580.1 956.1H1585.6M1572.0 958.3H1585.8M1572.0 960.5H1581.0M1581.0 960.5H1588.1M1572.0 964.9H1578.2M1578.2 964.9H1587.1M1572.0 967.1H1586.9M1590.9 969.3H1601.4M1593.5 971.5H1604.5M1572.0 973.7H1586.6M1572.0 975.9H1585.5M1572.0 978.1H1583.4M1583.4 978.1H1588.4M1595.6 978.1H1605.7M1572.0 980.3H1580.6M1583.8 984.7H1591.0M1577.0 986.9H1586.5M1586.5 986.9H1599.2M1572.0 989.1H1584.2M1584.5 991.3H1595.8M1572.0 993.5H1586.4M1608.4 993.5H1610.0M1572.0 997.9H1578.0M1583.3 1000.1H1589.7M1572.0 1004.5H1581.6M1581.6 1004.5H1593.9M1572.0 1008.9H1579.4M1572.0 1013.3H1580.8M1580.8 1013.3H1594.6M1572.0 1015.5H1582.0M1572.0 1017.7H1583.8M1580.4 1019.9H1586.3M1572.0 1022.1H1584.5M1572.0 1026.5H1585.6M1572.0 1028.7H1577.9M1572.0 1033.1H1579.3M1572.0 1037.5H1582.6M1582.6 1037.5H1594.2M1572.0 1041.9H1582.7M1572.0 1048.5H1582.7M1572.0 1050.7H1586.9M1580.8 1052.9H1590.0M1572.0 1055.1H1583.5M1572.0 1063.9H1585.0M1579.8 1066.1H1592.1M1572.0 1070.5H1580.4M1572.0 1079.3H1586.9M1593.0 1085.9H1601.4M1572.0 1090.3H1585.6M1572.0 1103.5H1577.3M1572.0 1105.7H1583.7M1572.0 1110.1H1584.2M1572.0 1114.5H1586.4M1572.4 1134.3H1579.8" stroke="#357eb0" stroke-width="2.25" fill="none"/>
<path d="M1575.9 835.1H1586.8M1572.0 916.5H1584.0M1572.0 934.1H1578.5M1572.0 945.1H1579.7M1572.0 969.3H1580.9M1572.0 971.5H1582.8M1572.0 982.5H1584.2M1572.0 984.7H1583.8M1572.0 986.9H1577.0M1572.0 991.3H1584.5M1572.0 995.7H1582.9M1572.0 1006.7H1578.5M1572.0 1011.1H1585.3M1583.8 1017.7H1593.0" stroke="#2f89bc" stroke-width="2.25" fill="none"/>
<rect x="1638.1" y="606.5" width="27.0" height="13.0" rx="8.1" ry="5.9" fill="#3a72a5"/>
<rect x="1635.0" y="625.1" width="28.0" height="9.0" rx="8.1" ry="4.0" fill="#3a72a5"/>
<rect x="1598.0" y="693.7" width="17.0" height="6.0" rx="5.1" ry="2.7" fill="#3a72a5"/>
<rect x="1588.6" y="732.5" width="16.0" height="5.0" rx="4.5" ry="2.2" fill="#3a72a5"/>
<rect x="1573.5" y="741.5" width="15.0" height="5.0" rx="4.5" ry="2.2" fill="#3a72a5"/>
<rect x="1593.0" y="763.0" width="22.0" height="8.0" rx="6.6" ry="3.6" fill="#3a72a5"/>
<rect x="1584.0" y="775.8" width="18.0" height="6.0" rx="5.4" ry="2.7" fill="#3a72a5"/>
<rect x="1584.8" y="787.8" width="20.0" height="6.0" rx="5.4" ry="2.7" fill="#3a72a5"/>
<rect x="1581.0" y="797.8" width="22.0" height="8.0" rx="6.6" ry="3.6" fill="#3a72a5"/>
<rect x="1583.0" y="1178.0" width="16.0" height="10.0" rx="4.8" ry="4.5" fill="#3a72a5"/>
<rect x="1586.8" y="1195.1" width="16.0" height="5.0" rx="4.5" ry="2.2" fill="#3a72a5"/>
<rect x="1615.4" y="1223.3" width="19.0" height="5.0" rx="4.5" ry="2.2" fill="#357eb0"/>
<rect x="1594.0" y="1280.5" width="20.0" height="5.0" rx="4.5" ry="2.2" fill="#357eb0"/>
<rect x="1596.0" y="1328.5" width="20.0" height="7.0" rx="6.0" ry="3.1" fill="#357eb0"/>
<rect x="1636.0" y="1478.5" width="38.0" height="9.0" rx="8.1" ry="4.0" fill="#2f89bc"/>
<rect x="1613.5" y="1497.5" width="33.0" height="9.0" rx="8.1" ry="4.0" fill="#2f89bc"/>
<rect x="1583.0" y="930.5" width="30.0" height="9.0" rx="8.1" ry="4.0" fill="#2f89bc"/>
<rect x="1668" y="858" width="15" height="4.5" rx="2" fill="#2a9bcb"/><rect x="1669" y="861.5" width="14" height="5" rx="2" fill="#45d130"/>
</g>
<path d="M1620.6 220V1760M1670.6 220V1760" stroke="#fff" stroke-width="1.3"/>
<text transform="translate(1598.9 221.5) rotate(90)" font-family='"DejaVu Sans","Liberation Sans",sans-serif' font-size="22.5" fill="#fff">5 km</text>
<text transform="translate(1648.9 221.5) rotate(90)" font-family='"DejaVu Sans","Liberation Sans",sans-serif' font-size="22.5" fill="#fff">10 km</text>
<text transform="translate(1698.8 221.5) rotate(90)" font-family='"DejaVu Sans","Liberation Sans",sans-serif' font-size="22.5" fill="#fff">15 km</text>
<rect x="1721" y="1711.6" width="36.5" height="48.9" fill="#3c3f6c"/>
<rect x="1721" y="1639.4" width="36.5" height="72.7" fill="#3d416e"/>
<rect x="1721" y="1567.2" width="36.5" height="72.7" fill="#3d4e7c"/>
<rect x="1721" y="1495.1" width="36.5" height="72.7" fill="#3d598a"/>
<rect x="1721" y="1422.9" width="36.5" height="72.7" fill="#3c6599"/>
<rect x="1721" y="1350.7" width="36.5" height="72.7" fill="#3a72a5"/>
<rect x="1721" y="1302.6" width="36.5" height="48.6" fill="#357eb0"/>
<rect x="1721" y="1254.5" width="36.5" height="48.6" fill="#2f89bc"/>
<rect x="1721" y="1230.4" width="36.5" height="24.6" fill="#2a96c4"/>
<rect x="1721" y="1206.3" width="36.5" height="24.6" fill="#2a9bcb"/>
<rect x="1721" y="1182.3" width="36.5" height="24.6" fill="#28a3d3"/>
<rect x="1721" y="1158.2" width="36.5" height="24.6" fill="#2bb1dc"/>
<rect x="1721" y="1134.2" width="36.5" height="24.6" fill="#55f538"/>
<rect x="1721" y="1110.1" width="36.5" height="24.6" fill="#4be334"/>
<rect x="1721" y="1086" width="36.5" height="24.6" fill="#45d130"/>
<rect x="1721" y="1062" width="36.5" height="24.6" fill="#40c02c"/>
<rect x="1721" y="1037.9" width="36.5" height="24.6" fill="#3aae28"/>
<rect x="1721" y="1013.9" width="36.5" height="24.6" fill="#339d23"/>
<rect x="1721" y="989.8" width="36.5" height="24.6" fill="#2d8b1f"/>
<rect x="1721" y="965.8" width="36.5" height="24.6" fill="#26731a"/>
<rect x="1721" y="941.7" width="36.5" height="24.6" fill="#efef41"/>
<rect x="1721" y="917.6" width="36.5" height="24.6" fill="#e4e53c"/>
<rect x="1721" y="893.6" width="36.5" height="24.6" fill="#d9dc37"/>
<rect x="1721" y="869.5" width="36.5" height="24.6" fill="#cfd433"/>
<rect x="1721" y="845.5" width="36.5" height="24.6" fill="#c4c62d"/>
<rect x="1721" y="821.4" width="36.5" height="24.6" fill="#d1ae24"/>
<rect x="1721" y="797.3" width="36.5" height="24.6" fill="#d8981d"/>
<rect x="1721" y="773.3" width="36.5" height="24.6" fill="#de8318"/>
<rect x="1721" y="749.2" width="36.5" height="24.6" fill="#ec0c32"/>
<rect x="1721" y="725.2" width="36.5" height="24.6" fill="#c8001e"/>
<rect x="1721" y="701.1" width="36.5" height="24.6" fill="#c00018"/>
<rect x="1721" y="677" width="36.5" height="24.6" fill="#b0000c"/>
<rect x="1721" y="653" width="36.5" height="24.6" fill="#9c0000"/>
<rect x="1721" y="628.9" width="36.5" height="24.6" fill="#c2005a"/>
<rect x="1721" y="604.9" width="36.5" height="24.6" fill="#db009b"/>
<rect x="1721" y="580.8" width="36.5" height="24.6" fill="#ec00e6"/>
<rect x="1721" y="556.7" width="36.5" height="24.6" fill="#cf00cc"/>
<rect x="1721" y="532.7" width="36.5" height="24.6" fill="#b400b2"/>
<rect x="1721" y="508.6" width="36.5" height="24.6" fill="#9a0098"/>
<rect x="1721" y="484.6" width="36.5" height="24.6" fill="#ffffff"/>
<rect x="1721" y="460.5" width="36.5" height="24.6" fill="#e0f6ee"/>
<rect x="1721" y="436.4" width="36.5" height="24.6" fill="#c8f1e0"/>
<rect x="1721" y="412.4" width="36.5" height="24.6" fill="#b8edd6"/>
<rect x="1721" y="388.3" width="36.5" height="24.6" fill="#a8e9cb"/>
<rect x="1721" y="340.2" width="36.5" height="48.6" fill="#98e4c3"/>
<rect x="1721" y="220" width="36.5" height="120.7" fill="#88dfbb"/>
<path d="M19.6 62.7V1761" stroke="#000" stroke-width="2.35" fill="none"/>
<path d="M18.4 63.85H1570.05" stroke="#000" stroke-width="2.3" fill="none"/>
<path d="M1569.1 62.7V220" stroke="#000" stroke-width="1.9" fill="none"/>
<path d="M18.4 219.1H1570" stroke="#000" stroke-width="3.9" fill="none"/>
<path d="M1569.6 219V1761" stroke="#000" stroke-width="2.8" fill="none"/>
<path d="M1569 219.9H1759.1" stroke="#000" stroke-width="2.25" fill="none"/>
<path d="M18.4 1760H1759.1" stroke="#000" stroke-width="2.1" fill="none"/>
<path d="M1720.2 219V1761" stroke="#000" stroke-width="1.9" fill="none"/><path d="M1758.1 219V1761" stroke="#000" stroke-width="2.1" fill="none"/>
<text x="1777.8" y="1698.8" font-family='"DejaVu Sans","Liberation Sans",sans-serif' font-size="27.5" fill="#000">−15</text>
<text x="1777.8" y="1618.6" font-family='"DejaVu Sans","Liberation Sans",sans-serif' font-size="27.5" fill="#000">−10</text>
<text x="1777.8" y="1538.5" font-family='"DejaVu Sans","Liberation Sans",sans-serif' font-size="27.5" fill="#000">−5</text>
<text x="1777.8" y="1458.2" font-family='"DejaVu Sans","Liberation Sans",sans-serif' font-size="27.5" fill="#000">0</text>
<text x="1777.8" y="1378" font-family='"DejaVu Sans","Liberation Sans",sans-serif' font-size="27.5" fill="#000">5</text>
<text x="1777.8" y="1297.8" font-family='"DejaVu Sans","Liberation Sans",sans-serif' font-size="27.5" fill="#000">10</text>
<text x="1777.8" y="1217.6" font-family='"DejaVu Sans","Liberation Sans",sans-serif' font-size="27.5" fill="#000">15</text>
<text x="1777.8" y="1137.5" font-family='"DejaVu Sans","Liberation Sans",sans-serif' font-size="27.5" fill="#000">20</text>
<text x="1777.8" y="1057.2" font-family='"DejaVu Sans","Liberation Sans",sans-serif' font-size="27.5" fill="#000">25</text>
<text x="1777.8" y="977" font-family='"DejaVu Sans","Liberation Sans",sans-serif' font-size="27.5" fill="#000">30</text>
<text x="1777.8" y="896.9" font-family='"DejaVu Sans","Liberation Sans",sans-serif' font-size="27.5" fill="#000">35</text>
<text x="1777.8" y="816.6" font-family='"DejaVu Sans","Liberation Sans",sans-serif' font-size="27.5" fill="#000">40</text>
<text x="1777.8" y="736.5" font-family='"DejaVu Sans","Liberation Sans",sans-serif' font-size="27.5" fill="#000">45</text>
<text x="1777.8" y="656.2" font-family='"DejaVu Sans","Liberation Sans",sans-serif' font-size="27.5" fill="#000">50</text>
<text x="1777.8" y="576" font-family='"DejaVu Sans","Liberation Sans",sans-serif' font-size="27.5" fill="#000">55</text>
<text x="1777.8" y="495.9" font-family='"DejaVu Sans","Liberation Sans",sans-serif' font-size="27.5" fill="#000">60</text>
<text x="1777.8" y="415.7" font-family='"DejaVu Sans","Liberation Sans",sans-serif' font-size="27.5" fill="#000">65</text>
<text x="1777.8" y="335.5" font-family='"DejaVu Sans","Liberation Sans",sans-serif' font-size="27.5" fill="#000">70</text>
<text x="1777.8" y="255.3" font-family='"DejaVu Sans","Liberation Sans",sans-serif' font-size="27.5" fill="#000">75</text>
<path d="M1759 1687.5h9M1759 1607.3h9M1759 1527.2h9M1759 1447h9M1759 1366.8h9M1759 1286.5h9M1759 1206.3h9M1759 1126.2h9M1759 1046h9M1759 965.8h9M1759 885.6h9M1759 805.4h9M1759 725.2h9M1759 645h9M1759 564.8h9M1759 484.6h9M1759 404.4h9M1759 324.2h9M1759 244h9" stroke="#000" stroke-width="2.2"/>
<g id="logos">
<path d="M149.4 1814.400A47.600 47.600 0 1 0 147.600 1857.100C141 1856.800 133 1855 127.400 1853.200A29.300 29.300 0 1 1 125.600 1811.800C132 1813.500 141 1815 149.400 1814.400Z" fill="#ffb400"/>
<path d="M98.9 1819.6C104 1815.2 112 1814.2 121 1815.3C131 1816.5 139 1819.2 148 1818.8C156 1818.4 163 1816.5 166.8 1812.8L166.8 1825.4C163 1830.0 156 1832.0 148 1832.4C139 1832.8 131 1830.0 121 1828.8C112 1827.7 104 1828.7 98.9 1833.0Z" fill="#0092d6"/>
<path d="M98.9 1840.0C104 1835.6 112 1834.6 121 1835.7C131 1836.9 139 1839.6 148 1839.2C156 1838.8 163 1836.9 166.8 1833.2L166.8 1845.8C163 1850.4 156 1852.4 148 1852.8C139 1853.2 131 1850.4 121 1849.2C112 1848.1 104 1849.1 98.9 1853.4Z" fill="#0092d6"/>
<g font-family='"Liberation Sans",Arial,sans-serif' fill="#1f1f1f" stroke="#1f1f1f" stroke-width="0.45">
<text x="178" y="1807.8" font-size="29" textLength="112.5" lengthAdjust="spacingAndGlyphs">Servicio</text>
<text x="178.6" y="1833.9" font-size="29" textLength="201.5" lengthAdjust="spacingAndGlyphs">Meteorológico</text>
<text x="178.6" y="1860" font-size="29" textLength="120" lengthAdjust="spacingAndGlyphs">Nacional</text>
<text x="180" y="1880.4" font-size="18.5" textLength="93" lengthAdjust="spacingAndGlyphs" stroke="#1f1f1f" stroke-width="0.35">Argentina</text>
</g>
<g fill="none" stroke="#2a3460" stroke-linecap="round" stroke-linejoin="round" opacity="0.8">
<path d="M532.8 1786.8L532.8 1773.3M534.5 1787.0Q536.1 1784.6 535.5 1781.9T536.5 1776.9M536.1 1787.3L541.3 1774.7M537.6 1788.0Q540.1 1786.3 540.5 1783.5T543.4 1779.1M538.9 1788.8L548.8 1778.5M540.1 1789.8Q543.1 1789.1 544.6 1786.5T549.0 1783.2M541.1 1791.0L554.4 1784.3M541.8 1792.3Q544.9 1792.6 547.2 1790.6T552.7 1788.8M542.2 1793.7L557.3 1791.4M542.3 1795.2Q545.3 1796.4 548.2 1795.2T554.0 1795.2M542.2 1796.7L557.3 1799.0M541.8 1798.1Q544.1 1800.1 547.2 1799.8T552.7 1801.6M523.8 1798.1Q520.7 1797.8 518.4 1799.8T512.9 1801.6M523.4 1796.7L508.3 1799.0M523.3 1795.2Q520.3 1794.0 517.4 1795.2T511.6 1795.2M523.4 1793.7L508.3 1791.4M523.8 1792.3Q521.5 1790.3 518.4 1790.6T512.9 1788.8M524.5 1791.0L511.2 1784.3M525.5 1789.8Q524.0 1787.3 521.0 1786.5T516.6 1783.2M526.7 1788.8L516.8 1778.5M528.0 1788.0Q527.6 1785.1 525.1 1783.5T522.2 1779.1M529.5 1787.3L524.3 1774.7M531.1 1787.0Q531.8 1784.2 530.1 1781.9T529.1 1776.9" stroke-width="0.9"/>
<circle cx="532.8" cy="1795.2" r="7.6" stroke-width="0.7" fill="#e6e6e6"/>
<ellipse cx="528.8" cy="1794.9" rx="2.2" ry="1.1" fill="#2a3460" stroke="none"/>
<ellipse cx="536.8" cy="1794.9" rx="2.2" ry="1.1" fill="#2a3460" stroke="none"/>
<path d="M532.8 1795.7l-1.2 3.4h2.4z" stroke-width="0.6"/>
<ellipse cx="532.8" cy="1840.7" rx="28.1" ry="39.8" fill="#e6e6e6" stroke-width="1.1"/>
<ellipse cx="532.8" cy="1840.7" rx="26.3" ry="38" stroke-width="0.6"/>
<path d="M522.4 1805.8H543.2M516.6 1810.8H549.0M512.4 1816.8H553.2M509.7 1822.5H555.9M508.0 1828.1H557.6M506.9 1834.5H558.7M506.5 1839.4H559.1" stroke-width="0.75" opacity="0.6"/>
<path d="M506.8 1850.8Q520.8 1849 532.8 1845.6Q544.8 1849 558.8 1850.8" stroke-width="0.7"/>
<path d="M509.8 1861.5Q517.8 1858.5 524.8 1853.5M555.8 1861.5Q547.8 1858.5 540.8 1853.5" stroke-width="0.7"/>
<path d="M532.8 1827.4V1872.7" stroke-width="2" stroke-linecap="butt"/>
<path d="M532.3 1828.6c-1.5 1-4 0.8-5.6-0.4c-3-2.5-3.5-6.5-2.4-9.2c-1.2-1.6-0.9-4 0.9-4.9c2.6-1.6 7-2.4 10-1.2c4.6 1.8 7.6 7.5 8.4 13.6c-1.6 1.5-3.6 2.2-5.4 2.1c-1.9 0.5-4 0.5-5.900 0z" fill="#e6e6e6" stroke-width="0.8"/>
<path d="M525.3 1851.5c2-2.2 5.600-3 8.400-2.500c3 0.500 6.500 2.600 8.600 5.200c-1 2.800-4 4.600-7.200 4.800c-3.500 0.600-8-0.600-10.400-2.600c-1-1.600-0.600-3.600 0.600-4.900z" fill="#e6e6e6" stroke-width="0.8"/>
<path d="M526.3 1853.500l5 4.500M528.8 1852.500l5 5M531.3 1852l4.500 4.600M535.8 1856l3-3" stroke-width="0.55"/>
<g stroke-width="0.7"><ellipse cx="509.1" cy="1805.3" rx="2.9" ry="1.25" transform="rotate(-81 509.1 1805.3)"/><ellipse cx="512.1" cy="1807.9" rx="2.9" ry="1.25" transform="rotate(-17 512.1 1807.9)"/><ellipse cx="506.2" cy="1809.1" rx="2.9" ry="1.25" transform="rotate(-88 506.2 1809.1)"/><ellipse cx="509.5" cy="1811.3" rx="2.9" ry="1.25" transform="rotate(-24 509.5 1811.3)"/><ellipse cx="503.6" cy="1813.3" rx="2.9" ry="1.25" transform="rotate(-94 503.6 1813.3)"/><ellipse cx="507.1" cy="1815.2" rx="2.9" ry="1.25" transform="rotate(-30 507.1 1815.2)"/><ellipse cx="501.4" cy="1817.9" rx="2.9" ry="1.25" transform="rotate(-99 501.4 1817.9)"/><ellipse cx="505.1" cy="1819.4" rx="2.9" ry="1.25" transform="rotate(-35 505.1 1819.4)"/><ellipse cx="499.7" cy="1822.7" rx="2.9" ry="1.25" transform="rotate(-105 499.7 1822.7)"/><ellipse cx="503.5" cy="1823.9" rx="2.9" ry="1.25" transform="rotate(-41 503.5 1823.9)"/><ellipse cx="498.4" cy="1827.8" rx="2.9" ry="1.25" transform="rotate(-110 498.4 1827.8)"/><ellipse cx="502.3" cy="1828.7" rx="2.9" ry="1.25" transform="rotate(-46 502.3 1828.7)"/><ellipse cx="497.5" cy="1833.1" rx="2.9" ry="1.25" transform="rotate(-115 497.5 1833.1)"/><ellipse cx="501.4" cy="1833.6" rx="2.9" ry="1.25" transform="rotate(-51 501.4 1833.6)"/><ellipse cx="497.0" cy="1838.4" rx="2.9" ry="1.25" transform="rotate(-120 497.0 1838.4)"/><ellipse cx="501.0" cy="1838.6" rx="2.9" ry="1.25" transform="rotate(-56 501.0 1838.6)"/><ellipse cx="497.1" cy="1843.8" rx="2.9" ry="1.25" transform="rotate(-125 497.1 1843.8)"/><ellipse cx="501.1" cy="1843.6" rx="2.9" ry="1.25" transform="rotate(-61 501.1 1843.6)"/><ellipse cx="497.6" cy="1849.1" rx="2.9" ry="1.25" transform="rotate(-130 497.6 1849.1)"/><ellipse cx="501.5" cy="1848.6" rx="2.9" ry="1.25" transform="rotate(-66 501.5 1848.6)"/><ellipse cx="498.5" cy="1854.4" rx="2.9" ry="1.25" transform="rotate(-135 498.5 1854.4)"/><ellipse cx="502.4" cy="1853.5" rx="2.9" ry="1.25" transform="rotate(-71 502.4 1853.5)"/><ellipse cx="499.9" cy="1859.4" rx="2.9" ry="1.25" transform="rotate(-140 499.9 1859.4)"/><ellipse cx="503.7" cy="1858.2" rx="2.9" ry="1.25" transform="rotate(-76 503.7 1858.2)"/><ellipse cx="501.8" cy="1864.2" rx="2.9" ry="1.25" transform="rotate(-146 501.8 1864.2)"/><ellipse cx="505.4" cy="1862.6" rx="2.9" ry="1.25" transform="rotate(-82 505.4 1862.6)"/><ellipse cx="504.0" cy="1868.8" rx="2.9" ry="1.25" transform="rotate(-151 504.0 1868.8)"/><ellipse cx="507.5" cy="1866.8" rx="2.9" ry="1.25" transform="rotate(-87 507.5 1866.8)"/><ellipse cx="506.6" cy="1872.9" rx="2.9" ry="1.25" transform="rotate(-157 506.6 1872.9)"/><ellipse cx="509.9" cy="1870.6" rx="2.9" ry="1.25" transform="rotate(-93 509.9 1870.6)"/><ellipse cx="509.6" cy="1876.7" rx="2.9" ry="1.25" transform="rotate(-164 509.6 1876.7)"/><ellipse cx="512.6" cy="1874.0" rx="2.9" ry="1.25" transform="rotate(-100 512.6 1874.0)"/><ellipse cx="512.9" cy="1879.9" rx="2.9" ry="1.25" transform="rotate(-171 512.9 1879.9)"/><ellipse cx="515.5" cy="1876.9" rx="2.9" ry="1.25" transform="rotate(-107 515.5 1876.9)"/><ellipse cx="516.4" cy="1882.7" rx="2.9" ry="1.25" transform="rotate(-178 516.4 1882.7)"/><ellipse cx="518.7" cy="1879.4" rx="2.9" ry="1.25" transform="rotate(-114 518.7 1879.4)"/><ellipse cx="520.2" cy="1884.9" rx="2.9" ry="1.25" transform="rotate(-186 520.2 1884.9)"/><ellipse cx="522.0" cy="1881.3" rx="2.9" ry="1.25" transform="rotate(-122 522.0 1881.3)"/><ellipse cx="524.2" cy="1886.5" rx="2.9" ry="1.25" transform="rotate(-194 524.2 1886.5)"/><ellipse cx="525.5" cy="1882.7" rx="2.9" ry="1.25" transform="rotate(-130 525.5 1882.7)"/><ellipse cx="528.4" cy="1887.5" rx="2.9" ry="1.25" transform="rotate(-203 528.4 1887.5)"/><ellipse cx="529.0" cy="1883.6" rx="2.9" ry="1.25" transform="rotate(-139 529.0 1883.6)"/><ellipse cx="553.5" cy="1807.9" rx="2.9" ry="1.25" transform="rotate(-163 553.5 1807.9)"/><ellipse cx="556.5" cy="1805.3" rx="2.9" ry="1.25" transform="rotate(-99 556.5 1805.3)"/><ellipse cx="556.1" cy="1811.3" rx="2.9" ry="1.25" transform="rotate(-156 556.1 1811.3)"/><ellipse cx="559.4" cy="1809.1" rx="2.9" ry="1.25" transform="rotate(-92 559.4 1809.1)"/><ellipse cx="558.5" cy="1815.2" rx="2.9" ry="1.25" transform="rotate(-150 558.5 1815.2)"/><ellipse cx="562.0" cy="1813.3" rx="2.9" ry="1.25" transform="rotate(-86 562.0 1813.3)"/><ellipse cx="560.5" cy="1819.4" rx="2.9" ry="1.25" transform="rotate(-145 560.5 1819.4)"/><ellipse cx="564.2" cy="1817.9" rx="2.9" ry="1.25" transform="rotate(-81 564.2 1817.9)"/><ellipse cx="562.1" cy="1823.9" rx="2.9" ry="1.25" transform="rotate(-139 562.1 1823.9)"/><ellipse cx="565.9" cy="1822.7" rx="2.9" ry="1.25" transform="rotate(-75 565.9 1822.7)"/><ellipse cx="563.3" cy="1828.7" rx="2.9" ry="1.25" transform="rotate(-134 563.3 1828.7)"/><ellipse cx="567.2" cy="1827.8" rx="2.9" ry="1.25" transform="rotate(-70 567.2 1827.8)"/><ellipse cx="564.2" cy="1833.6" rx="2.9" ry="1.25" transform="rotate(-129 564.2 1833.6)"/><ellipse cx="568.1" cy="1833.1" rx="2.9" ry="1.25" transform="rotate(-65 568.1 1833.1)"/><ellipse cx="564.6" cy="1838.6" rx="2.9" ry="1.25" transform="rotate(-124 564.6 1838.6)"/><ellipse cx="568.6" cy="1838.4" rx="2.9" ry="1.25" transform="rotate(-60 568.6 1838.4)"/><ellipse cx="564.5" cy="1843.6" rx="2.9" ry="1.25" transform="rotate(-119 564.5 1843.6)"/><ellipse cx="568.5" cy="1843.8" rx="2.9" ry="1.25" transform="rotate(-55 568.5 1843.8)"/><ellipse cx="564.1" cy="1848.6" rx="2.9" ry="1.25" transform="rotate(-114 564.1 1848.6)"/><ellipse cx="568.0" cy="1849.1" rx="2.9" ry="1.25" transform="rotate(-50 568.0 1849.1)"/><ellipse cx="563.2" cy="1853.5" rx="2.9" ry="1.25" transform="rotate(-109 563.2 1853.5)"/><ellipse cx="567.1" cy="1854.4" rx="2.9" ry="1.25" transform="rotate(-45 567.1 1854.4)"/><ellipse cx="561.9" cy="1858.2" rx="2.9" ry="1.25" transform="rotate(-104 561.9 1858.2)"/><ellipse cx="565.7" cy="1859.4" rx="2.9" ry="1.25" transform="rotate(-40 565.7 1859.4)"/><ellipse cx="560.2" cy="1862.6" rx="2.9" ry="1.25" transform="rotate(-98 560.2 1862.6)"/><ellipse cx="563.8" cy="1864.2" rx="2.9" ry="1.25" transform="rotate(-34 563.8 1864.2)"/><ellipse cx="558.1" cy="1866.8" rx="2.9" ry="1.25" transform="rotate(-93 558.1 1866.8)"/><ellipse cx="561.6" cy="1868.8" rx="2.9" ry="1.25" transform="rotate(-29 561.6 1868.8)"/><ellipse cx="555.7" cy="1870.6" rx="2.9" ry="1.25" transform="rotate(-87 555.7 1870.6)"/><ellipse cx="559.0" cy="1872.9" rx="2.9" ry="1.25" transform="rotate(-23 559.0 1872.9)"/><ellipse cx="553.0" cy="1874.0" rx="2.9" ry="1.25" transform="rotate(-80 553.0 1874.0)"/><ellipse cx="556.0" cy="1876.7" rx="2.9" ry="1.25" transform="rotate(-16 556.0 1876.7)"/><ellipse cx="550.1" cy="1876.9" rx="2.9" ry="1.25" transform="rotate(-73 550.1 1876.9)"/><ellipse cx="552.7" cy="1879.9" rx="2.9" ry="1.25" transform="rotate(-9 552.7 1879.9)"/><ellipse cx="546.9" cy="1879.4" rx="2.9" ry="1.25" transform="rotate(-66 546.9 1879.4)"/><ellipse cx="549.2" cy="1882.7" rx="2.9" ry="1.25" transform="rotate(-2 549.2 1882.7)"/><ellipse cx="543.6" cy="1881.3" rx="2.9" ry="1.25" transform="rotate(-58 543.6 1881.3)"/><ellipse cx="545.4" cy="1884.9" rx="2.9" ry="1.25" transform="rotate(6 545.4 1884.9)"/><ellipse cx="540.1" cy="1882.7" rx="2.9" ry="1.25" transform="rotate(-50 540.1 1882.7)"/><ellipse cx="541.4" cy="1886.5" rx="2.9" ry="1.25" transform="rotate(14 541.4 1886.5)"/><ellipse cx="536.6" cy="1883.6" rx="2.9" ry="1.25" transform="rotate(-41 536.6 1883.6)"/><ellipse cx="537.2" cy="1887.5" rx="2.9" ry="1.25" transform="rotate(23 537.2 1887.5)"/></g>
<rect x="527.8" y="1882.6" width="10" height="6.6" rx="1.5" fill="#2a3460" stroke="none" opacity="0.9"/>
<path d="M530.8 1888.500L522.3 1895.200M534.8 1888.500L543.3 1895.200" stroke-width="3.2" stroke-linecap="butt"/>
<path d="M528.8 1884.600H536.8M528.8 1886.800H536.8" stroke="#e6e6e6" stroke-width="0.6"/>
</g>
<g font-family='"Liberation Serif","DejaVu Serif",serif' fill="#232d52">
<text x="583.2" y="1827.6" font-size="28" font-weight="bold" textLength="132.5" lengthAdjust="spacingAndGlyphs">Ministerio</text>
<text x="583.2" y="1853" font-size="28" font-weight="bold" textLength="133.0" lengthAdjust="spacingAndGlyphs">de Defensa</text>
<text x="583.2" y="1873.5" font-size="16.5" textLength="150.5" lengthAdjust="spacingAndGlyphs" fill="#3a4468">República Argentina</text>
</g>
<g fill="none" stroke="#2a3460" stroke-linecap="round" stroke-linejoin="round" opacity="0.95">
<path d="M893.6 1786.8L893.6 1773.3M895.3 1787.0Q896.9 1784.6 896.3 1781.9T897.3 1776.9M896.9 1787.3L902.1 1774.7M898.4 1788.0Q900.9 1786.3 901.3 1783.5T904.2 1779.1M899.7 1788.8L909.6 1778.5M900.9 1789.8Q903.9 1789.1 905.4 1786.5T909.8 1783.2M901.9 1791.0L915.2 1784.3M902.6 1792.3Q905.7 1792.6 908.0 1790.6T913.5 1788.8M903.0 1793.7L918.1 1791.4M903.1 1795.2Q906.1 1796.4 909.0 1795.2T914.8 1795.2M903.0 1796.7L918.1 1799.0M902.6 1798.1Q904.9 1800.1 908.0 1799.8T913.5 1801.6M884.6 1798.1Q881.5 1797.8 879.2 1799.8T873.7 1801.6M884.2 1796.7L869.1 1799.0M884.1 1795.2Q881.1 1794.0 878.2 1795.2T872.4 1795.2M884.2 1793.7L869.1 1791.4M884.6 1792.3Q882.3 1790.3 879.2 1790.6T873.7 1788.8M885.3 1791.0L872.0 1784.3M886.3 1789.8Q884.8 1787.3 881.8 1786.5T877.4 1783.2M887.5 1788.8L877.6 1778.5M888.8 1788.0Q888.4 1785.1 885.9 1783.5T883.0 1779.1M890.3 1787.3L885.1 1774.7M891.9 1787.0Q892.6 1784.2 890.9 1781.9T889.9 1776.9" stroke-width="0.9"/>
<circle cx="893.6" cy="1795.2" r="7.6" stroke-width="0.7" fill="#e6e6e6"/>
<ellipse cx="889.6" cy="1794.9" rx="2.2" ry="1.1" fill="#2a3460" stroke="none"/>
<ellipse cx="897.6" cy="1794.9" rx="2.2" ry="1.1" fill="#2a3460" stroke="none"/>
<path d="M893.6 1795.7l-1.2 3.4h2.4z" stroke-width="0.6"/>
<ellipse cx="893.6" cy="1840.7" rx="28.1" ry="39.8" fill="#e6e6e6" stroke-width="1.1"/>
<ellipse cx="893.6" cy="1840.7" rx="26.3" ry="38" stroke-width="0.6"/>
<path d="M883.2 1805.8H904.0M877.4 1810.8H909.8M873.2 1816.8H914.0M870.5 1822.5H916.7M868.8 1828.1H918.4M867.7 1834.5H919.5M867.3 1839.4H919.9" stroke-width="0.75" opacity="0.6"/>
<path d="M867.6 1850.8Q881.6 1849 893.6 1845.6Q905.6 1849 919.6 1850.8" stroke-width="0.7"/>
<path d="M870.6 1861.5Q878.6 1858.5 885.6 1853.5M916.6 1861.5Q908.6 1858.5 901.6 1853.5" stroke-width="0.7"/>
<path d="M893.6 1827.4V1872.7" stroke-width="2" stroke-linecap="butt"/>
<path d="M893.1 1828.6c-1.5 1-4 0.8-5.6-0.4c-3-2.5-3.5-6.5-2.4-9.2c-1.2-1.6-0.9-4 0.9-4.9c2.6-1.6 7-2.4 10-1.2c4.6 1.8 7.6 7.5 8.4 13.6c-1.6 1.5-3.6 2.2-5.4 2.1c-1.9 0.5-4 0.5-5.900 0z" fill="#e6e6e6" stroke-width="0.8"/>
<path d="M886.1 1851.5c2-2.2 5.600-3 8.400-2.500c3 0.500 6.500 2.600 8.600 5.200c-1 2.800-4 4.600-7.200 4.800c-3.500 0.600-8-0.600-10.400-2.600c-1-1.600-0.600-3.600 0.600-4.900z" fill="#e6e6e6" stroke-width="0.8"/>
<path d="M887.1 1853.500l5 4.500M889.6 1852.500l5 5M892.1 1852l4.500 4.600M896.6 1856l3-3" stroke-width="0.55"/>
<g stroke-width="0.7"><ellipse cx="869.9" cy="1805.3" rx="2.9" ry="1.25" transform="rotate(-81 869.9 1805.3)"/><ellipse cx="872.9" cy="1807.9" rx="2.9" ry="1.25" transform="rotate(-17 872.9 1807.9)"/><ellipse cx="867.0" cy="1809.1" rx="2.9" ry="1.25" transform="rotate(-88 867.0 1809.1)"/><ellipse cx="870.3" cy="1811.3" rx="2.9" ry="1.25" transform="rotate(-24 870.3 1811.3)"/><ellipse cx="864.4" cy="1813.3" rx="2.9" ry="1.25" transform="rotate(-94 864.4 1813.3)"/><ellipse cx="867.9" cy="1815.2" rx="2.9" ry="1.25" transform="rotate(-30 867.9 1815.2)"/><ellipse cx="862.2" cy="1817.9" rx="2.9" ry="1.25" transform="rotate(-99 862.2 1817.9)"/><ellipse cx="865.9" cy="1819.4" rx="2.9" ry="1.25" transform="rotate(-35 865.9 1819.4)"/><ellipse cx="860.5" cy="1822.7" rx="2.9" ry="1.25" transform="rotate(-105 860.5 1822.7)"/><ellipse cx="864.3" cy="1823.9" rx="2.9" ry="1.25" transform="rotate(-41 864.3 1823.9)"/><ellipse cx="859.2" cy="1827.8" rx="2.9" ry="1.25" transform="rotate(-110 859.2 1827.8)"/><ellipse cx="863.1" cy="1828.7" rx="2.9" ry="1.25" transform="rotate(-46 863.1 1828.7)"/><ellipse cx="858.3" cy="1833.1" rx="2.9" ry="1.25" transform="rotate(-115 858.3 1833.1)"/><ellipse cx="862.2" cy="1833.6" rx="2.9" ry="1.25" transform="rotate(-51 862.2 1833.6)"/><ellipse cx="857.8" cy="1838.4" rx="2.9" ry="1.25" transform="rotate(-120 857.8 1838.4)"/><ellipse cx="861.8" cy="1838.6" rx="2.9" ry="1.25" transform="rotate(-56 861.8 1838.6)"/><ellipse cx="857.9" cy="1843.8" rx="2.9" ry="1.25" transform="rotate(-125 857.9 1843.8)"/><ellipse cx="861.9" cy="1843.6" rx="2.9" ry="1.25" transform="rotate(-61 861.9 1843.6)"/><ellipse cx="858.4" cy="1849.1" rx="2.9" ry="1.25" transform="rotate(-130 858.4 1849.1)"/><ellipse cx="862.3" cy="1848.6" rx="2.9" ry="1.25" transform="rotate(-66 862.3 1848.6)"/><ellipse cx="859.3" cy="1854.4" rx="2.9" ry="1.25" transform="rotate(-135 859.3 1854.4)"/><ellipse cx="863.2" cy="1853.5" rx="2.9" ry="1.25" transform="rotate(-71 863.2 1853.5)"/><ellipse cx="860.7" cy="1859.4" rx="2.9" ry="1.25" transform="rotate(-140 860.7 1859.4)"/><ellipse cx="864.5" cy="1858.2" rx="2.9" ry="1.25" transform="rotate(-76 864.5 1858.2)"/><ellipse cx="862.6" cy="1864.2" rx="2.9" ry="1.25" transform="rotate(-146 862.6 1864.2)"/><ellipse cx="866.2" cy="1862.6" rx="2.9" ry="1.25" transform="rotate(-82 866.2 1862.6)"/><ellipse cx="864.8" cy="1868.8" rx="2.9" ry="1.25" transform="rotate(-151 864.8 1868.8)"/><ellipse cx="868.3" cy="1866.8" rx="2.9" ry="1.25" transform="rotate(-87 868.3 1866.8)"/><ellipse cx="867.4" cy="1872.9" rx="2.9" ry="1.25" transform="rotate(-157 867.4 1872.9)"/><ellipse cx="870.7" cy="1870.6" rx="2.9" ry="1.25" transform="rotate(-93 870.7 1870.6)"/><ellipse cx="870.4" cy="1876.7" rx="2.9" ry="1.25" transform="rotate(-164 870.4 1876.7)"/><ellipse cx="873.4" cy="1874.0" rx="2.9" ry="1.25" transform="rotate(-100 873.4 1874.0)"/><ellipse cx="873.7" cy="1879.9" rx="2.9" ry="1.25" transform="rotate(-171 873.7 1879.9)"/><ellipse cx="876.3" cy="1876.9" rx="2.9" ry="1.25" transform="rotate(-107 876.3 1876.9)"/><ellipse cx="877.2" cy="1882.7" rx="2.9" ry="1.25" transform="rotate(-178 877.2 1882.7)"/><ellipse cx="879.5" cy="1879.4" rx="2.9" ry="1.25" transform="rotate(-114 879.5 1879.4)"/><ellipse cx="881.0" cy="1884.9" rx="2.9" ry="1.25" transform="rotate(-186 881.0 1884.9)"/><ellipse cx="882.8" cy="1881.3" rx="2.9" ry="1.25" transform="rotate(-122 882.8 1881.3)"/><ellipse cx="885.0" cy="1886.5" rx="2.9" ry="1.25" transform="rotate(-194 885.0 1886.5)"/><ellipse cx="886.3" cy="1882.7" rx="2.9" ry="1.25" transform="rotate(-130 886.3 1882.7)"/><ellipse cx="889.2" cy="1887.5" rx="2.9" ry="1.25" transform="rotate(-203 889.2 1887.5)"/><ellipse cx="889.8" cy="1883.6" rx="2.9" ry="1.25" transform="rotate(-139 889.8 1883.6)"/><ellipse cx="914.3" cy="1807.9" rx="2.9" ry="1.25" transform="rotate(-163 914.3 1807.9)"/><ellipse cx="917.3" cy="1805.3" rx="2.9" ry="1.25" transform="rotate(-99 917.3 1805.3)"/><ellipse cx="916.9" cy="1811.3" rx="2.9" ry="1.25" transform="rotate(-156 916.9 1811.3)"/><ellipse cx="920.2" cy="1809.1" rx="2.9" ry="1.25" transform="rotate(-92 920.2 1809.1)"/><ellipse cx="919.3" cy="1815.2" rx="2.9" ry="1.25" transform="rotate(-150 919.3 1815.2)"/><ellipse cx="922.8" cy="1813.3" rx="2.9" ry="1.25" transform="rotate(-86 922.8 1813.3)"/><ellipse cx="921.3" cy="1819.4" rx="2.9" ry="1.25" transform="rotate(-145 921.3 1819.4)"/><ellipse cx="925.0" cy="1817.9" rx="2.9" ry="1.25" transform="rotate(-81 925.0 1817.9)"/><ellipse cx="922.9" cy="1823.9" rx="2.9" ry="1.25" transform="rotate(-139 922.9 1823.9)"/><ellipse cx="926.7" cy="1822.7" rx="2.9" ry="1.25" transform="rotate(-75 926.7 1822.7)"/><ellipse cx="924.1" cy="1828.7" rx="2.9" ry="1.25" transform="rotate(-134 924.1 1828.7)"/><ellipse cx="928.0" cy="1827.8" rx="2.9" ry="1.25" transform="rotate(-70 928.0 1827.8)"/><ellipse cx="925.0" cy="1833.6" rx="2.9" ry="1.25" transform="rotate(-129 925.0 1833.6)"/><ellipse cx="928.9" cy="1833.1" rx="2.9" ry="1.25" transform="rotate(-65 928.9 1833.1)"/><ellipse cx="925.4" cy="1838.6" rx="2.9" ry="1.25" transform="rotate(-124 925.4 1838.6)"/><ellipse cx="929.4" cy="1838.4" rx="2.9" ry="1.25" transform="rotate(-60 929.4 1838.4)"/><ellipse cx="925.3" cy="1843.6" rx="2.9" ry="1.25" transform="rotate(-119 925.3 1843.6)"/><ellipse cx="929.3" cy="1843.8" rx="2.9" ry="1.25" transform="rotate(-55 929.3 1843.8)"/><ellipse cx="924.9" cy="1848.6" rx="2.9" ry="1.25" transform="rotate(-114 924.9 1848.6)"/><ellipse cx="928.8" cy="1849.1" rx="2.9" ry="1.25" transform="rotate(-50 928.8 1849.1)"/><ellipse cx="924.0" cy="1853.5" rx="2.9" ry="1.25" transform="rotate(-109 924.0 1853.5)"/><ellipse cx="927.9" cy="1854.4" rx="2.9" ry="1.25" transform="rotate(-45 927.9 1854.4)"/><ellipse cx="922.7" cy="1858.2" rx="2.9" ry="1.25" transform="rotate(-104 922.7 1858.2)"/><ellipse cx="926.5" cy="1859.4" rx="2.9" ry="1.25" transform="rotate(-40 926.5 1859.4)"/><ellipse cx="921.0" cy="1862.6" rx="2.9" ry="1.25" transform="rotate(-98 921.0 1862.6)"/><ellipse cx="924.6" cy="1864.2" rx="2.9" ry="1.25" transform="rotate(-34 924.6 1864.2)"/><ellipse cx="918.9" cy="1866.8" rx="2.9" ry="1.25" transform="rotate(-93 918.9 1866.8)"/><ellipse cx="922.4" cy="1868.8" rx="2.9" ry="1.25" transform="rotate(-29 922.4 1868.8)"/><ellipse cx="916.5" cy="1870.6" rx="2.9" ry="1.25" transform="rotate(-87 916.5 1870.6)"/><ellipse cx="919.8" cy="1872.9" rx="2.9" ry="1.25" transform="rotate(-23 919.8 1872.9)"/><ellipse cx="913.8" cy="1874.0" rx="2.9" ry="1.25" transform="rotate(-80 913.8 1874.0)"/><ellipse cx="916.8" cy="1876.7" rx="2.9" ry="1.25" transform="rotate(-16 916.8 1876.7)"/><ellipse cx="910.9" cy="1876.9" rx="2.9" ry="1.25" transform="rotate(-73 910.9 1876.9)"/><ellipse cx="913.5" cy="1879.9" rx="2.9" ry="1.25" transform="rotate(-9 913.5 1879.9)"/><ellipse cx="907.7" cy="1879.4" rx="2.9" ry="1.25" transform="rotate(-66 907.7 1879.4)"/><ellipse cx="910.0" cy="1882.7" rx="2.9" ry="1.25" transform="rotate(-2 910.0 1882.7)"/><ellipse cx="904.4" cy="1881.3" rx="2.9" ry="1.25" transform="rotate(-58 904.4 1881.3)"/><ellipse cx="906.2" cy="1884.9" rx="2.9" ry="1.25" transform="rotate(6 906.2 1884.9)"/><ellipse cx="900.9" cy="1882.7" rx="2.9" ry="1.25" transform="rotate(-50 900.9 1882.7)"/><ellipse cx="902.2" cy="1886.5" rx="2.9" ry="1.25" transform="rotate(14 902.2 1886.5)"/><ellipse cx="897.4" cy="1883.6" rx="2.9" ry="1.25" transform="rotate(-41 897.4 1883.6)"/><ellipse cx="898.0" cy="1887.5" rx="2.9" ry="1.25" transform="rotate(23 898.0 1887.5)"/></g>
<rect x="888.6" y="1882.6" width="10" height="6.6" rx="1.5" fill="#2a3460" stroke="none" opacity="0.9"/>
<path d="M891.6 1888.500L883.1 1895.200M895.6 1888.500L904.1 1895.200" stroke-width="3.2" stroke-linecap="butt"/>
<path d="M889.6 1884.600H897.6M889.6 1886.800H897.6" stroke="#e6e6e6" stroke-width="0.6"/>
</g>
<g font-family='"Liberation Serif","DejaVu Serif",serif' fill="#232d52">
<text x="946.5" y="1827.6" font-size="28" font-weight="bold" textLength="135.0" lengthAdjust="spacingAndGlyphs">Ministerio</text>
<text x="946.5" y="1853" font-size="28" font-weight="bold" textLength="162.0" lengthAdjust="spacingAndGlyphs">de Economía</text>
<text x="946.5" y="1873.5" font-size="16.5" textLength="153.0" lengthAdjust="spacingAndGlyphs" fill="#3a4468">República Argentina</text>
</g>
</g>
</svg></body></html>
